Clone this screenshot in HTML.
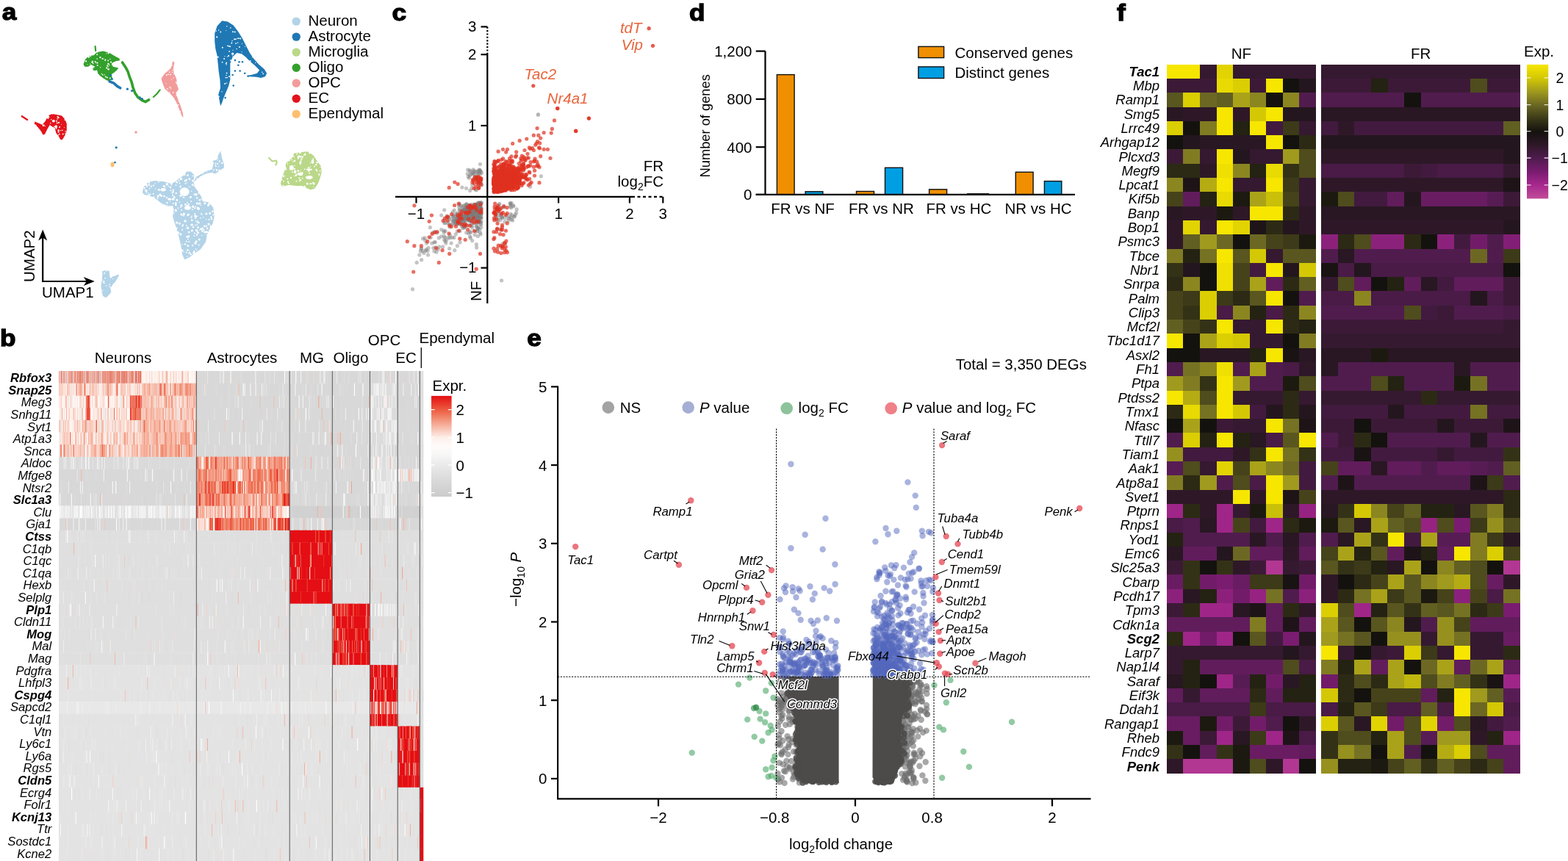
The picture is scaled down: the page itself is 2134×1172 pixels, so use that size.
<!DOCTYPE html>
<html><head><meta charset="utf-8"><title>Figure</title>
<style>html,body{margin:0;padding:0;background:#fff;overflow:hidden;}svg{display:block;font-family:"Liberation Sans",Arial,Helvetica,sans-serif;}</style>
</head><body>
<svg width="2134" height="1172" viewBox="0 0 2134 1172">
<rect width="2134" height="1172" fill="#fff"/>
<g id="pa">
<text transform="translate(2.8,26.8) scale(1.1,1)" font-size="32" font-weight="bold" stroke="#000" stroke-width="1.3">a</text>
<polygon points="193.8,261.8 196,253.8 201.8,248 210.5,245.9 223.5,247.3 233.7,250.2 239.5,246.6 243.8,243 251.1,237.9 254,233.5 259.8,233.5 264.1,237.9 263.4,248 265.6,255.3 269.9,261.1 274.3,268.3 275.7,274.1 284.5,275.6 290.3,282.8 291.7,294.5 289.5,304.6 284.5,313.3 281.6,320.6 280.1,329.3 272.8,339.4 264.1,345.2 256.9,351 251.1,353.2 248.2,346.7 246.7,336.5 243.8,323.5 240.9,313.3 238,304.6 235.1,294.5 236.6,285.7 235.1,279.9 227.9,280.7 222.1,278.5 216.3,274.1 209,268.3 201.8,266.2 196,264.7" fill="#b3d3e8"/>
<polygon points="263.4,248 267,240.8 274.3,236.4 281.6,232.8 288.8,230.6 290.3,223.4 289.5,219 294.6,217.6 297.5,210.3 300.4,205.2 301.9,214.7 304.8,223.4 304.8,228.4 299,232.1 293.2,236.4 287.4,235 280.1,236.4 272.8,240.1 267,245.1" fill="#b3d3e8"/>
<g fill="#fff"><circle cx="254.8" cy="322.3" r="1.5"/><circle cx="257.3" cy="341.3" r="0.8"/><circle cx="239.7" cy="263" r="1.2"/><circle cx="215" cy="267" r="1.6"/><circle cx="254.2" cy="248.7" r="0.7"/><circle cx="287.9" cy="298.1" r="1.4"/><circle cx="229.2" cy="253.4" r="0.8"/><circle cx="260.2" cy="274" r="1"/><circle cx="273.9" cy="291.1" r="1"/><circle cx="270.9" cy="277.3" r="1.3"/><circle cx="227.5" cy="276" r="1.2"/><circle cx="267.1" cy="328.9" r="1.6"/><circle cx="253.6" cy="343.4" r="1"/><circle cx="284.3" cy="298.8" r="1"/><circle cx="224.8" cy="254.8" r="0.8"/><circle cx="246" cy="282.1" r="0.9"/><circle cx="251.9" cy="332.4" r="1.2"/><circle cx="286.8" cy="309" r="1.5"/><circle cx="289.4" cy="287.8" r="1.2"/><circle cx="265.2" cy="290.9" r="1"/><circle cx="233.3" cy="251.1" r="1.1"/><circle cx="255.2" cy="293.3" r="1"/><circle cx="202.5" cy="266.1" r="1.5"/><circle cx="278.7" cy="276.8" r="1.5"/><circle cx="269.7" cy="316.7" r="1.4"/><circle cx="268.2" cy="277" r="1.4"/><circle cx="269.2" cy="316.2" r="1"/><circle cx="247.3" cy="263.5" r="1.4"/><circle cx="257.2" cy="329" r="1"/><circle cx="256.9" cy="321.8" r="1.5"/><circle cx="279" cy="315.9" r="1.7"/><circle cx="287.4" cy="295.5" r="1.2"/><circle cx="285.6" cy="290.6" r="1.4"/><circle cx="264.3" cy="320.9" r="0.9"/><circle cx="270.2" cy="303" r="1.4"/><circle cx="269.6" cy="309.7" r="1.4"/><circle cx="255.6" cy="238.5" r="1.2"/><circle cx="211.6" cy="256.7" r="0.7"/><circle cx="239.3" cy="279" r="1.3"/><circle cx="251.6" cy="262" r="1.6"/><circle cx="253.9" cy="244.9" r="1.2"/><circle cx="256.7" cy="277.7" r="0.8"/><circle cx="252.1" cy="301" r="1.7"/><circle cx="249.2" cy="307.1" r="0.8"/><circle cx="255.4" cy="340.2" r="1.1"/><circle cx="236.1" cy="260.6" r="1"/><circle cx="252.1" cy="264.6" r="1.7"/><circle cx="242.4" cy="283.3" r="1"/><circle cx="290.2" cy="292.4" r="1"/><circle cx="240.5" cy="248.1" r="1.3"/><circle cx="237.2" cy="268.6" r="1.5"/><circle cx="245.9" cy="266.3" r="1.6"/><circle cx="270.4" cy="262.9" r="1"/><circle cx="240.3" cy="310.7" r="1.3"/><circle cx="268.2" cy="269.5" r="1.2"/><circle cx="226.7" cy="269" r="1.2"/><circle cx="239.3" cy="276.7" r="1.4"/><circle cx="251.6" cy="237.9" r="1"/><circle cx="280.7" cy="298.8" r="0.7"/><circle cx="270" cy="284.7" r="1.3"/><circle cx="263.1" cy="309.2" r="1.2"/><circle cx="283.1" cy="279.7" r="1.1"/><circle cx="261.8" cy="285.3" r="1"/><circle cx="247.6" cy="293.1" r="1"/><circle cx="271.3" cy="312.9" r="0.7"/><circle cx="253.6" cy="283.1" r="0.9"/><circle cx="254.7" cy="238.7" r="0.8"/><circle cx="266.5" cy="338.7" r="0.8"/><circle cx="236.1" cy="271.2" r="1.3"/><circle cx="262.1" cy="251.6" r="1.3"/><circle cx="248.1" cy="307.8" r="1"/><circle cx="247.8" cy="263.9" r="1.5"/><circle cx="244.4" cy="249.5" r="0.9"/><circle cx="257.9" cy="243.7" r="1.4"/><circle cx="202.7" cy="248.5" r="1.3"/><circle cx="240.8" cy="272.2" r="1.5"/><circle cx="199" cy="251.6" r="1.7"/><circle cx="260.5" cy="260.2" r="0.8"/><circle cx="255" cy="275.9" r="0.9"/><circle cx="227.9" cy="279.7" r="0.8"/><circle cx="275.2" cy="311.1" r="1.5"/><circle cx="244.5" cy="304.5" r="1.3"/><circle cx="266.3" cy="280.9" r="0.8"/><circle cx="197" cy="257.7" r="0.7"/><circle cx="280.9" cy="291.1" r="1.5"/><circle cx="280.9" cy="307.7" r="1.1"/><circle cx="208.9" cy="252.6" r="1.1"/><circle cx="208.7" cy="263.9" r="1"/><circle cx="209.6" cy="267.9" r="0.9"/><circle cx="284.3" cy="277.7" r="1.6"/><circle cx="261.1" cy="314.2" r="1.2"/><circle cx="259.3" cy="268.4" r="1.4"/><circle cx="229.5" cy="270.8" r="1.2"/><circle cx="264.1" cy="253.1" r="0.9"/><circle cx="259.6" cy="346.1" r="1.3"/><circle cx="270.1" cy="282.6" r="0.7"/><circle cx="244.6" cy="275.4" r="0.8"/><circle cx="199" cy="262.7" r="0.8"/><circle cx="284" cy="305.1" r="1.6"/><circle cx="246.6" cy="291.8" r="1.3"/><circle cx="264.8" cy="342.8" r="1"/><circle cx="215.7" cy="247.4" r="1"/><circle cx="274" cy="271" r="0.8"/><circle cx="201.8" cy="262.8" r="0.8"/><circle cx="262.4" cy="239.3" r="0.9"/><circle cx="221.8" cy="278.3" r="0.8"/><circle cx="235" cy="271.1" r="1.5"/><circle cx="248.2" cy="340.8" r="1.4"/><circle cx="268.2" cy="302.3" r="1.1"/><circle cx="273.8" cy="312" r="1.7"/><circle cx="265.1" cy="317.4" r="1"/><circle cx="273.3" cy="279.3" r="0.8"/><circle cx="200.2" cy="253.8" r="1"/><circle cx="260" cy="267.7" r="0.8"/><circle cx="268.6" cy="300.2" r="0.7"/><circle cx="286.7" cy="306.8" r="0.9"/><circle cx="235.8" cy="276.9" r="1"/><circle cx="274.8" cy="320.5" r="0.8"/><circle cx="245.7" cy="254" r="1.4"/><circle cx="238.9" cy="285.5" r="1.1"/><circle cx="252.1" cy="245.9" r="1.5"/><circle cx="250.3" cy="291.2" r="1.6"/><circle cx="232.2" cy="259.3" r="1"/><circle cx="254.3" cy="281.5" r="0.8"/><circle cx="275.2" cy="292.2" r="0.7"/><circle cx="264.1" cy="341.3" r="0.9"/><circle cx="271.8" cy="272.3" r="1.4"/><circle cx="278.3" cy="308.1" r="1.5"/><circle cx="243.9" cy="303.7" r="0.9"/><circle cx="231.9" cy="271.5" r="0.7"/><circle cx="224.3" cy="279.3" r="1.2"/><circle cx="262.7" cy="281.3" r="1.7"/><circle cx="261.6" cy="313.7" r="1.2"/><circle cx="272" cy="276.9" r="1.3"/><circle cx="260.3" cy="296" r="1"/><circle cx="268.2" cy="319" r="1"/><circle cx="267.6" cy="313.7" r="1.7"/><circle cx="281.6" cy="315.8" r="1.5"/><circle cx="266.1" cy="306.6" r="0.9"/><circle cx="247" cy="280.6" r="0.7"/><circle cx="232" cy="254.8" r="1.4"/><circle cx="253.9" cy="279.8" r="0.8"/><circle cx="261.2" cy="299.8" r="1.4"/><circle cx="214.6" cy="270.1" r="1"/><circle cx="254.7" cy="340.9" r="0.9"/><circle cx="255.8" cy="325.3" r="0.9"/><circle cx="265.1" cy="283.4" r="1.1"/><circle cx="223.4" cy="267.1" r="1.3"/><circle cx="248.9" cy="305.7" r="0.9"/><circle cx="257.1" cy="316.1" r="1.4"/><circle cx="257" cy="344.4" r="0.9"/><circle cx="262" cy="334.1" r="1.2"/><circle cx="203.7" cy="256.7" r="0.9"/><circle cx="202.9" cy="251.7" r="1.3"/><circle cx="265.9" cy="331.2" r="1.5"/><circle cx="263.6" cy="344.1" r="1.7"/><circle cx="255" cy="349" r="0.8"/><circle cx="252.3" cy="278.3" r="1.4"/><circle cx="268.2" cy="319.8" r="1"/><circle cx="283.7" cy="279.3" r="1"/><circle cx="242.6" cy="316.9" r="1.5"/><circle cx="250.2" cy="268.9" r="1"/><circle cx="276.8" cy="295.7" r="0.8"/><circle cx="235" cy="262" r="1.4"/><circle cx="201" cy="266" r="0.8"/><circle cx="246.8" cy="279.8" r="1.6"/><circle cx="268.8" cy="276.7" r="0.7"/><circle cx="199" cy="259.7" r="1.7"/><circle cx="237.1" cy="290" r="0.8"/><circle cx="261.1" cy="294.3" r="0.8"/><circle cx="282.1" cy="310.7" r="1.3"/><circle cx="269.1" cy="283" r="1.6"/><circle cx="267.8" cy="340.3" r="0.8"/><circle cx="270.3" cy="284" r="1.7"/><circle cx="235" cy="265.9" r="1.2"/><circle cx="205.9" cy="253.8" r="1.2"/><circle cx="252.4" cy="249.8" r="0.9"/><circle cx="196.8" cy="255.6" r="1.1"/><circle cx="256.8" cy="278.4" r="1.1"/><circle cx="240.6" cy="303.1" r="1.7"/><circle cx="253.6" cy="328.4" r="0.8"/><circle cx="231.5" cy="274.9" r="0.7"/><circle cx="257.9" cy="344.2" r="1.1"/><circle cx="245.7" cy="318.9" r="1.6"/><circle cx="223.3" cy="253.5" r="1.6"/><circle cx="265.9" cy="296.8" r="1.1"/><circle cx="247.8" cy="332.8" r="0.8"/><circle cx="249.2" cy="258.3" r="1.2"/><circle cx="227.3" cy="250.7" r="1.7"/><circle cx="219.6" cy="266.5" r="1.5"/><circle cx="266.4" cy="264.9" r="1.5"/><circle cx="255.1" cy="280" r="1.3"/><circle cx="217.8" cy="265" r="1.6"/><circle cx="211.1" cy="250" r="0.8"/><circle cx="266.2" cy="300.7" r="0.7"/><circle cx="253.6" cy="306.8" r="0.9"/><circle cx="281.1" cy="319.8" r="0.8"/><circle cx="256.8" cy="334.5" r="0.8"/><circle cx="267.7" cy="264.5" r="1"/><circle cx="239.4" cy="252.1" r="0.9"/><circle cx="257.5" cy="254.4" r="0.8"/><circle cx="241.9" cy="315.8" r="1.1"/><circle cx="249.9" cy="342.7" r="0.8"/><circle cx="248.2" cy="312.8" r="1.1"/><circle cx="270.6" cy="333.6" r="1"/><circle cx="204.3" cy="264.5" r="1.1"/><circle cx="255.4" cy="310.2" r="1.7"/><circle cx="255.7" cy="334.6" r="1.3"/><circle cx="264.7" cy="264.7" r="1.1"/><circle cx="243.4" cy="246" r="1.1"/><circle cx="249.1" cy="268.2" r="0.8"/><circle cx="286.4" cy="289.3" r="0.8"/><circle cx="246.4" cy="243.5" r="1.7"/><circle cx="246.9" cy="285.9" r="1"/><circle cx="235.7" cy="258.6" r="1.2"/><circle cx="283.7" cy="279.2" r="1.3"/><circle cx="273.2" cy="296.8" r="0.8"/><circle cx="239.4" cy="286.6" r="1.6"/><circle cx="250" cy="293.4" r="1"/><circle cx="266.7" cy="264.2" r="1.2"/><circle cx="268.1" cy="305.9" r="0.8"/><circle cx="262.2" cy="246.1" r="1.3"/><circle cx="256.4" cy="292" r="1.6"/><circle cx="267.9" cy="320.7" r="0.7"/><circle cx="277.3" cy="312.7" r="1.1"/><circle cx="275.8" cy="314.4" r="1"/><circle cx="265.4" cy="294" r="1.4"/><circle cx="253.9" cy="328.8" r="0.9"/><circle cx="271.2" cy="325.9" r="1.5"/><circle cx="240.6" cy="247.8" r="0.9"/></g>
<g fill="#fff"><circle cx="290.3" cy="221.7" r="1"/><circle cx="276.1" cy="236.7" r="0.8"/><circle cx="281.8" cy="234.6" r="0.6"/><circle cx="295.1" cy="231.9" r="1.1"/><circle cx="298.6" cy="231.7" r="0.6"/><circle cx="293.6" cy="221.9" r="0.7"/><circle cx="296.2" cy="223" r="1"/><circle cx="292.9" cy="224.2" r="0.7"/><circle cx="298.2" cy="220.9" r="0.7"/><circle cx="290.9" cy="230.7" r="0.7"/><circle cx="293.6" cy="222.7" r="0.8"/><circle cx="299.1" cy="219.3" r="1"/><circle cx="297.4" cy="226.7" r="0.8"/><circle cx="290.6" cy="231.6" r="0.8"/><circle cx="300.8" cy="208.1" r="0.6"/><circle cx="298.2" cy="231.7" r="1.1"/><circle cx="268" cy="243.1" r="0.8"/><circle cx="302.3" cy="221.9" r="1.1"/><circle cx="301.9" cy="222.4" r="0.8"/><circle cx="296" cy="214.7" r="0.9"/><circle cx="295.8" cy="216.1" r="0.7"/><circle cx="294.2" cy="230.6" r="0.8"/><circle cx="296.1" cy="217.9" r="0.7"/><circle cx="293.7" cy="226.1" r="1.1"/><circle cx="289.4" cy="234.8" r="0.6"/></g>
<ellipse cx="251.1" cy="261.1" rx="6.5" ry="5.8" fill="#fff"/>
<ellipse cx="222.1" cy="258.2" rx="3.6" ry="2.2" fill="#fff"/>
<ellipse cx="255.4" cy="282.8" rx="4.4" ry="2.9" fill="#fff"/>
<ellipse cx="261.2" cy="306.1" rx="2.2" ry="1.5" fill="#fff"/>
<ellipse cx="230.8" cy="271.2" rx="2.2" ry="1.7" fill="#fff"/>
<ellipse cx="216.3" cy="258.2" rx="1.5" ry="1.5" fill="#fff"/>
<ellipse cx="267" cy="294.5" rx="1.7" ry="1.5" fill="#fff"/>
<ellipse cx="275.7" cy="314.8" rx="1.5" ry="1.2" fill="#fff"/>
<polygon points="138.9,369.3 143,368.3 148.7,368.8 149.2,375.5 150.7,379.1 153.3,376.5 156.9,375.5 161,373.4 162,375 159.9,378.6 156.9,383.7 153.8,386.7 151.7,390.3 149.7,390.8 150.7,393.9 151.2,398 148.7,401.1 145.6,404.2 143.6,404.9 140,403.1 138.9,398.5 137.9,391.9 137.4,389.8 138.4,383.7 138.9,377.5 139.5,372.9" fill="#b3d3e8"/>
<g fill="#fff"><circle cx="142" cy="385.4" r="0.8"/><circle cx="139.7" cy="395.5" r="0.7"/><circle cx="149.1" cy="387.4" r="0.9"/><circle cx="144.8" cy="388.8" r="0.8"/><circle cx="153.5" cy="379.7" r="0.6"/><circle cx="149" cy="390.3" r="0.8"/><circle cx="140.7" cy="384.6" r="0.8"/><circle cx="142.2" cy="372.1" r="1"/><circle cx="144.7" cy="369.5" r="0.6"/><circle cx="141.4" cy="383" r="1"/><circle cx="139.4" cy="381.2" r="0.8"/><circle cx="143" cy="378.6" r="0.9"/></g>
<polygon points="302.2,28.3 309.9,29.4 317.7,34.4 324.3,43.3 329.9,52.2 335.4,63.2 339.9,72.1 345.4,79.9 352.1,87.6 359.8,94.3 363.1,99.8 360.9,104.3 355.4,105.9 348.7,104.8 339.9,104.3 335.4,103.1 342.1,102 349.8,99.8 353.2,95.4 346.5,88.7 339.9,83.2 334.3,77.6 328.8,73.2 322.1,72.1 316.6,77.6 313.3,86.5 313.3,97.6 313.3,108.7 311,117.6 307.7,125.3 304.4,133.1 302.2,139.7 300,144.2 298.8,137.5 297.2,128.6 300,119.8 299.4,108.7 297.7,97.6 296.6,86.5 295.5,75.4 293.3,66.6 292.2,56.6 292.2,45.5 295.5,35.5" fill="#1f78b4"/>
<g fill="#fff"><circle cx="323.6" cy="58.2" r="0.8"/><circle cx="308.6" cy="99.5" r="0.9"/><circle cx="308.3" cy="85.3" r="0.8"/><circle cx="302.6" cy="84.7" r="0.9"/><circle cx="296.8" cy="77.7" r="1"/><circle cx="295.2" cy="50.4" r="1.1"/><circle cx="311.9" cy="62.9" r="1"/><circle cx="309.3" cy="105.6" r="0.8"/><circle cx="315.5" cy="58.3" r="0.7"/><circle cx="302.8" cy="64.8" r="1"/><circle cx="309.9" cy="62.3" r="0.9"/><circle cx="329.4" cy="59.5" r="0.6"/><circle cx="314" cy="82.3" r="1"/><circle cx="313.8" cy="37.9" r="0.8"/><circle cx="325.9" cy="64" r="1"/><circle cx="309.5" cy="77.3" r="0.6"/><circle cx="329.2" cy="70.8" r="0.6"/><circle cx="294.3" cy="42.3" r="0.7"/><circle cx="316.1" cy="55.4" r="0.7"/><circle cx="327.2" cy="52.6" r="1"/><circle cx="298.2" cy="131.5" r="0.8"/><circle cx="295.8" cy="77.6" r="1"/><circle cx="308.8" cy="35.7" r="0.8"/><circle cx="305.1" cy="79.9" r="1"/><circle cx="312" cy="104.3" r="1"/><circle cx="316.9" cy="68.3" r="0.6"/><circle cx="308.2" cy="88.1" r="0.7"/><circle cx="311.1" cy="76.1" r="1.1"/><circle cx="306.1" cy="114" r="1"/><circle cx="343.4" cy="77.9" r="0.6"/><circle cx="307.8" cy="41.4" r="0.5"/><circle cx="316.9" cy="76.1" r="0.7"/><circle cx="347.6" cy="85.4" r="0.6"/><circle cx="307.9" cy="102.4" r="0.7"/><circle cx="313.3" cy="63.3" r="0.9"/><circle cx="340.5" cy="83.1" r="1.1"/><circle cx="358.2" cy="100.3" r="0.9"/><circle cx="305.9" cy="76.6" r="0.6"/><circle cx="315.5" cy="57.8" r="0.5"/><circle cx="302" cy="124.7" r="0.7"/><circle cx="315.1" cy="59" r="0.7"/><circle cx="297.6" cy="41" r="0.8"/><circle cx="300.3" cy="43.5" r="0.9"/><circle cx="317" cy="43.2" r="1"/><circle cx="319.7" cy="43.6" r="1"/><circle cx="307.5" cy="105.7" r="0.9"/><circle cx="308.4" cy="113" r="0.8"/><circle cx="333.4" cy="63.3" r="0.6"/><circle cx="356.7" cy="98.3" r="0.8"/><circle cx="321.1" cy="59.2" r="0.9"/></g>
<ellipse cx="319.9" cy="53.3" rx="2.2" ry="0.9" fill="#fff"/>
<ellipse cx="324.3" cy="52.2" rx="2" ry="0.7" fill="#fff"/>
<ellipse cx="316.6" cy="73.2" rx="1.6" ry="1.6" fill="#fff"/>
<ellipse cx="312.2" cy="69.9" rx="0.9" ry="0.9" fill="#fff"/>
<ellipse cx="307.7" cy="86.5" rx="0.9" ry="0.9" fill="#fff"/>
<ellipse cx="322.1" cy="66.6" rx="0.9" ry="0.7" fill="#fff"/>
<circle cx="319.9" cy="82.1" r="1.3" fill="#1f78b4"/>
<circle cx="324.3" cy="88.7" r="1.3" fill="#1f78b4"/>
<circle cx="326.6" cy="96.5" r="1.3" fill="#1f78b4"/>
<circle cx="319.9" cy="96.5" r="1.3" fill="#1f78b4"/>
<circle cx="316.6" cy="102" r="1.3" fill="#1f78b4"/>
<circle cx="333.2" cy="99.8" r="1.3" fill="#1f78b4"/>
<circle cx="337.6" cy="103.7" r="1.3" fill="#1f78b4"/>
<circle cx="325.5" cy="84.3" r="1.3" fill="#1f78b4"/>
<circle cx="329.9" cy="84.3" r="1.3" fill="#1f78b4"/>
<circle cx="317.7" cy="116.5" r="1.3" fill="#1f78b4"/>
<circle cx="306.6" cy="133.1" r="1.3" fill="#1f78b4"/>
<polygon points="113.5,87.4 116.3,80.4 121,76.1 127.5,75.2 132.2,71 140.7,69.6 149.1,71.9 156.6,76.6 162.3,79.4 163.2,82.2 157.6,83.2 151.9,86 153.8,90.7 161.3,92.6 157.6,97.3 151.9,101 152.9,107.6 149.1,110.4 145.4,109.5 140.7,106.6 136,102.9 133.2,100.1 132.2,95.4 127.5,96.3 125.7,93.5 129.4,90.7 123.8,87.9 120,90.7 115.3,90.7" fill="#33a02c"/>
<g fill="#fff"><circle cx="132.7" cy="71.1" r="0.6"/><circle cx="146.1" cy="89.6" r="1.1"/><circle cx="129.7" cy="83.9" r="1"/><circle cx="147.3" cy="86.9" r="1.1"/><circle cx="130.3" cy="85.5" r="0.6"/><circle cx="147.5" cy="72.4" r="1.1"/><circle cx="120.7" cy="77.3" r="1.2"/><circle cx="138.3" cy="100.4" r="0.7"/><circle cx="125.5" cy="84.6" r="1.2"/><circle cx="157.4" cy="97.4" r="0.7"/><circle cx="149.8" cy="106.5" r="0.9"/><circle cx="120.9" cy="77.8" r="0.9"/><circle cx="132.1" cy="80.1" r="0.8"/><circle cx="147.1" cy="82.5" r="0.9"/><circle cx="139.7" cy="101.8" r="0.9"/><circle cx="145.2" cy="92.6" r="1.1"/><circle cx="143.8" cy="104.5" r="1"/><circle cx="132.2" cy="74.2" r="1"/><circle cx="148.8" cy="88.8" r="0.7"/><circle cx="136.5" cy="78.1" r="1.2"/><circle cx="132.7" cy="88.9" r="1"/><circle cx="127" cy="93.8" r="0.6"/><circle cx="126.5" cy="83.6" r="0.6"/><circle cx="122.6" cy="87.2" r="0.6"/><circle cx="125.9" cy="83.2" r="0.6"/><circle cx="147.3" cy="90.9" r="0.7"/><circle cx="119.1" cy="87.5" r="0.6"/><circle cx="139.5" cy="80" r="1"/><circle cx="136.5" cy="91.7" r="0.7"/><circle cx="151.1" cy="84.6" r="1.1"/><circle cx="148.7" cy="87.1" r="0.5"/><circle cx="126.8" cy="86.6" r="0.8"/><circle cx="147.6" cy="94.2" r="1.2"/><circle cx="152.8" cy="88.4" r="0.8"/><circle cx="143.2" cy="82.1" r="1"/><circle cx="117.1" cy="83.4" r="1.1"/><circle cx="141.2" cy="80" r="0.6"/><circle cx="123.1" cy="76.4" r="0.9"/><circle cx="145.8" cy="105.4" r="1"/><circle cx="149.8" cy="80.5" r="0.8"/><circle cx="132.4" cy="85.6" r="1.1"/><circle cx="144.8" cy="72.9" r="0.6"/><circle cx="142.2" cy="101.8" r="0.7"/><circle cx="125.9" cy="85" r="0.8"/><circle cx="143.7" cy="80.9" r="0.7"/></g>
<path d="M129.6,63 L130.2,69.1" fill="none" stroke="#33a02c" stroke-width="2.2" stroke-linecap="round" stroke-linejoin="round"/>
<path d="M166.5,85 L170.7,91.2 L174,97.3 L176.4,104.8 L179,111.3 L180.9,118.8 L183.7,126.4 L187.6,132.2 L193.3,136.5 L198,138.6 L202.7,135.8" fill="none" stroke="#33a02c" stroke-width="3.6" stroke-linecap="round" stroke-linejoin="round"/>
<path d="M208.8,132 L213,128.2 L217.7,122.4" fill="none" stroke="#33a02c" stroke-width="2.2" stroke-linecap="round" stroke-linejoin="round"/>
<path d="M149.1,110.9 L154.8,113.2 L159.5,117.4 L163.7,119.8" fill="none" stroke="#1f78b4" stroke-width="3.6" stroke-linecap="round" stroke-linejoin="round"/>
<circle cx="173.4" cy="121.2" r="1.6" fill="#1f78b4"/>
<circle cx="179.6" cy="123.5" r="1.6" fill="#1f78b4"/>
<circle cx="190.4" cy="132.9" r="1.6" fill="#1f78b4"/>
<circle cx="193.3" cy="134.6" r="1.6" fill="#1f78b4"/>
<circle cx="150.1" cy="102.4" r="1.6" fill="#1f78b4"/>
<circle cx="152.4" cy="107.6" r="1.6" fill="#1f78b4"/>
<polygon points="235,83.2 237.4,85 236,92.6 236.5,99.1 240.2,107.6 241.2,116 243,121.7 239.3,126.4 242.1,134.8 245.8,144.2 248.7,153.6 249.6,159.7 247.7,158.3 244,148.9 240.2,139.5 236.5,132.9 230.8,126.4 224.2,120.7 222.4,116 220,109.5 219.6,106.6 224.2,100.1 228.9,96.3 232.7,92.6 234.1,87.9" fill="#f29b9b"/>
<g fill="#fff"><circle cx="234.8" cy="95.5" r="0.7"/><circle cx="245.6" cy="151.9" r="0.8"/><circle cx="231.1" cy="126" r="0.8"/><circle cx="234.5" cy="98.3" r="0.7"/><circle cx="229.4" cy="101.4" r="0.8"/><circle cx="236.2" cy="106" r="0.7"/><circle cx="235.7" cy="126.2" r="0.8"/><circle cx="226.9" cy="102.1" r="1"/><circle cx="227.4" cy="120.8" r="0.7"/><circle cx="230.7" cy="98.1" r="0.9"/><circle cx="240.8" cy="113.5" r="1"/><circle cx="243.1" cy="137.9" r="0.7"/><circle cx="234.6" cy="88.9" r="0.6"/><circle cx="232.4" cy="118.6" r="0.6"/><circle cx="242.5" cy="143" r="0.9"/><circle cx="232.5" cy="120.7" r="0.7"/><circle cx="233.5" cy="108.1" r="0.7"/><circle cx="231" cy="118.9" r="0.8"/><circle cx="236.9" cy="100.4" r="0.9"/><circle cx="235.9" cy="125" r="0.6"/><circle cx="240.1" cy="130.3" r="0.7"/><circle cx="239.7" cy="111.9" r="0.9"/><circle cx="232.1" cy="101.5" r="0.9"/><circle cx="228.7" cy="121.2" r="0.6"/><circle cx="225.9" cy="113.6" r="0.6"/></g>
<polygon points="66.1,157.1 71.2,154.9 78,156.2 84,157.5 88.3,162.2 90.8,168.2 90.8,177.5 88.3,184.4 84.8,190.3 82.3,189.9 79.7,185.2 76.3,181 74.6,174.1 71.2,172.4 67.8,169.9 64.4,175.8 61,182.7 58.4,183.5 55.8,178.4 51.6,173.3 45.6,167.3 47.3,165.6 54.1,168.2 57.5,169.9 61.8,164.7 63.5,161.3 67.8,159.6" fill="#e3141c"/>
<g fill="#fff"><circle cx="89.1" cy="178.7" r="0.7"/><circle cx="80" cy="166.9" r="1.1"/><circle cx="79.6" cy="179.8" r="1"/><circle cx="59.6" cy="170.5" r="1.1"/><circle cx="46.4" cy="167" r="1"/><circle cx="68.8" cy="167.7" r="0.8"/><circle cx="78.7" cy="158.4" r="0.6"/><circle cx="81" cy="172.9" r="1"/><circle cx="79.6" cy="160.1" r="1.1"/><circle cx="79.4" cy="183.8" r="0.7"/><circle cx="58.9" cy="170.7" r="1.2"/><circle cx="65.4" cy="161" r="1.1"/><circle cx="69.7" cy="162.7" r="0.7"/><circle cx="87.4" cy="173.6" r="0.5"/><circle cx="73.9" cy="172.4" r="0.8"/><circle cx="85.7" cy="182.6" r="1"/><circle cx="78.1" cy="161.9" r="0.8"/><circle cx="88.6" cy="163.1" r="1.1"/><circle cx="83.3" cy="169.3" r="0.5"/><circle cx="77.7" cy="167.5" r="0.9"/><circle cx="80.9" cy="182.6" r="0.9"/><circle cx="71.5" cy="155" r="0.7"/><circle cx="76.5" cy="174.8" r="1"/><circle cx="84.9" cy="177.4" r="0.8"/><circle cx="82.6" cy="177.7" r="0.7"/><circle cx="77" cy="164.7" r="1"/><circle cx="88.8" cy="181.9" r="0.7"/><circle cx="78.3" cy="159.1" r="0.9"/><circle cx="61.2" cy="171.6" r="0.7"/><circle cx="48.8" cy="170.3" r="0.7"/></g>
<ellipse cx="72.9" cy="164.7" rx="2.1" ry="1.7" fill="#fff"/>
<ellipse cx="76.3" cy="172.4" rx="1.7" ry="2.1" fill="#fff"/>
<ellipse cx="70.3" cy="177.5" rx="1.7" ry="2.1" fill="#fff"/>
<ellipse cx="79.7" cy="177.5" rx="1.3" ry="1.3" fill="#fff"/>
<path d="M29.8,158.3 L37.1,162.9" fill="none" stroke="#e3141c" stroke-width="2.4" stroke-linecap="round" stroke-linejoin="round"/>
<circle cx="158.2" cy="200.8" r="1.6" fill="#1f78b4"/>
<ellipse cx="153.1" cy="224" rx="2.6" ry="3.6" fill="#fdbf6f"/>
<circle cx="156.5" cy="221.1" r="1.4" fill="#1f78b4"/>
<circle cx="185" cy="180" r="1.8" fill="#f29b9b"/>
<polygon points="399.8,208.7 407.6,207.5 414.7,206.4 419.5,206.4 426.7,211.7 431.5,218.9 436.8,226.1 437.7,233.8 435.6,242.8 432.7,250 427.9,257.1 422.5,258.3 417.1,255.9 411.2,252.9 402.8,252.9 393.2,251.8 383.7,254.1 381.9,250 383.7,242.8 386.1,235.6 388.5,229.6 389.1,221.9 395.6,216.5 399.2,212.9" fill="#bad889"/>
<g fill="#fff"><circle cx="391.7" cy="223.6" r="0.7"/><circle cx="385" cy="252.8" r="1"/><circle cx="388.6" cy="228.6" r="1.1"/><circle cx="421.6" cy="250.2" r="0.8"/><circle cx="399.5" cy="212.5" r="0.8"/><circle cx="430.2" cy="224.3" r="1.2"/><circle cx="434.3" cy="238.7" r="0.8"/><circle cx="408.7" cy="223.3" r="1"/><circle cx="420.3" cy="232.8" r="1.3"/><circle cx="410.2" cy="216.4" r="1.2"/><circle cx="397" cy="217.4" r="0.9"/><circle cx="409" cy="208" r="0.9"/><circle cx="435.6" cy="232.8" r="0.9"/><circle cx="407.4" cy="242.6" r="1.1"/><circle cx="404.5" cy="236.5" r="0.8"/><circle cx="420" cy="228.4" r="1.2"/><circle cx="401.3" cy="239.5" r="0.8"/><circle cx="409" cy="231.9" r="0.6"/><circle cx="388.9" cy="230.3" r="1.3"/><circle cx="427.2" cy="250.2" r="1.3"/><circle cx="426.2" cy="216.2" r="0.9"/><circle cx="393.6" cy="218.6" r="1.1"/><circle cx="421.2" cy="208.3" r="1.1"/><circle cx="411.5" cy="235.2" r="1.1"/><circle cx="426.4" cy="249.1" r="1.4"/><circle cx="408.2" cy="207.7" r="1.2"/><circle cx="408.7" cy="245.2" r="1.3"/><circle cx="422.8" cy="242.4" r="0.9"/><circle cx="422.4" cy="239.6" r="0.8"/><circle cx="430.4" cy="230.9" r="1.1"/><circle cx="392.9" cy="249.5" r="1"/><circle cx="423.3" cy="250.1" r="1.1"/><circle cx="414.6" cy="230.4" r="0.8"/><circle cx="426.5" cy="254.2" r="0.6"/><circle cx="401" cy="218.9" r="1.3"/><circle cx="414.4" cy="254.3" r="0.8"/><circle cx="403.1" cy="238.4" r="1.3"/><circle cx="405.8" cy="216" r="0.9"/><circle cx="418.2" cy="250.2" r="1.4"/><circle cx="405.8" cy="232.6" r="1.4"/><circle cx="422.3" cy="227.1" r="0.8"/><circle cx="422.7" cy="221.5" r="0.8"/><circle cx="395.9" cy="242" r="1.2"/><circle cx="434.2" cy="237" r="1"/><circle cx="400.5" cy="214.3" r="0.7"/><circle cx="383.4" cy="244.4" r="1"/><circle cx="427.7" cy="249.8" r="0.6"/><circle cx="399" cy="220.1" r="0.8"/><circle cx="400.9" cy="229.9" r="1.1"/><circle cx="398" cy="234.3" r="0.9"/><circle cx="413.7" cy="211.2" r="0.9"/><circle cx="421.2" cy="235.8" r="0.9"/><circle cx="404.1" cy="209.6" r="1"/><circle cx="427.9" cy="226.5" r="1"/><circle cx="391.3" cy="243.4" r="1"/><circle cx="403.4" cy="246.5" r="0.9"/><circle cx="386.2" cy="239.7" r="1.3"/><circle cx="431.4" cy="232.8" r="1"/><circle cx="414.7" cy="253.9" r="1.2"/><circle cx="436" cy="227.5" r="0.7"/><circle cx="400.9" cy="225.4" r="0.7"/><circle cx="391.2" cy="222" r="0.8"/><circle cx="407.7" cy="246.7" r="0.7"/><circle cx="409.3" cy="213.2" r="1.3"/><circle cx="411.7" cy="213.7" r="1.2"/><circle cx="385.8" cy="246.6" r="0.9"/><circle cx="431.7" cy="221.2" r="1.3"/><circle cx="409.5" cy="218.8" r="1"/><circle cx="405.9" cy="214.4" r="1.1"/><circle cx="411.6" cy="242.7" r="0.9"/></g>
<ellipse cx="396.8" cy="228.5" rx="3" ry="3.6" fill="#fff"/>
<ellipse cx="407" cy="212.9" rx="2.4" ry="1.5" fill="#fff"/>
<ellipse cx="408.8" cy="221.3" rx="1.5" ry="1.8" fill="#fff"/>
<ellipse cx="425.5" cy="220.1" rx="1.8" ry="3" fill="#fff"/>
<ellipse cx="420.7" cy="230.8" rx="4.2" ry="1.2" fill="#fff"/>
<ellipse cx="408.8" cy="236.8" rx="3.6" ry="2.4" fill="#fff"/>
<ellipse cx="420.7" cy="241.6" rx="4.8" ry="2.4" fill="#fff"/>
<ellipse cx="392" cy="247.6" rx="1.2" ry="1.2" fill="#fff"/>
<ellipse cx="415.3" cy="209.9" rx="1.2" ry="1.5" fill="#fff"/>
<ellipse cx="401.6" cy="233.8" rx="1.8" ry="2.4" fill="#fff"/>
<path d="M366.1,215 L370.5,219.5 L375.9,218.6 L376.8,221.6 L375.3,224.6" fill="none" stroke="#bad889" stroke-width="2.2" stroke-linecap="round" stroke-linejoin="round"/>
<circle cx="403.2" cy="29.1" r="5.7" fill="#b3d3e8"/>
<text x="419.5" y="35.2" font-size="20.5">Neuron</text>
<circle cx="403.2" cy="50.1" r="5.7" fill="#1f78b4"/>
<text x="419.5" y="56.2" font-size="20.5">Astrocyte</text>
<circle cx="403.2" cy="71.1" r="5.7" fill="#bad889"/>
<text x="419.5" y="77.2" font-size="20.5">Microglia</text>
<circle cx="403.2" cy="92.2" r="5.7" fill="#33a02c"/>
<text x="419.5" y="98.3" font-size="20.5">Oligo</text>
<circle cx="403.2" cy="113.2" r="5.7" fill="#f29b9b"/>
<text x="419.5" y="119.3" font-size="20.5">OPC</text>
<circle cx="403.2" cy="134.2" r="5.7" fill="#e3141c"/>
<text x="419.5" y="140.3" font-size="20.5">EC</text>
<circle cx="403.2" cy="155.2" r="5.7" fill="#fdbf6f"/>
<text x="419.5" y="161.3" font-size="20.5">Ependymal</text>
<path d="M58.2,384 V322 M57.1,383 H120" stroke="#000" stroke-width="2.2" fill="none"/>
<path d="M58.2,312.5 L52.2,327.5 L58.2,323.5 L64.2,327.5 Z" fill="#000"/>
<path d="M128.8,383 L113.8,377 L117.8,383 L113.8,389 Z" fill="#000"/>
<text x="57" y="405" font-size="20.5">UMAP1</text>
<text x="0" y="0" font-size="20.5" transform="translate(47,384) rotate(-90)">UMAP2</text>
</g>
<g id="pb">
<text transform="translate(0,470.5) scale(1.1,1)" font-size="32" font-weight="bold" stroke="#000" stroke-width="1.3">b</text>
<text x="167.5" y="494" font-size="20.5" text-anchor="middle">Neurons</text>
<text x="329.5" y="494" font-size="20.5" text-anchor="middle">Astrocytes</text>
<text x="424.5" y="494" font-size="20.5" text-anchor="middle">MG</text>
<text x="477.5" y="494" font-size="20.5" text-anchor="middle">Oligo</text>
<text x="523" y="469.5" font-size="20.5" text-anchor="middle">OPC</text>
<text x="552.5" y="494" font-size="20.5" text-anchor="middle">EC</text>
<text x="570.5" y="467" font-size="20.5">Ependymal</text>
<line x1="573.3" y1="473" x2="573.3" y2="501" stroke="#000" stroke-width="1.3"/>
<rect x="80" y="505" width="112.3" height="17.1" fill="#f39a83"/>
<rect x="192.3" y="505" width="75" height="17.1" fill="#fdf0eb"/>
<rect x="267.3" y="505" width="126.9" height="17.1" fill="#d8d8d8"/>
<rect x="394.2" y="505" width="58.1" height="17.1" fill="#d8d8d8"/>
<rect x="452.3" y="505" width="51.1" height="17.1" fill="#d8d8d8"/>
<rect x="503.4" y="505" width="37.8" height="17.1" fill="#d8d8d8"/>
<rect x="541.2" y="505" width="30.1" height="17.1" fill="#d8d8d8"/>
<rect x="571.3" y="505" width="5" height="17.1" fill="#dfdfdf"/>
<rect x="80" y="521.7" width="112.3" height="17.1" fill="#fad4c8"/>
<rect x="192.3" y="521.7" width="75" height="17.1" fill="#f6b19d"/>
<rect x="267.3" y="521.7" width="126.9" height="17.1" fill="#d8d8d8"/>
<rect x="394.2" y="521.7" width="58.1" height="17.1" fill="#d8d8d8"/>
<rect x="452.3" y="521.7" width="51.1" height="17.1" fill="#d8d8d8"/>
<rect x="503.4" y="521.7" width="37.8" height="17.1" fill="#dcdcdc"/>
<rect x="541.2" y="521.7" width="30.1" height="17.1" fill="#d8d8d8"/>
<rect x="571.3" y="521.7" width="5" height="17.1" fill="#dfdfdf"/>
<rect x="80" y="538.3" width="112.3" height="17.1" fill="#fdf0eb"/>
<rect x="192.3" y="538.3" width="75" height="17.1" fill="#f9cdc0"/>
<rect x="267.3" y="538.3" width="126.9" height="17.1" fill="#d8d8d8"/>
<rect x="394.2" y="538.3" width="58.1" height="17.1" fill="#d8d8d8"/>
<rect x="452.3" y="538.3" width="51.1" height="17.1" fill="#d8d8d8"/>
<rect x="503.4" y="538.3" width="37.8" height="17.1" fill="#dcdcdc"/>
<rect x="541.2" y="538.3" width="30.1" height="17.1" fill="#d8d8d8"/>
<rect x="571.3" y="538.3" width="5" height="17.1" fill="#dfdfdf"/>
<rect x="80" y="555" width="112.3" height="17.1" fill="#fce9e2"/>
<rect x="192.3" y="555" width="75" height="17.1" fill="#f8c6b7"/>
<rect x="267.3" y="555" width="126.9" height="17.1" fill="#d8d8d8"/>
<rect x="394.2" y="555" width="58.1" height="17.1" fill="#d8d8d8"/>
<rect x="452.3" y="555" width="51.1" height="17.1" fill="#d8d8d8"/>
<rect x="503.4" y="555" width="37.8" height="17.1" fill="#dcdcdc"/>
<rect x="541.2" y="555" width="30.1" height="17.1" fill="#d8d8d8"/>
<rect x="571.3" y="555" width="5" height="17.1" fill="#dfdfdf"/>
<rect x="80" y="571.7" width="112.3" height="17.1" fill="#fad4c8"/>
<rect x="192.3" y="571.7" width="75" height="17.1" fill="#f7b8a5"/>
<rect x="267.3" y="571.7" width="126.9" height="17.1" fill="#d8d8d8"/>
<rect x="394.2" y="571.7" width="58.1" height="17.1" fill="#d8d8d8"/>
<rect x="452.3" y="571.7" width="51.1" height="17.1" fill="#d8d8d8"/>
<rect x="503.4" y="571.7" width="37.8" height="17.1" fill="#dcdcdc"/>
<rect x="541.2" y="571.7" width="30.1" height="17.1" fill="#d8d8d8"/>
<rect x="571.3" y="571.7" width="5" height="17.1" fill="#dfdfdf"/>
<rect x="80" y="588.4" width="112.3" height="17.1" fill="#fbdbd1"/>
<rect x="192.3" y="588.4" width="75" height="17.1" fill="#f7b8a5"/>
<rect x="267.3" y="588.4" width="126.9" height="17.1" fill="#d8d8d8"/>
<rect x="394.2" y="588.4" width="58.1" height="17.1" fill="#d8d8d8"/>
<rect x="452.3" y="588.4" width="51.1" height="17.1" fill="#d8d8d8"/>
<rect x="503.4" y="588.4" width="37.8" height="17.1" fill="#dcdcdc"/>
<rect x="541.2" y="588.4" width="30.1" height="17.1" fill="#d8d8d8"/>
<rect x="571.3" y="588.4" width="5" height="17.1" fill="#dfdfdf"/>
<rect x="80" y="605" width="112.3" height="17.1" fill="#f8c6b7"/>
<rect x="192.3" y="605" width="75" height="17.1" fill="#f5aa94"/>
<rect x="267.3" y="605" width="126.9" height="17.1" fill="#d8d8d8"/>
<rect x="394.2" y="605" width="58.1" height="17.1" fill="#d8d8d8"/>
<rect x="452.3" y="605" width="51.1" height="17.1" fill="#d8d8d8"/>
<rect x="503.4" y="605" width="37.8" height="17.1" fill="#d8d8d8"/>
<rect x="541.2" y="605" width="30.1" height="17.1" fill="#d8d8d8"/>
<rect x="571.3" y="605" width="5" height="17.1" fill="#dfdfdf"/>
<rect x="80" y="621.7" width="187.3" height="17.1" fill="#dadada"/>
<rect x="267.3" y="621.7" width="126.9" height="17.1" fill="#f4a28b"/>
<rect x="394.2" y="621.7" width="58.1" height="17.1" fill="#d8d8d8"/>
<rect x="452.3" y="621.7" width="51.1" height="17.1" fill="#d8d8d8"/>
<rect x="503.4" y="621.7" width="37.8" height="17.1" fill="#dddddd"/>
<rect x="541.2" y="621.7" width="30.1" height="17.1" fill="#d8d8d8"/>
<rect x="571.3" y="621.7" width="5" height="17.1" fill="#dfdfdf"/>
<rect x="80" y="638.4" width="187.3" height="17.1" fill="#d8d8d8"/>
<rect x="267.3" y="638.4" width="126.9" height="17.1" fill="#f18b72"/>
<rect x="394.2" y="638.4" width="58.1" height="17.1" fill="#d8d8d8"/>
<rect x="452.3" y="638.4" width="51.1" height="17.1" fill="#d8d8d8"/>
<rect x="503.4" y="638.4" width="37.8" height="17.1" fill="#dddddd"/>
<rect x="541.2" y="638.4" width="30.1" height="17.1" fill="#e0e0e0"/>
<rect x="571.3" y="638.4" width="5" height="17.1" fill="#dfdfdf"/>
<rect x="80" y="655" width="187.3" height="17.1" fill="#d8d8d8"/>
<rect x="267.3" y="655" width="126.9" height="17.1" fill="#f18b72"/>
<rect x="394.2" y="655" width="58.1" height="17.1" fill="#d8d8d8"/>
<rect x="452.3" y="655" width="51.1" height="17.1" fill="#d8d8d8"/>
<rect x="503.4" y="655" width="37.8" height="17.1" fill="#dddddd"/>
<rect x="541.2" y="655" width="30.1" height="17.1" fill="#d8d8d8"/>
<rect x="571.3" y="655" width="5" height="17.1" fill="#dfdfdf"/>
<rect x="80" y="671.7" width="187.3" height="17.1" fill="#d8d8d8"/>
<rect x="267.3" y="671.7" width="126.9" height="17.1" fill="#f39a83"/>
<rect x="394.2" y="671.7" width="58.1" height="17.1" fill="#d8d8d8"/>
<rect x="452.3" y="671.7" width="51.1" height="17.1" fill="#d8d8d8"/>
<rect x="503.4" y="671.7" width="37.8" height="17.1" fill="#dddddd"/>
<rect x="541.2" y="671.7" width="30.1" height="17.1" fill="#d8d8d8"/>
<rect x="571.3" y="671.7" width="5" height="17.1" fill="#dfdfdf"/>
<rect x="80" y="688.4" width="187.3" height="17.1" fill="#e0e0e0"/>
<rect x="267.3" y="688.4" width="126.9" height="17.1" fill="#f7bfae"/>
<rect x="394.2" y="688.4" width="58.1" height="17.1" fill="#d1d1d1"/>
<rect x="452.3" y="688.4" width="51.1" height="17.1" fill="#d1d1d1"/>
<rect x="503.4" y="688.4" width="37.8" height="17.1" fill="#dddddd"/>
<rect x="541.2" y="688.4" width="30.1" height="17.1" fill="#d1d1d1"/>
<rect x="571.3" y="688.4" width="5" height="17.1" fill="#dfdfdf"/>
<rect x="80" y="705" width="187.3" height="17.1" fill="#d8d8d8"/>
<rect x="267.3" y="705" width="126.9" height="17.1" fill="#f08369"/>
<rect x="394.2" y="705" width="58.1" height="17.1" fill="#d8d8d8"/>
<rect x="452.3" y="705" width="51.1" height="17.1" fill="#d8d8d8"/>
<rect x="503.4" y="705" width="37.8" height="17.1" fill="#d8d8d8"/>
<rect x="541.2" y="705" width="30.1" height="17.1" fill="#d8d8d8"/>
<rect x="571.3" y="705" width="5" height="17.1" fill="#dfdfdf"/>
<rect x="80" y="721.7" width="187.3" height="17.1" fill="#dfdfdf"/>
<rect x="267.3" y="721.7" width="126.9" height="17.1" fill="#dfdfdf"/>
<rect x="394.2" y="721.7" width="58.1" height="17.1" fill="#e40e14"/>
<rect x="452.3" y="721.7" width="51.1" height="17.1" fill="#dfdfdf"/>
<rect x="503.4" y="721.7" width="37.8" height="17.1" fill="#dfdfdf"/>
<rect x="541.2" y="721.7" width="30.1" height="17.1" fill="#dfdfdf"/>
<rect x="571.3" y="721.7" width="5" height="17.1" fill="#dfdfdf"/>
<rect x="80" y="738.4" width="187.3" height="17.1" fill="#dfdfdf"/>
<rect x="267.3" y="738.4" width="126.9" height="17.1" fill="#dfdfdf"/>
<rect x="394.2" y="738.4" width="58.1" height="17.1" fill="#e40e14"/>
<rect x="452.3" y="738.4" width="51.1" height="17.1" fill="#dfdfdf"/>
<rect x="503.4" y="738.4" width="37.8" height="17.1" fill="#dfdfdf"/>
<rect x="541.2" y="738.4" width="30.1" height="17.1" fill="#dfdfdf"/>
<rect x="571.3" y="738.4" width="5" height="17.1" fill="#dfdfdf"/>
<rect x="80" y="755" width="187.3" height="17.1" fill="#dfdfdf"/>
<rect x="267.3" y="755" width="126.9" height="17.1" fill="#dfdfdf"/>
<rect x="394.2" y="755" width="58.1" height="17.1" fill="#e40e14"/>
<rect x="452.3" y="755" width="51.1" height="17.1" fill="#dfdfdf"/>
<rect x="503.4" y="755" width="37.8" height="17.1" fill="#dfdfdf"/>
<rect x="541.2" y="755" width="30.1" height="17.1" fill="#dfdfdf"/>
<rect x="571.3" y="755" width="5" height="17.1" fill="#dfdfdf"/>
<rect x="80" y="771.7" width="187.3" height="17.1" fill="#dfdfdf"/>
<rect x="267.3" y="771.7" width="126.9" height="17.1" fill="#dfdfdf"/>
<rect x="394.2" y="771.7" width="58.1" height="17.1" fill="#e40e14"/>
<rect x="452.3" y="771.7" width="51.1" height="17.1" fill="#dfdfdf"/>
<rect x="503.4" y="771.7" width="37.8" height="17.1" fill="#dfdfdf"/>
<rect x="541.2" y="771.7" width="30.1" height="17.1" fill="#dfdfdf"/>
<rect x="571.3" y="771.7" width="5" height="17.1" fill="#dfdfdf"/>
<rect x="80" y="788.4" width="187.3" height="17.1" fill="#dfdfdf"/>
<rect x="267.3" y="788.4" width="126.9" height="17.1" fill="#dfdfdf"/>
<rect x="394.2" y="788.4" width="58.1" height="17.1" fill="#e40e14"/>
<rect x="452.3" y="788.4" width="51.1" height="17.1" fill="#dfdfdf"/>
<rect x="503.4" y="788.4" width="37.8" height="17.1" fill="#dfdfdf"/>
<rect x="541.2" y="788.4" width="30.1" height="17.1" fill="#dfdfdf"/>
<rect x="571.3" y="788.4" width="5" height="17.1" fill="#dfdfdf"/>
<rect x="80" y="805.1" width="187.3" height="17.1" fill="#dfdfdf"/>
<rect x="267.3" y="805.1" width="126.9" height="17.1" fill="#dfdfdf"/>
<rect x="394.2" y="805.1" width="58.1" height="17.1" fill="#e40e14"/>
<rect x="452.3" y="805.1" width="51.1" height="17.1" fill="#dfdfdf"/>
<rect x="503.4" y="805.1" width="37.8" height="17.1" fill="#dfdfdf"/>
<rect x="541.2" y="805.1" width="30.1" height="17.1" fill="#dfdfdf"/>
<rect x="571.3" y="805.1" width="5" height="17.1" fill="#dfdfdf"/>
<rect x="80" y="821.7" width="187.3" height="17.1" fill="#dfdfdf"/>
<rect x="267.3" y="821.7" width="126.9" height="17.1" fill="#dfdfdf"/>
<rect x="394.2" y="821.7" width="58.1" height="17.1" fill="#dfdfdf"/>
<rect x="452.3" y="821.7" width="51.1" height="17.1" fill="#e40e14"/>
<rect x="503.4" y="821.7" width="37.8" height="17.1" fill="#dddddd"/>
<rect x="541.2" y="821.7" width="30.1" height="17.1" fill="#dfdfdf"/>
<rect x="571.3" y="821.7" width="5" height="17.1" fill="#dfdfdf"/>
<rect x="80" y="838.4" width="187.3" height="17.1" fill="#dfdfdf"/>
<rect x="267.3" y="838.4" width="126.9" height="17.1" fill="#dfdfdf"/>
<rect x="394.2" y="838.4" width="58.1" height="17.1" fill="#dfdfdf"/>
<rect x="452.3" y="838.4" width="51.1" height="17.1" fill="#e40e14"/>
<rect x="503.4" y="838.4" width="37.8" height="17.1" fill="#dfdfdf"/>
<rect x="541.2" y="838.4" width="30.1" height="17.1" fill="#dfdfdf"/>
<rect x="571.3" y="838.4" width="5" height="17.1" fill="#dfdfdf"/>
<rect x="80" y="855.1" width="187.3" height="17.1" fill="#dfdfdf"/>
<rect x="267.3" y="855.1" width="126.9" height="17.1" fill="#dfdfdf"/>
<rect x="394.2" y="855.1" width="58.1" height="17.1" fill="#dfdfdf"/>
<rect x="452.3" y="855.1" width="51.1" height="17.1" fill="#e40e14"/>
<rect x="503.4" y="855.1" width="37.8" height="17.1" fill="#dfdfdf"/>
<rect x="541.2" y="855.1" width="30.1" height="17.1" fill="#dfdfdf"/>
<rect x="571.3" y="855.1" width="5" height="17.1" fill="#dfdfdf"/>
<rect x="80" y="871.7" width="187.3" height="17.1" fill="#dfdfdf"/>
<rect x="267.3" y="871.7" width="126.9" height="17.1" fill="#dfdfdf"/>
<rect x="394.2" y="871.7" width="58.1" height="17.1" fill="#dfdfdf"/>
<rect x="452.3" y="871.7" width="51.1" height="17.1" fill="#e40e14"/>
<rect x="503.4" y="871.7" width="37.8" height="17.1" fill="#dfdfdf"/>
<rect x="541.2" y="871.7" width="30.1" height="17.1" fill="#dfdfdf"/>
<rect x="571.3" y="871.7" width="5" height="17.1" fill="#dfdfdf"/>
<rect x="80" y="888.4" width="187.3" height="17.1" fill="#dfdfdf"/>
<rect x="267.3" y="888.4" width="126.9" height="17.1" fill="#dfdfdf"/>
<rect x="394.2" y="888.4" width="58.1" height="17.1" fill="#dfdfdf"/>
<rect x="452.3" y="888.4" width="51.1" height="17.1" fill="#e40e14"/>
<rect x="503.4" y="888.4" width="37.8" height="17.1" fill="#dfdfdf"/>
<rect x="541.2" y="888.4" width="30.1" height="17.1" fill="#dfdfdf"/>
<rect x="571.3" y="888.4" width="5" height="17.1" fill="#dfdfdf"/>
<rect x="80" y="905.1" width="187.3" height="17.1" fill="#e3e3e3"/>
<rect x="267.3" y="905.1" width="126.9" height="17.1" fill="#e3e3e3"/>
<rect x="394.2" y="905.1" width="58.1" height="17.1" fill="#e3e3e3"/>
<rect x="452.3" y="905.1" width="51.1" height="17.1" fill="#e3e3e3"/>
<rect x="503.4" y="905.1" width="37.8" height="17.1" fill="#e40e14"/>
<rect x="541.2" y="905.1" width="30.1" height="17.1" fill="#e3e3e3"/>
<rect x="571.3" y="905.1" width="5" height="17.1" fill="#dfdfdf"/>
<rect x="80" y="921.8" width="187.3" height="17.1" fill="#e3e3e3"/>
<rect x="267.3" y="921.8" width="126.9" height="17.1" fill="#e3e3e3"/>
<rect x="394.2" y="921.8" width="58.1" height="17.1" fill="#e3e3e3"/>
<rect x="452.3" y="921.8" width="51.1" height="17.1" fill="#e3e3e3"/>
<rect x="503.4" y="921.8" width="37.8" height="17.1" fill="#e40e14"/>
<rect x="541.2" y="921.8" width="30.1" height="17.1" fill="#e3e3e3"/>
<rect x="571.3" y="921.8" width="5" height="17.1" fill="#dfdfdf"/>
<rect x="80" y="938.4" width="187.3" height="17.1" fill="#e3e3e3"/>
<rect x="267.3" y="938.4" width="126.9" height="17.1" fill="#e3e3e3"/>
<rect x="394.2" y="938.4" width="58.1" height="17.1" fill="#e3e3e3"/>
<rect x="452.3" y="938.4" width="51.1" height="17.1" fill="#e3e3e3"/>
<rect x="503.4" y="938.4" width="37.8" height="17.1" fill="#e40e14"/>
<rect x="541.2" y="938.4" width="30.1" height="17.1" fill="#e3e3e3"/>
<rect x="571.3" y="938.4" width="5" height="17.1" fill="#dfdfdf"/>
<rect x="80" y="955.1" width="187.3" height="17.1" fill="#e8e8e8"/>
<rect x="267.3" y="955.1" width="126.9" height="17.1" fill="#e8e8e8"/>
<rect x="394.2" y="955.1" width="58.1" height="17.1" fill="#e8e8e8"/>
<rect x="452.3" y="955.1" width="51.1" height="17.1" fill="#e8e8e8"/>
<rect x="503.4" y="955.1" width="37.8" height="17.1" fill="#e40e14"/>
<rect x="541.2" y="955.1" width="30.1" height="17.1" fill="#e8e8e8"/>
<rect x="571.3" y="955.1" width="5" height="17.1" fill="#dfdfdf"/>
<rect x="80" y="971.8" width="187.3" height="17.1" fill="#e3e3e3"/>
<rect x="267.3" y="971.8" width="126.9" height="17.1" fill="#e3e3e3"/>
<rect x="394.2" y="971.8" width="58.1" height="17.1" fill="#e3e3e3"/>
<rect x="452.3" y="971.8" width="51.1" height="17.1" fill="#e3e3e3"/>
<rect x="503.4" y="971.8" width="37.8" height="17.1" fill="#e40e14"/>
<rect x="541.2" y="971.8" width="30.1" height="17.1" fill="#e3e3e3"/>
<rect x="571.3" y="971.8" width="5" height="17.1" fill="#dfdfdf"/>
<rect x="80" y="988.4" width="187.3" height="17.1" fill="#e3e3e3"/>
<rect x="267.3" y="988.4" width="126.9" height="17.1" fill="#e3e3e3"/>
<rect x="394.2" y="988.4" width="58.1" height="17.1" fill="#e3e3e3"/>
<rect x="452.3" y="988.4" width="51.1" height="17.1" fill="#e3e3e3"/>
<rect x="503.4" y="988.4" width="37.8" height="17.1" fill="#e3e3e3"/>
<rect x="541.2" y="988.4" width="30.1" height="17.1" fill="#e40e14"/>
<rect x="571.3" y="988.4" width="5" height="17.1" fill="#dfdfdf"/>
<rect x="80" y="1005.1" width="187.3" height="17.1" fill="#e3e3e3"/>
<rect x="267.3" y="1005.1" width="126.9" height="17.1" fill="#e3e3e3"/>
<rect x="394.2" y="1005.1" width="58.1" height="17.1" fill="#e3e3e3"/>
<rect x="452.3" y="1005.1" width="51.1" height="17.1" fill="#e3e3e3"/>
<rect x="503.4" y="1005.1" width="37.8" height="17.1" fill="#e3e3e3"/>
<rect x="541.2" y="1005.1" width="30.1" height="17.1" fill="#e40e14"/>
<rect x="571.3" y="1005.1" width="5" height="17.1" fill="#dfdfdf"/>
<rect x="80" y="1021.8" width="187.3" height="17.1" fill="#e3e3e3"/>
<rect x="267.3" y="1021.8" width="126.9" height="17.1" fill="#e3e3e3"/>
<rect x="394.2" y="1021.8" width="58.1" height="17.1" fill="#e3e3e3"/>
<rect x="452.3" y="1021.8" width="51.1" height="17.1" fill="#e3e3e3"/>
<rect x="503.4" y="1021.8" width="37.8" height="17.1" fill="#e3e3e3"/>
<rect x="541.2" y="1021.8" width="30.1" height="17.1" fill="#e40e14"/>
<rect x="571.3" y="1021.8" width="5" height="17.1" fill="#dfdfdf"/>
<rect x="80" y="1038.4" width="187.3" height="17.1" fill="#e3e3e3"/>
<rect x="267.3" y="1038.4" width="126.9" height="17.1" fill="#e3e3e3"/>
<rect x="394.2" y="1038.4" width="58.1" height="17.1" fill="#e3e3e3"/>
<rect x="452.3" y="1038.4" width="51.1" height="17.1" fill="#e3e3e3"/>
<rect x="503.4" y="1038.4" width="37.8" height="17.1" fill="#e3e3e3"/>
<rect x="541.2" y="1038.4" width="30.1" height="17.1" fill="#e40e14"/>
<rect x="571.3" y="1038.4" width="5" height="17.1" fill="#dfdfdf"/>
<rect x="80" y="1055.1" width="187.3" height="17.1" fill="#e3e3e3"/>
<rect x="267.3" y="1055.1" width="126.9" height="17.1" fill="#e3e3e3"/>
<rect x="394.2" y="1055.1" width="58.1" height="17.1" fill="#e3e3e3"/>
<rect x="452.3" y="1055.1" width="51.1" height="17.1" fill="#e3e3e3"/>
<rect x="503.4" y="1055.1" width="37.8" height="17.1" fill="#e3e3e3"/>
<rect x="541.2" y="1055.1" width="30.1" height="17.1" fill="#e40e14"/>
<rect x="571.3" y="1055.1" width="5" height="17.1" fill="#dfdfdf"/>
<rect x="80" y="1071.8" width="187.3" height="17.1" fill="#e3e3e3"/>
<rect x="267.3" y="1071.8" width="126.9" height="17.1" fill="#e3e3e3"/>
<rect x="394.2" y="1071.8" width="58.1" height="17.1" fill="#e3e3e3"/>
<rect x="452.3" y="1071.8" width="51.1" height="17.1" fill="#e3e3e3"/>
<rect x="503.4" y="1071.8" width="37.8" height="17.1" fill="#e3e3e3"/>
<rect x="541.2" y="1071.8" width="30.1" height="17.1" fill="#e3e3e3"/>
<rect x="571.3" y="1071.8" width="5" height="17.1" fill="#e40e14"/>
<rect x="80" y="1088.5" width="187.3" height="17.1" fill="#e3e3e3"/>
<rect x="267.3" y="1088.5" width="126.9" height="17.1" fill="#e3e3e3"/>
<rect x="394.2" y="1088.5" width="58.1" height="17.1" fill="#e3e3e3"/>
<rect x="452.3" y="1088.5" width="51.1" height="17.1" fill="#e3e3e3"/>
<rect x="503.4" y="1088.5" width="37.8" height="17.1" fill="#e3e3e3"/>
<rect x="541.2" y="1088.5" width="30.1" height="17.1" fill="#e3e3e3"/>
<rect x="571.3" y="1088.5" width="5" height="17.1" fill="#e40e14"/>
<rect x="80" y="1105.1" width="187.3" height="17.1" fill="#e3e3e3"/>
<rect x="267.3" y="1105.1" width="126.9" height="17.1" fill="#e3e3e3"/>
<rect x="394.2" y="1105.1" width="58.1" height="17.1" fill="#e3e3e3"/>
<rect x="452.3" y="1105.1" width="51.1" height="17.1" fill="#e3e3e3"/>
<rect x="503.4" y="1105.1" width="37.8" height="17.1" fill="#e3e3e3"/>
<rect x="541.2" y="1105.1" width="30.1" height="17.1" fill="#e3e3e3"/>
<rect x="571.3" y="1105.1" width="5" height="17.1" fill="#e40e14"/>
<rect x="80" y="1121.8" width="187.3" height="17.1" fill="#e3e3e3"/>
<rect x="267.3" y="1121.8" width="126.9" height="17.1" fill="#e3e3e3"/>
<rect x="394.2" y="1121.8" width="58.1" height="17.1" fill="#e3e3e3"/>
<rect x="452.3" y="1121.8" width="51.1" height="17.1" fill="#e3e3e3"/>
<rect x="503.4" y="1121.8" width="37.8" height="17.1" fill="#e3e3e3"/>
<rect x="541.2" y="1121.8" width="30.1" height="17.1" fill="#e3e3e3"/>
<rect x="571.3" y="1121.8" width="5" height="17.1" fill="#e40e14"/>
<rect x="80" y="1138.5" width="187.3" height="17.1" fill="#e3e3e3"/>
<rect x="267.3" y="1138.5" width="126.9" height="17.1" fill="#e3e3e3"/>
<rect x="394.2" y="1138.5" width="58.1" height="17.1" fill="#e3e3e3"/>
<rect x="452.3" y="1138.5" width="51.1" height="17.1" fill="#e3e3e3"/>
<rect x="503.4" y="1138.5" width="37.8" height="17.1" fill="#e3e3e3"/>
<rect x="541.2" y="1138.5" width="30.1" height="17.1" fill="#e3e3e3"/>
<rect x="571.3" y="1138.5" width="5" height="17.1" fill="#e40e14"/>
<rect x="80" y="1155.1" width="187.3" height="17.1" fill="#e3e3e3"/>
<rect x="267.3" y="1155.1" width="126.9" height="17.1" fill="#e3e3e3"/>
<rect x="394.2" y="1155.1" width="58.1" height="17.1" fill="#e3e3e3"/>
<rect x="452.3" y="1155.1" width="51.1" height="17.1" fill="#e3e3e3"/>
<rect x="503.4" y="1155.1" width="37.8" height="17.1" fill="#e3e3e3"/>
<rect x="541.2" y="1155.1" width="30.1" height="17.1" fill="#e3e3e3"/>
<rect x="571.3" y="1155.1" width="5" height="17.1" fill="#e40e14"/>
<path stroke="#ea9b8b" stroke-width="1" d="M80.5 505v17M133.5 505v17"/>
<path stroke="#ea9b8b" stroke-width="0.7" d="M94.7 505v17M128 505v17M132.6 505v17M160.2 505v17"/>
<path stroke="#ea9b8b" stroke-width="1.3" d="M103.2 505v17M139.2 505v17M141.5 505v17M155.9 505v17"/>
<path stroke="#ea9b8b" stroke-width="1.6" d="M144.6 505v17M154.5 505v17"/>
<path stroke="#ebddde" stroke-width="1.6" d="M81.8 505v17"/>
<path stroke="#ebddde" stroke-width="1.3" d="M85.5 505v17"/>
<path stroke="#ebddde" stroke-width="1" d="M92.9 505v17M171 505v17M186.7 505v17"/>
<path stroke="#e89180" stroke-width="1.6" d="M83.4 505v17M97.2 505v17M143 505v17M148.9 505v17"/>
<path stroke="#e89180" stroke-width="0.7" d="M84.5 505v17M166.5 505v17M190.5 505v17"/>
<path stroke="#e89180" stroke-width="1" d="M86.7 505v17M98.5 505v17M113.1 505v17M131.8 505v17M136.8 505v17M140.4 505v17M167.4 505v17"/>
<path stroke="#e89180" stroke-width="1.3" d="M101.9 505v17M115.2 505v17M151.3 505v17"/>
<path stroke="#ebaea0" stroke-width="1.6" d="M88 505v17"/>
<path stroke="#ebaea0" stroke-width="1.3" d="M95.7 505v17M111.2 505v17M158.2 505v17"/>
<path stroke="#ebaea0" stroke-width="1" d="M107.1 505v17M123.2 505v17"/>
<path stroke="#ebaea0" stroke-width="0.7" d="M145.7 505v17"/>
<path stroke="#f1e4e5" stroke-width="1" d="M89.3 505v17"/>
<path stroke="#f1e4e5" stroke-width="1.3" d="M137.9 505v17"/>
<path stroke="#eba595" stroke-width="1" d="M90.3 505v17M93.9 505v17M147.6 505v17M173.4 505v17"/>
<path stroke="#eba595" stroke-width="0.7" d="M107.9 505v17M124 505v17M153.3 505v17M178.1 505v17M187.5 505v17"/>
<path stroke="#eba595" stroke-width="1.3" d="M121 505v17M177.1 505v17M183.9 505v17"/>
<path stroke="#eba595" stroke-width="1.6" d="M125.9 505v17M129.2 505v17M175.7 505v17"/>
<path stroke="#e3d5d7" stroke-width="1.6" d="M91.6 505v17"/>
<path stroke="#e3d5d7" stroke-width="1" d="M99.5 505v17"/>
<path stroke="#edb6ab" stroke-width="1.3" d="M100.6 505v17"/>
<path stroke="#edb6ab" stroke-width="1" d="M127.2 505v17"/>
<path stroke="#e8dbdc" stroke-width="1" d="M104.4 505v17"/>
<path stroke="#e8dbdc" stroke-width="0.7" d="M124.7 505v17"/>
<path stroke="#e8dbdc" stroke-width="1.6" d="M182.5 505v17"/>
<path stroke="#e67e6b" stroke-width="0.7" d="M105.2 505v17M112.2 505v17M172.5 505v17"/>
<path stroke="#e67e6b" stroke-width="1" d="M152.5 505v17M159.4 505v17M161.1 505v17"/>
<path stroke="#e67e6b" stroke-width="1.3" d="M168.5 505v17"/>
<path stroke="#e67e6b" stroke-width="1.6" d="M180.9 505v17M188.7 505v17"/>
<path stroke="#e78775" stroke-width="1" d="M106.1 505v17M110.1 505v17M134.5 505v17M146.6 505v17M163.4 505v17"/>
<path stroke="#e78775" stroke-width="1.6" d="M118 505v17M119.6 505v17M179.3 505v17"/>
<path stroke="#e78775" stroke-width="1.3" d="M162.2 505v17"/>
<path stroke="#e78775" stroke-width="0.7" d="M189.8 505v17"/>
<path stroke="#e5745f" stroke-width="1.3" d="M108.9 505v17M165.5 505v17M169.8 505v17"/>
<path stroke="#e1d3d4" stroke-width="1" d="M114.1 505v17M122.2 505v17M174.4 505v17"/>
<path stroke="#e1d3d4" stroke-width="1.3" d="M135.6 505v17"/>
<path stroke="#e5d8d9" stroke-width="1.3" d="M116.5 505v17"/>
<path stroke="#ded0d1" stroke-width="1.3" d="M130.6 505v17"/>
<path stroke="#e46a55" stroke-width="1" d="M150.2 505v17"/>
<path stroke="#e46a55" stroke-width="1.6" d="M191.7 505v17"/>
<path stroke="#dfd2d3" stroke-width="1" d="M157.1 505v17"/>
<path stroke="#f2e2e3" stroke-width="1" d="M164.4 505v17"/>
<path stroke="#e2574a" stroke-width="0.7" d="M171.8 505v17"/>
<path stroke="#e2574a" stroke-width="1.6" d="M185.4 505v17"/>
<path stroke="#fce4dc" stroke-width="0.7" d="M192.8 505v17M215.9 505v17M253.7 505v17M88.5 521.7v17M181.3 521.7v17M229.3 521.7v17M340.3 521.7v17M82.3 538.3v17M170.1 538.3v17M112.9 555v17M123.1 555v17M147.9 555v17M238.5 555v17M258.5 555v17M362.7 555v17M88.9 571.7v17M124.9 571.7v17M165.7 571.7v17M180.1 571.7v17M222.9 571.7v17M110.1 588.4v17M149.5 588.4v17M170.8 588.4v17M187.6 588.4v17M110.8 605v17M121.5 605v17M133.6 605v17M168.9 605v17M419.1 621.7v17M546.8 688.4v17M94.1 821.7v17M395.2 855.1v17M403 988.4v17M531.7 1055.1v17M570.2 1138.5v17"/>
<path stroke="#fce4dc" stroke-width="1" d="M199.5 505v17M210.1 505v17M215.1 505v17M83.1 521.7v17M89.4 521.7v17M99.3 521.7v17M100.3 521.7v17M102.3 521.7v17M103.3 521.7v17M118.1 521.7v17M156.9 521.7v17M160.5 521.7v17M165.8 521.7v17M174.8 521.7v17M179.4 521.7v17M185.7 521.7v17M80.5 538.3v17M105.5 538.3v17M139 538.3v17M142.3 538.3v17M217.1 538.3v17M243.5 538.3v17M259.4 538.3v17M81.5 555v17M130 555v17M131.7 555v17M132.7 555v17M150.4 555v17M167.5 555v17M207.9 555v17M232 555v17M237.7 555v17M243.4 555v17M252.4 555v17M120.2 571.7v17M147.7 571.7v17M150.7 571.7v17M183.8 571.7v17M186.1 571.7v17M230 571.7v17M234.2 571.7v17M258.5 571.7v17M81.8 588.4v17M82.8 588.4v17M98.9 588.4v17M117.9 588.4v17M129.1 588.4v17M223.4 588.4v17M261.1 588.4v17M145.7 605v17M164.2 605v17M242.1 605v17M384.9 621.7v17M300 688.4v17M331.7 688.4v17M269.8 705v17M502.4 855.1v17M539.9 955.1v17"/>
<path stroke="#fce4dc" stroke-width="0.5" d="M418.3 505v17M566.7 671.7v17M224.1 738.4v17M316.4 771.7v17M570.1 771.7v17M182 788.4v17M349.9 855.1v17M514.5 855.1v17M562.3 905.1v17M100.8 955.1v17M521.7 1038.4v17M286.9 1088.5v17M353.3 1088.5v17M521.1 1088.5v17"/>
<path stroke="#fce4dc" stroke-width="1.6" d="M86.1 521.7v17M119.4 521.7v17M157.9 538.3v17M221.3 538.3v17M135 555v17M94.2 571.7v17M100.8 571.7v17M166.8 571.7v17M169.7 571.7v17M141.8 588.4v17M241.1 588.4v17M176.7 605v17"/>
<path stroke="#fce4dc" stroke-width="1.3" d="M87.5 521.7v17M138.4 521.7v17M153.4 521.7v17M161.7 521.7v17M183.3 521.7v17M222.7 538.3v17M127.4 555v17M141 555v17M129 571.7v17M96.7 588.4v17M122.3 588.4v17M157.7 588.4v17M188.6 588.4v17"/>
<path stroke="#fce4dc" stroke-width="0.9" d="M278.8 521.7v17M105.2 638.4v17M570.6 671.7v17M422.2 821.7v17M217.2 871.7v17M332.6 871.7v17M233.6 921.8v17M430.3 1005.1v17M192.5 1055.1v17M464.3 1088.5v17M278.9 1105.1v17"/>
<path stroke="#fce4dc" stroke-width="2" d="M363 621.7v17M342.6 638.4v17M291.1 688.4v17M318.9 688.4v17"/>
<path stroke="#fce4dc" stroke-width="1.5" d="M342.1 671.7v17M288.1 688.4v17"/>
<path stroke="#fce4dc" stroke-width="1.2" d="M282.2 688.4v17M271.9 705v17"/>
<path stroke="#fce4dc" stroke-width="0.8" d="M466.3 855.1v17M461.3 888.4v17M510 955.1v17M513.2 955.1v17M543.6 1038.4v17M551.8 1038.4v17"/>
<path stroke="#fce4dc" stroke-width="0.6" d="M481 888.4v17M523.9 955.1v17M536.5 955.1v17M536.1 971.8v17"/>
<path stroke="#fdf3ef" stroke-width="1.6" d="M194 505v17M230.7 505v17M90.7 521.7v17M137 521.7v17M152.4 538.3v17M91.7 555v17M139.6 555v17M149.1 555v17M159.3 571.7v17M259.8 588.4v17M147.7 605v17"/>
<path stroke="#fdf3ef" stroke-width="1" d="M195.3 505v17M204.5 505v17M246.9 505v17M257.2 505v17M182.1 521.7v17M191.4 521.7v17M85.8 538.3v17M86.8 538.3v17M100.9 538.3v17M103.5 538.3v17M151.1 538.3v17M173.7 538.3v17M95.3 555v17M103.3 555v17M124 555v17M154.5 555v17M164.5 555v17M174.5 555v17M241.1 555v17M90.5 571.7v17M89.4 588.4v17M105.4 588.4v17M113.3 588.4v17M305.9 638.4v17M385.6 688.4v17M386.6 688.4v17M387.6 688.4v17M270.8 705v17M459.4 855.1v17M563.1 1038.4v17"/>
<path stroke="#fdf3ef" stroke-width="1.3" d="M200.6 505v17M207.9 505v17M259.6 505v17M116.9 521.7v17M120.8 521.7v17M155.8 521.7v17M84.7 538.3v17M126.1 555v17M176.3 555v17M223.5 555v17M98.7 571.7v17M94.4 588.4v17"/>
<path stroke="#fdf3ef" stroke-width="0.7" d="M201.6 505v17M249.3 505v17M313.5 505v17M563.2 505v17M162.7 521.7v17M130 538.3v17M136.4 538.3v17M106.5 571.7v17M279.3 605v17M569.4 821.7v17M439 838.4v17M548.6 838.4v17M555.3 871.7v17M517.2 888.4v17M416.7 1038.4v17M410.8 1071.8v17M322.5 1105.1v17M491.5 1121.8v17"/>
<path stroke="#fdf3ef" stroke-width="0.9" d="M458.5 505v17M367.8 771.7v17M281.4 821.7v17M124 855.1v17M567.9 871.7v17M534.4 888.4v17M561.5 938.4v17M443.5 955.1v17"/>
<path stroke="#fdf3ef" stroke-width="0.5" d="M383.9 538.3v17M331.5 821.7v17M410.4 821.7v17M338.7 871.7v17M125.4 1005.1v17M421.4 1071.8v17M179.1 1088.5v17M479.1 1155.1v17"/>
<path stroke="#fdf3ef" stroke-width="1.5" d="M346.4 621.7v17M359.2 655v17M351.2 671.7v17"/>
<path stroke="#fdf3ef" stroke-width="1.2" d="M389.5 621.7v17M381.9 655v17M328.2 688.4v17M393.4 688.4v17M548 1021.8v17"/>
<path stroke="#fdf3ef" stroke-width="0.8" d="M326.8 671.7v17M329.2 688.4v17M369 688.4v17M510.6 971.8v17"/>
<path stroke="#fdf3ef" stroke-width="2" d="M364.4 671.7v17M276.6 705v17M368.2 705v17M376.7 705v17"/>
<path stroke="#fdf3ef" stroke-width="0.6" d="M438.1 738.4v17M499 838.4v17M564.1 1055.1v17"/>
<path stroke="#fef6f3" stroke-width="1.6" d="M196.6 505v17M237.9 505v17M155.3 538.3v17M176 538.3v17M145.5 555v17M171.3 571.7v17"/>
<path stroke="#fef6f3" stroke-width="1" d="M205.5 505v17M229.4 505v17M101.3 521.7v17M180.4 521.7v17M192.4 521.7v17M104.5 538.3v17M127.8 538.3v17M143.3 538.3v17M148.8 538.3v17M80.5 555v17M110.5 555v17M114.5 555v17M370.5 705v17M386.4 705v17M523.1 955.1v17"/>
<path stroke="#fef6f3" stroke-width="0.7" d="M213.5 505v17M220.2 505v17M250.7 505v17M93.8 521.7v17M128.6 538.3v17M134 538.3v17M169.4 538.3v17M97.8 555v17M142.7 555v17M226.8 555v17M236.8 555v17M141.6 571.7v17"/>
<path stroke="#fef6f3" stroke-width="1.3" d="M98.8 555v17M112.1 588.4v17M116 588.4v17"/>
<path stroke="#fef6f3" stroke-width="0.8" d="M327.4 638.4v17M358.8 638.4v17M275.2 705v17M512 921.8v17"/>
<path stroke="#fef6f3" stroke-width="2" d="M322.1 655v17"/>
<path stroke="#fef6f3" stroke-width="1.5" d="M379.4 655v17"/>
<path stroke="#fef6f3" stroke-width="1.2" d="M457.9 888.4v17M508.6 938.4v17M518.8 955.1v17M527.8 955.1v17M563.8 1005.1v17"/>
<path stroke="#fef6f3" stroke-width="0.6" d="M513.9 955.1v17"/>
<path stroke="#fdf0eb" stroke-width="1.6" d="M198.2 505v17M212.4 505v17M234 505v17M251.9 505v17M261.8 505v17M264.4 505v17M266 505v17M96 521.7v17M230.5 521.7v17M91.7 538.3v17M102.2 538.3v17M146.2 538.3v17M162.1 538.3v17M107.9 555v17M132.4 588.4v17M136.3 588.4v17M160.9 588.4v17M122.7 605v17M188.8 605v17M217.4 605v17"/>
<path stroke="#fdf0eb" stroke-width="1" d="M211.1 505v17M235.3 505v17M242.2 505v17M243.2 505v17M254.6 505v17M105.3 521.7v17M124.3 521.7v17M154.6 521.7v17M171.5 521.7v17M178.4 521.7v17M81.5 538.3v17M95.3 538.3v17M97.3 538.3v17M116.4 538.3v17M133.2 538.3v17M135.6 538.3v17M166 538.3v17M171.7 538.3v17M231.9 538.3v17M88.4 555v17M96.3 555v17M106.6 555v17M160.4 555v17M163.5 555v17M170.8 555v17M192.8 555v17M97.5 571.7v17M103.1 571.7v17M149.7 571.7v17M203.4 571.7v17M97.9 588.4v17M119.9 588.4v17M184.2 588.4v17M216.8 588.4v17M220.8 588.4v17M118 605v17M151 605v17M201.7 605v17M316.6 621.7v17M278.9 688.4v17M527.1 971.8v17M564.7 988.4v17"/>
<path stroke="#fdf0eb" stroke-width="0.7" d="M214.2 505v17M222.6 505v17M232.8 505v17M314.6 505v17M139.4 521.7v17M204.4 538.3v17M97.1 555v17M130.8 555v17M156.3 555v17M232.8 555v17M402.7 555v17M91.3 571.7v17M127.3 571.7v17M237.1 571.7v17M129.9 588.4v17M181.4 605v17M404.6 605v17M439.6 705v17M518.9 821.7v17M273.9 871.7v17M436.9 905.1v17M124.1 921.8v17M423.2 938.4v17M226.1 1005.1v17M509 1005.1v17M434.2 1021.8v17M304.2 1155.1v17"/>
<path stroke="#fdf0eb" stroke-width="1.3" d="M135.5 521.7v17M94.1 538.3v17M111.5 538.3v17M126.6 538.3v17M149.9 538.3v17M153.8 538.3v17M160.6 538.3v17M251.8 538.3v17M104.4 555v17M175.8 571.7v17M225.9 571.7v17M84.7 588.4v17M100 588.4v17M164.6 588.4v17M218.9 588.4v17M98.5 605v17"/>
<path stroke="#fdf0eb" stroke-width="0.5" d="M542 605v17M444.6 655v17M416.5 671.7v17M528.9 721.7v17M203.4 905.1v17M154.8 1088.5v17M116.8 1138.5v17"/>
<path stroke="#fdf0eb" stroke-width="2" d="M276.2 621.7v17M305 688.4v17"/>
<path stroke="#fdf0eb" stroke-width="1.5" d="M357 621.7v17M342.1 688.4v17M388.8 688.4v17M273.2 705v17"/>
<path stroke="#fdf0eb" stroke-width="0.8" d="M378.8 638.4v17M350.1 671.7v17M274.4 705v17M279.8 705v17M280.6 705v17M283.9 705v17M284.7 705v17M565.8 1038.4v17"/>
<path stroke="#fdf0eb" stroke-width="0.9" d="M564.7 738.4v17M227.3 771.7v17M294.2 821.7v17M289.5 838.4v17M150.2 871.7v17M550.7 871.7v17M86.7 1005.1v17M423.5 1005.1v17M281.4 1021.8v17M486.1 1088.5v17M346 1121.8v17"/>
<path stroke="#fdf0eb" stroke-width="0.6" d="M427.1 805.1v17M513.1 938.4v17"/>
<path stroke="#fdf0eb" stroke-width="1.2" d="M534.4 955.1v17"/>
<path stroke="#f8f8f8" stroke-width="1.3" d="M202.6 505v17M144.9 571.7v17"/>
<path stroke="#f8f8f8" stroke-width="1.2" d="M522.4 505v17M537.4 571.7v17M568.8 588.4v17M511.8 605v17M532.4 605v17M323.9 638.4v17M507.6 638.4v17M473.1 655v17M530.6 655v17M81.8 671.7v17M97.4 671.7v17M90.2 688.4v17M93.8 688.4v17M114.4 688.4v17M124.4 688.4v17M154.8 688.4v17M228.6 688.4v17M244.4 688.4v17M350.7 788.4v17M542.4 838.4v17M450.8 905.1v17M420.4 988.4v17M384.9 1005.1v17M103.2 1105.1v17M430.4 1138.5v17"/>
<path stroke="#f8f8f8" stroke-width="0.6" d="M530.7 505v17M385.2 521.7v17M524.3 521.7v17M444.3 538.3v17M507.3 555v17M503.7 571.7v17M500.6 605v17M514.3 605v17M446.1 621.7v17M529.1 621.7v17M557.9 638.4v17M567.7 638.4v17M81.3 688.4v17M102.7 688.4v17M136.1 688.4v17M194.5 688.4v17M239.1 688.4v17M254.7 688.4v17M255.3 688.4v17M263.5 688.4v17M528.1 688.4v17M530.7 688.4v17M244.5 705v17M86.1 805.1v17M121.9 821.7v17M526.5 821.7v17M530.5 821.7v17M86.5 871.7v17M168.9 888.4v17M262.9 888.4v17M332.8 955.1v17M349.6 971.8v17M512.1 988.4v17M198.3 1005.1v17M233.3 1005.1v17M277.4 1088.5v17"/>
<path stroke="#f8f8f8" stroke-width="1" d="M188.4 521.7v17M241.5 538.3v17M412.3 538.3v17M507.9 538.3v17M532.3 555v17M151.7 571.7v17M537.1 588.4v17M159.6 605v17M326.5 638.4v17M517.3 638.4v17M560.9 638.4v17M148.3 688.4v17M262.7 688.4v17M384.8 771.7v17M516.3 821.7v17M531.3 821.7v17M140.3 838.4v17M138.3 871.7v17M252.1 971.8v17M223.9 1055.1v17M337 1055.1v17M412.5 1055.1v17M185.5 1105.1v17M82.5 1121.8v17M216.5 1155.1v17"/>
<path stroke="#f8f8f8" stroke-width="0.7" d="M236.7 538.3v17M212 555v17M100.2 621.7v17"/>
<path stroke="#f8f8f8" stroke-width="0.8" d="M511.2 538.3v17M564.6 538.3v17M493.1 571.7v17M512.4 588.4v17M367.7 605v17M330.2 638.4v17M549.4 638.4v17M557.2 638.4v17M112.4 655v17M521.2 655v17M138.4 671.7v17M511.4 671.7v17M106.4 688.4v17M112.4 688.4v17M196.4 688.4v17M210 688.4v17M216.8 688.4v17M264.2 688.4v17M100 705v17M116.4 705v17M133 705v17M423.4 705v17M333.1 771.7v17M108 821.7v17M533.8 821.7v17M153.6 838.4v17M282.7 871.7v17M234.8 971.8v17M568.4 971.8v17"/>
<path stroke="#f8f8f8" stroke-width="1.6" d="M266.3 605v17"/>
<path stroke="#f8f8f8" stroke-width="1.5" d="M133 621.7v17M116.7 621.7v17"/>
<path stroke="#f9cdc0" stroke-width="0.7" d="M203.6 505v17M244 505v17M106.1 521.7v17M226.6 521.7v17M122.7 538.3v17M129.3 538.3v17M151.2 555v17M165.3 555v17M168.3 555v17M125.6 571.7v17M146.9 571.7v17M193.6 571.7v17M214.7 571.7v17M238.8 571.7v17M261.1 571.7v17M117 588.4v17M230 588.4v17M82 605v17M89.3 605v17M115.5 605v17M131.6 605v17M135.9 605v17M189.9 605v17M198.8 605v17M259.2 605v17M265.1 605v17M410 838.4v17M205.2 871.7v17M323.5 988.4v17M180.1 1105.1v17M553.8 1105.1v17"/>
<path stroke="#f9cdc0" stroke-width="1.6" d="M225.5 505v17M255.9 505v17M81.8 521.7v17M152 521.7v17M173.5 521.7v17M205.3 521.7v17M206.9 521.7v17M110.1 538.3v17M213.5 538.3v17M94 555v17M121.5 571.7v17M207.9 571.7v17M219.7 571.7v17M246.2 571.7v17M257.2 571.7v17M262.2 571.7v17M93 588.4v17M106.7 588.4v17M190.1 588.4v17M106.5 605v17M108.1 605v17M134.8 605v17M184.2 605v17M211.5 605v17"/>
<path stroke="#f9cdc0" stroke-width="1" d="M232 505v17M240.2 505v17M80.5 521.7v17M84.1 521.7v17M93 521.7v17M114.5 521.7v17M190.4 521.7v17M198.3 521.7v17M199.3 521.7v17M208.9 521.7v17M240.3 521.7v17M242.6 521.7v17M113.7 538.3v17M167 538.3v17M210.2 538.3v17M232.9 538.3v17M248.4 538.3v17M256 538.3v17M172.5 555v17M195.8 555v17M196.8 555v17M229.7 555v17M254.7 555v17M257.7 555v17M261 555v17M80.5 571.7v17M92.2 571.7v17M126.5 571.7v17M146 571.7v17M152.7 571.7v17M172.6 571.7v17M176.9 571.7v17M212.8 571.7v17M235.2 571.7v17M254.3 571.7v17M259.5 571.7v17M91.7 588.4v17M109.3 588.4v17M150.4 588.4v17M151.4 588.4v17M168.4 588.4v17M174.7 588.4v17M152 605v17M155.9 605v17M360.5 655v17M285.7 688.4v17M359.5 688.4v17M407.3 771.7v17"/>
<path stroke="#f9cdc0" stroke-width="1.3" d="M236.4 505v17M111.7 521.7v17M129.6 521.7v17M143.3 521.7v17M176 521.7v17M177.3 521.7v17M194.6 521.7v17M220.3 521.7v17M236.8 521.7v17M83.4 538.3v17M209 538.3v17M219.8 538.3v17M219.6 555v17M109.1 571.7v17M114.7 571.7v17M189.6 571.7v17M221.2 571.7v17M206 588.4v17M244.8 588.4v17M103.4 605v17"/>
<path stroke="#f9cdc0" stroke-width="0.5" d="M267 505v17M497 538.3v17M565.3 738.4v17M167.4 788.4v17M362.8 871.7v17M381.6 905.1v17M556.8 938.4v17M551.2 938.4v17M241.3 955.1v17M520.4 1021.8v17M289.7 1055.1v17M311.2 1071.8v17M525.3 1121.8v17"/>
<path stroke="#f9cdc0" stroke-width="0.9" d="M278.8 505v17M266.8 538.3v17M84.9 688.4v17M388.5 821.7v17M536.2 838.4v17M389 855.1v17M377.3 955.1v17M268.4 1021.8v17M516.4 1071.8v17M293.5 1105.1v17"/>
<path stroke="#f9cdc0" stroke-width="1.5" d="M311.5 621.7v17M302.6 638.4v17M295.6 655v17M329.9 671.7v17M295.1 688.4v17M366 688.4v17M381.3 688.4v17"/>
<path stroke="#f9cdc0" stroke-width="2" d="M344.6 621.7v17M282.9 638.4v17M361 688.4v17"/>
<path stroke="#f9cdc0" stroke-width="1.2" d="M283.4 688.4v17M309.4 688.4v17M358.4 688.4v17M402.4 755v17M509.6 921.8v17M545.2 1005.1v17"/>
<path stroke="#f9cdc0" stroke-width="0.8" d="M423.4 755v17M557 1005.1v17M571.7 1088.5v17"/>
<path stroke="#fad9ce" stroke-width="1.3" d="M206.6 505v17M148.5 521.7v17M184.6 521.7v17M108.6 538.3v17M125.3 538.3v17M237.7 538.3v17M240.3 538.3v17M101.1 555v17M166.3 555v17M211 555v17M249.8 555v17M168.2 571.7v17M239.8 571.7v17M244.8 571.7v17M87 588.4v17M104.2 588.4v17M172.5 588.4v17M179.4 588.4v17M180.7 588.4v17M243.5 588.4v17M85.7 605v17M102.1 605v17M132.6 605v17M154.7 605v17M165.3 605v17M166.6 605v17M190.9 605v17"/>
<path stroke="#fad9ce" stroke-width="1" d="M216.8 505v17M217.8 505v17M239.2 505v17M97.3 521.7v17M128.5 521.7v17M130.8 521.7v17M169.2 521.7v17M250.4 521.7v17M137.3 538.3v17M156.6 538.3v17M174.7 538.3v17M203.6 538.3v17M235.2 538.3v17M242.5 538.3v17M250.7 538.3v17M85.7 555v17M102.3 555v17M105.6 555v17M153.5 555v17M203.9 555v17M240.1 555v17M87.4 571.7v17M130.2 571.7v17M135.4 571.7v17M148.7 571.7v17M153.7 571.7v17M158 571.7v17M164.8 571.7v17M173.6 571.7v17M179.2 571.7v17M241.9 571.7v17M247.5 571.7v17M140.5 588.4v17M144.7 588.4v17M145.7 588.4v17M165.8 588.4v17M191.4 588.4v17M192.4 588.4v17M215.8 588.4v17M113.7 605v17M120 605v17M143.7 605v17M174.7 605v17M193.1 605v17M307.5 688.4v17M346.7 688.4v17M380.1 688.4v17M278.1 705v17M467.8 871.7v17M471.4 871.7v17M522.3 921.8v17M504.9 955.1v17M526.7 955.1v17"/>
<path stroke="#fad9ce" stroke-width="0.7" d="M221.9 505v17M223.3 505v17M250 505v17M253 505v17M426.9 505v17M167.4 521.7v17M200.2 521.7v17M213.4 521.7v17M114.5 538.3v17M141.4 538.3v17M193.9 538.3v17M214.6 538.3v17M257.5 538.3v17M266 538.3v17M87.5 555v17M128.4 555v17M193.6 555v17M197.6 555v17M251.5 555v17M501.7 555v17M85.5 571.7v17M88.2 571.7v17M111.4 571.7v17M128 571.7v17M195.3 571.7v17M124.9 588.4v17M205 588.4v17M262.6 588.4v17M397.8 605v17M502.2 638.4v17M471.8 688.4v17M400.1 821.7v17M304.7 838.4v17M237.8 855.1v17M431.7 871.7v17M416.3 888.4v17M242.2 905.1v17M87.1 921.8v17M429.9 938.4v17M550 938.4v17M526 1005.1v17M441.7 1105.1v17M538.1 1121.8v17M552.4 1121.8v17M296.3 1155.1v17"/>
<path stroke="#fad9ce" stroke-width="0.5" d="M556.5 505v17M423.3 521.7v17M470.5 555v17M474.5 621.7v17M168.2 671.7v17M511.9 688.4v17M320.9 771.7v17M509.1 771.7v17M516.8 788.4v17M517.1 838.4v17M547.4 871.7v17M354.6 905.1v17M549.3 955.1v17M174.5 1021.8v17M122.5 1155.1v17"/>
<path stroke="#fad9ce" stroke-width="1.6" d="M113.2 521.7v17M134.1 521.7v17M140.3 538.3v17M218.4 538.3v17M227.9 538.3v17M169.5 555v17M107.7 571.7v17M134.1 571.7v17M160.9 571.7v17M255.6 571.7v17M134 588.4v17M167.1 588.4v17M178 588.4v17M185.5 588.4v17M203.9 588.4v17M104.9 605v17M160.9 605v17M171.8 605v17M173.4 605v17M245.7 605v17"/>
<path stroke="#fad9ce" stroke-width="0.9" d="M407 555v17M548.2 638.4v17M535.9 671.7v17M375.9 871.7v17M532.4 888.4v17M324.5 921.8v17"/>
<path stroke="#fad9ce" stroke-width="0.8" d="M318.7 621.7v17M299.1 688.4v17M279 705v17M502.9 838.4v17"/>
<path stroke="#fad9ce" stroke-width="0.3" d="M394.1 621.7v17"/>
<path stroke="#fad9ce" stroke-width="1.2" d="M271.6 688.4v17"/>
<path stroke="#fad9ce" stroke-width="1.5" d="M303.2 688.4v17M311.9 688.4v17M362.7 688.4v17"/>
<path stroke="#fad9ce" stroke-width="2" d="M351 688.4v17M384.1 688.4v17"/>
<path stroke="#fad9ce" stroke-width="0.6" d="M548.3 988.4v17"/>
<path stroke="#fef9f8" stroke-width="1" d="M209.1 505v17M241.2 505v17M106.5 538.3v17M107.5 538.3v17M115.4 538.3v17M125 555v17M345.7 688.4v17M503.9 955.1v17"/>
<path stroke="#fef9f8" stroke-width="1.6" d="M219.1 505v17M246.1 538.3v17M115.8 555v17M143.4 588.4v17"/>
<path stroke="#fef9f8" stroke-width="0.7" d="M260.6 505v17M134.7 538.3v17M170.8 538.3v17M92.8 555v17M99.6 571.7v17M148.8 588.4v17"/>
<path stroke="#fef9f8" stroke-width="1.3" d="M99.7 538.3v17M108.1 588.4v17M152.5 588.4v17"/>
<path stroke="#fef9f8" stroke-width="0.8" d="M325.5 621.7v17M539 955.1v17"/>
<path stroke="#fef9f8" stroke-width="2" d="M328.8 638.4v17"/>
<path stroke="#fef9f8" stroke-width="0.6" d="M533.5 955.1v17"/>
<path stroke="#f6b6a2" stroke-width="1" d="M221.1 505v17M187.4 521.7v17M202.6 521.7v17M212.6 521.7v17M251.4 521.7v17M90.4 538.3v17M205.3 538.3v17M212.2 538.3v17M223.9 538.3v17M100 555v17M205.9 555v17M209.9 555v17M217.5 555v17M226 555v17M228.7 555v17M112.3 571.7v17M139.4 571.7v17M174.6 571.7v17M194.4 571.7v17M199.1 571.7v17M211.8 571.7v17M229 571.7v17M240.9 571.7v17M111 588.4v17M163.5 588.4v17M176.7 588.4v17M202.6 588.4v17M230.9 588.4v17M86.8 605v17M90.9 605v17M96.4 605v17M114.7 605v17M119 605v17M128.2 605v17M162.2 605v17M206.9 605v17M223.6 605v17M229.9 605v17M375.1 638.4v17M294.3 655v17M277.1 671.7v17M372.9 671.7v17M313.2 688.4v17M459.6 821.7v17M535.7 905.1v17"/>
<path stroke="#f6b6a2" stroke-width="0.9" d="M528.8 505v17M459.9 588.4v17M462.8 621.7v17M557.3 638.4v17M90.1 705v17M388.5 788.4v17M549.4 821.7v17M387.4 971.8v17M320.4 1088.5v17M330.9 1088.5v17"/>
<path stroke="#f6b6a2" stroke-width="0.7" d="M166.7 521.7v17M264.6 538.3v17M372.9 538.3v17M138.4 555v17M162.6 555v17M239.2 555v17M89.6 571.7v17M197.3 571.7v17M200 571.7v17M222.2 571.7v17M135.1 588.4v17M159.7 588.4v17M183.3 588.4v17M237.3 588.4v17M258.6 588.4v17M263.3 588.4v17M88.6 605v17M101.1 605v17M175.5 605v17M195.5 605v17M236.3 605v17M253.3 605v17M542.9 638.4v17M524.1 755v17M473.4 771.7v17M506.2 788.4v17M553.5 788.4v17M352 871.7v17M545.5 871.7v17M568.1 938.4v17M483.9 955.1v17"/>
<path stroke="#f6b6a2" stroke-width="1.6" d="M196 521.7v17M201.3 521.7v17M235.4 521.7v17M243.9 521.7v17M265 521.7v17M215.8 538.3v17M111.8 555v17M159.1 555v17M214.9 555v17M105.4 571.7v17M201.1 571.7v17M232.9 571.7v17M102.8 588.4v17M156.3 588.4v17M199.6 588.4v17M227.6 588.4v17M109.7 605v17M153.3 605v17M182.6 605v17M194.4 605v17M203 605v17M255.8 605v17"/>
<path stroke="#f6b6a2" stroke-width="1.3" d="M207.7 538.3v17M249.5 538.3v17M146.9 555v17M230.8 555v17M245.5 555v17M209.3 571.7v17M218.3 571.7v17M88.2 588.4v17M137.7 588.4v17M146.8 588.4v17M154.8 588.4v17M194.5 588.4v17M229 588.4v17M93.7 605v17M186.3 605v17M208 605v17M227.4 605v17"/>
<path stroke="#f6b6a2" stroke-width="0.5" d="M440.6 571.7v17M539.8 671.7v17M512.3 705v17M517.4 721.7v17M122.7 888.4v17M376.5 905.1v17M258.3 1021.8v17M272 1021.8v17"/>
<path stroke="#f6b6a2" stroke-width="0" d="M267.3 588.4v17"/>
<path stroke="#f6b6a2" stroke-width="0.8" d="M278.8 621.7v17M292.5 621.7v17M300.2 621.7v17M313.4 621.7v17M347.5 621.7v17M379 621.7v17M390.5 621.7v17M375 671.7v17M380.9 671.7v17M355.4 688.4v17M405.8 771.7v17M508.4 905.1v17M547 1005.1v17"/>
<path stroke="#f6b6a2" stroke-width="1.5" d="M303.7 621.7v17M393.2 621.7v17M275.2 638.4v17M291.6 638.4v17M334.4 671.7v17M383.2 671.7v17M364.5 705v17"/>
<path stroke="#f6b6a2" stroke-width="1.2" d="M355.6 621.7v17M288 638.4v17M272.4 655v17M321.4 671.7v17M323.8 671.7v17M325 671.7v17M340.8 671.7v17M355.1 671.7v17M381.9 671.7v17M289.5 688.4v17M379 688.4v17M371.6 705v17M498.9 821.7v17"/>
<path stroke="#f6b6a2" stroke-width="2" d="M348.7 655v17M365.3 655v17M389 655v17M309.8 671.7v17"/>
<path stroke="#f6b6a2" stroke-width="0.6" d="M464.2 838.4v17M485.6 871.7v17M506.9 971.8v17"/>
<path stroke="#fefefe" stroke-width="1" d="M224.2 505v17M407.1 538.3v17M515.1 538.3v17M86.7 555v17M173.5 555v17M308.6 555v17M488.2 555v17M521.9 555v17M481.2 571.7v17M127.1 588.4v17M326.2 588.4v17M464.8 621.7v17M526.1 621.7v17M532.3 638.4v17M504.9 671.7v17M131.7 688.4v17M143.9 688.4v17M171.9 688.4v17M197.9 688.4v17M364.8 688.4v17M367.3 688.4v17M505.1 688.4v17M525.3 688.4v17M536.7 688.4v17M116.3 805.1v17M354.2 871.7v17M492 871.7v17M517.9 905.1v17M317.4 938.4v17M528.9 955.1v17M311.4 1021.8v17M206.3 1105.1v17"/>
<path stroke="#fefefe" stroke-width="1.3" d="M258.3 505v17M163.7 521.7v17M88 538.3v17M101.3 588.4v17"/>
<path stroke="#fefefe" stroke-width="1.2" d="M331.1 521.7v17M482.5 521.7v17M521 521.7v17M316.1 588.4v17M484.5 605v17M509 621.7v17M331.4 655v17M509.6 655v17M468.9 671.7v17M539.8 671.7v17M135.2 688.4v17M151.8 688.4v17M163.2 688.4v17M176.8 688.4v17M206.8 688.4v17M209 688.4v17M260.8 688.4v17M347 705v17M455.9 738.4v17M295.1 788.4v17M519 821.7v17M284.5 955.1v17M508 955.1v17M511 955.1v17M273.9 1005.1v17M486.7 1005.1v17M213 1021.8v17M329.5 1038.4v17M97.6 1071.8v17M349.3 1088.5v17"/>
<path stroke="#fefefe" stroke-width="1.6" d="M123.9 538.3v17M157.5 555v17M116.7 605v17"/>
<path stroke="#fefefe" stroke-width="0.7" d="M138.1 538.3v17M175.3 555v17M95.3 571.7v17M146.5 605v17"/>
<path stroke="#fefefe" stroke-width="0.6" d="M386.6 538.3v17M566.7 538.3v17M470.4 555v17M527.7 555v17M528.3 555v17M507.9 605v17M525.5 605v17M528.5 605v17M93.3 655v17M530.7 671.7v17M575 671.7v17M104.9 688.4v17M120.7 688.4v17M121.3 688.4v17M125.3 688.4v17M508.1 688.4v17M522.3 688.4v17M274.4 771.7v17M535.1 821.7v17M200.1 905.1v17M101.1 1055.1v17M192.3 1088.5v17M492.6 1138.5v17"/>
<path stroke="#fefefe" stroke-width="0.8" d="M522.8 538.3v17M505.6 555v17M518.8 571.7v17M485.7 588.4v17M459.3 605v17M566.6 621.7v17M176.6 655v17M328.9 655v17M500.5 655v17M507.6 671.7v17M100.8 688.4v17M110.4 688.4v17M147.4 688.4v17M238.4 688.4v17M294 688.4v17M220 705v17M437.8 705v17M95.8 821.7v17M443.6 821.7v17M514.8 821.7v17M527.8 821.7v17M95.2 1055.1v17M519.8 1071.8v17M118.8 1121.8v17M317.7 1155.1v17"/>
<path stroke="#fefefe" stroke-width="0.2" d="M267.2 605v17"/>
<path stroke="#fefefe" stroke-width="1.5" d="M282.8 705v17"/>
<path stroke="#f5aa94" stroke-width="1.6" d="M227.1 505v17M248.2 505v17M234.7 555v17M204.7 571.7v17M123.8 588.4v17M139.2 588.4v17M232.2 588.4v17M254.6 588.4v17M197.7 605v17"/>
<path stroke="#f5aa94" stroke-width="1" d="M92 521.7v17M109.3 521.7v17M149.7 521.7v17M197.3 521.7v17M239.3 521.7v17M248.4 521.7v17M261 521.7v17M262.7 521.7v17M193.1 538.3v17M225.6 538.3v17M258.4 538.3v17M263.1 538.3v17M90.4 555v17M204.9 555v17M208.9 555v17M212.9 555v17M236 555v17M255.7 555v17M213.8 571.7v17M227 571.7v17M200.9 588.4v17M209.2 588.4v17M210.2 588.4v17M214.8 588.4v17M242.4 588.4v17M150 605v17M196.4 605v17M199.7 605v17M212.8 605v17M260.1 605v17M284.3 621.7v17M269.8 655v17M360.1 671.7v17M269.3 688.4v17M321.4 688.4v17M325.9 688.4v17M340.1 705v17"/>
<path stroke="#f5aa94" stroke-width="1.3" d="M108.1 521.7v17M241.4 521.7v17M131 538.3v17M206.4 538.3v17M137.4 555v17M121 588.4v17M125.9 588.4v17M212 588.4v17M248.1 588.4v17M257.6 588.4v17M180.4 605v17"/>
<path stroke="#f5aa94" stroke-width="0.7" d="M210.7 521.7v17M225.2 521.7v17M232.6 521.7v17M265.3 538.3v17M198.3 555v17M516.7 555v17M115.7 571.7v17M138.6 571.7v17M267 571.7v17M201.7 588.4v17M219.9 588.4v17M136.6 605v17M170.6 605v17M185.3 605v17M110.8 638.4v17M570.6 638.4v17M100.7 738.4v17M507.1 855.1v17M156.4 888.4v17M457.2 938.4v17M376.7 1088.5v17M288.4 1121.8v17M499.4 1138.5v17"/>
<path stroke="#f5aa94" stroke-width="1.5" d="M266.5 521.7v17M319.9 621.7v17M350.7 621.7v17M315.9 638.4v17M317.4 638.4v17M334.1 638.4v17M338 638.4v17M337.5 655v17M345 655v17M371.9 655v17M299.7 671.7v17"/>
<path stroke="#f5aa94" stroke-width="0.5" d="M353.9 538.3v17M501.5 538.3v17M331.7 571.7v17M496.3 638.4v17M250.8 671.7v17M483.9 721.7v17M265 805.1v17M184.9 838.4v17M279.6 921.8v17M558.1 938.4v17M532.7 1021.8v17M358 1055.1v17M417 1055.1v17M546.5 1105.1v17M201.9 1138.5v17M421.3 1138.5v17M517.1 1138.5v17M568.4 1138.5v17"/>
<path stroke="#f5aa94" stroke-width="0.9" d="M423.4 621.7v17M556.6 638.4v17M559.7 638.4v17M432.3 688.4v17M413.8 705v17M549.2 705v17M495.3 805.1v17M352.8 871.7v17M92.6 921.8v17M542.9 971.8v17M326.4 1021.8v17M414.5 1038.4v17"/>
<path stroke="#f5aa94" stroke-width="1.2" d="M285.3 638.4v17M320 638.4v17M321.2 638.4v17M336.7 638.4v17M353.7 655v17M328.6 671.7v17M357.5 671.7v17M277.8 688.4v17M286.8 688.4v17M317.3 688.4v17M304.5 705v17M398 788.4v17M438.8 788.4v17M533.6 905.1v17"/>
<path stroke="#f5aa94" stroke-width="2" d="M307.4 638.4v17M332.4 638.4v17M292.3 671.7v17M337.4 671.7v17M343.9 671.7v17M297.7 688.4v17M301.5 688.4v17M348.2 688.4v17M375.4 688.4v17M357.4 705v17"/>
<path stroke="#f5aa94" stroke-width="0.8" d="M365.4 638.4v17M391.4 655v17M276.2 671.7v17M279.2 671.7v17M308.4 671.7v17M320.4 671.7v17M361 671.7v17M339.2 705v17M343 705v17M478.7 838.4v17M526.6 905.1v17"/>
<path stroke="#f5aa94" stroke-width="0.6" d="M475 871.7v17M544.1 988.4v17"/>
<path stroke="#e8e8e8" stroke-width="1" d="M228.4 505v17M245.9 505v17M112.7 538.3v17M248.7 555v17M501.4 555v17M510.5 571.7v17M375.4 588.4v17M110.2 621.7v17M172 621.7v17M167.7 621.7v17M172.6 621.7v17M535.3 638.4v17M83.3 688.4v17M96.3 688.4v17M129.5 688.4v17M236.9 688.4v17M245.5 688.4v17M291.8 738.4v17M575.4 838.4v17M110.5 905.1v17M390.4 905.1v17M192.9 921.8v17M193.9 921.8v17M324.2 938.4v17M360 938.4v17M479.6 938.4v17M494.8 938.4v17M560.1 938.4v17M259.7 971.8v17M447.9 971.8v17M114.3 988.4v17M357.8 988.4v17M189.3 1005.1v17M269.4 1005.1v17M275.8 1005.1v17M276.8 1005.1v17M433.3 1005.1v17M435.9 1005.1v17M209.9 1021.8v17M429.9 1021.8v17M472.4 1021.8v17M92.9 1038.4v17M299.6 1038.4v17M503.9 1055.1v17M504.9 1055.1v17M195.7 1071.8v17M217.9 1071.8v17M249.5 1071.8v17M325.8 1071.8v17M446.7 1071.8v17M559.7 1071.8v17M160.3 1088.5v17M217.3 1088.5v17M312.4 1088.5v17M81.3 1105.1v17M204.1 1105.1v17M214.3 1105.1v17M251.5 1105.1v17M354.4 1105.1v17M409.1 1105.1v17M431.1 1105.1v17M489.2 1105.1v17M409.7 1121.8v17M415.1 1121.8v17M80.5 1138.5v17M112.3 1155.1v17M347.2 1155.1v17M429.5 1155.1v17M441.3 1155.1v17M472.2 1155.1v17M569.9 1155.1v17"/>
<path stroke="#e8e8e8" stroke-width="1.2" d="M396 505v17M421.2 538.3v17M534.4 621.7v17M513.6 655v17M107 755v17M315.3 788.4v17M373.7 905.1v17M479.5 905.1v17M498.1 905.1v17M141.4 921.8v17M155.4 921.8v17M210.6 921.8v17M251.4 921.8v17M93.2 938.4v17M235.6 938.4v17M337.9 938.4v17M357.7 938.4v17M186.4 971.8v17M359.3 971.8v17M383.9 971.8v17M411.4 971.8v17M88.2 988.4v17M163.8 988.4v17M227.4 988.4v17M264.2 988.4v17M205.2 1005.1v17M246.4 1005.1v17M334.1 1005.1v17M368.3 1005.1v17M208.8 1021.8v17M405.2 1021.8v17M158 1038.4v17M284.5 1038.4v17M336.7 1038.4v17M343.5 1038.4v17M424.4 1038.4v17M490.1 1038.4v17M93.2 1055.1v17M320.7 1055.1v17M533.4 1055.1v17M220.6 1071.8v17M247.2 1071.8v17M420.8 1071.8v17M491.3 1071.8v17M388.1 1088.5v17M457.7 1088.5v17M153.8 1105.1v17M234.6 1105.1v17M240.6 1105.1v17M243.4 1105.1v17M198.6 1121.8v17M297.5 1121.8v17M324.1 1121.8v17M361.1 1121.8v17M92.8 1138.5v17M123.6 1138.5v17M155.6 1138.5v17M187.4 1138.5v17M252.6 1138.5v17M284.7 1138.5v17M298.9 1138.5v17M429.2 1138.5v17M443 1138.5v17M442.4 1155.1v17M455.9 1155.1v17M552.2 1155.1v17"/>
<path stroke="#e8e8e8" stroke-width="0.6" d="M515.9 505v17M529.3 505v17M503.7 621.7v17M494.2 638.4v17M563.9 638.4v17M531.9 671.7v17M182.9 855.1v17M380.6 871.7v17M423.3 888.4v17M156.5 905.1v17M316 905.1v17M471.8 905.1v17M218.5 921.8v17M125.1 938.4v17M200.3 938.4v17M225.5 938.4v17M279.4 938.4v17M313.6 938.4v17M494 938.4v17M496.4 938.4v17M561.9 938.4v17M173.7 971.8v17M399.7 971.8v17M448.7 971.8v17M171.1 988.4v17M381.6 988.4v17M470.6 988.4v17M493.6 988.4v17M507.3 988.4v17M461.6 1005.1v17M114.7 1038.4v17M139.3 1038.4v17M223.7 1038.4v17M226.1 1038.4v17M356 1055.1v17M356.6 1055.1v17M409.1 1055.1v17M373.4 1071.8v17M370.4 1088.5v17M169.1 1105.1v17M187.5 1105.1v17M480.8 1105.1v17M558.7 1105.1v17M115.7 1121.8v17M154.1 1138.5v17M217.3 1138.5v17M331 1138.5v17M500.4 1138.5v17M89.1 1155.1v17M110.5 1155.1v17M139.9 1155.1v17M211.7 1155.1v17M388.2 1155.1v17M542.1 1155.1v17"/>
<path stroke="#e8e8e8" stroke-width="0.7" d="M151.9 555v17M242.8 571.7v17M108.8 621.7v17M102.5 621.7v17"/>
<path stroke="#e8e8e8" stroke-width="1.3" d="M154.9 571.7v17"/>
<path stroke="#e8e8e8" stroke-width="0.8" d="M535.4 588.4v17M292.3 605v17M530.2 605v17M438.4 621.7v17M222.6 655v17M217 671.7v17M238.6 671.7v17M411 705v17M525.8 821.7v17M109.8 888.4v17M115.6 905.1v17M162.6 905.1v17M192.4 905.1v17M305.7 905.1v17M112.8 921.8v17M158 921.8v17M458.9 921.8v17M542.6 921.8v17M274.5 938.4v17M187.4 971.8v17M101.6 988.4v17M508 988.4v17M128.6 1005.1v17M316.5 1005.1v17M335.1 1005.1v17M346.5 1005.1v17M500.7 1005.1v17M532.6 1005.1v17M242.2 1021.8v17M513 1021.8v17M245.2 1038.4v17M282.3 1038.4v17M295.9 1038.4v17M211 1055.1v17M485.3 1055.1v17M495.5 1055.1v17M236.6 1071.8v17M266.4 1071.8v17M312.1 1071.8v17M383.7 1071.8v17M464.9 1071.8v17M494.3 1071.8v17M489.3 1088.5v17M130 1105.1v17M213.4 1105.1v17M402.8 1105.1v17M518.2 1105.1v17M278.5 1121.8v17M353.3 1121.8v17M440 1121.8v17M470.9 1121.8v17M488.9 1138.5v17M190.4 1155.1v17M198.2 1155.1v17M244 1155.1v17M373.7 1155.1v17M478.3 1155.1v17M513.4 1155.1v17"/>
<path stroke="#e8e8e8" stroke-width="1.5" d="M187 621.7v17M89.6 621.7v17M97.7 621.7v17"/>
<path stroke="#e8e8e8" stroke-width="0.2" d="M541.1 655v17M541.1 671.7v17"/>
<path stroke="#e8e8e8" stroke-width="0.9" d="M503 1021.8v17"/>
<path stroke="#fffcfc" stroke-width="1" d="M244.9 505v17M263.1 505v17M569.5 521.7v17M89.4 555v17M128.1 588.4v17M175.7 588.4v17M267.8 605v17M513.1 621.7v17M207.5 638.4v17M247.1 638.4v17M517.1 655v17M523.3 655v17M155.9 688.4v17M177.9 688.4v17M202.3 688.4v17M219.1 688.4v17M259.1 688.4v17M80.5 705v17M281.5 705v17M329.1 705v17M129.7 755v17M421.7 771.7v17M453.6 838.4v17M474.4 888.4v17M122.7 1021.8v17"/>
<path stroke="#fffcfc" stroke-width="0.8" d="M409.6 505v17M520.6 505v17M356.5 521.7v17M559.8 521.7v17M446.8 538.3v17M507 538.3v17M329.7 555v17M525.8 571.7v17M539 588.4v17M465.9 605v17M514.8 621.7v17M539.2 638.4v17M544.4 638.4v17M566.2 638.4v17M108.4 688.4v17M239.8 688.4v17M506.8 688.4v17M439.8 705v17M237.4 721.7v17M433.2 738.4v17M159 821.7v17M275.7 821.7v17M505.4 821.7v17M537.6 821.7v17M373.9 855.1v17M369.5 938.4v17M105.2 955.1v17M537.2 955.1v17M118 1021.8v17M153.4 1071.8v17M210 1105.1v17M498.7 1138.5v17M186.6 1155.1v17"/>
<path stroke="#fffcfc" stroke-width="0.7" d="M172.4 521.7v17M113.6 555v17M129.1 555v17M161.2 555v17"/>
<path stroke="#fffcfc" stroke-width="0.6" d="M358.8 521.7v17M512.9 521.7v17M363.6 555v17M540.9 555v17M509.7 571.7v17M434.3 588.4v17M531.1 588.4v17M508.1 621.7v17M409.9 638.4v17M538.5 638.4v17M400.7 655v17M526.9 655v17M528.5 671.7v17M89.3 688.4v17M170.5 688.4v17M171.1 688.4v17M223.3 688.4v17M508.7 688.4v17M570.5 738.4v17M404.5 771.7v17M515.5 821.7v17M129.9 855.1v17M460.2 855.1v17M546.1 855.1v17M90.7 905.1v17M158.9 1088.5v17"/>
<path stroke="#fffcfc" stroke-width="1.6" d="M144.6 538.3v17"/>
<path stroke="#fffcfc" stroke-width="1.2" d="M416.4 555v17M274.6 621.7v17M515.8 621.7v17M397.8 638.4v17M495.1 638.4v17M537.6 638.4v17M542.6 638.4v17M334.6 655v17M508.4 655v17M540.4 655v17M82.2 688.4v17M109.4 688.4v17M111.4 688.4v17M190.2 688.4v17M229.8 688.4v17M280 688.4v17M390.2 688.4v17M527.2 688.4v17M529.8 688.4v17M533.6 688.4v17M92 721.7v17M510.6 821.7v17M416.8 855.1v17M282.7 888.4v17M512.2 955.1v17M348.5 988.4v17M252.6 1105.1v17M223.8 1138.5v17M301.9 1138.5v17"/>
<path stroke="#fffcfc" stroke-width="1.3" d="M110.4 571.7v17M181.1 571.7v17M167.9 605v17"/>
<path stroke="#fffcfc" stroke-width="1.5" d="M285.6 621.7v17M347.1 671.7v17M369.1 671.7v17"/>
<path stroke="#fffcfc" stroke-width="1.1" d="M570.7 638.4v17"/>
<path stroke="#fffcfc" stroke-width="2" d="M377.4 688.4v17M391.8 688.4v17M268.3 705v17"/>
<path stroke="#d6d6d6" stroke-width="1.2" d="M278.1 505v17M462.7 505v17M346.1 521.7v17M546 521.7v17M566.2 521.7v17M404 538.3v17M456.9 538.3v17M460.1 538.3v17M496.5 538.3v17M497.7 538.3v17M376.9 555v17M439 555v17M485.9 555v17M331.7 588.4v17M377.1 588.4v17M473.9 588.4v17M437.8 605v17M419.4 621.7v17M479.7 621.7v17M261.4 638.4v17M447.2 655v17M197 671.7v17M559.2 671.7v17M563.8 671.7v17M484.7 688.4v17M396.4 705v17M453.7 705v17M494.7 705v17M502.5 705v17M552.2 705v17"/>
<path stroke="#d6d6d6" stroke-width="0.6" d="M358.6 505v17M439.7 505v17M509.7 505v17M512.3 505v17M558.9 505v17M282.6 521.7v17M463.4 538.3v17M563.9 538.3v17M270.6 571.7v17M343.6 571.7v17M371.4 588.4v17M352.8 605v17M367 605v17M378.2 605v17M386.2 605v17M405.9 605v17M515.5 605v17M567.1 605v17M142.7 638.4v17M143.9 638.4v17M238.1 638.4v17M145.9 655v17M492.4 671.7v17M495.6 671.7v17M501.2 671.7v17M567.9 671.7v17M546.9 688.4v17M570.7 688.4v17M198.5 705v17"/>
<path stroke="#d6d6d6" stroke-width="0.8" d="M463.7 505v17M494.3 505v17M305.7 521.7v17M325.1 521.7v17M358.1 521.7v17M392.3 521.7v17M429.4 521.7v17M449 521.7v17M305.5 538.3v17M374.3 538.3v17M495.1 555v17M282.5 571.7v17M284.9 588.4v17M502.9 588.4v17M467.9 605v17M533.4 605v17M570.2 605v17M405.4 621.7v17M433.6 621.7v17M200 638.4v17M245 638.4v17M264.2 638.4v17M438.6 638.4v17M408.6 655v17M450 671.7v17M556.2 671.7v17M397.8 688.4v17M481.7 688.4v17M554 688.4v17M560.6 688.4v17M160.8 705v17M508.2 705v17M523.6 705v17M537.6 705v17"/>
<path stroke="#d6d6d6" stroke-width="1" d="M506.7 505v17M548.7 538.3v17M319.4 555v17M343.4 555v17M395.7 555v17M458 555v17M395.9 571.7v17M422.5 588.4v17M483.8 588.4v17M347 605v17M348 605v17M352 605v17M553.1 605v17M223.5 638.4v17M241.1 638.4v17M252.5 638.4v17M466 638.4v17M97.3 655v17M220.1 655v17M235.9 655v17M92.3 671.7v17M408.9 671.7v17M474 671.7v17M446.3 705v17M477.8 705v17M499 705v17M505.3 705v17"/>
<path stroke="#d6d6d6" stroke-width="0.3" d="M571.1 688.4v17"/>
<path stroke="#dddddd" stroke-width="0.8" d="M279.7 505v17M519.8 505v17M564.6 505v17M380.7 521.7v17M547 521.7v17M574.7 521.7v17M385.9 538.3v17M390.9 538.3v17M439 538.3v17M309.5 555v17M330.5 555v17M464.7 555v17M494.3 555v17M502.9 555v17M310.5 571.7v17M350.1 571.7v17M402 571.7v17M391.9 588.4v17M398.4 588.4v17M477.9 588.4v17M487.7 588.4v17M294.3 605v17M328.7 605v17M429.4 605v17M487.5 605v17M503.8 605v17M523.4 605v17M257 621.7v17M409.4 621.7v17M551.6 621.7v17M553.4 621.7v17M569.6 621.7v17M235.6 638.4v17M466.9 638.4v17M473.7 638.4v17M121 655v17M163 655v17M264.4 655v17M412 655v17M427 655v17M544.8 655v17M555.4 655v17M90 671.7v17M183.4 671.7v17M485.7 671.7v17M566.4 671.7v17M572.5 671.7v17M236 688.4v17M173 705v17M201 705v17M207.8 705v17M479.5 705v17M257.2 721.7v17M323.9 721.7v17M119.6 738.4v17M358.1 738.4v17M174.8 755v17M277.5 755v17M575.9 755v17M307.1 771.7v17M117.6 788.4v17M373.5 805.1v17M486.1 805.1v17M524.8 805.1v17M333.3 821.7v17M366.7 821.7v17M112 838.4v17M261.6 838.4v17M533.2 838.4v17M110.6 855.1v17M121.2 855.1v17M325.3 855.1v17M335.1 855.1v17M533.6 855.1v17M151.6 871.7v17M194.4 871.7v17M223 871.7v17M389.9 871.7v17M443.8 871.7v17M84 888.4v17"/>
<path stroke="#dddddd" stroke-width="1.2" d="M305.1 505v17M327.9 505v17M368.3 505v17M468.7 505v17M497.3 505v17M561.2 505v17M294.3 521.7v17M344.9 521.7v17M311.9 538.3v17M329.1 538.3v17M456.9 555v17M327.5 571.7v17M335.3 571.7v17M377.3 571.7v17M280.3 588.4v17M337.9 588.4v17M407 588.4v17M448.6 588.4v17M501.9 588.4v17M560.8 588.4v17M305.1 605v17M341.3 605v17M364.7 605v17M387.1 605v17M453.7 605v17M517.4 605v17M157.2 621.7v17M432.6 621.7v17M477.5 621.7v17M491.3 621.7v17M556.4 621.7v17M561.2 621.7v17M118.4 638.4v17M121.8 638.4v17M131 638.4v17M191.2 638.4v17M209.2 638.4v17M448.6 638.4v17M462.3 638.4v17M469.9 638.4v17M502.7 638.4v17M420.6 655v17M171.8 671.7v17M194 671.7v17M412 671.7v17M435.8 671.7v17M552.8 671.7v17M107.4 688.4v17M132.8 688.4v17M157 688.4v17M176.2 705v17M192.6 705v17M214.2 705v17M442.2 705v17M149.4 721.7v17M323.9 738.4v17M390.3 738.4v17M467.1 755v17M478.1 755v17M530.4 755v17M100 771.7v17M264.6 771.7v17M284.9 771.7v17M346.9 771.7v17M456.9 771.7v17M92.8 788.4v17M199 788.4v17M546.4 788.4v17M176 805.1v17M193 805.1v17M203 805.1v17M316.3 805.1v17M381.1 805.1v17M505.2 805.1v17M99 821.7v17M338.9 821.7v17M186.4 838.4v17M190.6 838.4v17M383.7 838.4v17M507.4 838.4v17M142.4 855.1v17M179.6 855.1v17M447 855.1v17M449.8 855.1v17M558.8 855.1v17M560.4 871.7v17M203.6 888.4v17M421.4 888.4v17M532.6 888.4v17M560.2 888.4v17M575.7 938.4v17"/>
<path stroke="#dddddd" stroke-width="1" d="M341.4 505v17M366 505v17M377.2 505v17M475.4 505v17M487.8 505v17M311.6 521.7v17M322.2 521.7v17M411.9 521.7v17M466.8 521.7v17M486.8 521.7v17M567.3 521.7v17M300.2 538.3v17M325 538.3v17M341.8 538.3v17M423.7 538.3v17M427.5 538.3v17M445.9 538.3v17M359.4 555v17M369 555v17M390.8 555v17M383 571.7v17M372.2 588.4v17M332 605v17M345 605v17M422.5 605v17M199.1 638.4v17M205.5 638.4v17M240.1 638.4v17M428.7 638.4v17M497 638.4v17M551.5 638.4v17M83.9 655v17M172.5 655v17M213.1 655v17M251.3 655v17M397.7 655v17M431.3 655v17M442.9 655v17M475.8 655v17M543.9 655v17M550.5 655v17M571.8 655v17M102.1 671.7v17M421.1 671.7v17M113.3 688.4v17M256.1 688.4v17M106.5 705v17M109.9 705v17M230.7 705v17M539.7 705v17M545.5 705v17M108.5 721.7v17M261.5 721.7v17M375.6 721.7v17M559.7 721.7v17M523.3 738.4v17M453.8 755v17M471.4 755v17M208.7 788.4v17M284.4 788.4v17M245.5 805.1v17M453.4 805.1v17M463.4 805.1v17M538.5 805.1v17M175.1 821.7v17M316.6 821.7v17M337.8 821.7v17M104.3 838.4v17M242.9 838.4v17M292 838.4v17M307.2 838.4v17M364.4 838.4v17M425.1 838.4v17M122.1 855.1v17M252.5 855.1v17M278.6 855.1v17M305.6 855.1v17M373 855.1v17M420.9 855.1v17M573.6 855.1v17M97.5 871.7v17M336.6 871.7v17M432.3 871.7v17M325 888.4v17M574.4 988.4v17M571.8 1055.1v17"/>
<path stroke="#dddddd" stroke-width="0.6" d="M345.8 505v17M434.3 505v17M436.7 505v17M465.2 505v17M473.4 505v17M487 505v17M490.2 505v17M505.9 505v17M556.1 505v17M275.6 521.7v17M350.6 521.7v17M471.6 521.7v17M346.6 538.3v17M441.7 538.3v17M448.7 538.3v17M325 555v17M371 555v17M385.8 571.7v17M402.7 571.7v17M480.4 571.7v17M556.7 571.7v17M273.2 588.4v17M318.8 588.4v17M387.4 588.4v17M452.6 588.4v17M563.7 588.4v17M295 605v17M394.5 605v17M460.6 605v17M470.8 605v17M551.5 605v17M471.8 621.7v17M234.9 638.4v17M244.3 638.4v17M477.2 638.4v17M496.4 655v17M556.7 655v17M131.3 671.7v17M188.3 671.7v17M402.3 671.7v17M405.1 671.7v17M421.9 671.7v17M496.2 671.7v17M257.3 705v17M460 721.7v17M99.3 738.4v17M113.7 738.4v17M120.3 738.4v17M216.1 738.4v17M381.8 738.4v17M528.5 738.4v17M118.5 755v17M146.9 755v17M544.7 755v17M243.1 771.7v17M219.9 788.4v17M320.8 788.4v17M389.6 788.4v17M135.9 805.1v17M247.3 805.1v17M349.2 805.1v17M484 805.1v17M557.9 805.1v17M571.6 805.1v17M89.3 821.7v17M90.7 821.7v17M129.9 821.7v17M206.1 821.7v17M275 821.7v17M292 821.7v17M162.7 838.4v17M237.9 838.4v17M281.8 838.4v17M320.6 838.4v17M403.5 855.1v17M426.9 855.1v17M215.3 871.7v17M227.7 871.7v17M450.1 871.7v17M348.8 888.4v17M573.4 905.1v17"/>
<path stroke="#dddddd" stroke-width="0.3" d="M571.2 838.4v17"/>
<path stroke="#ebebeb" stroke-width="0.8" d="M282.5 505v17M490.9 505v17M362.7 521.7v17M536.4 521.7v17M320.1 538.3v17M311.7 555v17M524.6 555v17M353.9 571.7v17M434.4 571.7v17M523.8 571.7v17M284.1 588.4v17M503.8 588.4v17M548 588.4v17M507.4 621.7v17M254.4 638.4v17M541.6 638.4v17M520.4 655v17M506.8 671.7v17M523.8 671.7v17M88.6 688.4v17M143 688.4v17M185.8 688.4v17M528.8 688.4v17M90 721.7v17M92.8 771.7v17M568.4 855.1v17M104.4 905.1v17M310.1 955.1v17M362.7 971.8v17M512.4 1005.1v17M220.8 1038.4v17"/>
<path stroke="#ebebeb" stroke-width="0.6" d="M488.6 505v17M557.7 505v17M463 521.7v17M514.5 521.7v17M522.9 521.7v17M493.2 538.3v17M292 555v17M383.8 571.7v17M504.3 571.7v17M520.9 571.7v17M506.3 588.4v17M507.3 605v17M526.1 638.4v17M554.9 638.4v17M110.7 671.7v17M128.1 671.7v17M415.3 671.7v17M488.2 671.7v17M225.9 688.4v17M249.5 688.4v17M253.1 688.4v17M540.3 688.4v17M129.5 705v17M132.3 705v17M271.4 755v17M220.5 788.4v17M102.9 838.4v17M124.1 838.4v17M440.3 838.4v17M342.2 855.1v17M333.4 955.1v17M353.4 955.1v17M377.6 955.1v17M401.9 955.1v17M408.3 955.1v17M432.1 988.4v17M205.7 1021.8v17M338 1088.5v17"/>
<path stroke="#ebebeb" stroke-width="1.6" d="M233.8 521.7v17"/>
<path stroke="#ebebeb" stroke-width="1.3" d="M98.4 538.3v17M157 605v17M178.1 605v17"/>
<path stroke="#ebebeb" stroke-width="0.7" d="M152.6 555v17M83.6 588.4v17M90 605v17M159.9 621.7v17M96.1 621.7v17M182.7 621.7v17M188.1 621.7v17"/>
<path stroke="#ebebeb" stroke-width="1.2" d="M420.6 555v17M283.5 571.7v17M415.8 571.7v17M298.5 588.4v17M425.4 588.4v17M520.8 605v17M569.6 638.4v17M522.2 655v17M254 671.7v17M91.4 688.4v17M92.6 688.4v17M98 688.4v17M126.2 688.4v17M145 688.4v17M394.8 688.4v17M513.2 688.4v17M398.6 705v17M368.7 721.7v17M80.6 805.1v17M394.8 838.4v17M547.8 855.1v17M546 905.1v17M80.6 955.1v17M239.2 955.1v17M328.1 955.1v17M397 955.1v17M424.6 955.1v17M488.3 955.1v17M465.5 988.4v17M410 1021.8v17M127.4 1038.4v17M112 1121.8v17M234.8 1138.5v17M318.7 1155.1v17"/>
<path stroke="#ebebeb" stroke-width="1" d="M156 571.7v17M162.2 571.7v17M148 588.4v17M80.5 605v17M339.2 605v17M147.2 621.7v17M429.7 638.4v17M417.7 655v17M519.3 671.7v17M529.3 671.7v17M127.3 688.4v17M162.1 688.4v17M182.1 688.4v17M213.9 755v17M540.1 821.7v17M188.7 838.4v17M234.7 871.7v17M489.4 938.4v17M389.4 955.1v17M407.7 971.8v17M528.9 1005.1v17M96.9 1038.4v17M380 1038.4v17M493.4 1055.1v17M210.7 1088.5v17"/>
<path stroke="#dadada" stroke-width="0.8" d="M293.3 505v17M460.9 505v17M530 505v17M539.6 505v17M542.6 505v17M555.4 505v17M562.2 505v17M483.7 538.3v17M356.3 571.7v17M376.3 571.7v17M561.8 571.7v17M386.7 588.4v17M419.8 605v17M424.6 605v17M464.3 605v17M395.6 621.7v17M458.1 621.7v17M411.2 655v17M505.6 655v17M428.6 671.7v17M506 688.4v17M86 705v17M168.6 705v17M205.8 705v17M546.4 705v17"/>
<path stroke="#dadada" stroke-width="1.2" d="M352.5 505v17M457.7 505v17M528.4 505v17M320.3 521.7v17M361.7 521.7v17M351.7 538.3v17M419.2 538.3v17M381.7 555v17M442 555v17M477.1 571.7v17M438 588.4v17M464.7 588.4v17M557.2 588.4v17M278.7 605v17M396.6 621.7v17M486.3 621.7v17M500.7 621.7v17M538.2 621.7v17M148.2 638.4v17M394.8 638.4v17M501.5 638.4v17M438.2 671.7v17M520.4 671.7v17M547.2 671.7v17M175 705v17"/>
<path stroke="#dadada" stroke-width="1" d="M445.7 505v17M540.5 505v17M327.8 521.7v17M364.8 521.7v17M388.6 521.7v17M316.8 555v17M339.6 555v17M423.3 555v17M433.5 555v17M480 555v17M319.6 571.7v17M496 588.4v17M440.5 621.7v17M480.4 638.4v17M413.9 655v17M507.3 655v17M145.3 671.7v17M464.6 671.7v17M163.7 705v17M188.9 705v17M503.9 821.7v17M529.7 821.7v17"/>
<path stroke="#dadada" stroke-width="0.6" d="M356.8 538.3v17M357.4 538.3v17M436.3 538.3v17M318.6 555v17M350.4 555v17M363 555v17M403.5 555v17M543.1 555v17M322 571.7v17M328.4 571.7v17M380.4 571.7v17M459.4 571.7v17M469.4 571.7v17M492.4 571.7v17M569.7 588.4v17M324 605v17M193.1 638.4v17M416.9 638.4v17M440.3 638.4v17M108.9 655v17M140.7 655v17M240.9 655v17M395.5 655v17M487 655v17M85.7 671.7v17M119.1 671.7v17M126.3 671.7v17M126.9 671.7v17M143.5 671.7v17M166.7 705v17M570.9 705v17"/>
<path stroke="#dadada" stroke-width="0.9" d="M503 571.7v17"/>
<path stroke="#dadada" stroke-width="0.3" d="M503.3 621.7v17"/>
<path stroke="#f5f5f5" stroke-width="0.8" d="M299.9 505v17M519 538.3v17M377.9 555v17M498.5 555v17M535.6 571.7v17M334.5 588.4v17M427 588.4v17M514 621.7v17M528.4 655v17M546.8 655v17M500.5 671.7v17M104.2 688.4v17M105.6 688.4v17M138.8 688.4v17M217.6 688.4v17M222.6 688.4v17M537.6 688.4v17M440.6 705v17M575.1 755v17M117.8 771.7v17M453.9 788.4v17M307.7 805.1v17M354.5 838.4v17M419.4 855.1v17M535.2 871.7v17M569.2 888.4v17M109 921.8v17M254.2 921.8v17M553.2 938.4v17M205.6 988.4v17M207.8 1005.1v17M413.6 1005.1v17M273.3 1038.4v17M171.4 1088.5v17M301.1 1121.8v17M139 1138.5v17"/>
<path stroke="#f5f5f5" stroke-width="0.4" d="M576.1 505v17"/>
<path stroke="#f5f5f5" stroke-width="1" d="M132.8 521.7v17M211.2 538.3v17M530.3 555v17M531.3 555v17M142.4 571.7v17M447.7 571.7v17M524.7 588.4v17M538.1 588.4v17M100 621.7v17M141.3 638.4v17M518.3 638.4v17M568.5 638.4v17M109.7 655v17M457.4 655v17M524.3 655v17M572.8 655v17M86.9 688.4v17M117.7 688.4v17M161.1 688.4v17M204.1 688.4v17M515.3 688.4v17M135.9 705v17M175.3 721.7v17M299.8 788.4v17M96.7 821.7v17M368 838.4v17M448.1 1155.1v17"/>
<path stroke="#f5f5f5" stroke-width="0.6" d="M565.3 521.7v17M527.1 571.7v17M350.6 588.4v17M437.7 621.7v17M550.1 638.4v17M150.9 688.4v17M181.3 688.4v17M182.9 688.4v17M213.5 688.4v17M231.9 688.4v17M424.1 705v17M432.1 705v17M161.9 755v17M162.9 771.7v17M471.6 788.4v17M540.9 821.7v17M451.9 888.4v17M86.9 1055.1v17M503 1071.8v17M156.5 1138.5v17"/>
<path stroke="#f5f5f5" stroke-width="1.2" d="M453.5 538.3v17M504 538.3v17M515.6 555v17M533.6 571.7v17M539.2 571.7v17M355.7 588.4v17M173.4 638.4v17M198 638.4v17M236.6 638.4v17M153.4 655v17M536.8 655v17M526.8 671.7v17M101.8 688.4v17M137 688.4v17M211 688.4v17M172 705v17M251 705v17M128.2 788.4v17M385.7 905.1v17M300.9 955.1v17M383.1 955.1v17M507 1071.8v17"/>
<path stroke="#f5f5f5" stroke-width="1.6" d="M264.8 571.7v17"/>
<path stroke="#f5f5f5" stroke-width="1.5" d="M120.8 621.7v17M174.9 621.7v17M127.3 621.7v17"/>
<path stroke="#f5f5f5" stroke-width="0.7" d="M117.3 621.7v17"/>
<path stroke="#fbfbfb" stroke-width="1" d="M304 505v17M402.5 505v17M441.9 505v17M568.7 505v17M348 521.7v17M438.1 521.7v17M513.7 521.7v17M253.7 538.3v17M533.7 538.3v17M264.6 555v17M513.3 555v17M519.9 555v17M357.2 571.7v17M511.5 571.7v17M118.9 588.4v17M443.3 588.4v17M84.5 605v17M232.5 655v17M519.5 655v17M123.3 671.7v17M467.8 671.7v17M80.5 688.4v17M84.3 688.4v17M205.7 688.4v17M243.3 688.4v17M265.1 688.4v17M467.2 688.4v17M524.3 688.4v17M259.3 705v17M302.6 788.4v17M331.2 838.4v17M306.2 871.7v17M209.9 888.4v17M311.2 905.1v17M324.8 905.1v17M215.9 1038.4v17M134.3 1055.1v17M435.1 1055.1v17M203.7 1071.8v17"/>
<path stroke="#fbfbfb" stroke-width="1.2" d="M387.5 505v17M538.6 505v17M493.9 521.7v17M509.8 521.7v17M525 538.3v17M529.2 555v17M506.4 638.4v17M157.8 655v17M403 655v17M514.8 655v17M538 655v17M175.6 688.4v17M186.8 688.4v17M490.5 688.4v17M158.6 705v17M401.6 888.4v17M517.6 955.1v17M551.2 1121.8v17"/>
<path stroke="#fbfbfb" stroke-width="0.8" d="M341.1 521.7v17M508.2 521.7v17M512.2 521.7v17M518.4 521.7v17M549 521.7v17M519.6 571.7v17M334.7 605v17M518.8 621.7v17M509.4 638.4v17M546.2 638.4v17M533.8 655v17M535.2 655v17M514 671.7v17M525.8 671.7v17M569.6 671.7v17M103.4 688.4v17M172.8 688.4v17M203.2 688.4v17M224 688.4v17M544.6 705v17M383.9 755v17M390.3 805.1v17M523.2 821.7v17M525 821.7v17M265 855.1v17M537.6 871.7v17M553.6 888.4v17M540.8 955.1v17M230.8 1088.5v17M165.6 1121.8v17M404 1121.8v17"/>
<path stroke="#fbfbfb" stroke-width="0.6" d="M416.3 521.7v17M535.7 521.7v17M535.7 538.3v17M526.5 571.7v17M553.1 638.4v17M430.9 671.7v17M537.7 671.7v17M174.7 688.4v17M184.3 688.4v17M218.3 688.4v17M252.5 688.4v17M340.4 788.4v17M266.3 905.1v17M451.3 971.8v17M253.7 988.4v17M539.9 1005.1v17M86.1 1021.8v17M113.7 1121.8v17"/>
<path stroke="#fbfbfb" stroke-width="0.7" d="M198.8 538.3v17M138.9 621.7v17"/>
<path stroke="#fbfbfb" stroke-width="1.3" d="M96.4 571.7v17M185 571.7v17"/>
<path stroke="#fbfbfb" stroke-width="0.2" d="M541.1 571.7v17"/>
<path stroke="#fbfbfb" stroke-width="1.5" d="M325.2 638.4v17M389 638.4v17M349.9 705v17"/>
<path stroke="#fbfbfb" stroke-width="2" d="M290.9 705v17"/>
<path stroke="#f2f2f2" stroke-width="1.2" d="M347.9 505v17M333.3 521.7v17M401.8 521.7v17M515.4 521.7v17M525.2 521.7v17M537.4 521.7v17M506 538.3v17M523.8 538.3v17M505.2 571.7v17M442.2 588.4v17M526.4 588.4v17M519.6 605v17M533.2 621.7v17M532.8 671.7v17M534 671.7v17M119.8 688.4v17M167.2 688.4v17M192.4 688.4v17M193.6 688.4v17M195.4 688.4v17M220.8 688.4v17M107.6 705v17M177 721.7v17M564.2 738.4v17M256 755v17M540.2 788.4v17M285.3 838.4v17M298.7 921.8v17M355.1 938.4v17M406 1071.8v17M147.6 1088.5v17M196.2 1121.8v17M516 1121.8v17"/>
<path stroke="#f2f2f2" stroke-width="0.6" d="M360.8 505v17M534.1 521.7v17M502.2 555v17M520.3 571.7v17M529.5 571.7v17M433.7 588.4v17M506.9 588.4v17M522.5 588.4v17M526.1 605v17M490.4 621.7v17M200.7 638.4v17M563.3 638.4v17M414.7 655v17M535.9 655v17M130.7 671.7v17M212.9 671.7v17M97.1 688.4v17M139.5 688.4v17M174.1 688.4v17M247.3 688.4v17M408.7 705v17M482 705v17M504.7 821.7v17M430.3 855.1v17M264.1 871.7v17M367.6 888.4v17M238.3 905.1v17M380.4 938.4v17M395.7 988.4v17M199.7 1021.8v17M248.7 1071.8v17M507.1 1088.5v17"/>
<path stroke="#f2f2f2" stroke-width="0.8" d="M440.4 505v17M510.8 521.7v17M516.6 555v17M430 621.7v17M467.9 621.7v17M512.2 621.7v17M539.2 621.7v17M508.6 638.4v17M515.4 638.4v17M543.6 638.4v17M552.4 638.4v17M564.6 638.4v17M565.4 638.4v17M259.4 655v17M512.2 671.7v17M517.6 671.7v17M221.8 688.4v17M232.6 688.4v17M510.6 688.4v17M511.4 688.4v17M162.2 705v17M419.2 705v17M343.3 738.4v17M140.2 755v17M549.8 755v17M362.9 888.4v17M462.5 921.8v17M327.1 955.1v17M356.9 988.4v17M546.8 1105.1v17M201.6 1138.5v17"/>
<path stroke="#f2f2f2" stroke-width="1" d="M98.3 521.7v17M163.4 538.3v17M526.1 538.3v17M136.3 555v17M153.7 588.4v17M529.3 588.4v17M530.3 588.4v17M531.9 588.4v17M111.2 621.7v17M529.9 621.7v17M513.7 638.4v17M503.9 655v17M510.7 655v17M443.7 671.7v17M246.5 688.4v17M224.9 705v17M573.8 705v17M250.7 721.7v17M520.1 821.7v17M184.1 971.8v17M468.4 1021.8v17M333 1055.1v17M546.9 1088.5v17"/>
<path stroke="#f2f2f2" stroke-width="0.7" d="M262.2 538.3v17M120.8 605v17M134.8 621.7v17M183.8 621.7v17"/>
<path stroke="#f2f2f2" stroke-width="1.6" d="M82.8 555v17M84.4 571.7v17"/>
<path stroke="#f2f2f2" stroke-width="1.3" d="M80.7 588.4v17M162.3 588.4v17"/>
<path stroke="#f2f2f2" stroke-width="0.3" d="M267.1 855.1v17"/>
<path stroke="#eeeeee" stroke-width="0.8" d="M373.3 505v17M531.4 505v17M536.6 605v17M455.7 638.4v17M533.2 638.4v17M561.8 638.4v17M219.2 671.7v17M501.9 671.7v17M94.8 688.4v17M122 688.4v17M214.2 688.4v17M261.8 688.4v17M532.6 688.4v17M534.6 688.4v17M557.2 705v17M202.2 721.7v17M484.5 738.4v17M263 755v17M503.8 755v17M536.8 821.7v17M353.5 921.8v17M122 955.1v17M217.4 955.1v17M244.4 955.1v17M339.3 955.1v17M372.3 955.1v17M208.2 988.4v17M444.4 1021.8v17M303.1 1055.1v17M510.2 1121.8v17M290.7 1155.1v17"/>
<path stroke="#eeeeee" stroke-width="0.6" d="M390.6 505v17M403.3 505v17M432.7 521.7v17M448.5 571.7v17M368.6 588.4v17M492.6 588.4v17M504.3 621.7v17M544.7 621.7v17M533.9 638.4v17M539.9 638.4v17M508.3 671.7v17M85.1 688.4v17M517.9 688.4v17M432.7 705v17M122.9 905.1v17M191.5 955.1v17M364.8 955.1v17M426.3 955.1v17M546.3 955.1v17M470.4 971.8v17M487.2 971.8v17M316.2 1038.4v17M369.2 1055.1v17M470.2 1105.1v17M471.8 1105.1v17"/>
<path stroke="#eeeeee" stroke-width="1" d="M435.9 505v17M324 538.3v17M380.6 538.3v17M530.3 538.3v17M538.1 538.3v17M227.7 555v17M244.4 555v17M136.4 571.7v17M349.8 588.4v17M142.5 621.7v17M529.5 638.4v17M540.7 638.4v17M85.9 688.4v17M118.7 688.4v17M150.1 688.4v17M178.9 688.4v17M191.3 688.4v17M241.3 688.4v17M91.1 705v17M327.4 771.7v17M236.3 805.1v17M528.7 821.7v17M405.9 921.8v17M475.8 921.8v17M111.9 955.1v17M144.3 955.1v17M157.9 955.1v17M364 955.1v17M384.2 955.1v17M415.7 955.1v17M122.1 1071.8v17M186.1 1071.8v17M259.3 1071.8v17M364.6 1088.5v17"/>
<path stroke="#eeeeee" stroke-width="1.2" d="M527.2 538.3v17M266.7 555v17M492.7 555v17M504 555v17M407.4 571.7v17M517.8 571.7v17M540.4 571.7v17M540.2 621.7v17M527 638.4v17M524.8 671.7v17M116.6 688.4v17M164.4 688.4v17M225 688.4v17M167.6 705v17M565.4 738.4v17M106.2 771.7v17M476.9 788.4v17M389.9 821.7v17M91.4 955.1v17M107 955.1v17M147.2 955.1v17M203.6 955.1v17M277.7 955.1v17M341.3 955.1v17M388.3 955.1v17M444.6 955.1v17M480.1 955.1v17M122 1121.8v17"/>
<path stroke="#eeeeee" stroke-width="1.3" d="M132.7 571.7v17"/>
<path stroke="#eeeeee" stroke-width="0.7" d="M155.3 621.7v17M132.9 621.7v17M186.1 621.7v17"/>
<path stroke="#eeeeee" stroke-width="1.5" d="M87.5 621.7v17"/>
<path stroke="#f8c1b1" stroke-width="0.7" d="M529.9 505v17M84.9 521.7v17M204.2 521.7v17M208 521.7v17M217.7 521.7v17M225.9 521.7v17M257.1 521.7v17M260.1 521.7v17M261.8 521.7v17M202.7 538.3v17M229 538.3v17M236 538.3v17M252.8 538.3v17M256.8 538.3v17M261.5 538.3v17M161.9 555v17M171.6 555v17M201.6 555v17M202.3 555v17M203 555v17M213.7 555v17M233.5 555v17M250.8 555v17M93 571.7v17M260.4 571.7v17M270.3 571.7v17M305.3 571.7v17M211 588.4v17M234.3 588.4v17M158 605v17M209 605v17M215.2 605v17M230.7 605v17M142.9 705v17M552.2 705v17M169.5 755v17M504.3 771.7v17M145.8 788.4v17M281.4 821.7v17M551.6 871.7v17M286.5 888.4v17M411.7 888.4v17M342.5 1005.1v17M304.3 1071.8v17M524.6 1071.8v17M324 1088.5v17M301.6 1088.5v17M165.3 1105.1v17"/>
<path stroke="#f8c1b1" stroke-width="1" d="M94.7 521.7v17M107 521.7v17M122 521.7v17M131.8 521.7v17M144.5 521.7v17M150.7 521.7v17M168.2 521.7v17M189.4 521.7v17M193.4 521.7v17M209.9 521.7v17M211.6 521.7v17M223.1 521.7v17M227.5 521.7v17M228.5 521.7v17M249.4 521.7v17M263.7 521.7v17M96.3 538.3v17M132.2 538.3v17M172.7 538.3v17M247.4 538.3v17M133.7 555v17M200.8 555v17M218.5 555v17M247.7 555v17M256.7 555v17M265.6 555v17M81.5 571.7v17M86.4 571.7v17M102.1 571.7v17M119.2 571.7v17M124.1 571.7v17M157 571.7v17M188.4 571.7v17M190.7 571.7v17M202.4 571.7v17M228 571.7v17M236.2 571.7v17M243.6 571.7v17M85.8 588.4v17M186.8 588.4v17M193.4 588.4v17M195.7 588.4v17M207.2 588.4v17M208.2 588.4v17M236.5 588.4v17M238.2 588.4v17M251 588.4v17M266.8 588.4v17M97.4 605v17M112.7 605v17M130.8 605v17M169.8 605v17M179.3 605v17M216.1 605v17M249.6 605v17M326.4 621.7v17M331.4 621.7v17M371.3 621.7v17M299 638.4v17M297.6 655v17M338.9 671.7v17M469 821.7v17M535.5 921.8v17M525.3 938.4v17"/>
<path stroke="#f8c1b1" stroke-width="1.3" d="M123.1 521.7v17M145.6 521.7v17M158.1 521.7v17M170.4 521.7v17M89.2 538.3v17M159.3 538.3v17M239 538.3v17M244.6 538.3v17M260.5 538.3v17M194.6 555v17M216.3 555v17M224.8 555v17M253.5 555v17M263.4 555v17M113.4 571.7v17M122.9 571.7v17M140.6 571.7v17M178.1 571.7v17M215.7 571.7v17M90.5 588.4v17M130.9 588.4v17M235.3 588.4v17M124.1 605v17M127 605v17M210 605v17M228.7 605v17M250.7 605v17"/>
<path stroke="#f8c1b1" stroke-width="1.6" d="M125.6 521.7v17M127.2 521.7v17M140.6 521.7v17M221.8 521.7v17M195.1 538.3v17M196.7 538.3v17M200 538.3v17M201.6 538.3v17M84.4 555v17M221.1 555v17M259.7 555v17M163.5 571.7v17M182.5 571.7v17M206.3 571.7v17M248.8 571.7v17M250.4 571.7v17M198 588.4v17M222.1 588.4v17M92.2 605v17M125.6 605v17M235.2 605v17M237.5 605v17M252.2 605v17M264 605v17"/>
<path stroke="#f8c1b1" stroke-width="0.9" d="M324.9 521.7v17M527.6 538.3v17M447.2 571.7v17M415.6 621.7v17M436.6 688.4v17M443 705v17M531.2 705v17M559.3 855.1v17M361.6 921.8v17M170.5 938.4v17M562.6 938.4v17M419.7 971.8v17M400.5 988.4v17M498.2 1038.4v17M153.9 1055.1v17M381.4 1155.1v17M533.8 1155.1v17"/>
<path stroke="#f8c1b1" stroke-width="1.2" d="M272.4 621.7v17M336.8 621.7v17M343 621.7v17M348.5 621.7v17M295.9 638.4v17M301 671.7v17M303.4 671.7v17M311.4 671.7v17M316.6 671.7v17M452.9 855.1v17M557.4 1038.4v17"/>
<path stroke="#f8c1b1" stroke-width="0.8" d="M307.5 621.7v17M335.8 621.7v17M358.1 621.7v17M339.8 671.7v17M465.1 821.7v17"/>
<path stroke="#f8c1b1" stroke-width="1.5" d="M315.4 621.7v17M353.8 671.7v17"/>
<path stroke="#f8c1b1" stroke-width="2" d="M327.9 621.7v17M364 638.4v17"/>
<path stroke="#f8c1b1" stroke-width="0.6" d="M395.3 771.7v17M515.9 921.8v17"/>
<path stroke="#f8c1b1" stroke-width="0.5" d="M348.3 788.4v17M521.1 838.4v17M496.4 905.1v17M319.6 921.8v17M475.2 921.8v17M246.1 971.8v17M442.1 971.8v17M422.8 988.4v17M506 1005.1v17M175.7 1138.5v17M514.1 1138.5v17"/>
<path stroke="#ef765b" stroke-width="1" d="M104.3 521.7v17M118.1 555v17M183.5 555v17M223.7 571.7v17M263.5 571.7v17M294.8 638.4v17M346.2 655v17M352.6 655v17M375.4 655v17M319.5 671.7v17M360.7 705v17M402.9 788.4v17M456.6 838.4v17M461.6 871.7v17M539.9 938.4v17M562.7 988.4v17M564.1 1038.4v17"/>
<path stroke="#ef765b" stroke-width="1.6" d="M117.7 538.3v17M185.8 555v17M83.2 605v17"/>
<path stroke="#ef765b" stroke-width="1.3" d="M234 538.3v17M191.6 555v17M247.1 605v17"/>
<path stroke="#ef765b" stroke-width="1.5" d="M269.1 621.7v17M383.7 621.7v17M279.2 638.4v17M311.9 638.4v17M345.8 638.4v17M373.1 638.4v17M271.1 655v17M287.8 655v17M293.1 655v17M330.1 655v17M341.5 655v17M373.4 655v17M392.6 655v17M281.6 671.7v17M345.6 671.7v17M376.9 671.7v17M351.4 705v17"/>
<path stroke="#ef765b" stroke-width="0.8" d="M312.6 621.7v17M310.8 638.4v17M331 638.4v17M352 638.4v17M267.7 655v17M328.1 655v17M382.9 655v17M375.8 671.7v17M442.2 788.4v17M457.5 821.7v17M514.6 905.1v17M511.2 921.8v17M557.6 1021.8v17"/>
<path stroke="#ef765b" stroke-width="2" d="M323.1 621.7v17M340.6 638.4v17M382.5 638.4v17M312.4 655v17M357.5 655v17M283.3 671.7v17M305 671.7v17M322.4 705v17"/>
<path stroke="#ef765b" stroke-width="1.2" d="M354.4 621.7v17M366.6 621.7v17M280.5 638.4v17M357 638.4v17M367.4 638.4v17M384.1 638.4v17M391.3 638.4v17M268.7 655v17M465.7 871.7v17"/>
<path stroke="#ef765b" stroke-width="0.6" d="M480.8 838.4v17M498.6 871.7v17M467.6 888.4v17M532.9 955.1v17"/>
<path stroke="#ef765b" stroke-width="0.5" d="M503.2 855.1v17"/>
<path stroke="#ef765b" stroke-width="0.2" d="M541.1 938.4v17"/>
<path stroke="#f49d86" stroke-width="1.3" d="M110.4 521.7v17M258.1 521.7v17M210.7 571.7v17M138.3 605v17M231.7 605v17M254.3 605v17"/>
<path stroke="#f49d86" stroke-width="1" d="M164.8 521.7v17M231.8 521.7v17M252.4 521.7v17M198 538.3v17M229.9 538.3v17M230.9 538.3v17M206.9 555v17M191.7 571.7v17M198.1 571.7v17M224.7 571.7v17M251.7 571.7v17M266.1 571.7v17M158.9 588.4v17M173.7 588.4v17M217.8 588.4v17M246 588.4v17M250 588.4v17M144.7 605v17M163.2 605v17M187.5 605v17M192.1 605v17M200.7 605v17M222.6 605v17M225.6 605v17M232.9 605v17M233.9 605v17M240.4 605v17M289.1 638.4v17M298.6 655v17M363.8 655v17M382.6 688.4v17M302.4 705v17M318.9 705v17M359.7 705v17M449.5 771.7v17M558.5 988.4v17"/>
<path stroke="#f49d86" stroke-width="0.7" d="M214.1 521.7v17M224.7 538.3v17M171.5 588.4v17M249.1 588.4v17M261.9 588.4v17M137.3 605v17M241.2 605v17M244.5 605v17M256.9 605v17M531.1 621.7v17M512.3 621.7v17M250.8 705v17M518.6 805.1v17M269.2 821.7v17M507.8 855.1v17M323.3 905.1v17M558.6 1121.8v17M199.9 1138.5v17"/>
<path stroke="#f49d86" stroke-width="1.6" d="M247.1 521.7v17M256 521.7v17M168.3 538.3v17M199.5 555v17M253 571.7v17M182.2 588.4v17M226 588.4v17M256.2 588.4v17M129.5 605v17M140.8 605v17M142.4 605v17M214.1 605v17M261.4 605v17"/>
<path stroke="#f49d86" stroke-width="0.9" d="M433.8 538.3v17M451 588.4v17M463.3 588.4v17M562.5 638.4v17M478.5 655v17M475.2 688.4v17M491.7 738.4v17M547.6 771.7v17M99.1 905.1v17M567.4 955.1v17M479.1 988.4v17M282.3 1005.1v17M435.2 1021.8v17M198.4 1138.5v17"/>
<path stroke="#f49d86" stroke-width="0.5" d="M438.2 555v17M522.5 571.7v17M545.3 638.4v17M136.9 671.7v17M228.2 688.4v17M324.3 805.1v17M379.2 838.4v17M542.6 905.1v17M200.8 921.8v17M431.3 921.8v17M279.7 955.1v17M330.5 988.4v17M533 1021.8v17M484.3 1055.1v17M302.3 1105.1v17M415 1105.1v17M496.1 1155.1v17"/>
<path stroke="#f49d86" stroke-width="1.5" d="M268.9 638.4v17M322.5 638.4v17M281.8 655v17M336 655v17M292.8 688.4v17M324.6 688.4v17"/>
<path stroke="#f49d86" stroke-width="0.8" d="M303.8 638.4v17M358 638.4v17M274.6 655v17M366.7 655v17M344.8 688.4v17M363.9 688.4v17"/>
<path stroke="#f49d86" stroke-width="1.2" d="M304.8 638.4v17M318.8 638.4v17M335.5 638.4v17M270.4 688.4v17M272.8 688.4v17M314.3 688.4v17M337.6 688.4v17M324 705v17M524.2 938.4v17M513.4 971.8v17"/>
<path stroke="#f49d86" stroke-width="2" d="M349.6 638.4v17M371.3 638.4v17M277 655v17M300.9 655v17M368.1 655v17M320.4 705v17M325.6 705v17M366.2 705v17"/>
<path stroke="#f49d86" stroke-width="0.6" d="M519.5 971.8v17"/>
<path stroke="#ec5c3e" stroke-width="1.3" d="M115.6 521.7v17M147.6 538.3v17M182 538.3v17M131.3 571.7v17M196.3 571.7v17"/>
<path stroke="#ec5c3e" stroke-width="1.6" d="M218.9 521.7v17"/>
<path stroke="#ec5c3e" stroke-width="1" d="M184.2 538.3v17M188.5 538.3v17M95.6 588.4v17M310.9 655v17M325.2 655v17M338.7 655v17M347.2 655v17M356 655v17M455.6 838.4v17M468.4 855.1v17M482.8 871.7v17M552.5 988.4v17M563.9 1021.8v17"/>
<path stroke="#ec5c3e" stroke-width="0.7" d="M187.6 538.3v17M179.6 555v17M186.9 555v17M452 771.7v17"/>
<path stroke="#ec5c3e" stroke-width="2" d="M282 621.7v17M314.4 655v17M326.7 655v17M286.1 705v17M344.4 705v17M382.7 705v17"/>
<path stroke="#ec5c3e" stroke-width="1.5" d="M338.2 621.7v17M318.9 655v17M320.4 655v17M377.9 655v17M313.8 671.7v17M348.4 705v17M362 705v17"/>
<path stroke="#ec5c3e" stroke-width="0.8" d="M349.5 621.7v17M284.3 638.4v17M299.5 655v17M309 655v17M374.5 655v17M289.5 705v17M294.3 705v17M342.2 705v17M391.5 705v17M418.2 788.4v17M526.2 971.8v17M555.4 1005.1v17"/>
<path stroke="#ec5c3e" stroke-width="1.2" d="M356.3 671.7v17M387.5 705v17M434 721.7v17M443 721.7v17M456.5 821.7v17M457.1 855.1v17M491.3 888.4v17M514.8 955.1v17M555 1021.8v17M556.2 1038.4v17"/>
<path stroke="#ec5c3e" stroke-width="0.6" d="M405.3 755v17M474.4 821.7v17M488 871.7v17M570.7 988.4v17"/>
<path stroke="#e4e4e4" stroke-width="1.3" d="M142 521.7v17M109.3 555v17M143.6 571.7v17"/>
<path stroke="#e4e4e4" stroke-width="0.7" d="M186.6 521.7v17M142 555v17M155.2 621.7v17"/>
<path stroke="#e4e4e4" stroke-width="1" d="M93 538.3v17M118.2 571.7v17M111.7 605v17M262.7 605v17M571.8 605v17M161.4 621.7v17M111.2 621.7v17M133.6 621.7v17M201.3 688.4v17M207.9 688.4v17M105.5 721.7v17M109.5 721.7v17M112.1 721.7v17M212.1 721.7v17M349.2 721.7v17M385.2 721.7v17M106.9 738.4v17M254.5 738.4v17M258.3 738.4v17M297.8 738.4v17M310.6 738.4v17M319.6 738.4v17M372 738.4v17M520.3 738.4v17M555.5 738.4v17M126.5 755v17M162.7 755v17M203.9 755v17M548.9 755v17M122.5 771.7v17M160.9 771.7v17M225.7 771.7v17M313.8 771.7v17M364.4 771.7v17M499.2 771.7v17M114.5 788.4v17M149.5 788.4v17M166.7 788.4v17M96.5 805.1v17M99.9 805.1v17M122.9 805.1v17M131.9 805.1v17M495.6 805.1v17M506.9 805.1v17M88.5 821.7v17M212.3 821.7v17M285.4 821.7v17M353.8 821.7v17M177.3 838.4v17M267.8 838.4v17M404.5 838.4v17M552.9 838.4v17M83.5 855.1v17M124.9 855.1v17M344 855.1v17M367.4 855.1v17M503.9 855.1v17M574.6 855.1v17M207.3 871.7v17M294.8 871.7v17M317 871.7v17M439.5 871.7v17M506.1 871.7v17M570.7 871.7v17M232.7 888.4v17M402.7 888.4v17M555.5 888.4v17M557.9 888.4v17M561.9 888.4v17"/>
<path stroke="#e4e4e4" stroke-width="1.6" d="M143.9 555v17M82.8 571.7v17M205.6 605v17"/>
<path stroke="#e4e4e4" stroke-width="0.4" d="M576.1 605v17"/>
<path stroke="#e4e4e4" stroke-width="1.2" d="M511.2 621.7v17M535.6 621.7v17M526 655v17M95.8 721.7v17M114 721.7v17M240.6 721.7v17M253 721.7v17M534 721.7v17M159.4 738.4v17M230.8 738.4v17M489.5 738.4v17M148.4 755v17M182 755v17M250 755v17M391.9 755v17M488.3 755v17M561 755v17M563.2 755v17M162 771.7v17M176.2 771.7v17M193.6 771.7v17M208 771.7v17M224.6 771.7v17M226.8 771.7v17M270.7 771.7v17M473.9 771.7v17M518 771.7v17M567 771.7v17M80.6 788.4v17M311.5 788.4v17M323.9 788.4v17M351.9 788.4v17M461.1 788.4v17M189.6 805.1v17M265.4 805.1v17M341.7 805.1v17M364.9 805.1v17M369.1 805.1v17M564.6 805.1v17M566.4 805.1v17M104.8 821.7v17M231.6 821.7v17M552 821.7v17M565.8 821.7v17M86 838.4v17M108.6 838.4v17M113 838.4v17M125 838.4v17M219.8 838.4v17M252.2 838.4v17M275.1 838.4v17M324.5 838.4v17M428 838.4v17M171.2 855.1v17M296.7 855.1v17M329.9 855.1v17M437.8 855.1v17M515.6 855.1v17M570.6 855.1v17M140 871.7v17M210.8 871.7v17M552.4 871.7v17M197.8 888.4v17M279.7 888.4v17M298.7 888.4v17M351.7 888.4v17M429.6 888.4v17M571.9 888.4v17M575.7 1021.8v17"/>
<path stroke="#e4e4e4" stroke-width="0.6" d="M523.7 638.4v17M555.5 638.4v17M160.3 688.4v17M518.5 688.4v17M111.3 721.7v17M190.3 721.7v17M199.5 721.7v17M270.8 721.7v17M486.4 721.7v17M102.9 738.4v17M240.7 738.4v17M304.2 738.4v17M356.6 738.4v17M107.9 755v17M144.1 755v17M159.3 755v17M188.5 755v17M194.7 755v17M293.6 755v17M303.4 755v17M306.6 755v17M490.2 755v17M534.1 755v17M177.1 771.7v17M214.1 771.7v17M237.1 771.7v17M240.1 771.7v17M484.2 771.7v17M123.1 788.4v17M390.2 788.4v17M455.2 788.4v17M497.4 788.4v17M503.7 788.4v17M97.3 805.1v17M293.4 805.1v17M379.6 805.1v17M334 821.7v17M378.6 821.7v17M533.1 821.7v17M557.9 821.7v17M94.9 838.4v17M248.1 838.4v17M272.6 838.4v17M287.4 838.4v17M125.7 855.1v17M130.5 855.1v17M201.5 855.1v17M219.7 855.1v17M237.7 855.1v17M309.8 855.1v17M402.1 855.1v17M538.9 855.1v17M565.3 855.1v17M278.6 871.7v17M388.6 871.7v17M264.1 888.4v17M295.4 888.4v17M319.4 888.4v17"/>
<path stroke="#e4e4e4" stroke-width="0.8" d="M515.4 671.7v17M183.6 688.4v17M198.8 688.4v17M216 688.4v17M226.6 688.4v17M234.4 688.4v17M235.2 688.4v17M106.4 721.7v17M308.7 721.7v17M312.1 721.7v17M491.3 721.7v17M530 721.7v17M115.4 738.4v17M121.6 738.4v17M124.6 738.4v17M325.7 738.4v17M348.1 738.4v17M454.9 738.4v17M516.8 738.4v17M554.6 738.4v17M574.3 738.4v17M83.2 755v17M125 755v17M157.2 755v17M181 755v17M211.4 755v17M298.3 755v17M323.1 755v17M358.9 755v17M491.5 755v17M499.7 755v17M510.6 755v17M516.4 755v17M95.4 771.7v17M141 771.7v17M154.6 771.7v17M159 771.7v17M233.4 771.7v17M237.8 771.7v17M299.3 771.7v17M463.9 771.7v17M184.4 788.4v17M225.8 788.4v17M381.9 788.4v17M384.5 788.4v17M457.1 788.4v17M477.9 788.4v17M92.2 805.1v17M142.6 805.1v17M230.6 805.1v17M326.1 805.1v17M331.3 805.1v17M388.3 805.1v17M483.3 805.1v17M485.3 805.1v17M112.4 821.7v17M234.4 821.7v17M236.4 821.7v17M308.5 821.7v17M360.1 821.7v17M447.2 821.7v17M118.8 838.4v17M156.2 838.4v17M268.7 838.4v17M293.5 838.4v17M368.9 838.4v17M87.4 855.1v17M94.4 855.1v17M137.8 855.1v17M221.2 855.1v17M338.7 855.1v17M400.6 855.1v17M404.8 855.1v17M538.2 855.1v17M540.6 855.1v17M131 871.7v17M220.2 871.7v17M222.2 871.7v17M266.6 871.7v17M307.9 871.7v17M314.5 871.7v17M394.6 871.7v17M411 871.7v17M549.8 871.7v17M308.7 888.4v17M314.3 888.4v17M417.8 888.4v17M525.2 888.4v17M538.4 888.4v17M575.7 971.8v17"/>
<path stroke="#e4e4e4" stroke-width="0.1" d="M503.4 738.4v17"/>
<path stroke="#e4e4e4" stroke-width="0.3" d="M267.1 821.7v17"/>
<path stroke="#e4e4e4" stroke-width="0.5" d="M394 871.7v17"/>
<path stroke="#f08369" stroke-width="1.6" d="M147.1 521.7v17M245.5 521.7v17M254.4 521.7v17M221.3 605v17M258.1 605v17"/>
<path stroke="#f08369" stroke-width="0.7" d="M253.2 521.7v17M226.4 605v17"/>
<path stroke="#f08369" stroke-width="1" d="M259.3 521.7v17M226.6 538.3v17M246.7 555v17M247 588.4v17M265.8 588.4v17M149 605v17M324.6 621.7v17M268.8 671.7v17M333.2 671.7v17M348.4 671.7v17M370.4 671.7v17M408.1 738.4v17M456 855.1v17M453.4 871.7v17M518.3 921.8v17"/>
<path stroke="#f08369" stroke-width="1.3" d="M262.1 555v17M224.5 588.4v17M253.1 588.4v17"/>
<path stroke="#f08369" stroke-width="1.5" d="M288.2 621.7v17M332.7 621.7v17M382.2 621.7v17M278.8 655v17M315.2 671.7v17"/>
<path stroke="#f08369" stroke-width="0.8" d="M308.3 621.7v17M310.3 621.7v17M340.8 621.7v17M326 671.7v17M349.6 688.4v17M409.2 755v17M562.8 1005.1v17"/>
<path stroke="#f08369" stroke-width="1.2" d="M309.3 621.7v17M317.7 621.7v17M353.2 621.7v17M423 738.4v17M422.4 755v17M472.3 821.7v17M498.1 838.4v17M484.1 855.1v17M471.5 888.4v17M530.6 955.1v17M566.2 1005.1v17"/>
<path stroke="#f08369" stroke-width="2" d="M380.4 621.7v17M387.9 621.7v17M295.9 671.7v17"/>
<path stroke="#f08369" stroke-width="0.6" d="M400.9 755v17M451.5 755v17M469.2 855.1v17M495.4 855.1v17M463.8 871.7v17M561.9 988.4v17"/>
<path stroke="#eb4f37" stroke-width="1.3" d="M159.4 521.7v17M224.2 521.7v17M120.8 555v17M122.1 555v17"/>
<path stroke="#eb4f37" stroke-width="1.6" d="M119.3 538.3v17"/>
<path stroke="#eb4f37" stroke-width="1" d="M121.9 538.3v17M183.2 538.3v17M267.8 621.7v17M351.1 638.4v17M354.5 688.4v17M485.2 855.1v17M466.8 888.4v17M469.6 888.4v17M509.1 955.1v17M519.9 955.1v17M549.1 1005.1v17"/>
<path stroke="#eb4f37" stroke-width="0.7" d="M187.6 555v17"/>
<path stroke="#eb4f37" stroke-width="1.5" d="M313.4 638.4v17M368.8 638.4v17M389.9 671.7v17"/>
<path stroke="#eb4f37" stroke-width="0.8" d="M288.9 655v17M288.9 671.7v17M294.5 671.7v17M299.5 705v17M397.6 738.4v17M496.9 871.7v17"/>
<path stroke="#eb4f37" stroke-width="1.2" d="M280.2 671.7v17M391.3 671.7v17M384.3 705v17M429.6 721.7v17M430 805.1v17M467.9 821.7v17M517.6 938.4v17M535.6 955.1v17"/>
<path stroke="#eb4f37" stroke-width="2" d="M314.3 705v17M327.6 705v17"/>
<path stroke="#eb4f37" stroke-width="0.6" d="M410.3 771.7v17M458.6 855.1v17M473.6 855.1v17M491.4 855.1v17"/>
<path stroke="#eb4f37" stroke-width="0.5" d="M571.1 1055.1v17"/>
<path stroke="#f29077" stroke-width="0.7" d="M203.5 521.7v17M263.9 538.3v17"/>
<path stroke="#f29077" stroke-width="1.3" d="M216.7 521.7v17M254.8 538.3v17M217 571.7v17M219.8 605v17"/>
<path stroke="#f29077" stroke-width="1" d="M222.4 555v17M237.9 571.7v17M196.7 588.4v17M233.5 588.4v17M252 588.4v17M204.3 605v17M218.7 605v17M224.6 605v17M273.5 621.7v17M365.9 671.7v17M275.9 688.4v17M281.1 688.4v17M520.9 955.1v17"/>
<path stroke="#f29077" stroke-width="1.6" d="M116.9 571.7v17M231.3 571.7v17M114.6 588.4v17M169.7 588.4v17M213.5 588.4v17M239.5 588.4v17M264.5 588.4v17M100 605v17M239.1 605v17"/>
<path stroke="#f29077" stroke-width="0.8" d="M283.4 621.7v17M289.4 621.7v17M291.7 621.7v17M301 621.7v17M293.7 671.7v17M317.6 671.7v17M356 705v17"/>
<path stroke="#f29077" stroke-width="2" d="M295.4 621.7v17M329.9 621.7v17M359.5 621.7v17M372.8 621.7v17M377.6 621.7v17M362.4 671.7v17"/>
<path stroke="#f29077" stroke-width="1.5" d="M321.4 621.7v17M391.7 621.7v17M373.6 688.4v17"/>
<path stroke="#f29077" stroke-width="1.2" d="M352 621.7v17M302.2 671.7v17"/>
<path stroke="#f29077" stroke-width="0.6" d="M525.9 955.1v17"/>
<path stroke="#e6e6e6" stroke-width="1.6" d="M215.3 521.7v17M164.7 538.3v17M95.1 605v17"/>
<path stroke="#e6e6e6" stroke-width="1.3" d="M242.2 555v17M137.6 571.7v17M187.3 571.7v17M248.4 605v17"/>
<path stroke="#e6e6e6" stroke-width="1" d="M104.1 571.7v17M192.7 571.7v17M97.5 621.7v17M87.3 621.7v17M96.6 621.7v17M153.7 688.4v17M212.7 688.4v17M253.9 688.4v17M130.9 905.1v17M189.5 905.1v17M195.1 905.1v17M237.5 905.1v17M314.6 905.1v17M351.6 905.1v17M148.1 921.8v17M232.1 921.8v17M287 921.8v17M407.7 921.8v17M431.9 921.8v17M448.9 921.8v17M541.7 921.8v17M87.1 938.4v17M164.1 938.4v17M182.9 938.4v17M208.1 938.4v17M241.1 938.4v17M253.7 938.4v17M320.4 938.4v17M392.8 938.4v17M450.1 938.4v17M498 938.4v17M567.1 938.4v17M165.5 955.1v17M199.9 955.1v17M251.1 955.1v17M305 955.1v17M332 955.1v17M466.8 955.1v17M293.2 971.8v17M346.2 971.8v17M348.8 971.8v17M379 971.8v17M484.8 971.8v17M97.3 988.4v17M99.3 988.4v17M106.1 988.4v17M123.3 988.4v17M142.7 988.4v17M156.7 988.4v17M245.9 988.4v17M297.4 988.4v17M300 988.4v17M364 988.4v17M115.5 1005.1v17M240.1 1005.1v17M356.8 1005.1v17M414.5 1005.1v17M434.9 1005.1v17M445.5 1005.1v17M530.9 1005.1v17M115.5 1021.8v17M192.3 1021.8v17M207.7 1021.8v17M294.2 1021.8v17M306.6 1021.8v17M323 1021.8v17M397.1 1021.8v17M411.1 1021.8v17M477.4 1021.8v17M496.6 1021.8v17M234.7 1038.4v17M320.4 1038.4v17M499 1038.4v17M517.1 1038.4v17M127.1 1055.1v17M144.1 1055.1v17M150.3 1055.1v17M250.1 1055.1v17M352.2 1055.1v17M505.9 1055.1v17M516.3 1055.1v17M131.9 1071.8v17M185.1 1071.8v17M252.5 1071.8v17M321.6 1071.8v17M330 1071.8v17M349 1071.8v17M371.4 1071.8v17M433.9 1071.8v17M436.1 1071.8v17M86.3 1088.5v17M92.9 1088.5v17M212.7 1088.5v17M269.6 1088.5v17M279.4 1088.5v17M295.8 1088.5v17M337.2 1088.5v17M359.4 1088.5v17M419.1 1088.5v17M471.6 1088.5v17M123.5 1105.1v17M146.5 1105.1v17M183.9 1105.1v17M189.9 1105.1v17M337.8 1105.1v17M153.1 1121.8v17M204.5 1121.8v17M224.9 1121.8v17M233.9 1121.8v17M270.8 1121.8v17M346.8 1121.8v17M371 1121.8v17M373.8 1121.8v17M381.2 1121.8v17M535.3 1121.8v17M547.1 1121.8v17M560.7 1121.8v17M221.7 1138.5v17M264.7 1138.5v17M273.4 1138.5v17M91.9 1155.1v17M155.9 1155.1v17M228.7 1155.1v17M235.1 1155.1v17M264.5 1155.1v17M357 1155.1v17M406.5 1155.1v17M463.4 1155.1v17"/>
<path stroke="#e6e6e6" stroke-width="0.7" d="M81.3 605v17M158.7 605v17M160 621.7v17M176.4 621.7v17M393.9 1121.8v17M503.1 1155.1v17"/>
<path stroke="#e6e6e6" stroke-width="0.8" d="M562.6 638.4v17M123.4 688.4v17M149.2 688.4v17M98.4 905.1v17M188.6 905.1v17M252 905.1v17M257.2 905.1v17M264.8 905.1v17M287.3 905.1v17M332.7 905.1v17M398.8 905.1v17M464.5 905.1v17M477.9 905.1v17M484.7 905.1v17M491.5 905.1v17M542.6 905.1v17M196.8 921.8v17M268.5 921.8v17M459.7 921.8v17M560.6 921.8v17M176.6 938.4v17M190.4 938.4v17M216.6 938.4v17M222.8 938.4v17M226.2 938.4v17M285.7 938.4v17M301.9 938.4v17M344.1 938.4v17M410.6 938.4v17M484.9 938.4v17M497.1 938.4v17M548 938.4v17M209.4 955.1v17M221.8 955.1v17M105.8 971.8v17M199.6 971.8v17M325.7 971.8v17M412.4 971.8v17M416 971.8v17M90.2 988.4v17M232.4 988.4v17M257.2 988.4v17M269.9 988.4v17M317.5 988.4v17M91.8 1005.1v17M152 1005.1v17M154 1005.1v17M173 1005.1v17M264.4 1005.1v17M333.1 1005.1v17M453.9 1005.1v17M495.3 1005.1v17M120 1021.8v17M144.4 1021.8v17M189.6 1021.8v17M247 1021.8v17M336.3 1021.8v17M349.9 1021.8v17M364.7 1021.8v17M80.4 1038.4v17M209.6 1038.4v17M294.3 1038.4v17M354.7 1038.4v17M508.6 1038.4v17M102.6 1055.1v17M211.8 1055.1v17M360.9 1055.1v17M209 1071.8v17M209.8 1071.8v17M225.6 1071.8v17M309.9 1071.8v17M336.7 1071.8v17M351.3 1071.8v17M362.9 1071.8v17M380.5 1071.8v17M385.3 1071.8v17M508 1071.8v17M157 1088.5v17M163 1088.5v17M233.6 1088.5v17M358.5 1088.5v17M385.1 1088.5v17M406.8 1088.5v17M476.7 1088.5v17M531.2 1088.5v17M549 1088.5v17M560.6 1088.5v17M290.9 1105.1v17M338.7 1105.1v17M424.4 1105.1v17M445.2 1105.1v17M492.7 1105.1v17M506.2 1105.1v17M113 1121.8v17M180 1121.8v17M209.8 1121.8v17M337.3 1121.8v17M532.2 1121.8v17M106.6 1138.5v17M112.6 1138.5v17M202.4 1138.5v17M253.6 1138.5v17M300.9 1138.5v17M319.1 1138.5v17M324.7 1138.5v17M325.5 1138.5v17M395.8 1138.5v17M450.4 1138.5v17M456.3 1138.5v17M158 1155.1v17M165 1155.1v17M256.2 1155.1v17M301.3 1155.1v17M464.3 1155.1v17M540.8 1155.1v17M544.8 1155.1v17M551.2 1155.1v17"/>
<path stroke="#e6e6e6" stroke-width="0.6" d="M122.7 688.4v17M173.5 688.4v17M117.5 905.1v17M204.5 905.1v17M286.6 905.1v17M299.6 905.1v17M427.1 905.1v17M455.4 905.1v17M90.9 921.8v17M116.7 921.8v17M138.5 921.8v17M158.7 921.8v17M351.6 921.8v17M92.3 938.4v17M164.9 938.4v17M182.1 938.4v17M204.7 938.4v17M207.3 938.4v17M352.2 938.4v17M359.2 938.4v17M407.5 938.4v17M101.9 955.1v17M157.1 955.1v17M254.1 955.1v17M401.3 955.1v17M456 955.1v17M502.8 955.1v17M563.5 955.1v17M119.5 971.8v17M427.7 971.8v17M566.3 971.8v17M95.1 988.4v17M148.7 988.4v17M164.7 988.4v17M194.7 988.4v17M251.9 988.4v17M278.8 988.4v17M353.8 988.4v17M86.5 1005.1v17M87.1 1005.1v17M193.7 1005.1v17M295 1005.1v17M339.2 1005.1v17M363.2 1005.1v17M116.3 1021.8v17M155.7 1021.8v17M332.8 1021.8v17M344.4 1021.8v17M359.2 1021.8v17M389.4 1021.8v17M409.1 1021.8v17M443.7 1021.8v17M120.9 1038.4v17M183.7 1038.4v17M203.7 1038.4v17M245.9 1038.4v17M281.6 1038.4v17M292 1038.4v17M391.4 1038.4v17M441.7 1038.4v17M153.9 1055.1v17M194.5 1055.1v17M272 1055.1v17M348.2 1055.1v17M348.8 1055.1v17M477.4 1055.1v17M519.1 1055.1v17M525.3 1055.1v17M82.1 1071.8v17M140.5 1071.8v17M157.5 1071.8v17M234.5 1071.8v17M264.5 1071.8v17M342.8 1071.8v17M429.3 1071.8v17M549.9 1071.8v17M142.1 1088.5v17M153.1 1088.5v17M209.9 1088.5v17M295 1088.5v17M351.6 1088.5v17M411.1 1088.5v17M429.3 1088.5v17M157.9 1105.1v17M341.2 1105.1v17M399.5 1105.1v17M418.9 1105.1v17M521.9 1105.1v17M141.7 1121.8v17M187.7 1121.8v17M341 1121.8v17M455.4 1121.8v17M469.6 1121.8v17M497 1121.8v17M518.5 1121.8v17M176.1 1138.5v17M350.6 1138.5v17M352.8 1138.5v17M380.6 1138.5v17M412.9 1138.5v17M452.6 1138.5v17M462.8 1138.5v17M488.2 1138.5v17M153.7 1155.1v17M227.9 1155.1v17M275.4 1155.1v17M365.2 1155.1v17M389.4 1155.1v17M410.3 1155.1v17M504.7 1155.1v17M555.1 1155.1v17M570.7 1155.1v17"/>
<path stroke="#e6e6e6" stroke-width="1.2" d="M231 688.4v17M96.8 905.1v17M262.6 905.1v17M284.7 905.1v17M288.9 905.1v17M321.5 905.1v17M379.3 905.1v17M429 905.1v17M486.5 905.1v17M110 921.8v17M245 921.8v17M256.6 921.8v17M259 921.8v17M303.5 921.8v17M314.9 921.8v17M470.5 921.8v17M494.3 921.8v17M553 921.8v17M555.2 921.8v17M373.9 938.4v17M388.3 938.4v17M459.5 938.4v17M133 955.1v17M152 955.1v17M360.7 955.1v17M86.2 971.8v17M190.6 971.8v17M245.4 971.8v17M261.6 971.8v17M267.9 971.8v17M419 971.8v17M468.1 971.8v17M551.4 971.8v17M562.4 971.8v17M103.4 988.4v17M220.4 988.4v17M290.3 988.4v17M513 988.4v17M520.4 988.4v17M524.2 988.4v17M110.8 1005.1v17M129.6 1005.1v17M146 1005.1v17M213.8 1005.1v17M258.8 1005.1v17M312.1 1005.1v17M454.9 1005.1v17M498.5 1005.1v17M97.8 1021.8v17M100.6 1021.8v17M216.4 1021.8v17M296.9 1021.8v17M358.3 1021.8v17M437.6 1021.8v17M522.6 1021.8v17M300.7 1038.4v17M449.4 1038.4v17M471.9 1038.4v17M512.8 1038.4v17M191.4 1055.1v17M254.8 1055.1v17M331.9 1055.1v17M376.3 1055.1v17M406.6 1055.1v17M112 1071.8v17M181 1071.8v17M391.9 1071.8v17M414.8 1071.8v17M538.8 1071.8v17M151.4 1088.5v17M185.8 1088.5v17M220 1088.5v17M226.2 1088.5v17M258.2 1088.5v17M280.5 1088.5v17M285.5 1088.5v17M311.3 1088.5v17M418 1088.5v17M505.2 1088.5v17M548 1088.5v17M553 1088.5v17M279.7 1105.1v17M334.9 1105.1v17M345.9 1105.1v17M426.4 1105.1v17M464.3 1105.1v17M92.8 1121.8v17M126.8 1121.8v17M202.4 1121.8v17M280.7 1121.8v17M520.6 1121.8v17M543.6 1121.8v17M125.4 1138.5v17M196.2 1138.5v17M136.8 1155.1v17M178.8 1155.1v17M480.1 1155.1v17M492.5 1155.1v17M560 1155.1v17"/>
<path stroke="#e6e6e6" stroke-width="0.5" d="M503.2 905.1v17"/>
<path stroke="#e6e6e6" stroke-width="1.1" d="M266.7 1088.5v17"/>
<path stroke="#ee694c" stroke-width="1.3" d="M238.1 521.7v17M190.9 538.3v17M181.3 555v17"/>
<path stroke="#ee694c" stroke-width="1.6" d="M178.6 538.3v17M190.2 555v17M243.4 605v17"/>
<path stroke="#ee694c" stroke-width="1" d="M179.9 538.3v17M186.8 538.3v17M117.1 555v17M155.5 555v17M182.5 555v17M87.8 605v17M139.5 605v17M280.5 621.7v17M314.7 638.4v17M308.6 705v17M338.3 705v17M473 838.4v17M479.6 871.7v17M498.8 888.4v17M523.1 938.4v17M557.5 988.4v17"/>
<path stroke="#ee694c" stroke-width="0.7" d="M178.9 555v17M180.3 555v17M188.3 555v17"/>
<path stroke="#ee694c" stroke-width="1.2" d="M286.9 621.7v17M273.6 655v17M304.5 655v17M350.3 655v17M351.5 655v17M330.2 705v17M331.4 705v17M435.8 738.4v17M463.3 821.7v17M460.3 888.4v17M522 955.1v17"/>
<path stroke="#ee694c" stroke-width="1.5" d="M305.2 621.7v17M307.9 655v17M316.2 655v17"/>
<path stroke="#ee694c" stroke-width="2" d="M271.4 638.4v17M353.4 638.4v17M343.2 655v17M370.1 655v17M297.9 671.7v17M385 671.7v17M288.1 705v17M336 705v17M353.1 705v17"/>
<path stroke="#ee694c" stroke-width="0.8" d="M281.5 638.4v17M360.6 638.4v17M376 638.4v17M316.5 705v17M369.6 705v17M480.5 821.7v17M539 921.8v17"/>
<path stroke="#ee694c" stroke-width="1.1" d="M393.6 638.4v17"/>
<path stroke="#ee694c" stroke-width="0.6" d="M527.1 921.8v17M516.7 955.1v17M532.3 955.1v17"/>
<path stroke="#e1e1e1" stroke-width="1" d="M507.3 521.7v17M527.5 588.4v17M572.6 588.4v17M574.8 588.4v17M520.5 621.7v17M521.5 688.4v17M115.7 721.7v17M153.1 721.7v17M286.6 721.7v17M329.2 721.7v17M366.6 721.7v17M80.5 738.4v17M235.1 738.4v17M316 738.4v17M320.6 738.4v17M328.4 738.4v17M349.6 738.4v17M381 738.4v17M519.3 738.4v17M116.7 755v17M354.4 755v17M468.8 755v17M518.1 755v17M541.7 755v17M126.1 771.7v17M211.5 771.7v17M362.2 771.7v17M487.2 771.7v17M111.9 788.4v17M122.3 788.4v17M385.4 788.4v17M468.4 788.4v17M98.9 805.1v17M182.5 805.1v17M254.7 805.1v17M288.8 805.1v17M533.7 805.1v17M205.3 821.7v17M315.8 838.4v17M406.1 838.4v17M92.7 855.1v17M309 855.1v17M315 855.1v17M87.9 871.7v17M118.5 871.7v17M133.5 871.7v17M235.7 871.7v17M311.4 871.7v17M93.3 888.4v17M159.9 888.4v17M193.1 888.4v17M247.3 888.4v17M382.8 888.4v17M418.7 888.4v17M530.3 888.4v17M565.3 888.4v17"/>
<path stroke="#e1e1e1" stroke-width="1.2" d="M512.2 538.3v17M528.4 538.3v17M527.2 621.7v17M575.5 638.4v17M531.6 688.4v17M122.6 721.7v17M160.6 721.7v17M184.4 721.7v17M375.5 738.4v17M541.8 738.4v17M94.4 755v17M215.6 755v17M380.5 755v17M474.3 755v17M152.4 771.7v17M187.6 771.7v17M248.6 771.7v17M555.8 771.7v17M293.9 788.4v17M259.6 805.1v17M262 805.1v17M300.9 805.1v17M356.3 805.1v17M548 805.1v17M160 821.7v17M235.4 821.7v17M406 821.7v17M121 838.4v17M316.9 838.4v17M566.2 855.1v17M230.4 871.7v17M359.7 871.7v17M425 871.7v17M451.6 871.7v17M567 871.7v17M86 888.4v17M178.6 888.4v17M513.6 888.4v17"/>
<path stroke="#e1e1e1" stroke-width="0.8" d="M511 555v17M197.4 738.4v17M316.9 738.4v17M502.3 738.4v17M518.4 738.4v17M143.4 755v17M533.4 755v17M89 771.7v17M110.6 771.7v17M251.8 771.7v17M263.6 771.7v17M318.5 771.7v17M355.3 771.7v17M513.2 771.7v17M205.8 788.4v17M349.1 788.4v17M496.7 788.4v17M120.8 805.1v17M140 805.1v17M164.4 805.1v17M222.8 805.1v17M85.6 821.7v17M411.6 821.7v17M511.6 821.7v17M266 838.4v17M362.9 838.4v17M137 855.1v17M264.2 855.1v17M106.2 871.7v17M147.2 871.7v17M360.7 871.7v17M448.2 888.4v17M566.2 888.4v17"/>
<path stroke="#e1e1e1" stroke-width="0.6" d="M516.3 588.4v17M128.7 721.7v17M467.2 721.7v17M108.3 738.4v17M300 738.4v17M321.4 755v17M331.8 755v17M357 755v17M554.7 755v17M215.7 771.7v17M371.4 771.7v17M456.4 788.4v17M487.4 788.4v17M548.1 788.4v17M162.1 805.1v17M173.1 805.1v17M492.6 805.1v17M100.7 821.7v17M299.6 821.7v17M368.4 821.7v17M386.4 821.7v17M539.3 821.7v17M574.8 821.7v17M172.1 838.4v17M395.7 838.4v17M402.1 838.4v17M435.7 855.1v17M508.1 855.1v17M147.9 871.7v17M186.9 871.7v17M225.3 888.4v17M267.6 888.4v17M294.8 888.4v17M435.7 888.4v17"/>
<path stroke="#e1e1e1" stroke-width="0.9" d="M570.9 721.7v17"/>
<path stroke="#e1e1e1" stroke-width="0.4" d="M541 788.4v17"/>
<path stroke="#e1e1e1" stroke-width="0.2" d="M541.1 855.1v17"/>
<path stroke="#d8d8d8" stroke-width="0.6" d="M508.9 521.7v17M536.3 538.3v17M504.5 588.4v17"/>
<path stroke="#d8d8d8" stroke-width="1.2" d="M514 538.3v17M534.8 538.3v17M507.8 588.4v17"/>
<path stroke="#d8d8d8" stroke-width="1" d="M536.3 555v17M109.5 621.7v17M127.5 621.7v17M147.5 621.7v17"/>
<path stroke="#d8d8d8" stroke-width="0.8" d="M523.8 588.4v17"/>
<path stroke="#dfdfdf" stroke-width="1.2" d="M538.6 521.7v17M507.6 571.7v17M532.4 571.7v17M80.6 621.7v17M202.2 621.7v17M237.4 621.7v17M512.6 821.7v17M142.6 921.8v17M296.3 921.8v17M566.4 921.8v17M201.8 938.4v17M247 938.4v17M563.6 938.4v17M569.4 938.4v17M337.1 971.8v17M446.8 971.8v17M213.6 988.4v17M328.7 988.4v17M93.6 1005.1v17M230.6 1005.1v17M270.5 1005.1v17M397.4 1005.1v17M82.4 1021.8v17M140.6 1021.8v17M149 1021.8v17M362.5 1021.8v17M538.2 1021.8v17M384.5 1038.4v17M434 1038.4v17M187 1055.1v17M238.6 1055.1v17M278.3 1055.1v17M285.3 1055.1v17M354.3 1055.1v17M465.9 1055.1v17M139.6 1071.8v17M228.8 1071.8v17M233.6 1071.8v17M177.8 1105.1v17M444.2 1105.1v17M457.7 1105.1v17M491.7 1105.1v17M137.6 1121.8v17M349.1 1121.8v17M265.8 1138.5v17M525.6 1138.5v17M533 1138.5v17M551 1138.5v17M556.8 1138.5v17M176.4 1155.1v17M249.6 1155.1v17M419 1155.1v17"/>
<path stroke="#dfdfdf" stroke-width="0.8" d="M540.8 521.7v17M518.2 538.3v17M528.4 588.4v17M536.2 588.4v17M539.8 588.4v17M205.2 621.7v17M226.6 621.7v17M503.8 638.4v17M193.2 905.1v17M198 905.1v17M223 905.1v17M252.8 905.1v17M293.7 905.1v17M347.3 905.1v17M235.2 921.8v17M372.3 921.8v17M395.2 921.8v17M188.4 938.4v17M250.8 938.4v17M340.9 938.4v17M550.6 938.4v17M544 971.8v17M107.8 988.4v17M528 988.4v17M196 1005.1v17M175.2 1021.8v17M271.1 1021.8v17M279.3 1021.8v17M208.8 1038.4v17M304.5 1038.4v17M333.9 1055.1v17M343.1 1055.1v17M160.2 1071.8v17M200.8 1071.8v17M381.3 1071.8v17M508.8 1071.8v17M510.4 1071.8v17M547.2 1071.8v17M179 1088.5v17M434.2 1088.5v17M473.1 1088.5v17M98.6 1105.1v17M281.3 1105.1v17M490.7 1105.1v17M564.2 1105.1v17M138.6 1121.8v17M311.1 1121.8v17M357.1 1121.8v17M383.1 1121.8v17M401.4 1121.8v17M292.9 1138.5v17M345.7 1138.5v17M383.5 1138.5v17M447.4 1138.5v17M476.1 1138.5v17M482.9 1138.5v17M147.2 1155.1v17M266.2 1155.1v17M333.7 1155.1v17M411 1155.1v17M422.6 1155.1v17M462.5 1155.1v17M486.3 1155.1v17"/>
<path stroke="#dfdfdf" stroke-width="0.6" d="M508.5 555v17M512.5 555v17M523.9 555v17M258.3 621.7v17M264.7 621.7v17M537.3 621.7v17M531.3 671.7v17M523.5 688.4v17M259.9 905.1v17M436.5 905.1v17M252.3 921.8v17M311.4 921.8v17M178.5 938.4v17M84.3 971.8v17M198.9 971.8v17M341.6 971.8v17M381.8 971.8v17M85.5 988.4v17M322 988.4v17M340.6 988.4v17M362.4 988.4v17M504.5 988.4v17M252.3 1005.1v17M417.3 1005.1v17M473.2 1005.1v17M504.5 1005.1v17M190.3 1021.8v17M236.1 1021.8v17M299.2 1021.8v17M167.3 1038.4v17M250.7 1038.4v17M274 1038.4v17M289.8 1055.1v17M360.2 1055.1v17M380.8 1055.1v17M509.1 1055.1v17M80.3 1071.8v17M245.5 1071.8v17M527.3 1071.8v17M190.3 1088.5v17M201.3 1088.5v17M401.3 1088.5v17M108.1 1105.1v17M162.1 1105.1v17M326.2 1105.1v17M545.1 1105.1v17M95.9 1121.8v17M407.1 1121.8v17M304.4 1138.5v17M357.4 1138.5v17M511.7 1138.5v17M536.9 1138.5v17M542.3 1138.5v17M533.7 1155.1v17"/>
<path stroke="#dfdfdf" stroke-width="1" d="M217.1 621.7v17M521.1 638.4v17M430.9 921.8v17M564.3 921.8v17M231.5 938.4v17M326.8 938.4v17M384.8 938.4v17M455.2 938.4v17M467.8 938.4v17M120.3 971.8v17M319.6 971.8v17M459.8 971.8v17M466 971.8v17M481.8 971.8v17M116.3 988.4v17M118.3 988.4v17M187.7 988.4v17M206.5 988.4v17M113.7 1005.1v17M217.7 1005.1v17M281.4 1005.1v17M342 1005.1v17M408.1 1005.1v17M137.3 1021.8v17M232.5 1021.8v17M103.1 1038.4v17M118.7 1038.4v17M149.5 1038.4v17M162.1 1038.4v17M263.1 1038.4v17M301.8 1038.4v17M500 1038.4v17M231.5 1055.1v17M400.3 1055.1v17M436.7 1055.1v17M101.7 1071.8v17M108.1 1071.8v17M163.7 1071.8v17M262.7 1071.8v17M570.7 1071.8v17M188.3 1088.5v17M272.2 1088.5v17M281.6 1088.5v17M273.6 1105.1v17M366.8 1105.1v17M371.2 1105.1v17M532.5 1105.1v17M539.5 1105.1v17M144.5 1121.8v17M299.2 1121.8v17M310.2 1121.8v17M325.2 1121.8v17M468.8 1121.8v17M563.3 1121.8v17M246.1 1138.5v17M171.9 1155.1v17M197.3 1155.1v17M283.6 1155.1v17M361.6 1155.1v17M363.2 1155.1v17M400.1 1155.1v17"/>
<path stroke="#dfdfdf" stroke-width="0.9" d="M266.8 1038.4v17"/>
<path stroke="#dfdfdf" stroke-width="1.1" d="M502.9 1088.5v17"/>
<path stroke="#e83529" stroke-width="1.3" d="M120.7 538.3v17"/>
<path stroke="#e83529" stroke-width="1" d="M177.3 538.3v17M180.9 538.3v17M192.1 538.3v17M306.5 688.4v17M315.4 688.4v17M303.4 705v17M373.7 705v17M385.4 705v17M440.7 755v17M409.5 805.1v17M485.4 821.7v17M533.3 938.4v17M560.1 1005.1v17"/>
<path stroke="#e83529" stroke-width="0.8" d="M374.2 638.4v17M502.7 821.7v17M522.4 905.1v17M532.6 905.1v17M536.8 971.8v17"/>
<path stroke="#e83529" stroke-width="1.5" d="M280.2 655v17M268.1 688.4v17"/>
<path stroke="#e83529" stroke-width="2" d="M271.8 671.7v17M339.2 688.4v17"/>
<path stroke="#e83529" stroke-width="1.1" d="M393.6 671.7v17"/>
<path stroke="#e83529" stroke-width="1.2" d="M449.6 721.7v17M428.4 771.7v17M539.8 971.8v17M554 1038.4v17M570.2 1038.4v17"/>
<path stroke="#e83529" stroke-width="0.6" d="M417.1 771.7v17M530.1 921.8v17M528.7 971.8v17M556.1 988.4v17M544.3 1005.1v17M566.7 1055.1v17"/>
<path stroke="#e72822" stroke-width="1.6" d="M185.5 538.3v17M119.4 555v17M177.8 555v17"/>
<path stroke="#e72822" stroke-width="1.3" d="M189.6 538.3v17"/>
<path stroke="#e72822" stroke-width="1.5" d="M293.7 621.7v17M371.1 688.4v17"/>
<path stroke="#e72822" stroke-width="2" d="M377.4 638.4v17"/>
<path stroke="#e72822" stroke-width="1" d="M386.5 671.7v17M333.5 688.4v17M380.4 705v17"/>
<path stroke="#e72822" stroke-width="1.2" d="M392.5 671.7v17"/>
<path stroke="#e72822" stroke-width="0.8" d="M368.2 688.4v17M358.8 705v17M381.3 705v17M506 905.1v17M568.4 1038.4v17"/>
<path stroke="#e94230" stroke-width="1" d="M184.5 555v17M267.8 671.7v17M388.7 671.7v17M379.4 705v17M390.6 705v17M462 855.1v17M468.8 871.7v17M456.8 888.4v17M567.9 988.4v17M561.3 1055.1v17"/>
<path stroke="#e94230" stroke-width="0.7" d="M189 555v17"/>
<path stroke="#e94230" stroke-width="0.8" d="M374.2 621.7v17M339.2 638.4v17M291.9 655v17M398.4 738.4v17M488.1 821.7v17M475.3 888.4v17M523.2 921.8v17M506.2 971.8v17M531 971.8v17M547.6 1055.1v17M555.4 1055.1v17"/>
<path stroke="#e94230" stroke-width="2" d="M284.5 655v17M302.9 655v17M306.1 655v17M290.3 671.7v17M298.1 705v17"/>
<path stroke="#e94230" stroke-width="0.2" d="M394.1 688.4v17"/>
<path stroke="#e94230" stroke-width="1.2" d="M296.5 705v17M300.5 705v17M341.2 705v17M378.3 705v17M447.4 738.4v17M447.2 788.4v17M481.5 821.7v17M454.9 855.1v17M486.3 855.1v17M459.5 871.7v17M506.8 955.1v17M508.8 971.8v17M559 1005.1v17"/>
<path stroke="#e94230" stroke-width="1.5" d="M375 705v17"/>
<path stroke="#e94230" stroke-width="0.6" d="M544.5 1021.8v17"/>
<path stroke="#e40e14" stroke-width="1" d="M309.9 655v17M392.4 705v17"/>
<path stroke="#e40e14" stroke-width="1.2" d="M317.5 655v17M295.3 705v17M388.7 705v17"/>
<path stroke="#e40e14" stroke-width="0.8" d="M293.5 705v17"/>
<path stroke="#e40e14" stroke-width="1.3" d="M393.6 705v17"/>
<path stroke="#e51b1b" stroke-width="1.2" d="M285.9 671.7v17M387.6 671.7v17"/>
<path stroke="#cfcfcf" stroke-width="0.6" d="M404.5 688.4v17M461.6 688.4v17"/>
<path stroke="#cfcfcf" stroke-width="0.8" d="M558.8 688.4v17"/>
<path stroke="#d4d4d4" stroke-width="1" d="M460.8 688.4v17M543.5 688.4v17"/>
<path stroke="#d4d4d4" stroke-width="0.8" d="M498.9 688.4v17"/>
<path stroke="#d4d4d4" stroke-width="0.5" d="M503.2 688.4v17"/>
<path stroke="#d4d4d4" stroke-width="1.2" d="M557.8 688.4v17"/>
<line x1="267.3" y1="505" x2="267.3" y2="1172" stroke="#555" stroke-width="1"/>
<line x1="394.2" y1="505" x2="394.2" y2="1172" stroke="#555" stroke-width="1"/>
<line x1="452.3" y1="505" x2="452.3" y2="1172" stroke="#555" stroke-width="1"/>
<line x1="503.4" y1="505" x2="503.4" y2="1172" stroke="#555" stroke-width="1"/>
<line x1="541.2" y1="505" x2="541.2" y2="1172" stroke="#555" stroke-width="1"/>
<line x1="571.3" y1="505" x2="571.3" y2="1172" stroke="#555" stroke-width="1"/>
<text x="70.3" y="520.2" font-size="16.6" text-anchor="end" font-style="italic" font-weight="bold">Rbfox3</text>
<text x="70.3" y="536.8" font-size="16.6" text-anchor="end" font-style="italic" font-weight="bold">Snap25</text>
<text x="70.3" y="553.4" font-size="16.6" text-anchor="end" font-style="italic">Meg3</text>
<text x="70.3" y="570" font-size="16.6" text-anchor="end" font-style="italic">Snhg11</text>
<text x="70.3" y="586.6" font-size="16.6" text-anchor="end" font-style="italic">Syt1</text>
<text x="70.3" y="603.2" font-size="16.6" text-anchor="end" font-style="italic">Atp1a3</text>
<text x="70.3" y="619.8" font-size="16.6" text-anchor="end" font-style="italic">Snca</text>
<text x="70.3" y="636.4" font-size="16.6" text-anchor="end" font-style="italic">Aldoc</text>
<text x="70.3" y="653" font-size="16.6" text-anchor="end" font-style="italic">Mfge8</text>
<text x="70.3" y="669.6" font-size="16.6" text-anchor="end" font-style="italic">Ntsr2</text>
<text x="70.3" y="686.2" font-size="16.6" text-anchor="end" font-style="italic" font-weight="bold">Slc1a3</text>
<text x="70.3" y="702.8" font-size="16.6" text-anchor="end" font-style="italic">Clu</text>
<text x="70.3" y="719.4" font-size="16.6" text-anchor="end" font-style="italic">Gja1</text>
<text x="70.3" y="736" font-size="16.6" text-anchor="end" font-style="italic" font-weight="bold">Ctss</text>
<text x="70.3" y="752.6" font-size="16.6" text-anchor="end" font-style="italic">C1qb</text>
<text x="70.3" y="769.2" font-size="16.6" text-anchor="end" font-style="italic">C1qc</text>
<text x="70.3" y="785.8" font-size="16.6" text-anchor="end" font-style="italic">C1qa</text>
<text x="70.3" y="802.4" font-size="16.6" text-anchor="end" font-style="italic">Hexb</text>
<text x="70.3" y="819" font-size="16.6" text-anchor="end" font-style="italic">Selplg</text>
<text x="70.3" y="835.6" font-size="16.6" text-anchor="end" font-style="italic" font-weight="bold">Plp1</text>
<text x="70.3" y="852.2" font-size="16.6" text-anchor="end" font-style="italic">Cldn11</text>
<text x="70.3" y="868.8" font-size="16.6" text-anchor="end" font-style="italic" font-weight="bold">Mog</text>
<text x="70.3" y="885.4" font-size="16.6" text-anchor="end" font-style="italic">Mal</text>
<text x="70.3" y="902" font-size="16.6" text-anchor="end" font-style="italic">Mag</text>
<text x="70.3" y="918.6" font-size="16.6" text-anchor="end" font-style="italic">Pdgfra</text>
<text x="70.3" y="935.2" font-size="16.6" text-anchor="end" font-style="italic">Lhfpl3</text>
<text x="70.3" y="951.8" font-size="16.6" text-anchor="end" font-style="italic" font-weight="bold">Cspg4</text>
<text x="70.3" y="968.4" font-size="16.6" text-anchor="end" font-style="italic">Sapcd2</text>
<text x="70.3" y="985" font-size="16.6" text-anchor="end" font-style="italic">C1ql1</text>
<text x="70.3" y="1001.6" font-size="16.6" text-anchor="end" font-style="italic">Vtn</text>
<text x="70.3" y="1018.2" font-size="16.6" text-anchor="end" font-style="italic">Ly6c1</text>
<text x="70.3" y="1034.8" font-size="16.6" text-anchor="end" font-style="italic">Ly6a</text>
<text x="70.3" y="1051.4" font-size="16.6" text-anchor="end" font-style="italic">Rgs5</text>
<text x="70.3" y="1068" font-size="16.6" text-anchor="end" font-style="italic" font-weight="bold">Cldn5</text>
<text x="70.3" y="1084.6" font-size="16.6" text-anchor="end" font-style="italic">Ecrg4</text>
<text x="70.3" y="1101.2" font-size="16.6" text-anchor="end" font-style="italic">Folr1</text>
<text x="70.3" y="1117.8" font-size="16.6" text-anchor="end" font-style="italic" font-weight="bold">Kcnj13</text>
<text x="70.3" y="1134.4" font-size="16.6" text-anchor="end" font-style="italic">Ttr</text>
<text x="70.3" y="1151" font-size="16.6" text-anchor="end" font-style="italic">Sostdc1</text>
<text x="70.3" y="1167.6" font-size="16.6" text-anchor="end" font-style="italic">Kcne2</text>
<defs><linearGradient id="gb" x1="0" y1="0" x2="0" y2="1">
<stop offset="0%" stop-color="#e40e14"/>
<stop offset="8.3%" stop-color="#e93d2d"/>
<stop offset="16.7%" stop-color="#ee6c4f"/>
<stop offset="25%" stop-color="#f39a83"/>
<stop offset="33.3%" stop-color="#f8c6b7"/>
<stop offset="41.7%" stop-color="#fdf0eb"/>
<stop offset="50%" stop-color="#fefbfa"/>
<stop offset="58.3%" stop-color="#f7f7f7"/>
<stop offset="66.7%" stop-color="#ececec"/>
<stop offset="75%" stop-color="#e3e3e3"/>
<stop offset="83.3%" stop-color="#dadada"/>
<stop offset="91.7%" stop-color="#d2d2d2"/>
<stop offset="100%" stop-color="#cbcbcb"/>
</linearGradient></defs>
<rect x="587" y="538.9" width="27.6" height="137.1" fill="url(#gb)"/>
<path d="M587,557.6 h4.5 M610.1,557.6 h4.5" stroke="#fff" stroke-width="1.3"/>
<path d="M587,595.4 h4.5 M610.1,595.4 h4.5" stroke="#fff" stroke-width="1.3"/>
<path d="M587,633 h4.5 M610.1,633 h4.5" stroke="#fff" stroke-width="1.3"/>
<path d="M587,670.7 h4.5 M610.1,670.7 h4.5" stroke="#fff" stroke-width="1.3"/>
<text x="588.5" y="531.6" font-size="20.5">Expr.</text>
<text x="620.5" y="565.1" font-size="20.5">2</text>
<text x="620.5" y="602.9" font-size="20.5">1</text>
<text x="620.5" y="640.5" font-size="20.5">0</text>
<text x="620.5" y="678.2" font-size="20.5">−1</text>
</g>
<g id="pc">
<text transform="translate(533.5,28) scale(1.1,1)" font-size="32" font-weight="bold" stroke="#000" stroke-width="1.3">c</text>
<g fill="#7d7d7d" fill-opacity="0.45"><circle cx="732.3" cy="156.2" r="2.6"/><circle cx="736.4" cy="239.9" r="2.6"/><circle cx="721.6" cy="254.2" r="2.6"/><circle cx="652.4" cy="248.4" r="2.6"/><circle cx="653.6" cy="232.1" r="2.6"/><circle cx="647.3" cy="258" r="2.6"/><circle cx="636.3" cy="236.5" r="2.6"/><circle cx="653.6" cy="237.3" r="2.6"/><circle cx="646.8" cy="241.9" r="2.6"/><circle cx="637.3" cy="240.4" r="2.6"/><circle cx="655.9" cy="251.4" r="2.6"/><circle cx="648.9" cy="234.3" r="2.6"/><circle cx="649.6" cy="247.1" r="2.6"/><circle cx="640.7" cy="237.1" r="2.6"/><circle cx="654.6" cy="233.6" r="2.6"/><circle cx="644.6" cy="236.8" r="2.6"/><circle cx="652.6" cy="246.4" r="2.6"/><circle cx="651.6" cy="246.1" r="2.6"/><circle cx="639.7" cy="259.4" r="2.6"/><circle cx="651" cy="236.6" r="2.6"/><circle cx="634.6" cy="256.3" r="2.6"/><circle cx="642.7" cy="251.3" r="2.6"/><circle cx="651.2" cy="251.9" r="2.6"/><circle cx="648.4" cy="241.7" r="2.6"/><circle cx="643.4" cy="234.2" r="2.6"/><circle cx="645.4" cy="242.7" r="2.6"/><circle cx="649.9" cy="245.6" r="2.6"/><circle cx="639.3" cy="231.9" r="2.6"/><circle cx="651.5" cy="241.8" r="2.6"/><circle cx="646.6" cy="240" r="2.6"/><circle cx="642.1" cy="255.9" r="2.6"/><circle cx="647.6" cy="233.1" r="2.6"/><circle cx="636.7" cy="231.2" r="2.6"/><circle cx="644" cy="230.8" r="2.6"/><circle cx="651.9" cy="249.3" r="2.6"/><circle cx="640.1" cy="233.4" r="2.6"/><circle cx="655.5" cy="235.3" r="2.6"/><circle cx="648.4" cy="241.8" r="2.6"/><circle cx="652.1" cy="234.9" r="2.6"/><circle cx="653" cy="248.8" r="2.6"/><circle cx="652.9" cy="231.8" r="2.6"/><circle cx="648.2" cy="258.8" r="2.6"/><circle cx="639.4" cy="239.1" r="2.6"/><circle cx="645.1" cy="232.7" r="2.6"/><circle cx="649.5" cy="237.9" r="2.6"/><circle cx="638.3" cy="242.3" r="2.6"/><circle cx="650.8" cy="232.7" r="2.6"/><circle cx="654.2" cy="249.6" r="2.6"/><circle cx="628.9" cy="255.1" r="2.6"/><circle cx="653.5" cy="223.6" r="2.6"/><circle cx="652.3" cy="230.8" r="2.6"/><circle cx="645.1" cy="235.6" r="2.6"/><circle cx="642.7" cy="236.8" r="2.6"/><circle cx="625.4" cy="277.7" r="2.6"/><circle cx="609.6" cy="304.2" r="2.6"/><circle cx="648.7" cy="282.6" r="2.6"/><circle cx="655" cy="285.5" r="2.6"/><circle cx="652.7" cy="300.1" r="2.6"/><circle cx="654.4" cy="294.6" r="2.6"/><circle cx="652.7" cy="295.4" r="2.6"/><circle cx="640.3" cy="280.6" r="2.6"/><circle cx="629.5" cy="283.1" r="2.6"/><circle cx="644.5" cy="283.9" r="2.6"/><circle cx="642.9" cy="280.4" r="2.6"/><circle cx="637.6" cy="286.5" r="2.6"/><circle cx="604.7" cy="285.8" r="2.6"/><circle cx="622.8" cy="304.8" r="2.6"/><circle cx="649.6" cy="281.2" r="2.6"/><circle cx="634.9" cy="277.6" r="2.6"/><circle cx="610.1" cy="323.2" r="2.6"/><circle cx="634.2" cy="289.8" r="2.6"/><circle cx="648.5" cy="288.1" r="2.6"/><circle cx="651.5" cy="279.2" r="2.6"/><circle cx="625.5" cy="305.1" r="2.6"/><circle cx="642.9" cy="292.6" r="2.6"/><circle cx="651.7" cy="289.4" r="2.6"/><circle cx="620.2" cy="291.4" r="2.6"/><circle cx="635.9" cy="283.9" r="2.6"/><circle cx="643.2" cy="296" r="2.6"/><circle cx="652" cy="297.3" r="2.6"/><circle cx="630.9" cy="286.6" r="2.6"/><circle cx="654.1" cy="305.7" r="2.6"/><circle cx="653.4" cy="302.1" r="2.6"/><circle cx="634.5" cy="293.9" r="2.6"/><circle cx="650" cy="288.8" r="2.6"/><circle cx="650.3" cy="294.4" r="2.6"/><circle cx="645.9" cy="296.3" r="2.6"/><circle cx="645.7" cy="284.7" r="2.6"/><circle cx="637.7" cy="292.5" r="2.6"/><circle cx="642.7" cy="310.1" r="2.6"/><circle cx="650.1" cy="310.6" r="2.6"/><circle cx="650" cy="277.9" r="2.6"/><circle cx="653.5" cy="288.3" r="2.6"/><circle cx="654" cy="288.5" r="2.6"/><circle cx="637.7" cy="285" r="2.6"/><circle cx="614.6" cy="298.7" r="2.6"/><circle cx="642.7" cy="303" r="2.6"/><circle cx="645.4" cy="285.2" r="2.6"/><circle cx="645.5" cy="290.8" r="2.6"/><circle cx="624.7" cy="299.4" r="2.6"/><circle cx="646.2" cy="280.1" r="2.6"/><circle cx="653.4" cy="284.6" r="2.6"/><circle cx="650.5" cy="285.8" r="2.6"/><circle cx="648.2" cy="307.3" r="2.6"/><circle cx="640.6" cy="316.4" r="2.6"/><circle cx="631.9" cy="310.1" r="2.6"/><circle cx="649.5" cy="285.3" r="2.6"/><circle cx="645.1" cy="287.6" r="2.6"/><circle cx="645.7" cy="285.6" r="2.6"/><circle cx="625.1" cy="285.6" r="2.6"/><circle cx="629.4" cy="310.5" r="2.6"/><circle cx="625.6" cy="294.4" r="2.6"/><circle cx="649.2" cy="284.7" r="2.6"/><circle cx="649.1" cy="302" r="2.6"/><circle cx="648.2" cy="279.3" r="2.6"/><circle cx="624.2" cy="296.4" r="2.6"/><circle cx="608.1" cy="293.8" r="2.6"/><circle cx="600.7" cy="293.1" r="2.6"/><circle cx="652.7" cy="285.1" r="2.6"/><circle cx="653.5" cy="316.6" r="2.6"/><circle cx="634.3" cy="300.3" r="2.6"/><circle cx="645.8" cy="293.2" r="2.6"/><circle cx="645.5" cy="296.6" r="2.6"/><circle cx="649.5" cy="293.7" r="2.6"/><circle cx="635.3" cy="288.5" r="2.6"/><circle cx="646.1" cy="281.9" r="2.6"/><circle cx="623.4" cy="300.8" r="2.6"/><circle cx="625.9" cy="314.4" r="2.6"/><circle cx="651.9" cy="287.1" r="2.6"/><circle cx="652.2" cy="296.4" r="2.6"/><circle cx="631.6" cy="294.9" r="2.6"/><circle cx="636.5" cy="298.6" r="2.6"/><circle cx="633.8" cy="296.8" r="2.6"/><circle cx="633.6" cy="282.5" r="2.6"/><circle cx="610.8" cy="295.2" r="2.6"/><circle cx="616.3" cy="303.8" r="2.6"/><circle cx="617.7" cy="305.8" r="2.6"/><circle cx="654.6" cy="288.5" r="2.6"/><circle cx="649.7" cy="286.4" r="2.6"/><circle cx="648.8" cy="278.4" r="2.6"/><circle cx="649.5" cy="284.7" r="2.6"/><circle cx="648.6" cy="280.8" r="2.6"/><circle cx="650" cy="294" r="2.6"/><circle cx="648.4" cy="332.7" r="2.6"/><circle cx="652.9" cy="276.9" r="2.6"/><circle cx="634.7" cy="278.1" r="2.6"/><circle cx="655" cy="288.8" r="2.6"/><circle cx="650.8" cy="293.9" r="2.6"/><circle cx="611.7" cy="304.8" r="2.6"/><circle cx="646.6" cy="280.5" r="2.6"/><circle cx="653" cy="312.3" r="2.6"/><circle cx="649.7" cy="302.5" r="2.6"/><circle cx="627" cy="303.2" r="2.6"/><circle cx="651.6" cy="277" r="2.6"/><circle cx="646.2" cy="300.1" r="2.6"/><circle cx="640.1" cy="301" r="2.6"/><circle cx="654.1" cy="318.9" r="2.6"/><circle cx="640" cy="291.3" r="2.6"/><circle cx="629.7" cy="301.9" r="2.6"/><circle cx="650.4" cy="278.9" r="2.6"/><circle cx="620" cy="304.5" r="2.6"/><circle cx="647.3" cy="284.2" r="2.6"/><circle cx="654.2" cy="288.8" r="2.6"/><circle cx="644" cy="289.4" r="2.6"/><circle cx="618" cy="298.7" r="2.6"/><circle cx="645.5" cy="291.9" r="2.6"/><circle cx="600.7" cy="312.7" r="2.6"/><circle cx="635" cy="284.1" r="2.6"/><circle cx="638.9" cy="295.8" r="2.6"/><circle cx="644.7" cy="294.4" r="2.6"/><circle cx="653.8" cy="288.1" r="2.6"/><circle cx="653.3" cy="275.7" r="2.6"/><circle cx="634.2" cy="297.3" r="2.6"/><circle cx="641.2" cy="278.4" r="2.6"/><circle cx="654.3" cy="287.2" r="2.6"/><circle cx="652.6" cy="285.1" r="2.6"/><circle cx="632.3" cy="285.1" r="2.6"/><circle cx="643.7" cy="293" r="2.6"/><circle cx="642.4" cy="282.6" r="2.6"/><circle cx="643.6" cy="297.7" r="2.6"/><circle cx="649.6" cy="286.5" r="2.6"/><circle cx="630.2" cy="291.2" r="2.6"/><circle cx="653.7" cy="302" r="2.6"/><circle cx="618" cy="323.4" r="2.6"/><circle cx="651.9" cy="290.5" r="2.6"/><circle cx="629.8" cy="294.8" r="2.6"/><circle cx="649.4" cy="284.4" r="2.6"/><circle cx="653.1" cy="284.1" r="2.6"/><circle cx="634.3" cy="284.5" r="2.6"/><circle cx="634.8" cy="283.1" r="2.6"/><circle cx="622" cy="304.5" r="2.6"/><circle cx="633.8" cy="296.9" r="2.6"/><circle cx="622.9" cy="296" r="2.6"/><circle cx="643.6" cy="284.9" r="2.6"/><circle cx="646.4" cy="291.8" r="2.6"/><circle cx="653.6" cy="276.9" r="2.6"/><circle cx="646.6" cy="280" r="2.6"/><circle cx="650.7" cy="309.5" r="2.6"/><circle cx="653.4" cy="281.8" r="2.6"/><circle cx="651.2" cy="278.3" r="2.6"/><circle cx="649.6" cy="304" r="2.6"/><circle cx="653.7" cy="290.1" r="2.6"/><circle cx="654.6" cy="278" r="2.6"/><circle cx="653.5" cy="288.1" r="2.6"/><circle cx="654.6" cy="291.5" r="2.6"/><circle cx="654.3" cy="287.7" r="2.6"/><circle cx="654.9" cy="309.3" r="2.6"/><circle cx="616.7" cy="294.9" r="2.6"/><circle cx="649" cy="283" r="2.6"/><circle cx="628" cy="296.5" r="2.6"/><circle cx="647.8" cy="286.3" r="2.6"/><circle cx="634.2" cy="298.1" r="2.6"/><circle cx="633.7" cy="292.5" r="2.6"/><circle cx="650.5" cy="277.6" r="2.6"/><circle cx="646.2" cy="319.6" r="2.6"/><circle cx="636.3" cy="297.5" r="2.6"/><circle cx="620.3" cy="294.4" r="2.6"/><circle cx="624.6" cy="279.5" r="2.6"/><circle cx="632.8" cy="286.7" r="2.6"/><circle cx="650.1" cy="288.4" r="2.6"/><circle cx="646.8" cy="280.6" r="2.6"/><circle cx="631.6" cy="285.9" r="2.6"/><circle cx="641.1" cy="290.9" r="2.6"/><circle cx="649.2" cy="314.2" r="2.6"/><circle cx="649" cy="297.7" r="2.6"/><circle cx="640.5" cy="297.1" r="2.6"/><circle cx="653.5" cy="281.2" r="2.6"/><circle cx="635.5" cy="282" r="2.6"/><circle cx="637.4" cy="279.3" r="2.6"/><circle cx="651.5" cy="290.6" r="2.6"/><circle cx="636.8" cy="293.1" r="2.6"/><circle cx="650.8" cy="300.2" r="2.6"/><circle cx="649.7" cy="314.9" r="2.6"/><circle cx="646.3" cy="314" r="2.6"/><circle cx="637.9" cy="286.1" r="2.6"/><circle cx="632.2" cy="286.2" r="2.6"/><circle cx="641.4" cy="293.7" r="2.6"/><circle cx="622.3" cy="291.7" r="2.6"/><circle cx="640.3" cy="285.7" r="2.6"/><circle cx="623.4" cy="302.3" r="2.6"/><circle cx="641.9" cy="283.7" r="2.6"/><circle cx="654.1" cy="290.2" r="2.6"/><circle cx="610.9" cy="296" r="2.6"/><circle cx="654.5" cy="297" r="2.6"/><circle cx="642.9" cy="298.7" r="2.6"/><circle cx="636.9" cy="289.8" r="2.6"/><circle cx="652.3" cy="281.5" r="2.6"/><circle cx="642" cy="282.4" r="2.6"/><circle cx="646.2" cy="280.9" r="2.6"/><circle cx="653.5" cy="287.2" r="2.6"/><circle cx="620" cy="302.8" r="2.6"/><circle cx="605" cy="299.4" r="2.6"/><circle cx="622.4" cy="314.9" r="2.6"/><circle cx="650.7" cy="276.2" r="2.6"/><circle cx="629.4" cy="286.8" r="2.6"/><circle cx="651.8" cy="283.6" r="2.6"/><circle cx="634.8" cy="316.7" r="2.6"/><circle cx="651.8" cy="284.8" r="2.6"/><circle cx="652.3" cy="286.5" r="2.6"/><circle cx="652.1" cy="289.8" r="2.6"/><circle cx="644" cy="283.6" r="2.6"/><circle cx="630.1" cy="297.5" r="2.6"/><circle cx="648.9" cy="300.2" r="2.6"/><circle cx="652" cy="285.1" r="2.6"/><circle cx="625.2" cy="282.6" r="2.6"/><circle cx="654.2" cy="296.3" r="2.6"/><circle cx="637.4" cy="297.2" r="2.6"/><circle cx="642.7" cy="289.2" r="2.6"/><circle cx="645.3" cy="286" r="2.6"/><circle cx="655.1" cy="301.6" r="2.6"/><circle cx="618.3" cy="286.1" r="2.6"/><circle cx="626.3" cy="293.8" r="2.6"/><circle cx="634.4" cy="307.7" r="2.6"/><circle cx="641.5" cy="291.2" r="2.6"/><circle cx="627.4" cy="280" r="2.6"/><circle cx="650.2" cy="282" r="2.6"/><circle cx="644.6" cy="297.9" r="2.6"/><circle cx="637.8" cy="306.5" r="2.6"/><circle cx="604.7" cy="303.6" r="2.6"/><circle cx="642.4" cy="290.6" r="2.6"/><circle cx="632.1" cy="289.3" r="2.6"/><circle cx="645.6" cy="283.2" r="2.6"/><circle cx="624.1" cy="296" r="2.6"/><circle cx="638.5" cy="294.4" r="2.6"/><circle cx="628.5" cy="297.5" r="2.6"/><circle cx="627" cy="294" r="2.6"/><circle cx="644.1" cy="289.4" r="2.6"/><circle cx="620.8" cy="300.5" r="2.6"/><circle cx="651.4" cy="286.5" r="2.6"/><circle cx="650.6" cy="311.3" r="2.6"/><circle cx="650.5" cy="294.2" r="2.6"/><circle cx="650.4" cy="283.3" r="2.6"/><circle cx="653.5" cy="284.2" r="2.6"/><circle cx="655.3" cy="275.9" r="2.6"/><circle cx="641.5" cy="305.4" r="2.6"/><circle cx="633.7" cy="292.8" r="2.6"/><circle cx="643.3" cy="280.8" r="2.6"/><circle cx="649.1" cy="283.5" r="2.6"/><circle cx="649.1" cy="279.1" r="2.6"/><circle cx="616.1" cy="288.7" r="2.6"/><circle cx="641.2" cy="295.5" r="2.6"/><circle cx="639.8" cy="289" r="2.6"/><circle cx="639.1" cy="283.4" r="2.6"/><circle cx="622.4" cy="290.1" r="2.6"/><circle cx="649.1" cy="296.2" r="2.6"/><circle cx="635.9" cy="295.6" r="2.6"/><circle cx="650.1" cy="294.6" r="2.6"/><circle cx="653.4" cy="288.8" r="2.6"/><circle cx="654.7" cy="290.7" r="2.6"/><circle cx="648.1" cy="278.1" r="2.6"/><circle cx="641" cy="282" r="2.6"/><circle cx="639" cy="280.4" r="2.6"/><circle cx="637.7" cy="317.6" r="2.6"/><circle cx="652.5" cy="284.9" r="2.6"/><circle cx="649.1" cy="293.8" r="2.6"/><circle cx="626" cy="286.8" r="2.6"/><circle cx="638.5" cy="281.2" r="2.6"/><circle cx="641.7" cy="291.4" r="2.6"/><circle cx="640.5" cy="284.8" r="2.6"/><circle cx="631.3" cy="309.2" r="2.6"/><circle cx="651.7" cy="298.2" r="2.6"/><circle cx="631.3" cy="300.1" r="2.6"/><circle cx="649.4" cy="282.5" r="2.6"/><circle cx="654.9" cy="276.2" r="2.6"/><circle cx="633.7" cy="279.8" r="2.6"/><circle cx="638.2" cy="297.8" r="2.6"/><circle cx="649.4" cy="286.5" r="2.6"/><circle cx="643.6" cy="287.3" r="2.6"/><circle cx="646.6" cy="288.6" r="2.6"/><circle cx="641" cy="289.3" r="2.6"/><circle cx="642.7" cy="285.1" r="2.6"/><circle cx="640.5" cy="300" r="2.6"/><circle cx="627.6" cy="292.4" r="2.6"/><circle cx="635" cy="293.6" r="2.6"/><circle cx="655.2" cy="296.3" r="2.6"/><circle cx="650.7" cy="289.3" r="2.6"/><circle cx="629.9" cy="285.4" r="2.6"/><circle cx="652.2" cy="280.8" r="2.6"/><circle cx="648.6" cy="308.6" r="2.6"/><circle cx="649.8" cy="288" r="2.6"/><circle cx="628.7" cy="307.7" r="2.6"/><circle cx="647.8" cy="292.4" r="2.6"/><circle cx="653.3" cy="282.5" r="2.6"/><circle cx="640" cy="286.8" r="2.6"/><circle cx="636.1" cy="283.2" r="2.6"/><circle cx="626.9" cy="303" r="2.6"/><circle cx="620.2" cy="318.8" r="2.6"/><circle cx="640" cy="289.2" r="2.6"/><circle cx="652.8" cy="287.9" r="2.6"/><circle cx="637.8" cy="282.5" r="2.6"/><circle cx="638.3" cy="281.5" r="2.6"/><circle cx="641.2" cy="296.9" r="2.6"/><circle cx="631.2" cy="293.9" r="2.6"/><circle cx="640.9" cy="291.3" r="2.6"/><circle cx="645.6" cy="278.6" r="2.6"/><circle cx="654" cy="287" r="2.6"/><circle cx="640.9" cy="291.8" r="2.6"/><circle cx="653.6" cy="290.1" r="2.6"/><circle cx="645.1" cy="293.4" r="2.6"/><circle cx="639.7" cy="315.3" r="2.6"/><circle cx="638.2" cy="289.8" r="2.6"/><circle cx="632.5" cy="287.7" r="2.6"/><circle cx="636.8" cy="290.6" r="2.6"/><circle cx="629.9" cy="280.9" r="2.6"/><circle cx="654.6" cy="304.7" r="2.6"/><circle cx="654" cy="282.6" r="2.6"/><circle cx="640.3" cy="282.2" r="2.6"/><circle cx="635.6" cy="282.7" r="2.6"/><circle cx="642.1" cy="284.1" r="2.6"/><circle cx="637.4" cy="298.5" r="2.6"/><circle cx="638.2" cy="288" r="2.6"/><circle cx="651.8" cy="291.7" r="2.6"/><circle cx="638.8" cy="300.3" r="2.6"/><circle cx="651.7" cy="284.3" r="2.6"/><circle cx="620.3" cy="299.9" r="2.6"/><circle cx="638.7" cy="281.4" r="2.6"/><circle cx="633.3" cy="304.8" r="2.6"/><circle cx="637.5" cy="279.6" r="2.6"/><circle cx="620.7" cy="302.3" r="2.6"/><circle cx="630.4" cy="305.7" r="2.6"/><circle cx="655.2" cy="291.6" r="2.6"/><circle cx="655.3" cy="283" r="2.6"/><circle cx="647" cy="288" r="2.6"/><circle cx="650.2" cy="297.9" r="2.6"/><circle cx="650.4" cy="279.2" r="2.6"/><circle cx="641.8" cy="281.5" r="2.6"/><circle cx="645.6" cy="296.3" r="2.6"/><circle cx="639.3" cy="284" r="2.6"/><circle cx="651.3" cy="286.5" r="2.6"/><circle cx="627.3" cy="292.4" r="2.6"/><circle cx="638.1" cy="300.6" r="2.6"/><circle cx="647.6" cy="281.2" r="2.6"/><circle cx="642.2" cy="307.2" r="2.6"/><circle cx="638.5" cy="285.2" r="2.6"/><circle cx="652.3" cy="278.2" r="2.6"/><circle cx="649" cy="280.6" r="2.6"/><circle cx="652.2" cy="285.5" r="2.6"/><circle cx="631.4" cy="279.6" r="2.6"/><circle cx="654.1" cy="278.1" r="2.6"/><circle cx="643.2" cy="280.8" r="2.6"/><circle cx="632.7" cy="308.9" r="2.6"/><circle cx="639.5" cy="287" r="2.6"/><circle cx="632.4" cy="300.4" r="2.6"/><circle cx="645.3" cy="292.6" r="2.6"/><circle cx="639.8" cy="287" r="2.6"/><circle cx="610.8" cy="299.4" r="2.6"/><circle cx="639" cy="299.4" r="2.6"/><circle cx="642.1" cy="284.1" r="2.6"/><circle cx="616.8" cy="293.3" r="2.6"/><circle cx="647" cy="288.4" r="2.6"/><circle cx="617.3" cy="300.4" r="2.6"/><circle cx="637.9" cy="285.8" r="2.6"/><circle cx="650.4" cy="321.5" r="2.6"/><circle cx="638.5" cy="297.1" r="2.6"/><circle cx="651.3" cy="276.1" r="2.6"/><circle cx="639.7" cy="321.9" r="2.6"/><circle cx="654" cy="282.2" r="2.6"/><circle cx="645.1" cy="278.2" r="2.6"/><circle cx="647.8" cy="287.2" r="2.6"/><circle cx="648.3" cy="284.2" r="2.6"/><circle cx="650.3" cy="297.8" r="2.6"/><circle cx="654.7" cy="277.8" r="2.6"/><circle cx="645" cy="288.6" r="2.6"/><circle cx="653.3" cy="283.2" r="2.6"/><circle cx="650.6" cy="278" r="2.6"/><circle cx="639.4" cy="288.2" r="2.6"/><circle cx="640.4" cy="288.4" r="2.6"/><circle cx="651.3" cy="302.5" r="2.6"/><circle cx="642.2" cy="289.5" r="2.6"/><circle cx="621.8" cy="295.8" r="2.6"/><circle cx="620.1" cy="298.6" r="2.6"/><circle cx="645.3" cy="303.6" r="2.6"/><circle cx="630.8" cy="306.9" r="2.6"/><circle cx="616.5" cy="301.5" r="2.6"/><circle cx="625.1" cy="299.2" r="2.6"/><circle cx="580" cy="339.5" r="2.6"/><circle cx="604.3" cy="314.1" r="2.6"/><circle cx="615.4" cy="323.2" r="2.6"/><circle cx="643.1" cy="290.8" r="2.6"/><circle cx="594" cy="343.2" r="2.6"/><circle cx="589.8" cy="337.6" r="2.6"/><circle cx="570.8" cy="347.1" r="2.6"/><circle cx="607.8" cy="326.8" r="2.6"/><circle cx="628.2" cy="300.6" r="2.6"/><circle cx="573.1" cy="338.7" r="2.6"/><circle cx="596.2" cy="339.4" r="2.6"/><circle cx="643.4" cy="288.8" r="2.6"/><circle cx="579.3" cy="341.1" r="2.6"/><circle cx="592.8" cy="336.6" r="2.6"/><circle cx="628.6" cy="299.2" r="2.6"/><circle cx="575.6" cy="324.8" r="2.6"/><circle cx="626.7" cy="303.6" r="2.6"/><circle cx="621.8" cy="297.6" r="2.6"/><circle cx="588.9" cy="316.7" r="2.6"/><circle cx="583" cy="337.4" r="2.6"/><circle cx="592.4" cy="329.5" r="2.6"/><circle cx="629.1" cy="294.3" r="2.6"/><circle cx="636.2" cy="296" r="2.6"/><circle cx="642.6" cy="281.5" r="2.6"/><circle cx="605.8" cy="323.3" r="2.6"/><circle cx="604.1" cy="316.4" r="2.6"/><circle cx="634.4" cy="290.9" r="2.6"/><circle cx="573.7" cy="353.7" r="2.6"/><circle cx="628.4" cy="298.2" r="2.6"/><circle cx="605.9" cy="328.6" r="2.6"/><circle cx="606.2" cy="314.6" r="2.6"/><circle cx="639.4" cy="286.1" r="2.6"/><circle cx="582.6" cy="347" r="2.6"/><circle cx="612.4" cy="319.9" r="2.6"/><circle cx="635.1" cy="295.1" r="2.6"/><circle cx="573.6" cy="338.2" r="2.6"/><circle cx="604.4" cy="321.5" r="2.6"/><circle cx="586.2" cy="323.3" r="2.6"/><circle cx="600.7" cy="321.8" r="2.6"/><circle cx="577.1" cy="344.4" r="2.6"/><circle cx="633" cy="295.1" r="2.6"/><circle cx="567.2" cy="357.4" r="2.6"/><circle cx="624.9" cy="304.8" r="2.6"/><circle cx="582.1" cy="341.7" r="2.6"/><circle cx="612.2" cy="323.9" r="2.6"/><circle cx="578.9" cy="327.4" r="2.6"/><circle cx="630.8" cy="301.2" r="2.6"/><circle cx="612" cy="309" r="2.6"/><circle cx="591" cy="341.9" r="2.6"/><circle cx="591" cy="329.9" r="2.6"/><circle cx="575.2" cy="341.9" r="2.6"/><circle cx="594.9" cy="316.9" r="2.6"/><circle cx="613.2" cy="306.6" r="2.6"/><circle cx="606.1" cy="303.4" r="2.6"/><circle cx="630.1" cy="296.5" r="2.6"/><circle cx="572.4" cy="341.9" r="2.6"/><circle cx="616.9" cy="294.6" r="2.6"/><circle cx="597.8" cy="335.8" r="2.6"/><circle cx="580.6" cy="331.1" r="2.6"/><circle cx="585.4" cy="309.6" r="2.6"/><circle cx="591.4" cy="315.6" r="2.6"/><circle cx="578.2" cy="323.9" r="2.6"/><circle cx="602.6" cy="335.9" r="2.6"/><circle cx="606.9" cy="331.1" r="2.6"/><circle cx="611.7" cy="338.3" r="2.6"/><circle cx="618.8" cy="340.7" r="2.6"/><circle cx="614.1" cy="331.1" r="2.6"/><circle cx="622.4" cy="334.7" r="2.6"/><circle cx="626" cy="329.9" r="2.6"/><circle cx="604.5" cy="326.3" r="2.6"/><circle cx="597.3" cy="323.9" r="2.6"/><circle cx="587.8" cy="331.1" r="2.6"/><circle cx="640.3" cy="323.9" r="2.6"/><circle cx="642.7" cy="327.5" r="2.6"/><circle cx="648.7" cy="337.1" r="2.6"/><circle cx="561.5" cy="393.7" r="2.6"/><circle cx="682.6" cy="381.8" r="2.6"/><circle cx="700.1" cy="294.7" r="2.6"/><circle cx="685.5" cy="281.3" r="2.6"/><circle cx="696.3" cy="276.7" r="2.6"/><circle cx="677.5" cy="300.2" r="2.6"/><circle cx="694.8" cy="291.3" r="2.6"/><circle cx="701.5" cy="292.2" r="2.6"/><circle cx="675.3" cy="291.9" r="2.6"/><circle cx="681.5" cy="282.7" r="2.6"/><circle cx="698.9" cy="280.8" r="2.6"/><circle cx="677.2" cy="289.5" r="2.6"/><circle cx="679.9" cy="277.3" r="2.6"/><circle cx="678.4" cy="287" r="2.6"/><circle cx="696.1" cy="298.7" r="2.6"/><circle cx="691.9" cy="300.4" r="2.6"/><circle cx="675.4" cy="296.8" r="2.6"/><circle cx="676.2" cy="292.8" r="2.6"/><circle cx="694.9" cy="279" r="2.6"/><circle cx="681.9" cy="291.9" r="2.6"/><circle cx="695.2" cy="296" r="2.6"/><circle cx="683.4" cy="294.6" r="2.6"/><circle cx="699.7" cy="294.8" r="2.6"/><circle cx="697.6" cy="299.9" r="2.6"/><circle cx="683.4" cy="296.6" r="2.6"/><circle cx="680.9" cy="299.6" r="2.6"/><circle cx="686.1" cy="282.3" r="2.6"/><circle cx="694.3" cy="276.9" r="2.6"/><circle cx="683.6" cy="296.3" r="2.6"/><circle cx="681.3" cy="291.4" r="2.6"/><circle cx="677.6" cy="282.6" r="2.6"/><circle cx="686.9" cy="301.9" r="2.6"/><circle cx="689.5" cy="293.1" r="2.6"/><circle cx="679.8" cy="296.3" r="2.6"/><circle cx="694.6" cy="276.7" r="2.6"/><circle cx="692.5" cy="297.4" r="2.6"/><circle cx="674.8" cy="295.8" r="2.6"/><circle cx="681.2" cy="293.3" r="2.6"/><circle cx="687.7" cy="296.8" r="2.6"/><circle cx="678.9" cy="278.8" r="2.6"/><circle cx="703.2" cy="284.9" r="2.6"/><circle cx="702.6" cy="289.4" r="2.6"/><circle cx="696.8" cy="292.8" r="2.6"/><circle cx="694.4" cy="281.3" r="2.6"/><circle cx="695.7" cy="282.8" r="2.6"/><circle cx="692.8" cy="295.3" r="2.6"/><circle cx="698.7" cy="279.8" r="2.6"/><circle cx="683.3" cy="332.3" r="2.6"/><circle cx="680.9" cy="312" r="2.6"/></g>
<g fill="#e0301f" fill-opacity="0.7"><circle cx="673.5" cy="241" r="2.6"/><circle cx="694.2" cy="246.5" r="2.6"/><circle cx="710.1" cy="252.6" r="2.6"/><circle cx="678.1" cy="206.2" r="2.6"/><circle cx="683.5" cy="242" r="2.6"/><circle cx="688.4" cy="236.2" r="2.6"/><circle cx="704.6" cy="246.8" r="2.6"/><circle cx="703" cy="241.3" r="2.6"/><circle cx="673.1" cy="257.4" r="2.6"/><circle cx="703.4" cy="244.4" r="2.6"/><circle cx="681.8" cy="223.4" r="2.6"/><circle cx="678.5" cy="242.1" r="2.6"/><circle cx="678.2" cy="256.1" r="2.6"/><circle cx="682.4" cy="217.5" r="2.6"/><circle cx="683.6" cy="248.7" r="2.6"/><circle cx="685.8" cy="247.5" r="2.6"/><circle cx="709.5" cy="230.9" r="2.6"/><circle cx="707.7" cy="231.8" r="2.6"/><circle cx="677.3" cy="251" r="2.6"/><circle cx="714.5" cy="241.1" r="2.6"/><circle cx="674.7" cy="249.7" r="2.6"/><circle cx="686.4" cy="255" r="2.6"/><circle cx="708.9" cy="219.3" r="2.6"/><circle cx="678.1" cy="245.1" r="2.6"/><circle cx="681" cy="231" r="2.6"/><circle cx="698.5" cy="254.4" r="2.6"/><circle cx="675.1" cy="246" r="2.6"/><circle cx="695.5" cy="248.9" r="2.6"/><circle cx="674.5" cy="254.9" r="2.6"/><circle cx="684.7" cy="256.7" r="2.6"/><circle cx="680.6" cy="255.4" r="2.6"/><circle cx="683.4" cy="246.2" r="2.6"/><circle cx="687.3" cy="248.2" r="2.6"/><circle cx="700.5" cy="249.9" r="2.6"/><circle cx="697.9" cy="242.3" r="2.6"/><circle cx="693.1" cy="253.5" r="2.6"/><circle cx="672.9" cy="247.5" r="2.6"/><circle cx="696.9" cy="258.7" r="2.6"/><circle cx="694.6" cy="250.3" r="2.6"/><circle cx="693" cy="245.2" r="2.6"/><circle cx="687.4" cy="243.3" r="2.6"/><circle cx="690.7" cy="234.4" r="2.6"/><circle cx="678.6" cy="258.7" r="2.6"/><circle cx="686.6" cy="255.2" r="2.6"/><circle cx="686.4" cy="250.7" r="2.6"/><circle cx="679" cy="245.1" r="2.6"/><circle cx="677.7" cy="244.5" r="2.6"/><circle cx="697.5" cy="249" r="2.6"/><circle cx="676.8" cy="249.1" r="2.6"/><circle cx="672.5" cy="251.2" r="2.6"/><circle cx="674.5" cy="254.2" r="2.6"/><circle cx="690.9" cy="230.2" r="2.6"/><circle cx="679.1" cy="252.5" r="2.6"/><circle cx="696.3" cy="227.9" r="2.6"/><circle cx="673.1" cy="253.3" r="2.6"/><circle cx="684.9" cy="228.9" r="2.6"/><circle cx="678.2" cy="247.3" r="2.6"/><circle cx="694.7" cy="233.8" r="2.6"/><circle cx="683.1" cy="247.6" r="2.6"/><circle cx="674" cy="246.3" r="2.6"/><circle cx="689.8" cy="246.1" r="2.6"/><circle cx="672.6" cy="260.2" r="2.6"/><circle cx="715.2" cy="217.9" r="2.6"/><circle cx="715.8" cy="243.4" r="2.6"/><circle cx="672.6" cy="230.3" r="2.6"/><circle cx="688.2" cy="256.8" r="2.6"/><circle cx="672.6" cy="255.5" r="2.6"/><circle cx="680.1" cy="232.4" r="2.6"/><circle cx="697.2" cy="236.6" r="2.6"/><circle cx="706.2" cy="230" r="2.6"/><circle cx="705" cy="255.4" r="2.6"/><circle cx="680.8" cy="236.3" r="2.6"/><circle cx="712.7" cy="228.8" r="2.6"/><circle cx="679.9" cy="248" r="2.6"/><circle cx="706.7" cy="250.3" r="2.6"/><circle cx="679.7" cy="239.6" r="2.6"/><circle cx="688.6" cy="229.1" r="2.6"/><circle cx="684.6" cy="233" r="2.6"/><circle cx="699.5" cy="236.7" r="2.6"/><circle cx="673.7" cy="248.5" r="2.6"/><circle cx="691.9" cy="245.7" r="2.6"/><circle cx="678.4" cy="261.2" r="2.6"/><circle cx="677" cy="255.2" r="2.6"/><circle cx="676.8" cy="255" r="2.6"/><circle cx="678.6" cy="247.4" r="2.6"/><circle cx="687.8" cy="241" r="2.6"/><circle cx="678.1" cy="247.6" r="2.6"/><circle cx="701.8" cy="246.1" r="2.6"/><circle cx="682.7" cy="254.5" r="2.6"/><circle cx="699.7" cy="238" r="2.6"/><circle cx="680.5" cy="237.9" r="2.6"/><circle cx="688.1" cy="242.3" r="2.6"/><circle cx="699" cy="242.7" r="2.6"/><circle cx="672.3" cy="241.3" r="2.6"/><circle cx="690.8" cy="249.7" r="2.6"/><circle cx="706.3" cy="227.6" r="2.6"/><circle cx="700.3" cy="239.5" r="2.6"/><circle cx="681.7" cy="256.2" r="2.6"/><circle cx="693.8" cy="224.2" r="2.6"/><circle cx="687.9" cy="233.8" r="2.6"/><circle cx="693.1" cy="248.5" r="2.6"/><circle cx="693.3" cy="238.6" r="2.6"/><circle cx="679.3" cy="254.7" r="2.6"/><circle cx="673.4" cy="258" r="2.6"/><circle cx="699.9" cy="230.4" r="2.6"/><circle cx="697.4" cy="219.3" r="2.6"/><circle cx="673.2" cy="257.1" r="2.6"/><circle cx="703.7" cy="257.1" r="2.6"/><circle cx="671.8" cy="223.5" r="2.6"/><circle cx="683.3" cy="238.4" r="2.6"/><circle cx="672.2" cy="251.5" r="2.6"/><circle cx="696.9" cy="237.7" r="2.6"/><circle cx="685.3" cy="246.8" r="2.6"/><circle cx="678.9" cy="256.6" r="2.6"/><circle cx="692.2" cy="251.5" r="2.6"/><circle cx="688.1" cy="234.5" r="2.6"/><circle cx="682.8" cy="241.3" r="2.6"/><circle cx="698.6" cy="231.3" r="2.6"/><circle cx="699.3" cy="234.7" r="2.6"/><circle cx="693.4" cy="252.3" r="2.6"/><circle cx="677.8" cy="249.1" r="2.6"/><circle cx="686.7" cy="252.2" r="2.6"/><circle cx="689.7" cy="220.5" r="2.6"/><circle cx="677.3" cy="243.3" r="2.6"/><circle cx="685.3" cy="253.3" r="2.6"/><circle cx="694.5" cy="254" r="2.6"/><circle cx="680.5" cy="246.4" r="2.6"/><circle cx="673.2" cy="252.2" r="2.6"/><circle cx="698.8" cy="251.9" r="2.6"/><circle cx="690.7" cy="229.9" r="2.6"/><circle cx="703.8" cy="245.9" r="2.6"/><circle cx="698.3" cy="234.6" r="2.6"/><circle cx="685.9" cy="257.2" r="2.6"/><circle cx="677.7" cy="235.1" r="2.6"/><circle cx="680.7" cy="251" r="2.6"/><circle cx="672.2" cy="251.2" r="2.6"/><circle cx="699" cy="229.8" r="2.6"/><circle cx="683.2" cy="248.4" r="2.6"/><circle cx="672.7" cy="255" r="2.6"/><circle cx="680" cy="248.3" r="2.6"/><circle cx="698.2" cy="249.7" r="2.6"/><circle cx="682.6" cy="243.8" r="2.6"/><circle cx="678.2" cy="237.9" r="2.6"/><circle cx="691.3" cy="246.9" r="2.6"/><circle cx="676.2" cy="237.5" r="2.6"/><circle cx="705.3" cy="235.6" r="2.6"/><circle cx="689.9" cy="249.4" r="2.6"/><circle cx="672.3" cy="248" r="2.6"/><circle cx="692.4" cy="233.7" r="2.6"/><circle cx="672.9" cy="219.6" r="2.6"/><circle cx="681.2" cy="257.5" r="2.6"/><circle cx="690.9" cy="234.4" r="2.6"/><circle cx="683.3" cy="253.9" r="2.6"/><circle cx="680.2" cy="250.8" r="2.6"/><circle cx="677.4" cy="252.5" r="2.6"/><circle cx="683" cy="246.4" r="2.6"/><circle cx="692.7" cy="242.9" r="2.6"/><circle cx="688.5" cy="256" r="2.6"/><circle cx="700.8" cy="240.3" r="2.6"/><circle cx="703.7" cy="247.7" r="2.6"/><circle cx="673.5" cy="245.1" r="2.6"/><circle cx="694.8" cy="253" r="2.6"/><circle cx="673.8" cy="246.2" r="2.6"/><circle cx="692.4" cy="242.4" r="2.6"/><circle cx="695.2" cy="234.2" r="2.6"/><circle cx="672.7" cy="254.4" r="2.6"/><circle cx="677.5" cy="235.1" r="2.6"/><circle cx="679.4" cy="243.3" r="2.6"/><circle cx="685.1" cy="232.7" r="2.6"/><circle cx="683.9" cy="247" r="2.6"/><circle cx="697.5" cy="254.5" r="2.6"/><circle cx="671.6" cy="233.3" r="2.6"/><circle cx="685.6" cy="223.2" r="2.6"/><circle cx="690.7" cy="242.1" r="2.6"/><circle cx="708.8" cy="215.5" r="2.6"/><circle cx="683.8" cy="227.6" r="2.6"/><circle cx="697.9" cy="246.1" r="2.6"/><circle cx="675.4" cy="236.9" r="2.6"/><circle cx="693.9" cy="256.1" r="2.6"/><circle cx="677" cy="259.6" r="2.6"/><circle cx="684.9" cy="243.8" r="2.6"/><circle cx="713" cy="248.5" r="2.6"/><circle cx="679" cy="239.4" r="2.6"/><circle cx="681" cy="252" r="2.6"/><circle cx="717" cy="243.5" r="2.6"/><circle cx="693" cy="241.2" r="2.6"/><circle cx="688.9" cy="237.3" r="2.6"/><circle cx="678.6" cy="234.1" r="2.6"/><circle cx="688" cy="219.6" r="2.6"/><circle cx="703.1" cy="242.8" r="2.6"/><circle cx="676.2" cy="258.6" r="2.6"/><circle cx="675.2" cy="251.7" r="2.6"/><circle cx="679.4" cy="240.6" r="2.6"/><circle cx="681.8" cy="248" r="2.6"/><circle cx="672.4" cy="245.2" r="2.6"/><circle cx="697.7" cy="240.7" r="2.6"/><circle cx="688.7" cy="242" r="2.6"/><circle cx="671.8" cy="260.8" r="2.6"/><circle cx="673.9" cy="252.4" r="2.6"/><circle cx="676.2" cy="250.8" r="2.6"/><circle cx="681.7" cy="255.9" r="2.6"/><circle cx="681" cy="253" r="2.6"/><circle cx="675.6" cy="259.7" r="2.6"/><circle cx="698" cy="246.4" r="2.6"/><circle cx="688.3" cy="252" r="2.6"/><circle cx="685.5" cy="258.3" r="2.6"/><circle cx="683.6" cy="256.5" r="2.6"/><circle cx="677.5" cy="254.7" r="2.6"/><circle cx="673.8" cy="248.1" r="2.6"/><circle cx="717.7" cy="244.8" r="2.6"/><circle cx="671.5" cy="249.1" r="2.6"/><circle cx="684.4" cy="249.9" r="2.6"/><circle cx="693.6" cy="215.5" r="2.6"/><circle cx="676.6" cy="261.5" r="2.6"/><circle cx="674.2" cy="257.9" r="2.6"/><circle cx="696.2" cy="229.2" r="2.6"/><circle cx="694.4" cy="250.1" r="2.6"/><circle cx="713.4" cy="240.8" r="2.6"/><circle cx="680.9" cy="236.8" r="2.6"/><circle cx="686" cy="249" r="2.6"/><circle cx="686.7" cy="248" r="2.6"/><circle cx="691.4" cy="225.1" r="2.6"/><circle cx="673.6" cy="234.4" r="2.6"/><circle cx="715.1" cy="240.1" r="2.6"/><circle cx="684.1" cy="251.2" r="2.6"/><circle cx="687.5" cy="258.3" r="2.6"/><circle cx="676.6" cy="238.1" r="2.6"/><circle cx="689.3" cy="247.4" r="2.6"/><circle cx="672.6" cy="258.3" r="2.6"/><circle cx="673.2" cy="237.1" r="2.6"/><circle cx="674.7" cy="229.4" r="2.6"/><circle cx="701.3" cy="231.2" r="2.6"/><circle cx="697.9" cy="240.4" r="2.6"/><circle cx="676.9" cy="256.1" r="2.6"/><circle cx="680.7" cy="257.1" r="2.6"/><circle cx="678" cy="255.5" r="2.6"/><circle cx="671.9" cy="256.7" r="2.6"/><circle cx="688.1" cy="244.4" r="2.6"/><circle cx="678.2" cy="218.3" r="2.6"/><circle cx="691.1" cy="248" r="2.6"/><circle cx="699.9" cy="236" r="2.6"/><circle cx="676.3" cy="252.1" r="2.6"/><circle cx="676.1" cy="254.7" r="2.6"/><circle cx="684.8" cy="254.2" r="2.6"/><circle cx="691" cy="249.5" r="2.6"/><circle cx="685" cy="237.6" r="2.6"/><circle cx="674.5" cy="228.1" r="2.6"/><circle cx="689.1" cy="249.5" r="2.6"/><circle cx="685.5" cy="237.5" r="2.6"/><circle cx="678.4" cy="240.5" r="2.6"/><circle cx="672.7" cy="255.2" r="2.6"/><circle cx="679.3" cy="259.1" r="2.6"/><circle cx="673.5" cy="244.2" r="2.6"/><circle cx="682.6" cy="252.5" r="2.6"/><circle cx="689.9" cy="257" r="2.6"/><circle cx="683.8" cy="254.6" r="2.6"/><circle cx="701.2" cy="238.7" r="2.6"/><circle cx="699.4" cy="248.1" r="2.6"/><circle cx="692.2" cy="249.2" r="2.6"/><circle cx="712.3" cy="227.9" r="2.6"/><circle cx="674.6" cy="244" r="2.6"/><circle cx="686.3" cy="249.1" r="2.6"/><circle cx="675.2" cy="253.9" r="2.6"/><circle cx="678.3" cy="240.6" r="2.6"/><circle cx="704.1" cy="249.2" r="2.6"/><circle cx="688.6" cy="249.5" r="2.6"/><circle cx="671.9" cy="248.4" r="2.6"/><circle cx="677.9" cy="245.4" r="2.6"/><circle cx="691.2" cy="232.2" r="2.6"/><circle cx="727.6" cy="232.2" r="2.6"/><circle cx="679.9" cy="253.3" r="2.6"/><circle cx="695.7" cy="250.3" r="2.6"/><circle cx="696.8" cy="232.4" r="2.6"/><circle cx="712.8" cy="238.1" r="2.6"/><circle cx="676" cy="248.5" r="2.6"/><circle cx="682.3" cy="258.3" r="2.6"/><circle cx="683.5" cy="259.1" r="2.6"/><circle cx="681.5" cy="232.3" r="2.6"/><circle cx="706.9" cy="242.6" r="2.6"/><circle cx="684.2" cy="259.4" r="2.6"/><circle cx="688.4" cy="254.9" r="2.6"/><circle cx="680.2" cy="258.2" r="2.6"/><circle cx="672.2" cy="232.2" r="2.6"/><circle cx="671.9" cy="257" r="2.6"/><circle cx="692.7" cy="235.3" r="2.6"/><circle cx="677" cy="249.8" r="2.6"/><circle cx="673.4" cy="232.5" r="2.6"/><circle cx="684.1" cy="241.5" r="2.6"/><circle cx="673.4" cy="258.7" r="2.6"/><circle cx="706.8" cy="231.1" r="2.6"/><circle cx="695.2" cy="220.2" r="2.6"/><circle cx="688.3" cy="247" r="2.6"/><circle cx="677.7" cy="250.7" r="2.6"/><circle cx="697.1" cy="254.8" r="2.6"/><circle cx="684.9" cy="242.3" r="2.6"/><circle cx="720.7" cy="243.7" r="2.6"/><circle cx="681.3" cy="241.3" r="2.6"/><circle cx="694.1" cy="227.5" r="2.6"/><circle cx="675.4" cy="258.2" r="2.6"/><circle cx="693.9" cy="252" r="2.6"/><circle cx="682.8" cy="225.9" r="2.6"/><circle cx="681.1" cy="245.5" r="2.6"/><circle cx="712.5" cy="223" r="2.6"/><circle cx="687" cy="225" r="2.6"/><circle cx="699.9" cy="235.6" r="2.6"/><circle cx="678" cy="219.3" r="2.6"/><circle cx="679.9" cy="245.5" r="2.6"/><circle cx="682" cy="248.2" r="2.6"/><circle cx="684.4" cy="254.4" r="2.6"/><circle cx="693.3" cy="244.4" r="2.6"/><circle cx="686.6" cy="236.3" r="2.6"/><circle cx="688.1" cy="254.3" r="2.6"/><circle cx="686.1" cy="252.6" r="2.6"/><circle cx="674.4" cy="241.3" r="2.6"/><circle cx="676" cy="220.3" r="2.6"/><circle cx="682.1" cy="251.5" r="2.6"/><circle cx="684.9" cy="239.3" r="2.6"/><circle cx="703.8" cy="248.3" r="2.6"/><circle cx="685.5" cy="227.8" r="2.6"/><circle cx="720.8" cy="235" r="2.6"/><circle cx="678.7" cy="255.1" r="2.6"/><circle cx="688" cy="259.2" r="2.6"/><circle cx="678" cy="253.8" r="2.6"/><circle cx="678.5" cy="257.6" r="2.6"/><circle cx="735.7" cy="212.7" r="2.6"/><circle cx="672" cy="246.4" r="2.6"/><circle cx="703.1" cy="253.3" r="2.6"/><circle cx="690.1" cy="253.2" r="2.6"/><circle cx="676.8" cy="239.7" r="2.6"/><circle cx="692.9" cy="251.6" r="2.6"/><circle cx="678.3" cy="250.3" r="2.6"/><circle cx="707.5" cy="244" r="2.6"/><circle cx="709.4" cy="249.9" r="2.6"/><circle cx="672.9" cy="250.9" r="2.6"/><circle cx="692.2" cy="251.3" r="2.6"/><circle cx="674.1" cy="259.1" r="2.6"/><circle cx="688.7" cy="207.1" r="2.6"/><circle cx="705.7" cy="254.7" r="2.6"/><circle cx="692.8" cy="255" r="2.6"/><circle cx="686" cy="249.4" r="2.6"/><circle cx="684" cy="249" r="2.6"/><circle cx="717.5" cy="214.9" r="2.6"/><circle cx="696.5" cy="233.5" r="2.6"/><circle cx="687.5" cy="258.4" r="2.6"/><circle cx="704.5" cy="254.9" r="2.6"/><circle cx="681.7" cy="246.9" r="2.6"/><circle cx="693.7" cy="250.1" r="2.6"/><circle cx="713.7" cy="215.7" r="2.6"/><circle cx="697.8" cy="252" r="2.6"/><circle cx="706.7" cy="234.3" r="2.6"/><circle cx="708.7" cy="241.7" r="2.6"/><circle cx="690.8" cy="257.2" r="2.6"/><circle cx="711.7" cy="241.7" r="2.6"/><circle cx="693.1" cy="238" r="2.6"/><circle cx="679.1" cy="241.7" r="2.6"/><circle cx="692.1" cy="236.4" r="2.6"/><circle cx="681.4" cy="255.8" r="2.6"/><circle cx="690.9" cy="243.3" r="2.6"/><circle cx="687.1" cy="252" r="2.6"/><circle cx="696.4" cy="247.7" r="2.6"/><circle cx="704" cy="243.4" r="2.6"/><circle cx="695.1" cy="225" r="2.6"/><circle cx="675.8" cy="252.6" r="2.6"/><circle cx="688.2" cy="242.1" r="2.6"/><circle cx="674.5" cy="250.4" r="2.6"/><circle cx="678.5" cy="257.7" r="2.6"/><circle cx="673" cy="259.8" r="2.6"/><circle cx="678.1" cy="248.4" r="2.6"/><circle cx="693.1" cy="253.7" r="2.6"/><circle cx="683.2" cy="246.1" r="2.6"/><circle cx="702.4" cy="256.2" r="2.6"/><circle cx="703.3" cy="237.9" r="2.6"/><circle cx="674.1" cy="260.4" r="2.6"/><circle cx="709.6" cy="230.6" r="2.6"/><circle cx="681.9" cy="243.8" r="2.6"/><circle cx="681.7" cy="252.3" r="2.6"/><circle cx="696.3" cy="248.7" r="2.6"/><circle cx="694.3" cy="247.1" r="2.6"/><circle cx="684.2" cy="252.5" r="2.6"/><circle cx="687.3" cy="243" r="2.6"/><circle cx="701.3" cy="250.7" r="2.6"/><circle cx="676.6" cy="246.6" r="2.6"/><circle cx="688.3" cy="241.6" r="2.6"/><circle cx="692.8" cy="230.8" r="2.6"/><circle cx="692.3" cy="237.9" r="2.6"/><circle cx="691.7" cy="251.5" r="2.6"/><circle cx="685.7" cy="228.5" r="2.6"/><circle cx="692.7" cy="225.1" r="2.6"/><circle cx="689" cy="250.8" r="2.6"/><circle cx="673.7" cy="257.2" r="2.6"/><circle cx="701.2" cy="228.9" r="2.6"/><circle cx="690.8" cy="251.7" r="2.6"/><circle cx="678.3" cy="249.6" r="2.6"/><circle cx="677.9" cy="247.3" r="2.6"/><circle cx="675.6" cy="243.3" r="2.6"/><circle cx="672.4" cy="236.3" r="2.6"/><circle cx="684.8" cy="240.4" r="2.6"/><circle cx="671.7" cy="245.5" r="2.6"/><circle cx="694.9" cy="242.7" r="2.6"/><circle cx="705.1" cy="238.4" r="2.6"/><circle cx="698.2" cy="255.9" r="2.6"/><circle cx="696.4" cy="243.2" r="2.6"/><circle cx="696" cy="212.9" r="2.6"/><circle cx="694.9" cy="258.3" r="2.6"/><circle cx="675.3" cy="246" r="2.6"/><circle cx="679.9" cy="255.6" r="2.6"/><circle cx="685.2" cy="242.9" r="2.6"/><circle cx="686" cy="244.5" r="2.6"/><circle cx="704.4" cy="241.9" r="2.6"/><circle cx="700.2" cy="238" r="2.6"/><circle cx="685.5" cy="223.4" r="2.6"/><circle cx="730.2" cy="226" r="2.6"/><circle cx="671.7" cy="248.3" r="2.6"/><circle cx="685.9" cy="234.7" r="2.6"/><circle cx="697.6" cy="254.7" r="2.6"/><circle cx="680" cy="240" r="2.6"/><circle cx="691.5" cy="244.7" r="2.6"/><circle cx="673.5" cy="251.5" r="2.6"/><circle cx="678.4" cy="244" r="2.6"/><circle cx="676.9" cy="257.1" r="2.6"/><circle cx="678.8" cy="242.4" r="2.6"/><circle cx="691.9" cy="241.2" r="2.6"/><circle cx="688.1" cy="243.5" r="2.6"/><circle cx="686.5" cy="253.7" r="2.6"/><circle cx="681" cy="254.9" r="2.6"/><circle cx="693" cy="255.7" r="2.6"/><circle cx="684.2" cy="255.7" r="2.6"/><circle cx="685.1" cy="259.1" r="2.6"/><circle cx="707.3" cy="246.4" r="2.6"/><circle cx="679.1" cy="255" r="2.6"/><circle cx="671.6" cy="250.2" r="2.6"/><circle cx="689.4" cy="253" r="2.6"/><circle cx="686.8" cy="238.2" r="2.6"/><circle cx="691.1" cy="253.1" r="2.6"/><circle cx="672.3" cy="242.2" r="2.6"/><circle cx="704.5" cy="243.2" r="2.6"/><circle cx="697.5" cy="250" r="2.6"/><circle cx="683.4" cy="255.2" r="2.6"/><circle cx="679.8" cy="232.8" r="2.6"/><circle cx="709.3" cy="239.1" r="2.6"/><circle cx="675.7" cy="257.2" r="2.6"/><circle cx="672.8" cy="224.7" r="2.6"/><circle cx="702.6" cy="211.9" r="2.6"/><circle cx="704.7" cy="255.4" r="2.6"/><circle cx="700.6" cy="246.1" r="2.6"/><circle cx="677.4" cy="252.5" r="2.6"/><circle cx="679.8" cy="255.9" r="2.6"/><circle cx="702.5" cy="240.4" r="2.6"/><circle cx="734.1" cy="227.6" r="2.6"/><circle cx="674.2" cy="236.5" r="2.6"/><circle cx="677.7" cy="236.2" r="2.6"/><circle cx="695.6" cy="253" r="2.6"/><circle cx="680.8" cy="257.1" r="2.6"/><circle cx="699.6" cy="235.6" r="2.6"/><circle cx="680.5" cy="247.9" r="2.6"/><circle cx="706.4" cy="245.8" r="2.6"/><circle cx="674.2" cy="244.8" r="2.6"/><circle cx="682.2" cy="239.2" r="2.6"/><circle cx="685.3" cy="253.7" r="2.6"/><circle cx="689.8" cy="256.9" r="2.6"/><circle cx="686" cy="251.2" r="2.6"/><circle cx="695.6" cy="238.8" r="2.6"/><circle cx="692.8" cy="255.4" r="2.6"/><circle cx="704.9" cy="241.5" r="2.6"/><circle cx="709.2" cy="228.3" r="2.6"/><circle cx="687.1" cy="248" r="2.6"/><circle cx="683.9" cy="259.2" r="2.6"/><circle cx="681.9" cy="259.1" r="2.6"/><circle cx="686.7" cy="253.9" r="2.6"/><circle cx="674.2" cy="260" r="2.6"/><circle cx="703.4" cy="248.2" r="2.6"/><circle cx="676.8" cy="257.3" r="2.6"/><circle cx="679.3" cy="243" r="2.6"/><circle cx="675.2" cy="252.5" r="2.6"/><circle cx="716.1" cy="237.3" r="2.6"/><circle cx="684.4" cy="258.6" r="2.6"/><circle cx="672.3" cy="241.5" r="2.6"/><circle cx="700.2" cy="258.5" r="2.6"/><circle cx="682.7" cy="239.6" r="2.6"/><circle cx="679.2" cy="259.1" r="2.6"/><circle cx="690.6" cy="247.5" r="2.6"/><circle cx="690.3" cy="251" r="2.6"/><circle cx="675.5" cy="258.8" r="2.6"/><circle cx="672.7" cy="249" r="2.6"/><circle cx="672.3" cy="246.3" r="2.6"/><circle cx="673.5" cy="220.2" r="2.6"/><circle cx="676.9" cy="247.4" r="2.6"/><circle cx="673.3" cy="239.7" r="2.6"/><circle cx="672.2" cy="251.5" r="2.6"/><circle cx="681.9" cy="242.7" r="2.6"/><circle cx="691.1" cy="243.7" r="2.6"/><circle cx="676.8" cy="258.1" r="2.6"/><circle cx="671.7" cy="246.3" r="2.6"/><circle cx="673.5" cy="250.2" r="2.6"/><circle cx="680.6" cy="237.8" r="2.6"/><circle cx="672.9" cy="253.9" r="2.6"/><circle cx="691.2" cy="254.3" r="2.6"/><circle cx="683.9" cy="254.6" r="2.6"/><circle cx="691.1" cy="233" r="2.6"/><circle cx="686.2" cy="223.8" r="2.6"/><circle cx="684.6" cy="215.9" r="2.6"/><circle cx="678.8" cy="226.5" r="2.6"/><circle cx="712.3" cy="231.9" r="2.6"/><circle cx="698.7" cy="226.9" r="2.6"/><circle cx="680.2" cy="249.5" r="2.6"/><circle cx="687.2" cy="251.3" r="2.6"/><circle cx="685.5" cy="256.1" r="2.6"/><circle cx="688.4" cy="253.6" r="2.6"/><circle cx="687.9" cy="258.7" r="2.6"/><circle cx="683.1" cy="252.2" r="2.6"/><circle cx="685.1" cy="251.8" r="2.6"/><circle cx="680.1" cy="248.5" r="2.6"/><circle cx="696.7" cy="250.5" r="2.6"/><circle cx="688.6" cy="254.6" r="2.6"/><circle cx="702.6" cy="238.7" r="2.6"/><circle cx="685.5" cy="254.6" r="2.6"/><circle cx="701.6" cy="213.6" r="2.6"/><circle cx="693.8" cy="249" r="2.6"/><circle cx="677.7" cy="256.9" r="2.6"/><circle cx="673.2" cy="247.8" r="2.6"/><circle cx="685.6" cy="223.8" r="2.6"/><circle cx="676.5" cy="253.2" r="2.6"/><circle cx="686.6" cy="248" r="2.6"/><circle cx="684.4" cy="253.7" r="2.6"/><circle cx="675.6" cy="258.7" r="2.6"/><circle cx="678.4" cy="252.2" r="2.6"/><circle cx="684.9" cy="248.6" r="2.6"/><circle cx="686.8" cy="250.9" r="2.6"/><circle cx="706.7" cy="250.7" r="2.6"/><circle cx="674.1" cy="243" r="2.6"/><circle cx="690.5" cy="228.9" r="2.6"/><circle cx="689.6" cy="241.4" r="2.6"/><circle cx="685.2" cy="248" r="2.6"/><circle cx="697" cy="253.7" r="2.6"/><circle cx="693.8" cy="255.6" r="2.6"/><circle cx="674.3" cy="250.4" r="2.6"/><circle cx="702.2" cy="236.1" r="2.6"/><circle cx="676" cy="249.4" r="2.6"/><circle cx="709.1" cy="239" r="2.6"/><circle cx="712.2" cy="227.6" r="2.6"/><circle cx="678.5" cy="254" r="2.6"/><circle cx="703.5" cy="241.6" r="2.6"/><circle cx="702.1" cy="249.3" r="2.6"/><circle cx="679.5" cy="256.7" r="2.6"/><circle cx="678.8" cy="255.4" r="2.6"/><circle cx="677.2" cy="238" r="2.6"/><circle cx="679.4" cy="236.3" r="2.6"/><circle cx="719.3" cy="252.1" r="2.6"/><circle cx="680.9" cy="232.9" r="2.6"/><circle cx="674.7" cy="236.6" r="2.6"/><circle cx="680.5" cy="239" r="2.6"/><circle cx="677.1" cy="240" r="2.6"/><circle cx="684.1" cy="243.7" r="2.6"/><circle cx="676.9" cy="252.3" r="2.6"/><circle cx="683.9" cy="228.7" r="2.6"/><circle cx="672.7" cy="251.7" r="2.6"/><circle cx="690.2" cy="250.5" r="2.6"/><circle cx="677.2" cy="247.2" r="2.6"/><circle cx="675.1" cy="233" r="2.6"/><circle cx="713.3" cy="230.1" r="2.6"/><circle cx="688.7" cy="245.1" r="2.6"/><circle cx="684.4" cy="256" r="2.6"/><circle cx="687.9" cy="240.4" r="2.6"/><circle cx="699.4" cy="247" r="2.6"/><circle cx="686.3" cy="238.4" r="2.6"/><circle cx="696.3" cy="254.6" r="2.6"/><circle cx="678" cy="250.2" r="2.6"/><circle cx="683.3" cy="230.6" r="2.6"/><circle cx="693.4" cy="252.6" r="2.6"/><circle cx="676.2" cy="249.2" r="2.6"/><circle cx="696.2" cy="253.8" r="2.6"/><circle cx="677.5" cy="249.5" r="2.6"/><circle cx="696.7" cy="251.3" r="2.6"/><circle cx="691.5" cy="229.8" r="2.6"/><circle cx="693.4" cy="255.9" r="2.6"/><circle cx="706" cy="247" r="2.6"/><circle cx="679.2" cy="237.4" r="2.6"/><circle cx="711.8" cy="249.8" r="2.6"/><circle cx="675.6" cy="255.8" r="2.6"/><circle cx="688" cy="243" r="2.6"/><circle cx="677.2" cy="261.1" r="2.6"/><circle cx="704.5" cy="234" r="2.6"/><circle cx="673.8" cy="235.4" r="2.6"/><circle cx="702.9" cy="246.5" r="2.6"/><circle cx="682.8" cy="259.7" r="2.6"/><circle cx="671.8" cy="229.1" r="2.6"/><circle cx="681.7" cy="255" r="2.6"/><circle cx="673.6" cy="255.7" r="2.6"/><circle cx="697.1" cy="221" r="2.6"/><circle cx="712.3" cy="224.6" r="2.6"/><circle cx="675.1" cy="253.6" r="2.6"/><circle cx="674.3" cy="254" r="2.6"/><circle cx="704.7" cy="229.2" r="2.6"/><circle cx="686.7" cy="231.9" r="2.6"/><circle cx="673.4" cy="245.8" r="2.6"/><circle cx="691.6" cy="225" r="2.6"/><circle cx="699.8" cy="244.8" r="2.6"/><circle cx="705.3" cy="247.5" r="2.6"/><circle cx="684.6" cy="246.6" r="2.6"/><circle cx="677.2" cy="228.2" r="2.6"/><circle cx="685.5" cy="244.7" r="2.6"/><circle cx="692.4" cy="244.9" r="2.6"/><circle cx="691.8" cy="239.2" r="2.6"/><circle cx="680.6" cy="251.8" r="2.6"/><circle cx="702.7" cy="206.8" r="2.6"/><circle cx="682.3" cy="251.4" r="2.6"/><circle cx="679.9" cy="232.6" r="2.6"/><circle cx="680.3" cy="246.6" r="2.6"/><circle cx="696.2" cy="242.7" r="2.6"/><circle cx="691.7" cy="248.8" r="2.6"/><circle cx="688.1" cy="253.2" r="2.6"/><circle cx="697.3" cy="238.9" r="2.6"/><circle cx="682.8" cy="232.5" r="2.6"/><circle cx="679.6" cy="249.8" r="2.6"/><circle cx="691" cy="253.6" r="2.6"/><circle cx="699.4" cy="244.2" r="2.6"/><circle cx="681.3" cy="258.1" r="2.6"/><circle cx="699.5" cy="245.3" r="2.6"/><circle cx="674.6" cy="257.5" r="2.6"/><circle cx="690.8" cy="242.9" r="2.6"/><circle cx="679.2" cy="254" r="2.6"/><circle cx="673.8" cy="223" r="2.6"/><circle cx="705.1" cy="249.6" r="2.6"/><circle cx="683.5" cy="255.7" r="2.6"/><circle cx="674.6" cy="234.1" r="2.6"/><circle cx="672.9" cy="259.3" r="2.6"/><circle cx="678.6" cy="259.8" r="2.6"/><circle cx="693.1" cy="242.7" r="2.6"/><circle cx="679" cy="244.7" r="2.6"/><circle cx="678.2" cy="255.2" r="2.6"/><circle cx="685.5" cy="251.3" r="2.6"/><circle cx="690.6" cy="240.6" r="2.6"/><circle cx="687.4" cy="248" r="2.6"/><circle cx="683.8" cy="238.8" r="2.6"/><circle cx="680.7" cy="242.8" r="2.6"/><circle cx="672.7" cy="261.7" r="2.6"/><circle cx="677.1" cy="232.3" r="2.6"/><circle cx="688.3" cy="235.3" r="2.6"/><circle cx="693.7" cy="250.2" r="2.6"/><circle cx="677.4" cy="249.6" r="2.6"/><circle cx="683.9" cy="255.4" r="2.6"/><circle cx="679.1" cy="240.3" r="2.6"/><circle cx="678.2" cy="250.8" r="2.6"/><circle cx="687.6" cy="247.4" r="2.6"/><circle cx="683.3" cy="260.1" r="2.6"/><circle cx="681.6" cy="247.4" r="2.6"/><circle cx="709.6" cy="237.4" r="2.6"/><circle cx="679.9" cy="247.6" r="2.6"/><circle cx="684.9" cy="241.1" r="2.6"/><circle cx="698.9" cy="232.4" r="2.6"/><circle cx="695.5" cy="230.2" r="2.6"/><circle cx="693.8" cy="237.4" r="2.6"/><circle cx="675.6" cy="260" r="2.6"/><circle cx="671.6" cy="243.7" r="2.6"/><circle cx="697.7" cy="248.5" r="2.6"/><circle cx="682.9" cy="249.9" r="2.6"/><circle cx="687" cy="257" r="2.6"/><circle cx="684.7" cy="224.1" r="2.6"/><circle cx="694.7" cy="247.5" r="2.6"/><circle cx="673.6" cy="244.2" r="2.6"/><circle cx="711.1" cy="240.5" r="2.6"/><circle cx="686.2" cy="254" r="2.6"/><circle cx="692.5" cy="219.2" r="2.6"/><circle cx="676.9" cy="246.9" r="2.6"/><circle cx="704.2" cy="230.2" r="2.6"/><circle cx="716.3" cy="238.1" r="2.6"/><circle cx="685.8" cy="256.2" r="2.6"/><circle cx="677.8" cy="233.8" r="2.6"/><circle cx="698.6" cy="227.7" r="2.6"/><circle cx="675.9" cy="245.4" r="2.6"/><circle cx="685.8" cy="242.7" r="2.6"/><circle cx="672.7" cy="247.2" r="2.6"/><circle cx="698.9" cy="252" r="2.6"/><circle cx="672.7" cy="236.7" r="2.6"/><circle cx="696.5" cy="218.7" r="2.6"/><circle cx="698.8" cy="244.8" r="2.6"/><circle cx="705.1" cy="245.9" r="2.6"/><circle cx="679.8" cy="240.7" r="2.6"/><circle cx="700.6" cy="244.3" r="2.6"/><circle cx="681.9" cy="231.9" r="2.6"/><circle cx="679.8" cy="236.3" r="2.6"/><circle cx="684" cy="256.3" r="2.6"/><circle cx="693.6" cy="236.6" r="2.6"/><circle cx="689" cy="246.2" r="2.6"/><circle cx="696.5" cy="250.6" r="2.6"/><circle cx="682.1" cy="234.1" r="2.6"/><circle cx="673.3" cy="228" r="2.6"/><circle cx="698.8" cy="252.6" r="2.6"/><circle cx="680.5" cy="258.9" r="2.6"/><circle cx="688.3" cy="233.1" r="2.6"/><circle cx="676.6" cy="254.1" r="2.6"/><circle cx="703.5" cy="255.1" r="2.6"/><circle cx="673.7" cy="239.9" r="2.6"/><circle cx="673.4" cy="255.2" r="2.6"/><circle cx="673.8" cy="256.9" r="2.6"/><circle cx="699.3" cy="252.9" r="2.6"/><circle cx="703.7" cy="245.7" r="2.6"/><circle cx="723.2" cy="248.3" r="2.6"/><circle cx="681.6" cy="252.2" r="2.6"/><circle cx="680.3" cy="244.8" r="2.6"/><circle cx="689.3" cy="235.1" r="2.6"/><circle cx="679.1" cy="237.2" r="2.6"/><circle cx="682.2" cy="236.6" r="2.6"/><circle cx="691.7" cy="244.6" r="2.6"/><circle cx="680.6" cy="233" r="2.6"/><circle cx="686.6" cy="252.5" r="2.6"/><circle cx="704.1" cy="236.9" r="2.6"/><circle cx="697.5" cy="251.8" r="2.6"/><circle cx="681.6" cy="246.4" r="2.6"/><circle cx="680.3" cy="254.5" r="2.6"/><circle cx="691.2" cy="237.6" r="2.6"/><circle cx="680.6" cy="254.7" r="2.6"/><circle cx="671.9" cy="247.4" r="2.6"/><circle cx="691.4" cy="247.9" r="2.6"/><circle cx="684" cy="241.2" r="2.6"/><circle cx="672" cy="251.6" r="2.6"/><circle cx="688.8" cy="223.4" r="2.6"/><circle cx="684.3" cy="250.2" r="2.6"/><circle cx="686.9" cy="246" r="2.6"/><circle cx="678" cy="248.8" r="2.6"/><circle cx="689.1" cy="241" r="2.6"/><circle cx="695.3" cy="253.9" r="2.6"/><circle cx="685.1" cy="227.9" r="2.6"/><circle cx="685.8" cy="251.1" r="2.6"/><circle cx="675.2" cy="251.2" r="2.6"/><circle cx="684.5" cy="242" r="2.6"/><circle cx="683.3" cy="258.2" r="2.6"/><circle cx="707.5" cy="246.6" r="2.6"/><circle cx="706.8" cy="238.9" r="2.6"/><circle cx="707.3" cy="244.7" r="2.6"/><circle cx="692.9" cy="247.7" r="2.6"/><circle cx="680.1" cy="246.6" r="2.6"/><circle cx="691.6" cy="239.1" r="2.6"/><circle cx="681.8" cy="239.2" r="2.6"/><circle cx="687.4" cy="254" r="2.6"/><circle cx="688.1" cy="252.2" r="2.6"/><circle cx="695.6" cy="250.9" r="2.6"/><circle cx="677.7" cy="252.8" r="2.6"/><circle cx="679.7" cy="247.2" r="2.6"/><circle cx="686.1" cy="227" r="2.6"/><circle cx="681.5" cy="257.8" r="2.6"/><circle cx="690.7" cy="254.2" r="2.6"/><circle cx="675.2" cy="247.4" r="2.6"/><circle cx="678.2" cy="256.3" r="2.6"/><circle cx="687.7" cy="242.2" r="2.6"/><circle cx="681.3" cy="260.8" r="2.6"/><circle cx="693.3" cy="251.3" r="2.6"/><circle cx="674.9" cy="247.5" r="2.6"/><circle cx="674.9" cy="259.4" r="2.6"/><circle cx="692.7" cy="248.9" r="2.6"/><circle cx="703.4" cy="234.6" r="2.6"/><circle cx="675.7" cy="237.8" r="2.6"/><circle cx="685.6" cy="254.5" r="2.6"/><circle cx="687.8" cy="256.1" r="2.6"/><circle cx="673" cy="226" r="2.6"/><circle cx="673" cy="255.3" r="2.6"/><circle cx="680.6" cy="226.5" r="2.6"/><circle cx="719.8" cy="226.2" r="2.6"/><circle cx="673" cy="249.5" r="2.6"/><circle cx="687.2" cy="258.2" r="2.6"/><circle cx="675" cy="248.8" r="2.6"/><circle cx="689.1" cy="246.5" r="2.6"/><circle cx="694.9" cy="244.9" r="2.6"/><circle cx="684.1" cy="244.1" r="2.6"/><circle cx="704.6" cy="247.7" r="2.6"/><circle cx="693.1" cy="253.8" r="2.6"/><circle cx="678" cy="254.7" r="2.6"/><circle cx="672.5" cy="233.8" r="2.6"/><circle cx="681.6" cy="229.7" r="2.6"/><circle cx="685.7" cy="254.4" r="2.6"/><circle cx="711.7" cy="229.3" r="2.6"/><circle cx="678.3" cy="253.1" r="2.6"/><circle cx="677.2" cy="244.9" r="2.6"/><circle cx="694.9" cy="253.6" r="2.6"/><circle cx="691.7" cy="231.1" r="2.6"/><circle cx="684.5" cy="250.8" r="2.6"/><circle cx="675.9" cy="256.7" r="2.6"/><circle cx="684.5" cy="259.6" r="2.6"/><circle cx="680" cy="247.2" r="2.6"/><circle cx="676.9" cy="241.2" r="2.6"/><circle cx="695.1" cy="244.8" r="2.6"/><circle cx="704.7" cy="232.5" r="2.6"/><circle cx="710.1" cy="224.8" r="2.6"/><circle cx="732" cy="223.9" r="2.6"/><circle cx="694.7" cy="240.1" r="2.6"/><circle cx="730.1" cy="195" r="2.6"/><circle cx="734.5" cy="201.8" r="2.6"/><circle cx="714" cy="204.5" r="2.6"/><circle cx="692.1" cy="244.2" r="2.6"/><circle cx="710.1" cy="225" r="2.6"/><circle cx="726.4" cy="204.5" r="2.6"/><circle cx="716.7" cy="227.4" r="2.6"/><circle cx="681" cy="240.5" r="2.6"/><circle cx="690.4" cy="244.6" r="2.6"/><circle cx="702.2" cy="231.9" r="2.6"/><circle cx="728.1" cy="216.1" r="2.6"/><circle cx="719.4" cy="215" r="2.6"/><circle cx="691.4" cy="246.9" r="2.6"/><circle cx="689.1" cy="240.8" r="2.6"/><circle cx="678.4" cy="247.4" r="2.6"/><circle cx="706.3" cy="222.5" r="2.6"/><circle cx="693" cy="239.9" r="2.6"/><circle cx="726.3" cy="219.9" r="2.6"/><circle cx="692.1" cy="235.7" r="2.6"/><circle cx="710.9" cy="226" r="2.6"/><circle cx="721.9" cy="225.1" r="2.6"/><circle cx="732.3" cy="226" r="2.6"/><circle cx="731.6" cy="192.6" r="2.6"/><circle cx="721.8" cy="202.5" r="2.6"/><circle cx="722.1" cy="220.6" r="2.6"/><circle cx="705" cy="235.5" r="2.6"/><circle cx="714" cy="218.4" r="2.6"/><circle cx="675.8" cy="258.2" r="2.6"/><circle cx="735.7" cy="188.1" r="2.6"/><circle cx="720.2" cy="234.1" r="2.6"/><circle cx="732.8" cy="184.2" r="2.6"/><circle cx="724.6" cy="201.7" r="2.6"/><circle cx="730.6" cy="220.2" r="2.6"/><circle cx="692.6" cy="251.8" r="2.6"/><circle cx="710.1" cy="236.5" r="2.6"/><circle cx="678.9" cy="250.1" r="2.6"/><circle cx="710.2" cy="217.1" r="2.6"/><circle cx="689" cy="242.6" r="2.6"/><circle cx="712.7" cy="213.5" r="2.6"/><circle cx="673.1" cy="252.8" r="2.6"/><circle cx="712.5" cy="223.4" r="2.6"/><circle cx="692" cy="247.1" r="2.6"/><circle cx="718.6" cy="225.8" r="2.6"/><circle cx="695.3" cy="236.8" r="2.6"/><circle cx="710.3" cy="212" r="2.6"/><circle cx="684.5" cy="203.3" r="2.6"/><circle cx="690.5" cy="203.3" r="2.6"/><circle cx="697.7" cy="195.4" r="2.6"/><circle cx="707.2" cy="191.4" r="2.6"/><circle cx="716.8" cy="189" r="2.6"/><circle cx="726.3" cy="184.2" r="2.6"/><circle cx="731.1" cy="174.6" r="2.6"/><circle cx="740.2" cy="180.6" r="2.6"/><circle cx="750.2" cy="181.1" r="2.6"/><circle cx="751.4" cy="175.4" r="2.6"/><circle cx="754.5" cy="163.9" r="2.6"/><circle cx="758.6" cy="147.6" r="2.6"/><circle cx="801.6" cy="161" r="2.6"/><circle cx="783.7" cy="178.2" r="2.6"/><circle cx="745.4" cy="203.3" r="2.6"/><circle cx="740.2" cy="203.3" r="2.6"/><circle cx="749" cy="215.3" r="2.6"/><circle cx="734" cy="248.7" r="2.6"/><circle cx="721.6" cy="249.9" r="2.6"/><circle cx="727.5" cy="239.1" r="2.6"/><circle cx="726.3" cy="227.2" r="2.6"/><circle cx="727.5" cy="218.8" r="2.6"/><circle cx="718" cy="209.3" r="2.6"/><circle cx="720.4" cy="200.9" r="2.6"/><circle cx="728.7" cy="197.3" r="2.6"/><circle cx="734.7" cy="194.9" r="2.6"/><circle cx="733.5" cy="200.9" r="2.6"/><circle cx="651.3" cy="240.6" r="2.6"/><circle cx="645" cy="256.5" r="2.6"/><circle cx="647" cy="244.1" r="2.6"/><circle cx="649.2" cy="244.4" r="2.6"/><circle cx="654.5" cy="243" r="2.6"/><circle cx="643.4" cy="244.7" r="2.6"/><circle cx="654.2" cy="244.5" r="2.6"/><circle cx="654.8" cy="242.8" r="2.6"/><circle cx="652.5" cy="242.2" r="2.6"/><circle cx="651.8" cy="255.4" r="2.6"/><circle cx="648.6" cy="241.2" r="2.6"/><circle cx="649.3" cy="248.2" r="2.6"/><circle cx="654.8" cy="244.8" r="2.6"/><circle cx="654.1" cy="248.2" r="2.6"/><circle cx="651.4" cy="256.3" r="2.6"/><circle cx="647.3" cy="254.2" r="2.6"/><circle cx="651.7" cy="247.3" r="2.6"/><circle cx="644.5" cy="245.5" r="2.6"/><circle cx="645.3" cy="249.6" r="2.6"/><circle cx="642.9" cy="248.1" r="2.6"/><circle cx="646.2" cy="241.1" r="2.6"/><circle cx="649.7" cy="242.7" r="2.6"/><circle cx="650.7" cy="250.7" r="2.6"/><circle cx="654.6" cy="251.7" r="2.6"/><circle cx="651.5" cy="245.5" r="2.6"/><circle cx="611.2" cy="255.4" r="2.6"/><circle cx="623.1" cy="250.4" r="2.6"/><circle cx="618.8" cy="248" r="2.6"/><circle cx="643.3" cy="281.5" r="2.6"/><circle cx="652.9" cy="288.9" r="2.6"/><circle cx="611" cy="317.8" r="2.6"/><circle cx="653.8" cy="278.2" r="2.6"/><circle cx="614.6" cy="291.5" r="2.6"/><circle cx="637.6" cy="298" r="2.6"/><circle cx="614.2" cy="308.6" r="2.6"/><circle cx="627.5" cy="291.4" r="2.6"/><circle cx="591.9" cy="316.3" r="2.6"/><circle cx="618.6" cy="279.5" r="2.6"/><circle cx="627.8" cy="287.8" r="2.6"/><circle cx="608.9" cy="300.3" r="2.6"/><circle cx="637.3" cy="289" r="2.6"/><circle cx="603.1" cy="300.6" r="2.6"/><circle cx="639.7" cy="279.6" r="2.6"/><circle cx="624.5" cy="314.1" r="2.6"/><circle cx="636.4" cy="282.1" r="2.6"/><circle cx="654.9" cy="289.1" r="2.6"/><circle cx="634.8" cy="306.4" r="2.6"/><circle cx="623.2" cy="301.2" r="2.6"/><circle cx="651.2" cy="301.7" r="2.6"/><circle cx="588.1" cy="318.4" r="2.6"/><circle cx="620.5" cy="308.2" r="2.6"/><circle cx="625.4" cy="298.1" r="2.6"/><circle cx="636.4" cy="290.6" r="2.6"/><circle cx="646.5" cy="278.6" r="2.6"/><circle cx="628.9" cy="305.6" r="2.6"/><circle cx="645.7" cy="302.9" r="2.6"/><circle cx="624.7" cy="303" r="2.6"/><circle cx="648.8" cy="286.1" r="2.6"/><circle cx="639.8" cy="280.2" r="2.6"/><circle cx="623" cy="293.4" r="2.6"/><circle cx="608.5" cy="295.3" r="2.6"/><circle cx="645.5" cy="314.6" r="2.6"/><circle cx="648.2" cy="301.2" r="2.6"/><circle cx="625.8" cy="324.9" r="2.6"/><circle cx="632.8" cy="305.1" r="2.6"/><circle cx="609.1" cy="295.2" r="2.6"/><circle cx="646.1" cy="282" r="2.6"/><circle cx="611.9" cy="307.2" r="2.6"/><circle cx="628.5" cy="297.6" r="2.6"/><circle cx="639.4" cy="283.3" r="2.6"/><circle cx="634.3" cy="289.2" r="2.6"/><circle cx="642.1" cy="283.2" r="2.6"/><circle cx="639.3" cy="288.4" r="2.6"/><circle cx="655" cy="285.3" r="2.6"/><circle cx="639.6" cy="307.3" r="2.6"/><circle cx="632.3" cy="307.2" r="2.6"/><circle cx="644.6" cy="296.9" r="2.6"/><circle cx="587.4" cy="293.1" r="2.6"/><circle cx="623.2" cy="303" r="2.6"/><circle cx="624.3" cy="277.2" r="2.6"/><circle cx="605.4" cy="297.2" r="2.6"/><circle cx="626.5" cy="295.8" r="2.6"/><circle cx="647.7" cy="282.6" r="2.6"/><circle cx="625.2" cy="291.5" r="2.6"/><circle cx="632.6" cy="289.6" r="2.6"/><circle cx="636.7" cy="312.6" r="2.6"/><circle cx="642.1" cy="300.9" r="2.6"/><circle cx="642.8" cy="283" r="2.6"/><circle cx="554.3" cy="328.7" r="2.6"/><circle cx="563.9" cy="334.7" r="2.6"/><circle cx="573.4" cy="334.7" r="2.6"/><circle cx="584.2" cy="322.8" r="2.6"/><circle cx="594.9" cy="315.6" r="2.6"/><circle cx="581.8" cy="328.7" r="2.6"/><circle cx="593.8" cy="337.8" r="2.6"/><circle cx="602.1" cy="340.7" r="2.6"/><circle cx="563.9" cy="279.8" r="2.6"/><circle cx="584.2" cy="301.3" r="2.6"/><circle cx="597.3" cy="357.4" r="2.6"/><circle cx="611.7" cy="345.4" r="2.6"/><circle cx="633.2" cy="326.3" r="2.6"/><circle cx="653.5" cy="345.4" r="2.6"/><circle cx="562.7" cy="370.1" r="2.6"/><circle cx="648.2" cy="366.2" r="2.6"/><circle cx="690.4" cy="343.6" r="2.6"/><circle cx="682.8" cy="290.9" r="2.6"/><circle cx="674.4" cy="292.7" r="2.6"/><circle cx="686.9" cy="339" r="2.6"/><circle cx="681.8" cy="312.9" r="2.6"/><circle cx="684.5" cy="335.2" r="2.6"/><circle cx="681.9" cy="344.6" r="2.6"/><circle cx="672" cy="315.7" r="2.6"/><circle cx="675.7" cy="315.7" r="2.6"/><circle cx="673.7" cy="277" r="2.6"/><circle cx="676.8" cy="311.2" r="2.6"/><circle cx="675.9" cy="284.8" r="2.6"/><circle cx="673.1" cy="281.4" r="2.6"/><circle cx="673.4" cy="285.2" r="2.6"/><circle cx="677.1" cy="304.2" r="2.6"/><circle cx="674" cy="289.2" r="2.6"/><circle cx="673.8" cy="291.4" r="2.6"/><circle cx="681.8" cy="283.6" r="2.6"/><circle cx="690.2" cy="290.3" r="2.6"/><circle cx="673.2" cy="289.3" r="2.6"/><circle cx="672.5" cy="289.7" r="2.6"/><circle cx="688.4" cy="336" r="2.6"/><circle cx="672" cy="289.7" r="2.6"/><circle cx="675.7" cy="298.7" r="2.6"/><circle cx="685.7" cy="280.7" r="2.6"/><circle cx="678.8" cy="287.5" r="2.6"/><circle cx="688.1" cy="292.4" r="2.6"/><circle cx="676.1" cy="282.4" r="2.6"/><circle cx="677" cy="283.4" r="2.6"/><circle cx="676.3" cy="312" r="2.6"/><circle cx="672" cy="338.2" r="2.6"/><circle cx="688.5" cy="314.1" r="2.6"/><circle cx="683.5" cy="312.8" r="2.6"/><circle cx="683.4" cy="309.4" r="2.6"/><circle cx="672.9" cy="323.7" r="2.6"/><circle cx="681.3" cy="334.7" r="2.6"/><circle cx="688.9" cy="341.3" r="2.6"/><circle cx="679.8" cy="285.5" r="2.6"/><circle cx="683.5" cy="335.4" r="2.6"/><circle cx="672.5" cy="296.8" r="2.6"/><circle cx="676.7" cy="338.7" r="2.6"/><circle cx="672.7" cy="299.7" r="2.6"/><circle cx="671.9" cy="325.6" r="2.6"/><circle cx="688.9" cy="328.1" r="2.6"/><circle cx="686.5" cy="343.7" r="2.6"/><circle cx="673.5" cy="342" r="2.6"/><circle cx="683.5" cy="306.4" r="2.6"/><circle cx="684.4" cy="289.4" r="2.6"/><circle cx="683.3" cy="338" r="2.6"/><circle cx="677.6" cy="343.2" r="2.6"/><circle cx="685.1" cy="319.6" r="2.6"/><circle cx="677.7" cy="284.1" r="2.6"/><circle cx="690.3" cy="303.9" r="2.6"/><circle cx="676.4" cy="285.4" r="2.6"/><circle cx="686.3" cy="330.7" r="2.6"/><circle cx="677.6" cy="280.2" r="2.6"/><circle cx="690.1" cy="282.6" r="2.6"/><circle cx="678.2" cy="334.2" r="2.6"/><circle cx="687.5" cy="331.3" r="2.6"/><circle cx="680.6" cy="318.7" r="2.6"/></g>
<circle cx="883.2" cy="38.7" r="2.6" fill="#e0301f" fill-opacity="0.8"/>
<circle cx="888.5" cy="62.3" r="2.6" fill="#e0301f" fill-opacity="0.8"/>
<circle cx="725.8" cy="116.8" r="2.6" fill="#e0301f" fill-opacity="0.8"/>
<circle cx="758.9" cy="147.6" r="2.6" fill="#e0301f" fill-opacity="0.8"/>
<circle cx="801.3" cy="161.1" r="2.6" fill="#e0301f" fill-opacity="0.8"/>
<circle cx="783.7" cy="178.4" r="2.6" fill="#e0301f" fill-opacity="0.8"/>
<circle cx="732.6" cy="155.9" r="2.6" fill="#aaa" fill-opacity="0.6"/>
<path d="M663.3,74 V413 M538,267.8 H860" stroke="#000" stroke-width="2.2" fill="none"/>
<path d="M663.3,74 V36.4" stroke="#000" stroke-width="2.2" stroke-dasharray="2.2,2.2" fill="none"/>
<path d="M860,267.8 H902.3" stroke="#000" stroke-width="2.2" stroke-dasharray="4,3.5" fill="none"/>
<path d="M654.5,36.4 H663.3" stroke="#000" stroke-width="2.2"/>
<text x="648.5" y="42.9" font-size="20.5" text-anchor="end">3</text>
<path d="M654.5,74.2 H663.3" stroke="#000" stroke-width="2.2"/>
<text x="648.5" y="80.7" font-size="20.5" text-anchor="end">2</text>
<path d="M654.5,171 H663.3" stroke="#000" stroke-width="2.2"/>
<text x="648.5" y="177.5" font-size="20.5" text-anchor="end">1</text>
<path d="M654.5,364.6 H663.3" stroke="#000" stroke-width="2.2"/>
<text x="648.5" y="371.1" font-size="20.5" text-anchor="end">−1</text>
<path d="M566.5,267.8 V276.5" stroke="#000" stroke-width="2.2"/>
<text x="566.5" y="298" font-size="20.5" text-anchor="middle">−1</text>
<path d="M760.1,267.8 V276.5" stroke="#000" stroke-width="2.2"/>
<text x="760.1" y="298" font-size="20.5" text-anchor="middle">1</text>
<path d="M856.9,267.8 V276.5" stroke="#000" stroke-width="2.2"/>
<text x="856.9" y="298" font-size="20.5" text-anchor="middle">2</text>
<path d="M902.3,267.8 V276.5" stroke="#000" stroke-width="2.2"/>
<text x="902.3" y="298" font-size="20.5" text-anchor="middle">3</text>
<text x="903" y="233" font-size="20.5" text-anchor="end">FR</text>
<text x="903" y="253.5" font-size="20.5" text-anchor="end">log<tspan font-size="14" dy="5">2</tspan><tspan dy="-5">FC</tspan></text>
<text x="0" y="0" font-size="20.5" transform="translate(655,410) rotate(-90)">NF</text>
<text x="873.5" y="45" font-size="20.5" text-anchor="end" font-style="italic" fill="#e8643c">tdT</text>
<text x="875" y="67.6" font-size="20.5" text-anchor="end" font-style="italic" fill="#e8643c">Vip</text>
<text x="713.4" y="108" font-size="20.5" font-style="italic" fill="#e8643c">Tac2</text>
<text x="744.6" y="140.8" font-size="20.5" font-style="italic" fill="#e8643c">Nr4a1</text>
</g>
<g id="pd">
<text transform="translate(938,28) scale(1.1,1)" font-size="32" font-weight="bold" stroke="#000" stroke-width="1.3">d</text>
<rect x="1057.4" y="101.6" width="23.7" height="163.3" fill="#f08f00" stroke="#111" stroke-width="1.4"/>
<rect x="1096.1" y="260.8" width="23.8" height="4.1" fill="#009fe3" stroke="#111" stroke-width="1.4"/>
<rect x="1165.5" y="260.5" width="24" height="4.4" fill="#f08f00" stroke="#111" stroke-width="1.4"/>
<rect x="1204.5" y="228.3" width="24.1" height="36.6" fill="#009fe3" stroke="#111" stroke-width="1.4"/>
<rect x="1264.6" y="257.8" width="24" height="7.1" fill="#f08f00" stroke="#111" stroke-width="1.4"/>
<path d="M1316,263.6 H1346" stroke="#222" stroke-width="1.2"/>
<rect x="1382.3" y="234.3" width="23.8" height="30.6" fill="#f08f00" stroke="#111" stroke-width="1.4"/>
<rect x="1421.4" y="246.6" width="23.4" height="18.3" fill="#009fe3" stroke="#111" stroke-width="1.4"/>
<path d="M1041.5,69.6 V264.9 M1028.7,264.9 H1462.9" stroke="#000" stroke-width="2.2" fill="none"/>
<path d="M1028.7,69.6 H1041.5" stroke="#000" stroke-width="2.2"/>
<text x="1023.5" y="77.1" font-size="20.5" text-anchor="end">1,200</text>
<path d="M1028.7,134.9 H1041.5" stroke="#000" stroke-width="2.2"/>
<text x="1023.5" y="142.4" font-size="20.5" text-anchor="end">800</text>
<path d="M1028.7,200.2 H1041.5" stroke="#000" stroke-width="2.2"/>
<text x="1023.5" y="207.7" font-size="20.5" text-anchor="end">400</text>
<path d="M1028.7,264.9 H1041.5" stroke="#000" stroke-width="2.2"/>
<text x="1023.5" y="272.4" font-size="20.5" text-anchor="end">0</text>
<text x="1092.6" y="291" font-size="20.5" text-anchor="middle">FR vs NF</text>
<text x="1199.5" y="291" font-size="20.5" text-anchor="middle">FR vs NR</text>
<text x="1305" y="291" font-size="20.5" text-anchor="middle">FR vs HC</text>
<text x="1413" y="291" font-size="20.5" text-anchor="middle">NR vs HC</text>
<text x="0" y="0" font-size="18.3" text-anchor="middle" transform="translate(965.8,171.3) rotate(-90)">Number of genes</text>
<rect x="1249.9" y="63.4" width="34.7" height="15.2" fill="#f08f00" stroke="#111" stroke-width="1.4"/>
<rect x="1249.9" y="90.9" width="34.7" height="15.6" fill="#009fe3" stroke="#111" stroke-width="1.4"/>
<text x="1299.5" y="78.5" font-size="20.5">Conserved genes</text>
<text x="1299.5" y="106.3" font-size="20.5">Distinct genes</text>
</g>
<g id="pe">
<text transform="translate(717.2,470.5) scale(1.1,1)" font-size="32" font-weight="bold" stroke="#000" stroke-width="1.3">e</text>
<text x="1479" y="502.6" font-size="20.5" text-anchor="end">Total = 3,350 DEGs</text>
<circle cx="827.8" cy="554.6" r="8.3" fill="#8c8c8c" fill-opacity="0.8"/>
<circle cx="936.7" cy="554.6" r="8.3" fill="#a5aed4" fill-opacity="1"/>
<circle cx="1070.7" cy="555.8" r="8.3" fill="#8cc39b" fill-opacity="1"/>
<circle cx="1212.7" cy="555.8" r="8.3" fill="#f08087" fill-opacity="1"/>
<text x="843.7" y="561.5" font-size="20.5">NS</text>
<text x="951.9" y="561.5" font-size="20.5"><tspan font-style="italic">P</tspan> value</text>
<text x="1086.6" y="561.5" font-size="20.5">log<tspan font-size="14" dy="5">2</tspan><tspan dy="-5"> FC</tspan></text>
<text x="1227.8" y="561.5" font-size="20.5"><tspan font-style="italic">P</tspan> value and log<tspan font-size="14" dy="5">2</tspan><tspan dy="-5"> FC</tspan></text>
<g fill="#6e6e6e" fill-opacity="0.6"><circle cx="1071.6" cy="1002.2" r="4.2"/><circle cx="1085.7" cy="988.5" r="4.2"/><circle cx="1073.2" cy="1006.2" r="4.2"/><circle cx="1063.5" cy="995.2" r="4.2"/><circle cx="1076.9" cy="1036" r="4.2"/><circle cx="1060.8" cy="965" r="4.2"/><circle cx="1060.7" cy="1038.4" r="4.2"/><circle cx="1078.8" cy="927.1" r="4.2"/><circle cx="1087.5" cy="1060.9" r="4.2"/><circle cx="1077.6" cy="1010.3" r="4.2"/><circle cx="1062.7" cy="923.2" r="4.2"/><circle cx="1073.9" cy="929.6" r="4.2"/><circle cx="1063.7" cy="956.1" r="4.2"/><circle cx="1058.9" cy="988.3" r="4.2"/><circle cx="1071.2" cy="1043.2" r="4.2"/><circle cx="1073.6" cy="1013.8" r="4.2"/><circle cx="1073" cy="1017.1" r="4.2"/><circle cx="1071.7" cy="961.3" r="4.2"/><circle cx="1087.9" cy="1065.4" r="4.2"/><circle cx="1083.2" cy="1023.6" r="4.2"/><circle cx="1067.5" cy="954.3" r="4.2"/><circle cx="1066.7" cy="931.2" r="4.2"/><circle cx="1081" cy="979.1" r="4.2"/><circle cx="1083.4" cy="977" r="4.2"/><circle cx="1086.7" cy="1043.9" r="4.2"/><circle cx="1058" cy="951.4" r="4.2"/><circle cx="1085.3" cy="989.1" r="4.2"/><circle cx="1087.4" cy="978.6" r="4.2"/><circle cx="1060.2" cy="1012.3" r="4.2"/><circle cx="1081.4" cy="960.1" r="4.2"/><circle cx="1060.6" cy="969.2" r="4.2"/><circle cx="1086.9" cy="1030.9" r="4.2"/><circle cx="1061.5" cy="956.7" r="4.2"/><circle cx="1061" cy="929.7" r="4.2"/><circle cx="1081.9" cy="946.8" r="4.2"/><circle cx="1074.8" cy="985.9" r="4.2"/><circle cx="1063.7" cy="1027.1" r="4.2"/><circle cx="1061.9" cy="1014.3" r="4.2"/><circle cx="1061.5" cy="982" r="4.2"/><circle cx="1064.4" cy="960.1" r="4.2"/><circle cx="1087.1" cy="1037.5" r="4.2"/><circle cx="1067.1" cy="1049.3" r="4.2"/><circle cx="1064.3" cy="978.2" r="4.2"/><circle cx="1083.6" cy="1014.1" r="4.2"/><circle cx="1061" cy="1064.4" r="4.2"/><circle cx="1064.4" cy="958.5" r="4.2"/><circle cx="1081.2" cy="968.7" r="4.2"/><circle cx="1066.9" cy="931.6" r="4.2"/><circle cx="1060.7" cy="1005.5" r="4.2"/><circle cx="1065.3" cy="1008.2" r="4.2"/><circle cx="1069.2" cy="986.7" r="4.2"/><circle cx="1086.8" cy="991.1" r="4.2"/><circle cx="1075.2" cy="1046.6" r="4.2"/><circle cx="1063.5" cy="943.3" r="4.2"/><circle cx="1085.3" cy="1039.6" r="4.2"/><circle cx="1065.5" cy="948.5" r="4.2"/><circle cx="1080.2" cy="1057.4" r="4.2"/><circle cx="1063.9" cy="1058.8" r="4.2"/><circle cx="1084.5" cy="1008.5" r="4.2"/><circle cx="1070.6" cy="936.1" r="4.2"/><circle cx="1059.2" cy="1060.6" r="4.2"/><circle cx="1065.2" cy="1023.2" r="4.2"/><circle cx="1065.7" cy="1040.4" r="4.2"/><circle cx="1075.9" cy="963.5" r="4.2"/><circle cx="1063.3" cy="1025.5" r="4.2"/><circle cx="1060.1" cy="954.1" r="4.2"/><circle cx="1074.8" cy="1044.6" r="4.2"/><circle cx="1076.4" cy="961.6" r="4.2"/><circle cx="1085.5" cy="950.6" r="4.2"/><circle cx="1058.5" cy="960" r="4.2"/><circle cx="1071.4" cy="929.8" r="4.2"/><circle cx="1063.3" cy="974.5" r="4.2"/><circle cx="1075.2" cy="940.1" r="4.2"/><circle cx="1068.9" cy="1050.2" r="4.2"/><circle cx="1087.4" cy="1016.3" r="4.2"/><circle cx="1078.7" cy="1005.7" r="4.2"/><circle cx="1062.2" cy="926.1" r="4.2"/><circle cx="1058.5" cy="1053" r="4.2"/><circle cx="1079" cy="1060.6" r="4.2"/><circle cx="1058.6" cy="1013.2" r="4.2"/><circle cx="1072.5" cy="1026.9" r="4.2"/><circle cx="1067.6" cy="1065.9" r="4.2"/><circle cx="1060.3" cy="1000.2" r="4.2"/><circle cx="1080.1" cy="1051.5" r="4.2"/><circle cx="1080.1" cy="1023" r="4.2"/><circle cx="1081.8" cy="1053.7" r="4.2"/><circle cx="1068.6" cy="1020.3" r="4.2"/><circle cx="1085" cy="1047.3" r="4.2"/><circle cx="1070.5" cy="1035.6" r="4.2"/><circle cx="1083.9" cy="1004.1" r="4.2"/><circle cx="1085.7" cy="948" r="4.2"/><circle cx="1084.1" cy="963.4" r="4.2"/><circle cx="1065" cy="965.5" r="4.2"/><circle cx="1099.7" cy="981.8" r="4.2"/><circle cx="1089.7" cy="948.4" r="4.2"/><circle cx="1089.9" cy="961.5" r="4.2"/><circle cx="1078.7" cy="979" r="4.2"/><circle cx="1065.2" cy="973" r="4.2"/><circle cx="1063.1" cy="962.9" r="4.2"/><circle cx="1080.3" cy="937.7" r="4.2"/><circle cx="1088.5" cy="955.8" r="4.2"/><circle cx="1085.4" cy="984.6" r="4.2"/><circle cx="1071.7" cy="922.8" r="4.2"/><circle cx="1073.4" cy="968.1" r="4.2"/><circle cx="1069.7" cy="933.5" r="4.2"/><circle cx="1096.4" cy="966.9" r="4.2"/><circle cx="1078.8" cy="982.6" r="4.2"/><circle cx="1074.4" cy="967.3" r="4.2"/><circle cx="1069.5" cy="951.3" r="4.2"/><circle cx="1092.6" cy="984.2" r="4.2"/><circle cx="1095.5" cy="948.1" r="4.2"/><circle cx="1084.2" cy="943.5" r="4.2"/><circle cx="1067.2" cy="955.8" r="4.2"/><circle cx="1093.8" cy="979.7" r="4.2"/><circle cx="1089" cy="986.6" r="4.2"/><circle cx="1072.5" cy="933.5" r="4.2"/><circle cx="1079.1" cy="940.7" r="4.2"/><circle cx="1070.1" cy="950.2" r="4.2"/><circle cx="1085.8" cy="955.6" r="4.2"/><circle cx="1074" cy="979.1" r="4.2"/><circle cx="1099.3" cy="952.8" r="4.2"/><circle cx="1064.8" cy="924.1" r="4.2"/><circle cx="1095.2" cy="924.8" r="4.2"/><circle cx="1088.9" cy="960.8" r="4.2"/><circle cx="1073.7" cy="975.8" r="4.2"/><circle cx="1062.7" cy="931.2" r="4.2"/><circle cx="1079.3" cy="923.7" r="4.2"/><circle cx="1093.5" cy="938.1" r="4.2"/><circle cx="1067.4" cy="925.2" r="4.2"/><circle cx="1085.9" cy="952.4" r="4.2"/><circle cx="1242" cy="1038.1" r="4.2"/><circle cx="1243" cy="1060" r="4.2"/><circle cx="1230.3" cy="989.9" r="4.2"/><circle cx="1235.8" cy="946.9" r="4.2"/><circle cx="1244" cy="1024.6" r="4.2"/><circle cx="1227.2" cy="947" r="4.2"/><circle cx="1228.1" cy="1022.1" r="4.2"/><circle cx="1240.6" cy="996.5" r="4.2"/><circle cx="1246.2" cy="978.1" r="4.2"/><circle cx="1243.7" cy="1035.8" r="4.2"/><circle cx="1231.7" cy="1056.2" r="4.2"/><circle cx="1229.8" cy="1025.7" r="4.2"/><circle cx="1238" cy="1011.7" r="4.2"/><circle cx="1238.8" cy="1052.9" r="4.2"/><circle cx="1240.8" cy="1048.5" r="4.2"/><circle cx="1240.5" cy="1036.5" r="4.2"/><circle cx="1242.8" cy="1015.4" r="4.2"/><circle cx="1232.1" cy="950.7" r="4.2"/><circle cx="1231.2" cy="1014" r="4.2"/><circle cx="1255.1" cy="1025.1" r="4.2"/><circle cx="1233.8" cy="1063.2" r="4.2"/><circle cx="1259.4" cy="1062.7" r="4.2"/><circle cx="1253.5" cy="967.5" r="4.2"/><circle cx="1232.5" cy="1052.9" r="4.2"/><circle cx="1235.1" cy="933" r="4.2"/><circle cx="1237.7" cy="984.9" r="4.2"/><circle cx="1252" cy="991.7" r="4.2"/><circle cx="1234.5" cy="925.1" r="4.2"/><circle cx="1228.1" cy="1037" r="4.2"/><circle cx="1231.4" cy="946.1" r="4.2"/><circle cx="1240.3" cy="941.4" r="4.2"/><circle cx="1250.3" cy="942.6" r="4.2"/><circle cx="1251.5" cy="1042.8" r="4.2"/><circle cx="1228.7" cy="1021" r="4.2"/><circle cx="1243.6" cy="1058.6" r="4.2"/><circle cx="1232.2" cy="933.5" r="4.2"/><circle cx="1229.5" cy="963.1" r="4.2"/><circle cx="1245.3" cy="1026.7" r="4.2"/><circle cx="1238.5" cy="1043.3" r="4.2"/><circle cx="1240.9" cy="1002.2" r="4.2"/><circle cx="1231.9" cy="1043.6" r="4.2"/><circle cx="1240.5" cy="1051.6" r="4.2"/><circle cx="1234.1" cy="1061.4" r="4.2"/><circle cx="1256.1" cy="997" r="4.2"/><circle cx="1235.6" cy="998.7" r="4.2"/><circle cx="1230.7" cy="994" r="4.2"/><circle cx="1229" cy="1061.6" r="4.2"/><circle cx="1228.3" cy="995.8" r="4.2"/><circle cx="1249.3" cy="1002.6" r="4.2"/><circle cx="1242.8" cy="992.2" r="4.2"/><circle cx="1228.1" cy="999.1" r="4.2"/><circle cx="1231.5" cy="981" r="4.2"/><circle cx="1260.9" cy="960" r="4.2"/><circle cx="1235.7" cy="989.6" r="4.2"/><circle cx="1237.9" cy="1039.3" r="4.2"/><circle cx="1238.2" cy="1051.6" r="4.2"/><circle cx="1239.8" cy="948.8" r="4.2"/><circle cx="1228.1" cy="1010.6" r="4.2"/><circle cx="1233.5" cy="1034" r="4.2"/><circle cx="1229.8" cy="924.3" r="4.2"/><circle cx="1230" cy="1020.6" r="4.2"/><circle cx="1236.8" cy="967.7" r="4.2"/><circle cx="1239.7" cy="936.2" r="4.2"/><circle cx="1243.6" cy="1027" r="4.2"/><circle cx="1239.7" cy="957.3" r="4.2"/><circle cx="1239.3" cy="949.7" r="4.2"/><circle cx="1242.8" cy="975.5" r="4.2"/><circle cx="1229.2" cy="980.9" r="4.2"/><circle cx="1235.3" cy="950.6" r="4.2"/><circle cx="1227.7" cy="1012.5" r="4.2"/><circle cx="1238.7" cy="1044.4" r="4.2"/><circle cx="1241" cy="1009.7" r="4.2"/><circle cx="1233.2" cy="1028.4" r="4.2"/><circle cx="1235.1" cy="1038.5" r="4.2"/><circle cx="1237.4" cy="966.7" r="4.2"/><circle cx="1234" cy="1054.8" r="4.2"/><circle cx="1237.4" cy="1049.7" r="4.2"/><circle cx="1238.1" cy="940.4" r="4.2"/><circle cx="1227.8" cy="935.1" r="4.2"/><circle cx="1238.3" cy="1041.7" r="4.2"/><circle cx="1250.9" cy="939.3" r="4.2"/><circle cx="1239.4" cy="979.4" r="4.2"/><circle cx="1227.2" cy="950.1" r="4.2"/><circle cx="1228.8" cy="1019.9" r="4.2"/><circle cx="1261.7" cy="937.7" r="4.2"/><circle cx="1248.2" cy="994.3" r="4.2"/><circle cx="1227" cy="1020.4" r="4.2"/><circle cx="1244.9" cy="948.4" r="4.2"/><circle cx="1232.8" cy="926.4" r="4.2"/><circle cx="1229.3" cy="1001" r="4.2"/><circle cx="1246.7" cy="942.3" r="4.2"/><circle cx="1227.9" cy="947.8" r="4.2"/><circle cx="1234.7" cy="1064.6" r="4.2"/><circle cx="1255.4" cy="1055.4" r="4.2"/><circle cx="1230.7" cy="1059" r="4.2"/><circle cx="1229.2" cy="988" r="4.2"/><circle cx="1227.3" cy="988.7" r="4.2"/><circle cx="1240.2" cy="995.7" r="4.2"/><circle cx="1245.6" cy="922.9" r="4.2"/><circle cx="1235.2" cy="1022.6" r="4.2"/><circle cx="1231.6" cy="986.8" r="4.2"/><circle cx="1234.4" cy="1028.2" r="4.2"/><circle cx="1234.7" cy="944.9" r="4.2"/><circle cx="1231.9" cy="995.3" r="4.2"/><circle cx="1259.7" cy="1037.2" r="4.2"/><circle cx="1229.3" cy="1023.2" r="4.2"/><circle cx="1240.4" cy="979.7" r="4.2"/><circle cx="1243.3" cy="1007.9" r="4.2"/><circle cx="1238.8" cy="1037.7" r="4.2"/><circle cx="1227.2" cy="1053.1" r="4.2"/><circle cx="1227" cy="1039.1" r="4.2"/><circle cx="1253.7" cy="979.8" r="4.2"/><circle cx="1252.2" cy="1021.7" r="4.2"/><circle cx="1245.9" cy="1032.3" r="4.2"/><circle cx="1227.6" cy="1025.8" r="4.2"/><circle cx="1242.2" cy="931.2" r="4.2"/><circle cx="1235.8" cy="922.5" r="4.2"/><circle cx="1241.1" cy="972.6" r="4.2"/><circle cx="1240.4" cy="954.7" r="4.2"/><circle cx="1243.1" cy="1058" r="4.2"/><circle cx="1233.3" cy="1016.7" r="4.2"/><circle cx="1238.6" cy="1003.6" r="4.2"/><circle cx="1241.6" cy="1066" r="4.2"/><circle cx="1229.3" cy="1014.1" r="4.2"/><circle cx="1234.2" cy="1063.1" r="4.2"/><circle cx="1251.8" cy="924.3" r="4.2"/><circle cx="1245.6" cy="958.2" r="4.2"/><circle cx="1243.4" cy="979.2" r="4.2"/><circle cx="1236" cy="975.5" r="4.2"/><circle cx="1229.3" cy="935.3" r="4.2"/><circle cx="1226.2" cy="1000.8" r="4.2"/><circle cx="1260.8" cy="994.6" r="4.2"/><circle cx="1246.3" cy="1065.3" r="4.2"/><circle cx="1230.3" cy="1013.5" r="4.2"/><circle cx="1228.3" cy="1007.6" r="4.2"/><circle cx="1231.9" cy="1031.1" r="4.2"/><circle cx="1261.4" cy="944.2" r="4.2"/><circle cx="1236.3" cy="989.4" r="4.2"/><circle cx="1235.1" cy="1009.6" r="4.2"/><circle cx="1242.4" cy="929.5" r="4.2"/><circle cx="1241.7" cy="997.4" r="4.2"/><circle cx="1231.6" cy="1007.7" r="4.2"/><circle cx="1234.7" cy="1016" r="4.2"/><circle cx="1235.8" cy="1002.3" r="4.2"/><circle cx="1231.3" cy="963.9" r="4.2"/><circle cx="1250.8" cy="923" r="4.2"/><circle cx="1226.1" cy="943.7" r="4.2"/><circle cx="1230.7" cy="1030.4" r="4.2"/><circle cx="1252.3" cy="1029.5" r="4.2"/><circle cx="1247.8" cy="928.3" r="4.2"/><circle cx="1261.6" cy="972" r="4.2"/><circle cx="1228.6" cy="969.9" r="4.2"/><circle cx="1241.5" cy="946.8" r="4.2"/><circle cx="1261" cy="934.2" r="4.2"/><circle cx="1244.8" cy="971.6" r="4.2"/><circle cx="1252" cy="946.3" r="4.2"/><circle cx="1261.2" cy="965.1" r="4.2"/><circle cx="1247.7" cy="927.2" r="4.2"/><circle cx="1248.5" cy="945.6" r="4.2"/><circle cx="1233.3" cy="923.8" r="4.2"/><circle cx="1245" cy="927.7" r="4.2"/><circle cx="1241.9" cy="957.1" r="4.2"/><circle cx="1242.4" cy="935.2" r="4.2"/><circle cx="1247" cy="943.7" r="4.2"/><circle cx="1254" cy="949.7" r="4.2"/><circle cx="1261.9" cy="972.4" r="4.2"/><circle cx="1252.4" cy="933.9" r="4.2"/><circle cx="1230.1" cy="969.2" r="4.2"/><circle cx="1254.2" cy="954.7" r="4.2"/><circle cx="1238.9" cy="935.7" r="4.2"/><circle cx="1250.7" cy="951.5" r="4.2"/><circle cx="1247.3" cy="955.2" r="4.2"/><circle cx="1253.1" cy="931.3" r="4.2"/><circle cx="1235" cy="973.9" r="4.2"/><circle cx="1259" cy="968.5" r="4.2"/><circle cx="1227.4" cy="924.3" r="4.2"/><circle cx="1235.8" cy="944" r="4.2"/><circle cx="1248.4" cy="926.5" r="4.2"/><circle cx="1245.5" cy="924.9" r="4.2"/><circle cx="1229.1" cy="957.5" r="4.2"/><circle cx="1245.8" cy="955.1" r="4.2"/><circle cx="1239.4" cy="946.8" r="4.2"/><circle cx="1233.6" cy="939.6" r="4.2"/><circle cx="1252.8" cy="966.3" r="4.2"/><circle cx="1228.7" cy="927.5" r="4.2"/><circle cx="1255.1" cy="954.7" r="4.2"/><circle cx="1253.7" cy="932.5" r="4.2"/><circle cx="1241.3" cy="934.9" r="4.2"/><circle cx="1255.2" cy="940.9" r="4.2"/><circle cx="1249.5" cy="974.4" r="4.2"/></g>
<path d="M1068,921 H1141.6 V1066 H1092 L1085,1058 L1084,1030 L1087,1000 L1082,975 L1083,955 L1074,945 L1066,932 Z" fill="#4d4a4a"/>
<path d="M1187.8,919 H1236 L1234,960 L1228,975 L1226,1000 L1227,1030 L1222,1050 L1216,1066 H1192 L1187.5,1058 Z" fill="#4d4a4a"/>
<g fill="#4d4a4a" fill-opacity="0.85"><circle cx="1085.8" cy="1003.3" r="4.2"/><circle cx="1088.4" cy="1039.9" r="4.2"/><circle cx="1084.6" cy="1012.2" r="4.2"/><circle cx="1088.1" cy="983.4" r="4.2"/><circle cx="1082.6" cy="981.8" r="4.2"/><circle cx="1085.4" cy="1024.1" r="4.2"/><circle cx="1084.1" cy="1034.6" r="4.2"/><circle cx="1082.5" cy="1042.5" r="4.2"/><circle cx="1086.6" cy="993.6" r="4.2"/><circle cx="1084.1" cy="982.1" r="4.2"/><circle cx="1086.9" cy="1038.1" r="4.2"/><circle cx="1083" cy="999.6" r="4.2"/><circle cx="1087.1" cy="1006.1" r="4.2"/><circle cx="1082.8" cy="1006.9" r="4.2"/><circle cx="1086" cy="1036.7" r="4.2"/><circle cx="1088.6" cy="1054.9" r="4.2"/><circle cx="1085.1" cy="1054.5" r="4.2"/><circle cx="1084.1" cy="1044.9" r="4.2"/><circle cx="1084.8" cy="1002.6" r="4.2"/><circle cx="1088.3" cy="1056.3" r="4.2"/><circle cx="1084.5" cy="996.6" r="4.2"/><circle cx="1084.5" cy="1006.8" r="4.2"/><circle cx="1084.7" cy="1009.4" r="4.2"/><circle cx="1085.9" cy="992" r="4.2"/><circle cx="1085.8" cy="1044.3" r="4.2"/><circle cx="1085.9" cy="1047.8" r="4.2"/><circle cx="1087.3" cy="990.4" r="4.2"/><circle cx="1084" cy="1051.6" r="4.2"/><circle cx="1085.6" cy="976.9" r="4.2"/><circle cx="1086" cy="1022.3" r="4.2"/><circle cx="1086.6" cy="1059.1" r="4.2"/><circle cx="1082.4" cy="1045" r="4.2"/><circle cx="1087.5" cy="1022.6" r="4.2"/><circle cx="1082.6" cy="982.3" r="4.2"/><circle cx="1088.3" cy="1039.1" r="4.2"/><circle cx="1086.4" cy="982.4" r="4.2"/><circle cx="1087.2" cy="987.5" r="4.2"/><circle cx="1083.7" cy="1031.5" r="4.2"/><circle cx="1087.4" cy="994.2" r="4.2"/><circle cx="1087.4" cy="1020.4" r="4.2"/><circle cx="1072.3" cy="942.9" r="4.2"/><circle cx="1084.1" cy="973.3" r="4.2"/><circle cx="1075.4" cy="948.2" r="4.2"/><circle cx="1080.4" cy="960.2" r="4.2"/><circle cx="1081.1" cy="970.5" r="4.2"/><circle cx="1081.8" cy="965.8" r="4.2"/><circle cx="1083.3" cy="967.2" r="4.2"/><circle cx="1083.7" cy="966.2" r="4.2"/><circle cx="1083.7" cy="972.8" r="4.2"/><circle cx="1077.3" cy="949.8" r="4.2"/><circle cx="1079.4" cy="964.5" r="4.2"/><circle cx="1071.2" cy="944.3" r="4.2"/><circle cx="1230.9" cy="1025.8" r="4.2"/><circle cx="1229.6" cy="974.6" r="4.2"/><circle cx="1233.3" cy="950.6" r="4.2"/><circle cx="1236.8" cy="962.9" r="4.2"/><circle cx="1233.8" cy="930.3" r="4.2"/><circle cx="1236" cy="938.1" r="4.2"/><circle cx="1224.4" cy="1030.6" r="4.2"/><circle cx="1235" cy="930.7" r="4.2"/><circle cx="1230.3" cy="1003.8" r="4.2"/><circle cx="1232.4" cy="927.1" r="4.2"/><circle cx="1231.9" cy="947.8" r="4.2"/><circle cx="1235.4" cy="955" r="4.2"/><circle cx="1224.8" cy="1005.3" r="4.2"/><circle cx="1232.4" cy="947.9" r="4.2"/><circle cx="1236.3" cy="946.2" r="4.2"/><circle cx="1233.3" cy="965.6" r="4.2"/><circle cx="1226.8" cy="1036.4" r="4.2"/><circle cx="1236.5" cy="958.5" r="4.2"/><circle cx="1217.7" cy="1050" r="4.2"/><circle cx="1230.7" cy="998.6" r="4.2"/><circle cx="1224.8" cy="989.6" r="4.2"/><circle cx="1239" cy="929" r="4.2"/><circle cx="1226.1" cy="1034.2" r="4.2"/><circle cx="1227.1" cy="995.9" r="4.2"/><circle cx="1237.2" cy="960.4" r="4.2"/><circle cx="1224.9" cy="1014.1" r="4.2"/><circle cx="1235.6" cy="923.5" r="4.2"/><circle cx="1234.7" cy="974" r="4.2"/><circle cx="1227.8" cy="1021.9" r="4.2"/><circle cx="1231.6" cy="944" r="4.2"/><circle cx="1230.9" cy="967.1" r="4.2"/><circle cx="1221" cy="1043.7" r="4.2"/><circle cx="1230.9" cy="1011.2" r="4.2"/><circle cx="1233.6" cy="959.3" r="4.2"/><circle cx="1236.6" cy="943.1" r="4.2"/><circle cx="1238.5" cy="922.2" r="4.2"/><circle cx="1224.4" cy="1040.5" r="4.2"/><circle cx="1233.3" cy="933.5" r="4.2"/><circle cx="1223.8" cy="1022.3" r="4.2"/><circle cx="1226.7" cy="989.2" r="4.2"/><circle cx="1218" cy="1055.8" r="4.2"/><circle cx="1219.8" cy="1042" r="4.2"/><circle cx="1226.3" cy="1032.5" r="4.2"/><circle cx="1215.6" cy="1050.3" r="4.2"/><circle cx="1224.7" cy="1037.7" r="4.2"/><circle cx="1118.1" cy="1064.3" r="4.2"/><circle cx="1195.3" cy="1065.1" r="4.2"/><circle cx="1106.9" cy="1063.8" r="4.2"/><circle cx="1193.1" cy="1063.8" r="4.2"/><circle cx="1114.4" cy="1064.8" r="4.2"/><circle cx="1200.7" cy="1064.7" r="4.2"/><circle cx="1097.1" cy="1064" r="4.2"/><circle cx="1203.5" cy="1065.4" r="4.2"/><circle cx="1131.8" cy="1064.6" r="4.2"/><circle cx="1191.3" cy="1063.9" r="4.2"/><circle cx="1126.1" cy="1063.6" r="4.2"/><circle cx="1206.2" cy="1064.1" r="4.2"/><circle cx="1092.5" cy="1065.5" r="4.2"/><circle cx="1212.6" cy="1063.5" r="4.2"/><circle cx="1121.6" cy="1063.7" r="4.2"/><circle cx="1201.2" cy="1064.3" r="4.2"/><circle cx="1106.3" cy="1063.8" r="4.2"/><circle cx="1201.6" cy="1064.7" r="4.2"/><circle cx="1104.3" cy="1063.5" r="4.2"/><circle cx="1210.7" cy="1063.8" r="4.2"/><circle cx="1137.4" cy="1064.4" r="4.2"/><circle cx="1210.5" cy="1063.8" r="4.2"/><circle cx="1131.7" cy="1063.2" r="4.2"/><circle cx="1194.8" cy="1063.2" r="4.2"/><circle cx="1124.5" cy="1064.8" r="4.2"/><circle cx="1195.9" cy="1064" r="4.2"/><circle cx="1132.2" cy="1064.5" r="4.2"/><circle cx="1193.4" cy="1063.6" r="4.2"/></g>
<g fill="#5468bd" fill-opacity="0.5"><circle cx="1195.7" cy="907.3" r="4.2"/><circle cx="1196.8" cy="913.7" r="4.2"/><circle cx="1213" cy="905" r="4.2"/><circle cx="1226.7" cy="917" r="4.2"/><circle cx="1193.4" cy="865" r="4.2"/><circle cx="1206.3" cy="902.5" r="4.2"/><circle cx="1192.1" cy="917.4" r="4.2"/><circle cx="1221.9" cy="893" r="4.2"/><circle cx="1235.1" cy="914.2" r="4.2"/><circle cx="1207.7" cy="885.5" r="4.2"/><circle cx="1212" cy="917" r="4.2"/><circle cx="1209.4" cy="883.9" r="4.2"/><circle cx="1208.6" cy="902.1" r="4.2"/><circle cx="1235.3" cy="917" r="4.2"/><circle cx="1204.9" cy="883.5" r="4.2"/><circle cx="1213" cy="877.4" r="4.2"/><circle cx="1215.8" cy="898.6" r="4.2"/><circle cx="1207.1" cy="892" r="4.2"/><circle cx="1214.8" cy="883.4" r="4.2"/><circle cx="1220.3" cy="917.1" r="4.2"/><circle cx="1199.1" cy="864.7" r="4.2"/><circle cx="1209.1" cy="852.1" r="4.2"/><circle cx="1200.5" cy="905.9" r="4.2"/><circle cx="1205.5" cy="908.9" r="4.2"/><circle cx="1224.8" cy="898.8" r="4.2"/><circle cx="1217.5" cy="859.7" r="4.2"/><circle cx="1207.3" cy="894.6" r="4.2"/><circle cx="1239.5" cy="863.5" r="4.2"/><circle cx="1226.3" cy="871.4" r="4.2"/><circle cx="1221.2" cy="909.8" r="4.2"/><circle cx="1207.6" cy="911.5" r="4.2"/><circle cx="1258.4" cy="870" r="4.2"/><circle cx="1203.1" cy="883.2" r="4.2"/><circle cx="1224" cy="881.3" r="4.2"/><circle cx="1201.8" cy="858.3" r="4.2"/><circle cx="1190.1" cy="881.2" r="4.2"/><circle cx="1196.5" cy="903.4" r="4.2"/><circle cx="1198.3" cy="916.6" r="4.2"/><circle cx="1204.7" cy="916.4" r="4.2"/><circle cx="1251.4" cy="914.4" r="4.2"/><circle cx="1200.6" cy="898.6" r="4.2"/><circle cx="1208.9" cy="877.1" r="4.2"/><circle cx="1214.5" cy="893" r="4.2"/><circle cx="1189.7" cy="915" r="4.2"/><circle cx="1197.5" cy="888.2" r="4.2"/><circle cx="1204.6" cy="897" r="4.2"/><circle cx="1203.1" cy="912.3" r="4.2"/><circle cx="1208.9" cy="917.2" r="4.2"/><circle cx="1210" cy="909" r="4.2"/><circle cx="1192.8" cy="913.7" r="4.2"/><circle cx="1195.3" cy="905.4" r="4.2"/><circle cx="1223.2" cy="909.9" r="4.2"/><circle cx="1215.2" cy="914.3" r="4.2"/><circle cx="1217.3" cy="888.1" r="4.2"/><circle cx="1190.4" cy="870.3" r="4.2"/><circle cx="1256.6" cy="911.5" r="4.2"/><circle cx="1205" cy="895.9" r="4.2"/><circle cx="1219.8" cy="904.6" r="4.2"/><circle cx="1215.2" cy="899.7" r="4.2"/><circle cx="1216.3" cy="915.2" r="4.2"/><circle cx="1207.6" cy="905.3" r="4.2"/><circle cx="1228.7" cy="903.9" r="4.2"/><circle cx="1223.3" cy="891.7" r="4.2"/><circle cx="1224.7" cy="891.4" r="4.2"/><circle cx="1200.2" cy="882.4" r="4.2"/><circle cx="1200.6" cy="913.6" r="4.2"/><circle cx="1218.1" cy="908.6" r="4.2"/><circle cx="1195.1" cy="914.2" r="4.2"/><circle cx="1199.2" cy="885.8" r="4.2"/><circle cx="1189.7" cy="894.6" r="4.2"/><circle cx="1203.7" cy="906.7" r="4.2"/><circle cx="1241.7" cy="892.7" r="4.2"/><circle cx="1226.9" cy="910.9" r="4.2"/><circle cx="1206.9" cy="896.9" r="4.2"/><circle cx="1194.6" cy="900.2" r="4.2"/><circle cx="1188.9" cy="881.5" r="4.2"/><circle cx="1198.1" cy="912.4" r="4.2"/><circle cx="1191.7" cy="905.3" r="4.2"/><circle cx="1252.1" cy="903" r="4.2"/><circle cx="1208.2" cy="920" r="4.2"/><circle cx="1195.4" cy="894.9" r="4.2"/><circle cx="1240.7" cy="895.8" r="4.2"/><circle cx="1198.9" cy="892.6" r="4.2"/><circle cx="1210.2" cy="889" r="4.2"/><circle cx="1194.6" cy="918" r="4.2"/><circle cx="1206.6" cy="904.9" r="4.2"/><circle cx="1250.6" cy="919.4" r="4.2"/><circle cx="1218.1" cy="915.3" r="4.2"/><circle cx="1194.2" cy="896.1" r="4.2"/><circle cx="1238.6" cy="890.4" r="4.2"/><circle cx="1205.3" cy="866.4" r="4.2"/><circle cx="1206.6" cy="893.3" r="4.2"/><circle cx="1214.1" cy="865.9" r="4.2"/><circle cx="1206.1" cy="919.5" r="4.2"/><circle cx="1199.9" cy="905.7" r="4.2"/><circle cx="1194.4" cy="913.6" r="4.2"/><circle cx="1222" cy="890.4" r="4.2"/><circle cx="1210.3" cy="860.9" r="4.2"/><circle cx="1217" cy="885.6" r="4.2"/><circle cx="1215.5" cy="885.6" r="4.2"/><circle cx="1215" cy="907.8" r="4.2"/><circle cx="1204.9" cy="910" r="4.2"/><circle cx="1203" cy="876.1" r="4.2"/><circle cx="1193.7" cy="902.3" r="4.2"/><circle cx="1191.7" cy="876.1" r="4.2"/><circle cx="1194.6" cy="892.2" r="4.2"/><circle cx="1217.4" cy="867.3" r="4.2"/><circle cx="1204.4" cy="908.6" r="4.2"/><circle cx="1207.4" cy="855.3" r="4.2"/><circle cx="1198.9" cy="899.3" r="4.2"/><circle cx="1195.5" cy="910.1" r="4.2"/><circle cx="1216.8" cy="916.7" r="4.2"/><circle cx="1220.6" cy="913.6" r="4.2"/><circle cx="1222.9" cy="908.8" r="4.2"/><circle cx="1192.5" cy="897.9" r="4.2"/><circle cx="1191.9" cy="908.1" r="4.2"/><circle cx="1198" cy="871.2" r="4.2"/><circle cx="1188.7" cy="896" r="4.2"/><circle cx="1204.6" cy="914.4" r="4.2"/><circle cx="1251.6" cy="866.7" r="4.2"/><circle cx="1217.3" cy="913.2" r="4.2"/><circle cx="1188.2" cy="890.7" r="4.2"/><circle cx="1216.6" cy="905" r="4.2"/><circle cx="1202.7" cy="885.7" r="4.2"/><circle cx="1203.6" cy="897.8" r="4.2"/><circle cx="1213.7" cy="876.3" r="4.2"/><circle cx="1219.8" cy="916.4" r="4.2"/><circle cx="1211.1" cy="882.7" r="4.2"/><circle cx="1253.5" cy="910.7" r="4.2"/><circle cx="1209.6" cy="874" r="4.2"/><circle cx="1206.8" cy="884.9" r="4.2"/><circle cx="1190.8" cy="888.1" r="4.2"/><circle cx="1194.9" cy="868.2" r="4.2"/><circle cx="1193.1" cy="898.9" r="4.2"/><circle cx="1207" cy="918.7" r="4.2"/><circle cx="1215.7" cy="903.2" r="4.2"/><circle cx="1223.4" cy="911.3" r="4.2"/><circle cx="1195.8" cy="882.1" r="4.2"/><circle cx="1199.9" cy="906.6" r="4.2"/><circle cx="1191.1" cy="915.5" r="4.2"/><circle cx="1216.7" cy="919.3" r="4.2"/><circle cx="1207.7" cy="911.8" r="4.2"/><circle cx="1191.2" cy="909.1" r="4.2"/><circle cx="1217.2" cy="898.8" r="4.2"/><circle cx="1233.8" cy="905.9" r="4.2"/><circle cx="1189.3" cy="903.4" r="4.2"/><circle cx="1191.1" cy="912" r="4.2"/><circle cx="1202.8" cy="881.9" r="4.2"/><circle cx="1208.9" cy="916.4" r="4.2"/><circle cx="1197.9" cy="913.3" r="4.2"/><circle cx="1195.2" cy="903.6" r="4.2"/><circle cx="1188.6" cy="902.5" r="4.2"/><circle cx="1206.5" cy="867.7" r="4.2"/><circle cx="1190.3" cy="909.8" r="4.2"/><circle cx="1209.7" cy="905" r="4.2"/><circle cx="1203.1" cy="842.6" r="4.2"/><circle cx="1218.1" cy="911.1" r="4.2"/><circle cx="1193.7" cy="832.9" r="4.2"/><circle cx="1206.3" cy="894.2" r="4.2"/><circle cx="1188.4" cy="911.7" r="4.2"/><circle cx="1191.4" cy="857.4" r="4.2"/><circle cx="1205" cy="896.9" r="4.2"/><circle cx="1196.5" cy="890.1" r="4.2"/><circle cx="1194.4" cy="916.5" r="4.2"/><circle cx="1233.6" cy="918.9" r="4.2"/><circle cx="1190.1" cy="898.6" r="4.2"/><circle cx="1188.8" cy="882.3" r="4.2"/><circle cx="1189.7" cy="886.9" r="4.2"/><circle cx="1211.4" cy="908.4" r="4.2"/><circle cx="1227.4" cy="848.2" r="4.2"/><circle cx="1194" cy="914.7" r="4.2"/><circle cx="1220" cy="895.4" r="4.2"/><circle cx="1211.1" cy="910.3" r="4.2"/><circle cx="1206.4" cy="864" r="4.2"/><circle cx="1235.2" cy="886.5" r="4.2"/><circle cx="1214.2" cy="913.2" r="4.2"/><circle cx="1202.6" cy="895.7" r="4.2"/><circle cx="1191.8" cy="899.7" r="4.2"/><circle cx="1197.9" cy="904.5" r="4.2"/><circle cx="1203.4" cy="914.6" r="4.2"/><circle cx="1193.5" cy="900.2" r="4.2"/><circle cx="1210.7" cy="915" r="4.2"/><circle cx="1268.3" cy="889.3" r="4.2"/><circle cx="1211.1" cy="866.4" r="4.2"/><circle cx="1195.5" cy="892" r="4.2"/><circle cx="1225" cy="899.9" r="4.2"/><circle cx="1202.1" cy="902" r="4.2"/><circle cx="1205" cy="917.9" r="4.2"/><circle cx="1190.2" cy="890.4" r="4.2"/><circle cx="1225.8" cy="898.2" r="4.2"/><circle cx="1191.1" cy="892" r="4.2"/><circle cx="1224" cy="862.5" r="4.2"/><circle cx="1217.2" cy="880.9" r="4.2"/><circle cx="1197.8" cy="855.9" r="4.2"/><circle cx="1211.6" cy="916.8" r="4.2"/><circle cx="1196.5" cy="911.9" r="4.2"/><circle cx="1205.7" cy="902.3" r="4.2"/><circle cx="1192.3" cy="884.3" r="4.2"/><circle cx="1213.4" cy="910" r="4.2"/><circle cx="1188.7" cy="911.5" r="4.2"/><circle cx="1209.2" cy="887.5" r="4.2"/><circle cx="1210.8" cy="915" r="4.2"/><circle cx="1218" cy="902.9" r="4.2"/><circle cx="1215.7" cy="884.8" r="4.2"/><circle cx="1190.9" cy="872.2" r="4.2"/><circle cx="1195.7" cy="905.5" r="4.2"/><circle cx="1194.2" cy="896.9" r="4.2"/><circle cx="1194.5" cy="890.5" r="4.2"/><circle cx="1228.8" cy="880.9" r="4.2"/><circle cx="1191.5" cy="895.6" r="4.2"/><circle cx="1198.6" cy="902.9" r="4.2"/><circle cx="1193.9" cy="918.4" r="4.2"/><circle cx="1211.8" cy="891.9" r="4.2"/><circle cx="1214.5" cy="844.2" r="4.2"/><circle cx="1200" cy="877.6" r="4.2"/><circle cx="1204.5" cy="910" r="4.2"/><circle cx="1202.9" cy="879" r="4.2"/><circle cx="1240" cy="903.4" r="4.2"/><circle cx="1191.8" cy="878" r="4.2"/><circle cx="1212" cy="903.2" r="4.2"/><circle cx="1195.5" cy="913.5" r="4.2"/><circle cx="1205.9" cy="902.3" r="4.2"/><circle cx="1209.8" cy="919.7" r="4.2"/><circle cx="1202.9" cy="894.7" r="4.2"/><circle cx="1204.1" cy="917.3" r="4.2"/><circle cx="1198.2" cy="901.1" r="4.2"/><circle cx="1208.6" cy="905" r="4.2"/><circle cx="1201.7" cy="912.1" r="4.2"/><circle cx="1224.3" cy="897.1" r="4.2"/><circle cx="1227.4" cy="904.9" r="4.2"/><circle cx="1214.5" cy="915.8" r="4.2"/><circle cx="1194.5" cy="912" r="4.2"/><circle cx="1195.5" cy="914.5" r="4.2"/><circle cx="1223.7" cy="919" r="4.2"/><circle cx="1211.5" cy="915" r="4.2"/><circle cx="1188.2" cy="913.6" r="4.2"/><circle cx="1220.5" cy="868.5" r="4.2"/><circle cx="1207.3" cy="910.8" r="4.2"/><circle cx="1196.6" cy="903.4" r="4.2"/><circle cx="1224.5" cy="912.2" r="4.2"/><circle cx="1212.5" cy="912.2" r="4.2"/><circle cx="1245" cy="887.3" r="4.2"/><circle cx="1193.2" cy="878.5" r="4.2"/><circle cx="1208.1" cy="899" r="4.2"/><circle cx="1206.7" cy="908" r="4.2"/><circle cx="1214.6" cy="866.2" r="4.2"/><circle cx="1231.4" cy="875.8" r="4.2"/><circle cx="1202.2" cy="916.3" r="4.2"/><circle cx="1211.1" cy="919" r="4.2"/><circle cx="1235.2" cy="857" r="4.2"/><circle cx="1198.4" cy="904.3" r="4.2"/><circle cx="1193.6" cy="875.4" r="4.2"/><circle cx="1188.2" cy="918.8" r="4.2"/><circle cx="1213.9" cy="912" r="4.2"/><circle cx="1190.2" cy="885.3" r="4.2"/><circle cx="1207.9" cy="889.6" r="4.2"/><circle cx="1212.5" cy="893.1" r="4.2"/><circle cx="1222.5" cy="851.4" r="4.2"/><circle cx="1200.5" cy="896.3" r="4.2"/><circle cx="1205.7" cy="903.2" r="4.2"/><circle cx="1196.9" cy="875.1" r="4.2"/><circle cx="1214.9" cy="849.2" r="4.2"/><circle cx="1195.2" cy="904.4" r="4.2"/><circle cx="1210.6" cy="896.1" r="4.2"/><circle cx="1211.8" cy="908.9" r="4.2"/><circle cx="1198" cy="871.7" r="4.2"/><circle cx="1207.4" cy="915.5" r="4.2"/><circle cx="1188.2" cy="893.6" r="4.2"/><circle cx="1202.2" cy="887.9" r="4.2"/><circle cx="1194.9" cy="912.4" r="4.2"/><circle cx="1199.4" cy="914.3" r="4.2"/><circle cx="1191.8" cy="906.1" r="4.2"/><circle cx="1232.1" cy="904.7" r="4.2"/><circle cx="1204" cy="918" r="4.2"/><circle cx="1224.2" cy="875.2" r="4.2"/><circle cx="1207.5" cy="912.6" r="4.2"/><circle cx="1235.9" cy="917.6" r="4.2"/><circle cx="1221.3" cy="890.4" r="4.2"/><circle cx="1188.6" cy="872.7" r="4.2"/><circle cx="1199.3" cy="896.3" r="4.2"/><circle cx="1191.1" cy="862.8" r="4.2"/><circle cx="1204.6" cy="886.1" r="4.2"/><circle cx="1225" cy="897.7" r="4.2"/><circle cx="1224.3" cy="880.8" r="4.2"/><circle cx="1192.5" cy="905.5" r="4.2"/><circle cx="1216.7" cy="889.1" r="4.2"/><circle cx="1190.2" cy="901.2" r="4.2"/><circle cx="1223.6" cy="916.7" r="4.2"/><circle cx="1254.4" cy="891.4" r="4.2"/><circle cx="1215.4" cy="886.2" r="4.2"/><circle cx="1221.2" cy="899.6" r="4.2"/><circle cx="1237.8" cy="878.1" r="4.2"/><circle cx="1196.6" cy="919.5" r="4.2"/><circle cx="1191.2" cy="905.5" r="4.2"/><circle cx="1209.3" cy="913.7" r="4.2"/><circle cx="1198.1" cy="825.8" r="4.2"/><circle cx="1205.6" cy="901.8" r="4.2"/><circle cx="1221.2" cy="913.9" r="4.2"/><circle cx="1213.9" cy="917.1" r="4.2"/><circle cx="1205.6" cy="870.2" r="4.2"/><circle cx="1256.7" cy="863.5" r="4.2"/><circle cx="1220.1" cy="820.8" r="4.2"/><circle cx="1250.7" cy="774.2" r="4.2"/><circle cx="1219.9" cy="811" r="4.2"/><circle cx="1232.7" cy="797.4" r="4.2"/><circle cx="1200.1" cy="877.4" r="4.2"/><circle cx="1196.9" cy="780.3" r="4.2"/><circle cx="1208.7" cy="837.3" r="4.2"/><circle cx="1198" cy="858.4" r="4.2"/><circle cx="1189.7" cy="827.4" r="4.2"/><circle cx="1199.9" cy="819.8" r="4.2"/><circle cx="1210.5" cy="870.7" r="4.2"/><circle cx="1227.5" cy="853" r="4.2"/><circle cx="1209.3" cy="893.3" r="4.2"/><circle cx="1193.4" cy="785.6" r="4.2"/><circle cx="1213.4" cy="889.8" r="4.2"/><circle cx="1203" cy="838" r="4.2"/><circle cx="1269.6" cy="874" r="4.2"/><circle cx="1259" cy="837.8" r="4.2"/><circle cx="1222" cy="796.5" r="4.2"/><circle cx="1220.5" cy="892.5" r="4.2"/><circle cx="1233.1" cy="815.7" r="4.2"/><circle cx="1239" cy="864.4" r="4.2"/><circle cx="1264.9" cy="789.1" r="4.2"/><circle cx="1269.4" cy="843.1" r="4.2"/><circle cx="1256.3" cy="807" r="4.2"/><circle cx="1202.5" cy="896.4" r="4.2"/><circle cx="1201.9" cy="884.6" r="4.2"/><circle cx="1194.2" cy="853.9" r="4.2"/><circle cx="1249.7" cy="860.2" r="4.2"/><circle cx="1230.2" cy="898.5" r="4.2"/><circle cx="1205.3" cy="777" r="4.2"/><circle cx="1189" cy="832.3" r="4.2"/><circle cx="1254.3" cy="798.4" r="4.2"/><circle cx="1248.2" cy="848.7" r="4.2"/><circle cx="1253.8" cy="793.9" r="4.2"/><circle cx="1250.9" cy="773.6" r="4.2"/><circle cx="1196.4" cy="778.2" r="4.2"/><circle cx="1221" cy="809.5" r="4.2"/><circle cx="1208.6" cy="783.4" r="4.2"/><circle cx="1190" cy="826" r="4.2"/><circle cx="1206.7" cy="850.1" r="4.2"/><circle cx="1218.3" cy="815.7" r="4.2"/><circle cx="1254.4" cy="853.2" r="4.2"/><circle cx="1240.3" cy="854.5" r="4.2"/><circle cx="1210.9" cy="784" r="4.2"/><circle cx="1214.4" cy="887.8" r="4.2"/><circle cx="1215.5" cy="804.9" r="4.2"/><circle cx="1205.4" cy="804.7" r="4.2"/><circle cx="1232.8" cy="812.8" r="4.2"/><circle cx="1202.6" cy="886.3" r="4.2"/><circle cx="1199.8" cy="855" r="4.2"/><circle cx="1223.3" cy="898.6" r="4.2"/><circle cx="1229.2" cy="848.2" r="4.2"/><circle cx="1214.4" cy="831.1" r="4.2"/><circle cx="1266" cy="873.6" r="4.2"/><circle cx="1260.1" cy="858.8" r="4.2"/><circle cx="1249.8" cy="886" r="4.2"/><circle cx="1268.8" cy="844.8" r="4.2"/><circle cx="1266.8" cy="871.7" r="4.2"/><circle cx="1221.5" cy="809.4" r="4.2"/><circle cx="1202.7" cy="864.8" r="4.2"/><circle cx="1243.5" cy="778.5" r="4.2"/><circle cx="1214.5" cy="876.4" r="4.2"/><circle cx="1217.3" cy="773.2" r="4.2"/><circle cx="1200.2" cy="818.6" r="4.2"/><circle cx="1219" cy="817.4" r="4.2"/><circle cx="1205.5" cy="820.9" r="4.2"/><circle cx="1260.7" cy="790.2" r="4.2"/><circle cx="1239.5" cy="835.2" r="4.2"/><circle cx="1234.5" cy="885.2" r="4.2"/><circle cx="1256.6" cy="811.5" r="4.2"/><circle cx="1225.2" cy="814.6" r="4.2"/><circle cx="1222.4" cy="850.6" r="4.2"/><circle cx="1206.9" cy="822.9" r="4.2"/><circle cx="1234.9" cy="833.9" r="4.2"/><circle cx="1190.8" cy="819.5" r="4.2"/><circle cx="1224.6" cy="823.9" r="4.2"/><circle cx="1236.7" cy="780.6" r="4.2"/><circle cx="1200.5" cy="839.8" r="4.2"/><circle cx="1269.3" cy="805.4" r="4.2"/><circle cx="1213.7" cy="805.5" r="4.2"/><circle cx="1269" cy="848.4" r="4.2"/><circle cx="1259" cy="883.6" r="4.2"/><circle cx="1269" cy="837" r="4.2"/><circle cx="1207.3" cy="792.3" r="4.2"/><circle cx="1241.2" cy="779.8" r="4.2"/><circle cx="1255.9" cy="797.7" r="4.2"/><circle cx="1229.9" cy="772.6" r="4.2"/><circle cx="1193.4" cy="788.4" r="4.2"/><circle cx="1246.3" cy="867.7" r="4.2"/><circle cx="1254.1" cy="841.7" r="4.2"/><circle cx="1232" cy="789" r="4.2"/><circle cx="1204.1" cy="864" r="4.2"/><circle cx="1240.7" cy="890.4" r="4.2"/><circle cx="1233.5" cy="799.1" r="4.2"/><circle cx="1228.2" cy="868.9" r="4.2"/><circle cx="1253.5" cy="790.4" r="4.2"/><circle cx="1251.1" cy="829.5" r="4.2"/><circle cx="1262.2" cy="797.8" r="4.2"/><circle cx="1200.5" cy="853" r="4.2"/><circle cx="1196.3" cy="895.1" r="4.2"/><circle cx="1216.4" cy="789.1" r="4.2"/><circle cx="1256.3" cy="884.8" r="4.2"/><circle cx="1203" cy="850.1" r="4.2"/><circle cx="1257.5" cy="820.8" r="4.2"/><circle cx="1261.8" cy="890.6" r="4.2"/><circle cx="1268.9" cy="873.4" r="4.2"/><circle cx="1239.6" cy="787.6" r="4.2"/><circle cx="1247.6" cy="874.6" r="4.2"/><circle cx="1242.8" cy="844.7" r="4.2"/><circle cx="1189.4" cy="856.4" r="4.2"/><circle cx="1213.9" cy="819.2" r="4.2"/><circle cx="1210.9" cy="822.6" r="4.2"/><circle cx="1244.9" cy="876.7" r="4.2"/><circle cx="1198.6" cy="811" r="4.2"/><circle cx="1226.2" cy="883.3" r="4.2"/><circle cx="1197.6" cy="779.4" r="4.2"/><circle cx="1238" cy="854.1" r="4.2"/><circle cx="1204.2" cy="772.5" r="4.2"/><circle cx="1244.7" cy="805.6" r="4.2"/><circle cx="1217.6" cy="860.1" r="4.2"/><circle cx="1221.5" cy="881.1" r="4.2"/><circle cx="1239.7" cy="845.5" r="4.2"/><circle cx="1255.2" cy="847.5" r="4.2"/><circle cx="1225.5" cy="835" r="4.2"/><circle cx="1265.1" cy="855.5" r="4.2"/><circle cx="1245.6" cy="869.8" r="4.2"/><circle cx="1235.5" cy="863.4" r="4.2"/><circle cx="1259.4" cy="863.2" r="4.2"/><circle cx="1236.2" cy="854.5" r="4.2"/><circle cx="1213.7" cy="831.2" r="4.2"/><circle cx="1209.9" cy="848.4" r="4.2"/><circle cx="1222" cy="875.2" r="4.2"/><circle cx="1191.7" cy="877.8" r="4.2"/><circle cx="1204" cy="875.9" r="4.2"/><circle cx="1241.8" cy="889.3" r="4.2"/><circle cx="1227.2" cy="854.9" r="4.2"/><circle cx="1201.9" cy="878.5" r="4.2"/><circle cx="1195.6" cy="834.6" r="4.2"/><circle cx="1202.3" cy="877.7" r="4.2"/><circle cx="1207.3" cy="841.4" r="4.2"/><circle cx="1236" cy="862.3" r="4.2"/><circle cx="1218.8" cy="906.8" r="4.2"/><circle cx="1238.6" cy="907.8" r="4.2"/><circle cx="1208.6" cy="881.9" r="4.2"/><circle cx="1228.8" cy="855.2" r="4.2"/><circle cx="1207.5" cy="834.4" r="4.2"/><circle cx="1241.6" cy="913.7" r="4.2"/><circle cx="1223.7" cy="873.3" r="4.2"/><circle cx="1208.5" cy="873.7" r="4.2"/><circle cx="1205.9" cy="855" r="4.2"/><circle cx="1222.2" cy="827.8" r="4.2"/><circle cx="1243.1" cy="825.8" r="4.2"/><circle cx="1210.4" cy="840.7" r="4.2"/><circle cx="1224.7" cy="852.3" r="4.2"/><circle cx="1244.3" cy="909.8" r="4.2"/><circle cx="1214.1" cy="879.5" r="4.2"/><circle cx="1225" cy="896.1" r="4.2"/><circle cx="1243.8" cy="896.9" r="4.2"/><circle cx="1208.9" cy="902.9" r="4.2"/><circle cx="1210.3" cy="848.6" r="4.2"/><circle cx="1192.8" cy="900.7" r="4.2"/><circle cx="1224.6" cy="859.4" r="4.2"/><circle cx="1229.9" cy="892.9" r="4.2"/><circle cx="1233.8" cy="849.6" r="4.2"/><circle cx="1231.8" cy="905" r="4.2"/><circle cx="1214.5" cy="914.4" r="4.2"/><circle cx="1236.5" cy="830.2" r="4.2"/><circle cx="1238.5" cy="913.7" r="4.2"/><circle cx="1207.9" cy="867.3" r="4.2"/><circle cx="1218.2" cy="905.8" r="4.2"/><circle cx="1232.5" cy="888.5" r="4.2"/><circle cx="1216.7" cy="904.6" r="4.2"/><circle cx="1220.1" cy="904.1" r="4.2"/><circle cx="1193.1" cy="869.4" r="4.2"/><circle cx="1204.7" cy="845.3" r="4.2"/><circle cx="1202" cy="878.3" r="4.2"/><circle cx="1191.2" cy="896.1" r="4.2"/><circle cx="1213.5" cy="865.2" r="4.2"/><circle cx="1214" cy="838.7" r="4.2"/><circle cx="1194" cy="838.8" r="4.2"/><circle cx="1196.8" cy="827.9" r="4.2"/><circle cx="1217.7" cy="879" r="4.2"/><circle cx="1222.6" cy="837.5" r="4.2"/><circle cx="1242.4" cy="878.4" r="4.2"/><circle cx="1188.7" cy="901.9" r="4.2"/><circle cx="1234.2" cy="849.2" r="4.2"/><circle cx="1228.2" cy="901.7" r="4.2"/><circle cx="1218" cy="913.3" r="4.2"/><circle cx="1194.3" cy="888.6" r="4.2"/><circle cx="1242.5" cy="857.5" r="4.2"/><circle cx="1235.8" cy="911.7" r="4.2"/><circle cx="1211.5" cy="908.7" r="4.2"/><circle cx="1202.8" cy="905.7" r="4.2"/><circle cx="1239.8" cy="886" r="4.2"/><circle cx="1215.6" cy="856.5" r="4.2"/><circle cx="1238" cy="830" r="4.2"/><circle cx="1220.1" cy="870.4" r="4.2"/><circle cx="1239" cy="880.1" r="4.2"/><circle cx="1205" cy="848.8" r="4.2"/><circle cx="1202.7" cy="882.5" r="4.2"/><circle cx="1212.3" cy="872.6" r="4.2"/><circle cx="1208.3" cy="876.8" r="4.2"/><circle cx="1213.5" cy="911.4" r="4.2"/><circle cx="1235.2" cy="910.3" r="4.2"/><circle cx="1217.8" cy="866.2" r="4.2"/><circle cx="1210.6" cy="895.7" r="4.2"/><circle cx="1193.7" cy="882.1" r="4.2"/><circle cx="1205.8" cy="872" r="4.2"/><circle cx="1201.1" cy="847.9" r="4.2"/><circle cx="1215.6" cy="915" r="4.2"/><circle cx="1211" cy="828.2" r="4.2"/><circle cx="1188.5" cy="862" r="4.2"/><circle cx="1242.2" cy="882.7" r="4.2"/><circle cx="1221.8" cy="882.4" r="4.2"/><circle cx="1205.1" cy="860.6" r="4.2"/><circle cx="1221.3" cy="887.3" r="4.2"/><circle cx="1216.1" cy="869" r="4.2"/><circle cx="1230.5" cy="911" r="4.2"/><circle cx="1067.1" cy="919.9" r="4.2"/><circle cx="1124.5" cy="903.2" r="4.2"/><circle cx="1094.3" cy="906.3" r="4.2"/><circle cx="1082.8" cy="903.4" r="4.2"/><circle cx="1115.1" cy="867.4" r="4.2"/><circle cx="1127.4" cy="888.7" r="4.2"/><circle cx="1086.3" cy="903.9" r="4.2"/><circle cx="1123.9" cy="884.1" r="4.2"/><circle cx="1112" cy="886.2" r="4.2"/><circle cx="1063.4" cy="907.5" r="4.2"/><circle cx="1110.5" cy="873.9" r="4.2"/><circle cx="1111.7" cy="904.4" r="4.2"/><circle cx="1061.3" cy="887.4" r="4.2"/><circle cx="1106.9" cy="905.8" r="4.2"/><circle cx="1059.9" cy="918.3" r="4.2"/><circle cx="1115" cy="898" r="4.2"/><circle cx="1139.9" cy="912.8" r="4.2"/><circle cx="1123.4" cy="915.9" r="4.2"/><circle cx="1095.5" cy="919.9" r="4.2"/><circle cx="1096.1" cy="899.3" r="4.2"/><circle cx="1095.2" cy="906.3" r="4.2"/><circle cx="1119.5" cy="907.5" r="4.2"/><circle cx="1065.3" cy="889.9" r="4.2"/><circle cx="1113.9" cy="893.2" r="4.2"/><circle cx="1104.3" cy="912" r="4.2"/><circle cx="1084.8" cy="913.1" r="4.2"/><circle cx="1137.4" cy="875.3" r="4.2"/><circle cx="1076.7" cy="902.3" r="4.2"/><circle cx="1093.4" cy="880.4" r="4.2"/><circle cx="1069.6" cy="910.9" r="4.2"/><circle cx="1130.9" cy="914.8" r="4.2"/><circle cx="1094.8" cy="919.2" r="4.2"/><circle cx="1090.3" cy="897.7" r="4.2"/><circle cx="1099.8" cy="876.6" r="4.2"/><circle cx="1115.8" cy="891.9" r="4.2"/><circle cx="1068.1" cy="896.1" r="4.2"/><circle cx="1120.2" cy="905.9" r="4.2"/><circle cx="1076" cy="895.6" r="4.2"/><circle cx="1087.8" cy="909.9" r="4.2"/><circle cx="1107.8" cy="903.2" r="4.2"/><circle cx="1102" cy="898.8" r="4.2"/><circle cx="1128.3" cy="902.2" r="4.2"/><circle cx="1088.8" cy="899" r="4.2"/><circle cx="1139.6" cy="907.8" r="4.2"/><circle cx="1086.3" cy="915.1" r="4.2"/><circle cx="1080.8" cy="905.4" r="4.2"/><circle cx="1119.2" cy="905.5" r="4.2"/><circle cx="1064.7" cy="912.7" r="4.2"/><circle cx="1126.9" cy="895.8" r="4.2"/><circle cx="1094.9" cy="896.6" r="4.2"/><circle cx="1110" cy="865.9" r="4.2"/><circle cx="1133.8" cy="898.9" r="4.2"/><circle cx="1096.7" cy="904.7" r="4.2"/><circle cx="1121" cy="918.8" r="4.2"/><circle cx="1067.8" cy="905.7" r="4.2"/><circle cx="1062.3" cy="881.3" r="4.2"/><circle cx="1116.6" cy="895.5" r="4.2"/><circle cx="1086.7" cy="908.9" r="4.2"/><circle cx="1071.9" cy="885.5" r="4.2"/><circle cx="1125.3" cy="909.1" r="4.2"/><circle cx="1067.5" cy="916.9" r="4.2"/><circle cx="1075.8" cy="905.5" r="4.2"/><circle cx="1103.2" cy="911.8" r="4.2"/><circle cx="1122" cy="913.2" r="4.2"/><circle cx="1107.1" cy="881" r="4.2"/><circle cx="1115.8" cy="891.5" r="4.2"/><circle cx="1089.2" cy="887.7" r="4.2"/><circle cx="1083.3" cy="909.8" r="4.2"/><circle cx="1129.6" cy="917.7" r="4.2"/><circle cx="1079.8" cy="903.6" r="4.2"/><circle cx="1061.1" cy="904.2" r="4.2"/><circle cx="1083.4" cy="916.3" r="4.2"/><circle cx="1080.1" cy="903.5" r="4.2"/><circle cx="1081.8" cy="902" r="4.2"/><circle cx="1082.8" cy="915.7" r="4.2"/><circle cx="1130.9" cy="895" r="4.2"/><circle cx="1072.6" cy="893.5" r="4.2"/><circle cx="1109.3" cy="887.8" r="4.2"/><circle cx="1103.9" cy="917.5" r="4.2"/><circle cx="1113.4" cy="893.9" r="4.2"/><circle cx="1134.6" cy="917.5" r="4.2"/><circle cx="1063.9" cy="903.8" r="4.2"/><circle cx="1136" cy="895.7" r="4.2"/><circle cx="1078.6" cy="891.6" r="4.2"/><circle cx="1096.5" cy="896.4" r="4.2"/><circle cx="1136.6" cy="895" r="4.2"/><circle cx="1100.8" cy="902" r="4.2"/><circle cx="1078.5" cy="912.2" r="4.2"/><circle cx="1137.1" cy="881.1" r="4.2"/><circle cx="1113.2" cy="887.7" r="4.2"/><circle cx="1065.3" cy="912.1" r="4.2"/><circle cx="1105.7" cy="914.4" r="4.2"/><circle cx="1069.3" cy="901.8" r="4.2"/><circle cx="1130.8" cy="918.8" r="4.2"/><circle cx="1064.5" cy="916.1" r="4.2"/><circle cx="1061.9" cy="913.2" r="4.2"/><circle cx="1106.1" cy="887.9" r="4.2"/><circle cx="1129.4" cy="916.6" r="4.2"/><circle cx="1123.6" cy="911.6" r="4.2"/><circle cx="1102.6" cy="919" r="4.2"/><circle cx="1074.6" cy="900.4" r="4.2"/><circle cx="1100.3" cy="916.8" r="4.2"/><circle cx="1075.6" cy="913.9" r="4.2"/><circle cx="1099.2" cy="898.8" r="4.2"/><circle cx="1065.9" cy="893" r="4.2"/><circle cx="1139" cy="917.9" r="4.2"/><circle cx="1105.4" cy="908.2" r="4.2"/><circle cx="1086.9" cy="906.6" r="4.2"/><circle cx="1116.9" cy="866.1" r="4.2"/><circle cx="1137.1" cy="898.3" r="4.2"/><circle cx="1135.1" cy="888.7" r="4.2"/><circle cx="1061.1" cy="881.4" r="4.2"/><circle cx="1099.5" cy="892.8" r="4.2"/><circle cx="1109.6" cy="902.6" r="4.2"/><circle cx="1109.6" cy="911.8" r="4.2"/><circle cx="1101.9" cy="916.4" r="4.2"/><circle cx="1137.9" cy="909.9" r="4.2"/><circle cx="1130.5" cy="918.1" r="4.2"/><circle cx="1137.7" cy="914.7" r="4.2"/><circle cx="1127.3" cy="919.3" r="4.2"/><circle cx="1115.8" cy="892.2" r="4.2"/><circle cx="1121.4" cy="916.6" r="4.2"/><circle cx="1125.5" cy="912.1" r="4.2"/><circle cx="1124.4" cy="920.1" r="4.2"/><circle cx="1139.2" cy="909.2" r="4.2"/><circle cx="1086.9" cy="901.2" r="4.2"/><circle cx="1087.8" cy="883.7" r="4.2"/><circle cx="1080.9" cy="916.7" r="4.2"/><circle cx="1107.3" cy="901.1" r="4.2"/><circle cx="1114.6" cy="917" r="4.2"/><circle cx="1096.7" cy="915.8" r="4.2"/><circle cx="1073.8" cy="876.2" r="4.2"/><circle cx="1071.7" cy="919.6" r="4.2"/><circle cx="1123.5" cy="895.8" r="4.2"/><circle cx="1086.7" cy="917.8" r="4.2"/><circle cx="1080.8" cy="889.1" r="4.2"/><circle cx="1102.2" cy="918.8" r="4.2"/><circle cx="1074.6" cy="876.5" r="4.2"/><circle cx="1078.5" cy="914.1" r="4.2"/><circle cx="1118.9" cy="902" r="4.2"/><circle cx="1114.6" cy="913.5" r="4.2"/><circle cx="1065.9" cy="894.4" r="4.2"/><circle cx="1121.9" cy="919.6" r="4.2"/><circle cx="1093.4" cy="905.2" r="4.2"/><circle cx="1140.4" cy="906.3" r="4.2"/><circle cx="1133.9" cy="905.6" r="4.2"/><circle cx="1140.4" cy="911.4" r="4.2"/><circle cx="1124" cy="912.6" r="4.2"/><circle cx="1123.4" cy="900.3" r="4.2"/><circle cx="1090.5" cy="888" r="4.2"/><circle cx="1082.9" cy="890.9" r="4.2"/><circle cx="1098.4" cy="900.7" r="4.2"/><circle cx="1126.4" cy="895.1" r="4.2"/><circle cx="1090.6" cy="917.9" r="4.2"/><circle cx="1064.8" cy="909.9" r="4.2"/><circle cx="1076.3" cy="914" r="4.2"/><circle cx="1131.3" cy="872.2" r="4.2"/><circle cx="1087.4" cy="908" r="4.2"/><circle cx="1135.6" cy="898.9" r="4.2"/><circle cx="1136.8" cy="893.9" r="4.2"/><circle cx="1075.2" cy="899" r="4.2"/><circle cx="1131.6" cy="895.9" r="4.2"/><circle cx="1118.9" cy="897.8" r="4.2"/><circle cx="1089.9" cy="912.8" r="4.2"/><circle cx="1069.3" cy="912.9" r="4.2"/><circle cx="1065.3" cy="870.2" r="4.2"/><circle cx="1074.6" cy="916.2" r="4.2"/><circle cx="1084.6" cy="914.6" r="4.2"/><circle cx="1074.4" cy="901.4" r="4.2"/><circle cx="1103.6" cy="901.9" r="4.2"/><circle cx="1105.9" cy="816" r="4.2"/><circle cx="1102.5" cy="798.2" r="4.2"/><circle cx="1066.1" cy="867.8" r="4.2"/><circle cx="1065.7" cy="859.5" r="4.2"/><circle cx="1121.7" cy="800.4" r="4.2"/><circle cx="1100.7" cy="873.8" r="4.2"/><circle cx="1086.5" cy="834.6" r="4.2"/><circle cx="1083.5" cy="813" r="4.2"/><circle cx="1139" cy="845" r="4.2"/><circle cx="1108.8" cy="807.9" r="4.2"/><circle cx="1097.5" cy="870.9" r="4.2"/><circle cx="1136.6" cy="795.3" r="4.2"/><circle cx="1061.5" cy="815.9" r="4.2"/><circle cx="1092.2" cy="884.2" r="4.2"/><circle cx="1072.8" cy="872.6" r="4.2"/><circle cx="1119.7" cy="868.9" r="4.2"/><circle cx="1061.1" cy="868.1" r="4.2"/><circle cx="1124.8" cy="841.2" r="4.2"/><circle cx="1112.8" cy="844.5" r="4.2"/><circle cx="1074.4" cy="887.7" r="4.2"/><circle cx="1084.4" cy="885.2" r="4.2"/><circle cx="1080.8" cy="829.8" r="4.2"/><circle cx="1089.7" cy="843.8" r="4.2"/><circle cx="1110.5" cy="858.7" r="4.2"/><circle cx="1088.6" cy="804.3" r="4.2"/><circle cx="1107" cy="849.1" r="4.2"/><circle cx="1103.6" cy="845" r="4.2"/><circle cx="1086.7" cy="801.4" r="4.2"/><circle cx="1078.6" cy="799.3" r="4.2"/><circle cx="1129.2" cy="804.5" r="4.2"/><circle cx="1076.4" cy="631.7" r="4.2"/><circle cx="1235.4" cy="656.4" r="4.2"/><circle cx="1245.7" cy="674.6" r="4.2"/><circle cx="1246.8" cy="690.9" r="4.2"/><circle cx="1123.5" cy="705.7" r="4.2"/><circle cx="1205.5" cy="719" r="4.2"/><circle cx="1208.5" cy="727.3" r="4.2"/><circle cx="1220.3" cy="722.8" r="4.2"/><circle cx="1254.8" cy="722.8" r="4.2"/><circle cx="1263.9" cy="723.9" r="4.2"/><circle cx="1267" cy="725.4" r="4.2"/><circle cx="1255.6" cy="729.2" r="4.2"/><circle cx="1095.7" cy="727.7" r="4.2"/><circle cx="1191.4" cy="737.2" r="4.2"/><circle cx="1076.4" cy="746.3" r="4.2"/><circle cx="1119.7" cy="747.8" r="4.2"/><circle cx="1136.4" cy="768.3" r="4.2"/><circle cx="1244.2" cy="752.4" r="4.2"/><circle cx="1241.1" cy="758.1" r="4.2"/><circle cx="1238.5" cy="765.3" r="4.2"/><circle cx="1213" cy="769.5" r="4.2"/><circle cx="1219.5" cy="769.1" r="4.2"/><circle cx="1196.7" cy="782.7" r="4.2"/><circle cx="1211.9" cy="781.6" r="4.2"/><circle cx="1225.9" cy="786.5" r="4.2"/><circle cx="1235.4" cy="788.4" r="4.2"/><circle cx="1069.6" cy="797.5" r="4.2"/><circle cx="1066.9" cy="800.6" r="4.2"/><circle cx="1267" cy="790" r="4.2"/><circle cx="1270" cy="800" r="4.2"/><circle cx="1069" cy="806" r="4.2"/><circle cx="1079" cy="805" r="4.2"/></g>
<g fill="#4aa765" fill-opacity="0.6"><circle cx="1020.2" cy="922.5" r="4.2"/><circle cx="1005" cy="931.6" r="4.2"/><circle cx="1049.8" cy="929.7" r="4.2"/><circle cx="1042.2" cy="940.3" r="4.2"/><circle cx="1052.5" cy="949.8" r="4.2"/><circle cx="1033.5" cy="968" r="4.2"/><circle cx="1042.2" cy="971.4" r="4.2"/><circle cx="1017.2" cy="979.4" r="4.2"/><circle cx="1034.6" cy="978.6" r="4.2"/><circle cx="1041.1" cy="983.2" r="4.2"/><circle cx="1048.7" cy="987.7" r="4.2"/><circle cx="1050.6" cy="993.4" r="4.2"/><circle cx="1045.6" cy="997.2" r="4.2"/><circle cx="1026.7" cy="1002.9" r="4.2"/><circle cx="1037.3" cy="1008.6" r="4.2"/><circle cx="941.7" cy="1024.6" r="4.2"/><circle cx="1054.4" cy="1029.5" r="4.2"/><circle cx="1052.5" cy="1035.2" r="4.2"/><circle cx="1050.6" cy="1044.7" r="4.2"/><circle cx="1042.2" cy="1047.3" r="4.2"/><circle cx="1049.8" cy="1056" r="4.2"/><circle cx="1045.6" cy="1057.2" r="4.2"/><circle cx="1056.3" cy="1058.7" r="4.2"/><circle cx="1293.5" cy="925.9" r="4.2"/><circle cx="1271.5" cy="932.7" r="4.2"/><circle cx="1287.8" cy="956.2" r="4.2"/><circle cx="1377" cy="982.8" r="4.2"/><circle cx="1278.3" cy="989.6" r="4.2"/><circle cx="1284" cy="993.4" r="4.2"/><circle cx="1311.3" cy="1023" r="4.2"/><circle cx="1318.9" cy="1043.9" r="4.2"/><circle cx="1282.1" cy="1058.7" r="4.2"/></g>
<circle cx="1029" cy="963" r="4.2" fill="#2a8a45" fill-opacity="0.8"/><circle cx="1026" cy="964" r="4.2" fill="#2a8a45" fill-opacity="0.6"/>
<path d="M759,921.3 H1484.4" stroke="#000" stroke-width="1.1" stroke-dasharray="2.2,1.6"/>
<path d="M1056.6,583.5 V1086 M1271,583.5 V1086" stroke="#000" stroke-width="1.1" stroke-dasharray="2.2,1.6"/>
<g fill="#e64552" fill-opacity="0.75"><circle cx="783.2" cy="744.1" r="4.2"/><circle cx="940.3" cy="681.3" r="4.2"/><circle cx="923.9" cy="768.7" r="4.2"/><circle cx="1050.1" cy="776.1" r="4.2"/><circle cx="1045.4" cy="809.7" r="4.2"/><circle cx="1016" cy="799.9" r="4.2"/><circle cx="1037.2" cy="819.8" r="4.2"/><circle cx="1024.4" cy="831.3" r="4.2"/><circle cx="1052.8" cy="864" r="4.2"/><circle cx="996.3" cy="879.3" r="4.2"/><circle cx="1040.2" cy="886.9" r="4.2"/><circle cx="1033.1" cy="902.3" r="4.2"/><circle cx="1040.8" cy="916" r="4.2"/><circle cx="1051.7" cy="918.1" r="4.2"/><circle cx="1282.1" cy="606.1" r="4.2"/><circle cx="1469.2" cy="692" r="4.2"/><circle cx="1287.7" cy="730" r="4.2"/><circle cx="1303.5" cy="740.4" r="4.2"/><circle cx="1281.8" cy="765" r="4.2"/><circle cx="1273.4" cy="785.5" r="4.2"/><circle cx="1277" cy="807.5" r="4.2"/><circle cx="1278.5" cy="817" r="4.2"/><circle cx="1273.7" cy="848.9" r="4.2"/><circle cx="1277.6" cy="860.1" r="4.2"/><circle cx="1279.9" cy="872" r="4.2"/><circle cx="1279.3" cy="889.7" r="4.2"/><circle cx="1327.4" cy="902.8" r="4.2"/><circle cx="1274.8" cy="902.2" r="4.2"/><circle cx="1277.9" cy="907.4" r="4.2"/><circle cx="1286" cy="916.6" r="4.2"/><circle cx="1290.1" cy="917.6" r="4.2"/></g>
<path d="M933.5,686L938,683.2M917,763.2L922.5,767M1042.7,769.3L1048.2,773.4M1035.3,791.1L1044,807.5M1009.1,794.4L1014,798M1027.7,817L1034.5,819M1016.8,836.2L1022.2,832.6M1045.4,860.8L1050.6,863.5M978.5,872.5L993.5,878.5M1042,885L1045.5,883M1029,899.8L1031.8,901.2M1026.3,913.5L1038.6,917.3M1042.3,917.6L1067.9,955.5M1053,919.8L1056.6,921.8M1283.5,603.5L1288.5,600.5M1462.5,696.7L1467,694M1282.7,716.5L1286,727.7M1303.5,737.6L1305.8,732.8M1284.5,763L1288.8,760.4M1274.2,782L1289.7,775.6M1277.5,805L1281.7,798M1281,817.5L1284,818.8M1272.8,847.5L1284,837.6M1279.3,858L1284,855M1281.5,872L1287,871.5M1281.7,888.5L1286.9,886.8M1331,900.8L1342.4,896.1M1220.5,893L1272.7,902.2M1285.6,919.6L1285.6,934M1291.5,918L1296,917.5M1272.7,911.5L1276,908.4" stroke="#000" stroke-width="1.1" fill="none"/>
<text x="772.3" y="768.4" font-size="16.8" font-style="italic">Tac1</text>
<text x="888.4" y="702.3" font-size="16.8" font-style="italic">Ramp1</text>
<text x="876.1" y="761" font-size="16.8" font-style="italic">Cartpt</text>
<text x="1005.8" y="768.7" font-size="16.8" font-style="italic">Mtf2</text>
<text x="999.8" y="787.6" font-size="16.8" font-style="italic">Gria2</text>
<text x="956.1" y="802" font-size="16.8" font-style="italic">Opcml</text>
<text x="977.2" y="821.7" font-size="16.8" font-style="italic">Plppr4</text>
<text x="949.8" y="845.7" font-size="16.8" font-style="italic">Hnrnph1</text>
<text x="1005.8" y="858" font-size="16.8" font-style="italic">Snw1</text>
<text x="938.9" y="876.3" font-size="16.8" font-style="italic">Tln2</text>
<text x="1048.4" y="885.2" font-size="16.8" font-style="italic">Hist3h2ba</text>
<text x="975.2" y="899" font-size="16.8" font-style="italic">Lamp5</text>
<text x="975.2" y="915.4" font-size="16.8" font-style="italic">Chrm1</text>
<text x="1279.9" y="599" font-size="16.8" font-style="italic">Saraf</text>
<text x="1421.5" y="701.8" font-size="16.8" font-style="italic">Penk</text>
<text x="1275.6" y="711.4" font-size="16.8" font-style="italic">Tuba4a</text>
<text x="1309.4" y="732.8" font-size="16.8" font-style="italic">Tubb4b</text>
<text x="1289.7" y="760.4" font-size="16.8" font-style="italic">Cend1</text>
<text x="1291.7" y="780.7" font-size="16.8" font-style="italic">Tmem59l</text>
<text x="1284.6" y="799.6" font-size="16.8" font-style="italic">Dnmt1</text>
<text x="1286.3" y="824" font-size="16.8" font-style="italic">Sult2b1</text>
<text x="1285.5" y="841.8" font-size="16.8" font-style="italic">Cndp2</text>
<text x="1286.9" y="861.5" font-size="16.8" font-style="italic">Pea15a</text>
<text x="1288.3" y="877" font-size="16.8" font-style="italic">Aptx</text>
<text x="1287.7" y="893.4" font-size="16.8" font-style="italic">Apoe</text>
<text x="1345.4" y="899.2" font-size="16.8" font-style="italic">Magoh</text>
<text x="1153.9" y="899.2" font-size="16.8" font-style="italic">Fbxo44</text>
<text x="1297.3" y="917.6" font-size="16.8" font-style="italic">Scn2b</text>
<text x="1279.9" y="948.7" font-size="16.8" font-style="italic">Gnl2</text>
<text x="1058.7" y="938.1" font-size="16.8" font-style="italic" stroke="#fff" stroke-width="3" stroke-linejoin="round" paint-order="stroke">Mcf2l</text>
<text x="1071" y="963.7" font-size="16.8" font-style="italic" stroke="#fff" stroke-width="3" stroke-linejoin="round" paint-order="stroke">Commd3</text>
<text x="1207.2" y="923.7" font-size="16.8" font-style="italic" stroke="#fff" stroke-width="3" stroke-linejoin="round" paint-order="stroke">Crabp1</text>
<path d="M759.1,525.4 V1087.3 H1484.6" stroke="#000" stroke-width="2.2" fill="none"/>
<path d="M750,1059.9 H759.1" stroke="#000" stroke-width="2.2"/>
<text x="744.5" y="1067.4" font-size="20.5" text-anchor="end">0</text>
<path d="M750,953.2 H759.1" stroke="#000" stroke-width="2.2"/>
<text x="744.5" y="960.7" font-size="20.5" text-anchor="end">1</text>
<path d="M750,846.5 H759.1" stroke="#000" stroke-width="2.2"/>
<text x="744.5" y="854" font-size="20.5" text-anchor="end">2</text>
<path d="M750,739.8 H759.1" stroke="#000" stroke-width="2.2"/>
<text x="744.5" y="747.3" font-size="20.5" text-anchor="end">3</text>
<path d="M750,633.1 H759.1" stroke="#000" stroke-width="2.2"/>
<text x="744.5" y="640.6" font-size="20.5" text-anchor="end">4</text>
<path d="M750,526.4 H759.1" stroke="#000" stroke-width="2.2"/>
<text x="744.5" y="533.9" font-size="20.5" text-anchor="end">5</text>
<path d="M896,1087.3 V1097.5" stroke="#000" stroke-width="2.2"/>
<text x="896" y="1120.2" font-size="20.5" text-anchor="middle">−2</text>
<text x="1054.2" y="1120.2" font-size="20.5" text-anchor="middle">−0.8</text>
<path d="M1164,1087.3 V1097.5" stroke="#000" stroke-width="2.2"/>
<text x="1164" y="1120.2" font-size="20.5" text-anchor="middle">0</text>
<text x="1268.6" y="1120.2" font-size="20.5" text-anchor="middle">0.8</text>
<path d="M1432,1087.3 V1097.5" stroke="#000" stroke-width="2.2"/>
<text x="1432" y="1120.2" font-size="20.5" text-anchor="middle">2</text>
<text x="1074" y="1155.6" font-size="20.5">log<tspan font-size="14" dy="5">2</tspan><tspan dy="-5">fold change</tspan></text>
<text transform="translate(709.2,826) rotate(-90)" font-size="20.5">−log<tspan font-size="14" dy="5">10</tspan><tspan dy="-5"> </tspan><tspan font-style="italic">P</tspan></text>
</g>
<g id="pf">
<text transform="translate(1520,27.6) scale(1.1,1)" font-size="32" font-weight="bold" stroke="#000" stroke-width="1.3">f</text>
<text x="1689.3" y="80" font-size="20.5" text-anchor="middle">NF</text>
<text x="1933.6" y="80" font-size="20.5" text-anchor="middle">FR</text>
<text x="1578" y="103.8" font-size="18.5" text-anchor="end" font-style="italic" font-weight="bold">Tac1</text>
<text x="1578" y="123" font-size="18.5" text-anchor="end" font-style="italic">Mbp</text>
<text x="1578" y="142.3" font-size="18.5" text-anchor="end" font-style="italic">Ramp1</text>
<text x="1578" y="161.7" font-size="18.5" text-anchor="end" font-style="italic">Smg5</text>
<text x="1578" y="181" font-size="18.5" text-anchor="end" font-style="italic">Lrrc49</text>
<text x="1578" y="200.2" font-size="18.5" text-anchor="end" font-style="italic">Arhgap12</text>
<text x="1578" y="219.6" font-size="18.5" text-anchor="end" font-style="italic">Plcxd3</text>
<text x="1578" y="238.8" font-size="18.5" text-anchor="end" font-style="italic">Megf9</text>
<text x="1578" y="258.1" font-size="18.5" text-anchor="end" font-style="italic">Lpcat1</text>
<text x="1578" y="277.4" font-size="18.5" text-anchor="end" font-style="italic">Kif5b</text>
<text x="1578" y="296.8" font-size="18.5" text-anchor="end" font-style="italic">Banp</text>
<text x="1578" y="316" font-size="18.5" text-anchor="end" font-style="italic">Bop1</text>
<text x="1578" y="335.4" font-size="18.5" text-anchor="end" font-style="italic">Psmc3</text>
<text x="1578" y="354.6" font-size="18.5" text-anchor="end" font-style="italic">Tbce</text>
<text x="1578" y="373.9" font-size="18.5" text-anchor="end" font-style="italic">Nbr1</text>
<text x="1578" y="393.2" font-size="18.5" text-anchor="end" font-style="italic">Snrpa</text>
<text x="1578" y="412.5" font-size="18.5" text-anchor="end" font-style="italic">Palm</text>
<text x="1578" y="431.9" font-size="18.5" text-anchor="end" font-style="italic">Clip3</text>
<text x="1578" y="451.1" font-size="18.5" text-anchor="end" font-style="italic">Mcf2l</text>
<text x="1578" y="470.4" font-size="18.5" text-anchor="end" font-style="italic">Tbc1d17</text>
<text x="1578" y="489.8" font-size="18.5" text-anchor="end" font-style="italic">Asxl2</text>
<text x="1578" y="509" font-size="18.5" text-anchor="end" font-style="italic">Fh1</text>
<text x="1578" y="528.4" font-size="18.5" text-anchor="end" font-style="italic">Ptpa</text>
<text x="1578" y="547.6" font-size="18.5" text-anchor="end" font-style="italic">Ptdss2</text>
<text x="1578" y="567" font-size="18.5" text-anchor="end" font-style="italic">Tmx1</text>
<text x="1578" y="586.2" font-size="18.5" text-anchor="end" font-style="italic">Nfasc</text>
<text x="1578" y="605.5" font-size="18.5" text-anchor="end" font-style="italic">Ttll7</text>
<text x="1578" y="624.9" font-size="18.5" text-anchor="end" font-style="italic">Tiam1</text>
<text x="1578" y="644.1" font-size="18.5" text-anchor="end" font-style="italic">Aak1</text>
<text x="1578" y="663.5" font-size="18.5" text-anchor="end" font-style="italic">Atp8a1</text>
<text x="1578" y="682.8" font-size="18.5" text-anchor="end" font-style="italic">Svet1</text>
<text x="1578" y="702.1" font-size="18.5" text-anchor="end" font-style="italic">Ptprn</text>
<text x="1578" y="721.4" font-size="18.5" text-anchor="end" font-style="italic">Rnps1</text>
<text x="1578" y="740.6" font-size="18.5" text-anchor="end" font-style="italic">Yod1</text>
<text x="1578" y="760" font-size="18.5" text-anchor="end" font-style="italic">Emc6</text>
<text x="1578" y="779.2" font-size="18.5" text-anchor="end" font-style="italic">Slc25a3</text>
<text x="1578" y="798.6" font-size="18.5" text-anchor="end" font-style="italic">Cbarp</text>
<text x="1578" y="817.9" font-size="18.5" text-anchor="end" font-style="italic">Pcdh17</text>
<text x="1578" y="837.1" font-size="18.5" text-anchor="end" font-style="italic">Tpm3</text>
<text x="1578" y="856.5" font-size="18.5" text-anchor="end" font-style="italic">Cdkn1a</text>
<text x="1578" y="875.8" font-size="18.5" text-anchor="end" font-style="italic" font-weight="bold">Scg2</text>
<text x="1578" y="895.1" font-size="18.5" text-anchor="end" font-style="italic">Larp7</text>
<text x="1578" y="914.4" font-size="18.5" text-anchor="end" font-style="italic">Nap1l4</text>
<text x="1578" y="933.6" font-size="18.5" text-anchor="end" font-style="italic">Saraf</text>
<text x="1578" y="953" font-size="18.5" text-anchor="end" font-style="italic">Eif3k</text>
<text x="1578" y="972.2" font-size="18.5" text-anchor="end" font-style="italic">Ddah1</text>
<text x="1578" y="991.6" font-size="18.5" text-anchor="end" font-style="italic">Rangap1</text>
<text x="1578" y="1010.9" font-size="18.5" text-anchor="end" font-style="italic">Rheb</text>
<text x="1578" y="1030.2" font-size="18.5" text-anchor="end" font-style="italic">Fndc9</text>
<text x="1578" y="1049.5" font-size="18.5" text-anchor="end" font-style="italic" font-weight="bold">Penk</text>
<g shape-rendering="crispEdges">
<path fill="#f6e600" d="M1587.8 87.6h22.6v19.3h-22.6zM1610.4 87.6h22.6v19.3h-22.6zM1723.2 106.9h22.6v19.3h-22.6zM1655.5 145.5h22.6v19.3h-22.6zM1723.2 145.5h22.6v19.3h-22.6zM1655.5 164.8h22.6v19.3h-22.6zM1700.6 164.8h22.6v19.3h-22.6zM1723.2 184.1h22.6v19.3h-22.6zM1655.5 203.4h22.6v19.3h-22.6zM1655.5 242h22.6v19.3h-22.6zM1723.2 242h22.6v19.3h-22.6zM1700.6 280.6h22.6v19.3h-22.6zM1723.2 280.6h22.6v19.3h-22.6zM1655.5 299.9h22.6v19.3h-22.6zM1655.5 338.5h22.6v19.3h-22.6zM1723.2 357.8h22.6v19.3h-22.6zM1723.2 396.4h22.6v19.3h-22.6zM1655.5 435h22.6v19.3h-22.6zM1723.2 435h22.6v19.3h-22.6zM1587.8 454.3h22.6v19.3h-22.6zM1723.2 473.6h22.6v19.3h-22.6zM1655.5 512.2h22.6v19.3h-22.6zM1587.8 531.5h22.6v19.3h-22.6zM1655.5 531.5h22.6v19.3h-22.6zM1655.5 550.8h22.6v19.3h-22.6zM1723.2 570.1h22.6v19.3h-22.6zM1655.5 589.4h22.6v19.3h-22.6zM1768.3 589.4h22.6v19.3h-22.6zM1723.2 608.7h22.6v19.3h-22.6zM1723.2 647.3h22.6v19.3h-22.6zM1678 666.6h22.6v19.3h-22.6zM1723.2 666.6h22.6v19.3h-22.6zM1888.4 724.5h22.6v19.3h-22.6zM1978.7 743.8h22.6v19.3h-22.6zM1798.2 878.9h22.6v19.3h-22.6zM1978.7 878.9h22.6v19.3h-22.6zM1978.7 936.8h22.6v19.3h-22.6zM1978.7 956.1h22.6v19.3h-22.6z"/>
<path fill="#351930" d="M1632.9 87.6h22.6v19.3h-22.6zM1678 87.6h22.6v19.3h-22.6zM1700.6 87.6h22.6v19.3h-22.6zM1723.2 87.6h22.6v19.3h-22.6zM1745.7 87.6h22.6v19.3h-22.6zM1768.3 87.6h22.6v19.3h-22.6zM1798.2 87.6h22.6v19.3h-22.6zM1820.8 87.6h22.6v19.3h-22.6zM1843.3 87.6h22.6v19.3h-22.6zM1865.9 87.6h22.6v19.3h-22.6zM1888.4 87.6h22.6v19.3h-22.6zM1911 87.6h22.6v19.3h-22.6zM1933.6 87.6h22.6v19.3h-22.6zM1956.1 87.6h22.6v19.3h-22.6zM1978.7 87.6h22.6v19.3h-22.6zM2001.2 87.6h22.6v19.3h-22.6zM2023.8 87.6h22.6v19.3h-22.6zM2046.4 87.6h22.6v19.3h-22.6zM1768.3 164.8h22.6v19.3h-22.6zM1632.9 203.4h22.6v19.3h-22.6zM1700.6 203.4h22.6v19.3h-22.6zM1723.2 203.4h22.6v19.3h-22.6zM2046.4 222.7h22.6v19.3h-22.6zM1678 242h22.6v19.3h-22.6zM1700.6 242h22.6v19.3h-22.6zM1768.3 242h22.6v19.3h-22.6zM1768.3 261.3h22.6v19.3h-22.6zM1632.9 299.9h22.6v19.3h-22.6zM1723.2 338.5h22.6v19.3h-22.6zM1798.2 377.1h22.6v19.3h-22.6zM1678 435h22.6v19.3h-22.6zM1700.6 435h22.6v19.3h-22.6zM2046.4 435h22.6v19.3h-22.6zM1700.6 454.3h22.6v19.3h-22.6zM1723.2 454.3h22.6v19.3h-22.6zM1798.2 454.3h22.6v19.3h-22.6zM1820.8 454.3h22.6v19.3h-22.6zM1843.3 454.3h22.6v19.3h-22.6zM1865.9 454.3h22.6v19.3h-22.6zM1888.4 454.3h22.6v19.3h-22.6zM1911 454.3h22.6v19.3h-22.6zM1933.6 454.3h22.6v19.3h-22.6zM1956.1 454.3h22.6v19.3h-22.6zM1978.7 454.3h22.6v19.3h-22.6zM2001.2 454.3h22.6v19.3h-22.6zM2023.8 454.3h22.6v19.3h-22.6zM2046.4 454.3h22.6v19.3h-22.6zM1678 531.5h22.6v19.3h-22.6zM1700.6 531.5h22.6v19.3h-22.6zM1723.2 531.5h22.6v19.3h-22.6zM1768.3 531.5h22.6v19.3h-22.6zM1798.2 531.5h22.6v19.3h-22.6zM1820.8 531.5h22.6v19.3h-22.6zM1843.3 531.5h22.6v19.3h-22.6zM1865.9 531.5h22.6v19.3h-22.6zM1888.4 531.5h22.6v19.3h-22.6zM1911 531.5h22.6v19.3h-22.6zM1956.1 531.5h22.6v19.3h-22.6zM1978.7 531.5h22.6v19.3h-22.6zM2001.2 531.5h22.6v19.3h-22.6zM2023.8 531.5h22.6v19.3h-22.6zM2046.4 531.5h22.6v19.3h-22.6zM1678 570.1h22.6v19.3h-22.6zM1700.6 570.1h22.6v19.3h-22.6zM1956.1 608.7h22.6v19.3h-22.6zM1632.9 628h22.6v19.3h-22.6zM1678 685.9h22.6v19.3h-22.6zM1745.7 763.1h22.6v19.3h-22.6zM1933.6 859.6h22.6v19.3h-22.6zM2001.2 859.6h22.6v19.3h-22.6zM2023.8 859.6h22.6v19.3h-22.6zM1587.8 878.9h22.6v19.3h-22.6zM1610.4 878.9h22.6v19.3h-22.6zM1632.9 878.9h22.6v19.3h-22.6zM1655.5 878.9h22.6v19.3h-22.6zM1678 878.9h22.6v19.3h-22.6zM1700.6 878.9h22.6v19.3h-22.6zM1723.2 878.9h22.6v19.3h-22.6zM1768.3 878.9h22.6v19.3h-22.6zM1820.8 878.9h22.6v19.3h-22.6zM1865.9 878.9h22.6v19.3h-22.6zM1956.1 878.9h22.6v19.3h-22.6zM2001.2 878.9h22.6v19.3h-22.6zM2023.8 878.9h22.6v19.3h-22.6zM1587.8 898.2h22.6v19.3h-22.6zM1610.4 936.8h22.6v19.3h-22.6z"/>
<path fill="#e2d402" d="M1655.5 87.6h22.6v19.3h-22.6zM1610.4 299.9h22.6v19.3h-22.6zM1678 299.9h22.6v19.3h-22.6zM1655.5 628h22.6v19.3h-22.6zM1865.9 975.4h22.6v19.3h-22.6zM1933.6 975.4h22.6v19.3h-22.6z"/>
<path fill="#3c1a37" d="M1587.8 106.9h22.6v19.3h-22.6zM1610.4 106.9h22.6v19.3h-22.6zM1632.9 106.9h22.6v19.3h-22.6zM1700.6 106.9h22.6v19.3h-22.6zM1798.2 106.9h22.6v19.3h-22.6zM1820.8 106.9h22.6v19.3h-22.6zM1843.3 106.9h22.6v19.3h-22.6zM1888.4 106.9h22.6v19.3h-22.6zM1911 106.9h22.6v19.3h-22.6zM1933.6 106.9h22.6v19.3h-22.6zM1956.1 106.9h22.6v19.3h-22.6zM1978.7 106.9h22.6v19.3h-22.6zM2023.8 106.9h22.6v19.3h-22.6zM2046.4 106.9h22.6v19.3h-22.6zM1587.8 203.4h22.6v19.3h-22.6zM1911 222.7h22.6v19.3h-22.6zM2046.4 261.3h22.6v19.3h-22.6zM2046.4 377.1h22.6v19.3h-22.6zM2046.4 396.4h22.6v19.3h-22.6zM1956.1 415.7h22.6v19.3h-22.6zM1798.2 435h22.6v19.3h-22.6zM1820.8 435h22.6v19.3h-22.6zM1843.3 435h22.6v19.3h-22.6zM1865.9 435h22.6v19.3h-22.6zM1888.4 435h22.6v19.3h-22.6zM1911 435h22.6v19.3h-22.6zM1933.6 435h22.6v19.3h-22.6zM1956.1 435h22.6v19.3h-22.6zM1978.7 435h22.6v19.3h-22.6zM2001.2 435h22.6v19.3h-22.6zM2023.8 435h22.6v19.3h-22.6zM1655.5 570.1h22.6v19.3h-22.6zM1798.2 570.1h22.6v19.3h-22.6zM1820.8 570.1h22.6v19.3h-22.6zM1865.9 570.1h22.6v19.3h-22.6zM1888.4 570.1h22.6v19.3h-22.6zM1911 570.1h22.6v19.3h-22.6zM1933.6 570.1h22.6v19.3h-22.6zM1978.7 570.1h22.6v19.3h-22.6zM2001.2 570.1h22.6v19.3h-22.6zM2023.8 570.1h22.6v19.3h-22.6zM1820.8 589.4h22.6v19.3h-22.6zM1587.8 763.1h22.6v19.3h-22.6zM1700.6 763.1h22.6v19.3h-22.6zM1768.3 763.1h22.6v19.3h-22.6zM1587.8 821h22.6v19.3h-22.6zM1888.4 878.9h22.6v19.3h-22.6zM1678 975.4h22.6v19.3h-22.6zM1632.9 994.7h22.6v19.3h-22.6z"/>
<path fill="#e8da02" d="M1655.5 106.9h22.6v19.3h-22.6zM1723.2 222.7h22.6v19.3h-22.6zM1655.5 261.3h22.6v19.3h-22.6zM1610.4 550.8h22.6v19.3h-22.6z"/>
<path fill="#dbce03" d="M1678 106.9h22.6v19.3h-22.6zM1610.4 126.2h22.6v19.3h-22.6zM1587.8 164.8h22.6v19.3h-22.6zM1632.9 396.4h22.6v19.3h-22.6zM1632.9 415.7h22.6v19.3h-22.6zM1655.5 454.3h22.6v19.3h-22.6zM1610.4 589.4h22.6v19.3h-22.6zM2023.8 743.8h22.6v19.3h-22.6zM1798.2 821h22.6v19.3h-22.6zM1911 878.9h22.6v19.3h-22.6zM1798.2 975.4h22.6v19.3h-22.6zM1978.7 1014h22.6v19.3h-22.6z"/>
<path fill="#14120e" d="M1745.7 106.9h22.6v19.3h-22.6zM1723.2 126.2h22.6v19.3h-22.6zM1911 126.2h22.6v19.3h-22.6zM1610.4 164.8h22.6v19.3h-22.6zM1587.8 184.1h22.6v19.3h-22.6zM1745.7 184.1h22.6v19.3h-22.6zM1678 319.2h22.6v19.3h-22.6zM1933.6 319.2h22.6v19.3h-22.6zM1632.9 357.8h22.6v19.3h-22.6zM2046.4 357.8h22.6v19.3h-22.6zM1632.9 377.1h22.6v19.3h-22.6zM1865.9 377.1h22.6v19.3h-22.6zM1745.7 396.4h22.6v19.3h-22.6zM1610.4 454.3h22.6v19.3h-22.6zM1745.7 454.3h22.6v19.3h-22.6zM1587.8 473.6h22.6v19.3h-22.6zM1610.4 473.6h22.6v19.3h-22.6zM1587.8 570.1h22.6v19.3h-22.6zM1632.9 570.1h22.6v19.3h-22.6zM1843.3 570.1h22.6v19.3h-22.6zM1865.9 589.4h22.6v19.3h-22.6zM1632.9 763.1h22.6v19.3h-22.6zM1933.6 763.1h22.6v19.3h-22.6zM2023.8 763.1h22.6v19.3h-22.6zM1820.8 782.4h22.6v19.3h-22.6zM1843.3 840.3h22.6v19.3h-22.6zM1678 859.6h22.6v19.3h-22.6zM1865.9 859.6h22.6v19.3h-22.6zM1843.3 878.9h22.6v19.3h-22.6zM1911 898.2h22.6v19.3h-22.6zM1632.9 917.5h22.6v19.3h-22.6zM1843.3 936.8h22.6v19.3h-22.6zM1745.7 975.4h22.6v19.3h-22.6zM1610.4 1014h22.6v19.3h-22.6zM1865.9 1014h22.6v19.3h-22.6zM1933.6 1014h22.6v19.3h-22.6zM1768.3 1033.3h22.6v19.3h-22.6z"/>
<path fill="#24161e" d="M1768.3 106.9h22.6v19.3h-22.6zM1745.7 145.5h22.6v19.3h-22.6zM1768.3 145.5h22.6v19.3h-22.6zM1610.4 184.1h22.6v19.3h-22.6zM1798.2 184.1h22.6v19.3h-22.6zM1820.8 184.1h22.6v19.3h-22.6zM1843.3 184.1h22.6v19.3h-22.6zM1865.9 184.1h22.6v19.3h-22.6zM1888.4 184.1h22.6v19.3h-22.6zM1911 184.1h22.6v19.3h-22.6zM1933.6 184.1h22.6v19.3h-22.6zM1956.1 184.1h22.6v19.3h-22.6zM1978.7 184.1h22.6v19.3h-22.6zM2001.2 184.1h22.6v19.3h-22.6zM2023.8 184.1h22.6v19.3h-22.6zM2046.4 184.1h22.6v19.3h-22.6zM1678 203.4h22.6v19.3h-22.6zM2046.4 203.4h22.6v19.3h-22.6zM1911 261.3h22.6v19.3h-22.6zM1745.7 299.9h22.6v19.3h-22.6zM2046.4 299.9h22.6v19.3h-22.6zM1610.4 357.8h22.6v19.3h-22.6zM1745.7 357.8h22.6v19.3h-22.6zM1843.3 357.8h22.6v19.3h-22.6zM2001.2 396.4h22.6v19.3h-22.6zM1723.2 550.8h22.6v19.3h-22.6zM1768.3 550.8h22.6v19.3h-22.6zM1888.4 550.8h22.6v19.3h-22.6zM1956.1 570.1h22.6v19.3h-22.6zM2001.2 589.4h22.6v19.3h-22.6zM1655.5 743.8h22.6v19.3h-22.6zM1911 840.3h22.6v19.3h-22.6zM1768.3 859.6h22.6v19.3h-22.6zM1745.7 878.9h22.6v19.3h-22.6z"/>
<path fill="#242212" d="M1865.9 106.9h22.6v19.3h-22.6zM1678 164.8h22.6v19.3h-22.6zM1700.6 222.7h22.6v19.3h-22.6zM1632.9 261.3h22.6v19.3h-22.6zM1610.4 338.5h22.6v19.3h-22.6zM1888.4 377.1h22.6v19.3h-22.6zM1700.6 415.7h22.6v19.3h-22.6zM1768.3 435h22.6v19.3h-22.6zM1700.6 473.6h22.6v19.3h-22.6zM1888.4 512.2h22.6v19.3h-22.6zM1632.9 589.4h22.6v19.3h-22.6zM1678 589.4h22.6v19.3h-22.6zM1933.6 685.9h22.6v19.3h-22.6zM1956.1 685.9h22.6v19.3h-22.6zM1587.8 724.5h22.6v19.3h-22.6zM1843.3 743.8h22.6v19.3h-22.6zM1933.6 743.8h22.6v19.3h-22.6zM1865.9 763.1h22.6v19.3h-22.6zM1632.9 801.7h22.6v19.3h-22.6zM1865.9 821h22.6v19.3h-22.6zM1610.4 898.2h22.6v19.3h-22.6zM1820.8 898.2h22.6v19.3h-22.6zM1610.4 917.5h22.6v19.3h-22.6zM1700.6 917.5h22.6v19.3h-22.6zM1768.3 917.5h22.6v19.3h-22.6zM1745.7 936.8h22.6v19.3h-22.6zM1768.3 936.8h22.6v19.3h-22.6zM1956.1 936.8h22.6v19.3h-22.6zM1820.8 956.1h22.6v19.3h-22.6zM1865.9 994.7h22.6v19.3h-22.6zM2023.8 994.7h22.6v19.3h-22.6zM1820.8 1033.3h22.6v19.3h-22.6zM1843.3 1033.3h22.6v19.3h-22.6z"/>
<path fill="#4f4c1d" d="M2001.2 106.9h22.6v19.3h-22.6zM1768.3 203.4h22.6v19.3h-22.6zM1768.3 222.7h22.6v19.3h-22.6zM1820.8 261.3h22.6v19.3h-22.6zM1843.3 319.2h22.6v19.3h-22.6zM1820.8 377.1h22.6v19.3h-22.6zM1911 415.7h22.6v19.3h-22.6zM1768.3 512.2h22.6v19.3h-22.6zM1865.9 512.2h22.6v19.3h-22.6zM1632.9 531.5h22.6v19.3h-22.6zM1610.4 628h22.6v19.3h-22.6zM1678 647.3h22.6v19.3h-22.6zM1911 705.2h22.6v19.3h-22.6zM1956.1 705.2h22.6v19.3h-22.6zM2046.4 705.2h22.6v19.3h-22.6zM2001.2 763.1h22.6v19.3h-22.6zM2001.2 782.4h22.6v19.3h-22.6zM1820.8 821h22.6v19.3h-22.6zM1745.7 898.2h22.6v19.3h-22.6zM1843.3 917.5h22.6v19.3h-22.6zM1933.6 917.5h22.6v19.3h-22.6zM1911 975.4h22.6v19.3h-22.6zM1978.7 975.4h22.6v19.3h-22.6zM1820.8 994.7h22.6v19.3h-22.6zM1843.3 994.7h22.6v19.3h-22.6zM1911 994.7h22.6v19.3h-22.6zM2001.2 1014h22.6v19.3h-22.6zM1700.6 1033.3h22.6v19.3h-22.6z"/>
<path fill="#59561f" d="M1587.8 126.2h22.6v19.3h-22.6zM1678 338.5h22.6v19.3h-22.6zM1745.7 338.5h22.6v19.3h-22.6zM1768.3 338.5h22.6v19.3h-22.6zM1700.6 396.4h22.6v19.3h-22.6zM1745.7 589.4h22.6v19.3h-22.6zM2001.2 685.9h22.6v19.3h-22.6zM1820.8 705.2h22.6v19.3h-22.6zM1865.9 743.8h22.6v19.3h-22.6zM1798.2 763.1h22.6v19.3h-22.6zM1911 782.4h22.6v19.3h-22.6zM1911 801.7h22.6v19.3h-22.6zM1888.4 821h22.6v19.3h-22.6zM1956.1 821h22.6v19.3h-22.6zM1820.8 840.3h22.6v19.3h-22.6zM1865.9 840.3h22.6v19.3h-22.6zM1700.6 859.6h22.6v19.3h-22.6zM1843.3 859.6h22.6v19.3h-22.6zM1843.3 956.1h22.6v19.3h-22.6zM1820.8 975.4h22.6v19.3h-22.6z"/>
<path fill="#6c6824" d="M1632.9 126.2h22.6v19.3h-22.6zM1655.5 319.2h22.6v19.3h-22.6zM1700.6 319.2h22.6v19.3h-22.6zM2001.2 338.5h22.6v19.3h-22.6zM1745.7 628h22.6v19.3h-22.6zM1678 743.8h22.6v19.3h-22.6zM1933.6 898.2h22.6v19.3h-22.6zM2001.2 898.2h22.6v19.3h-22.6zM2001.2 956.1h22.6v19.3h-22.6z"/>
<path fill="#625f22" d="M1655.5 126.2h22.6v19.3h-22.6zM2046.4 164.8h22.6v19.3h-22.6zM1610.4 319.2h22.6v19.3h-22.6zM1768.3 377.1h22.6v19.3h-22.6zM1587.8 435h22.6v19.3h-22.6zM2046.4 628h22.6v19.3h-22.6zM1911 685.9h22.6v19.3h-22.6zM1888.4 705.2h22.6v19.3h-22.6zM1978.7 763.1h22.6v19.3h-22.6zM1933.6 821h22.6v19.3h-22.6zM1978.7 917.5h22.6v19.3h-22.6zM2023.8 936.8h22.6v19.3h-22.6zM1933.6 956.1h22.6v19.3h-22.6zM1911 1033.3h22.6v19.3h-22.6zM1956.1 1033.3h22.6v19.3h-22.6z"/>
<path fill="#aaa319" d="M1678 126.2h22.6v19.3h-22.6zM1700.6 261.3h22.6v19.3h-22.6zM1700.6 377.1h22.6v19.3h-22.6zM1632.9 454.3h22.6v19.3h-22.6zM1700.6 492.9h22.6v19.3h-22.6zM1610.4 570.1h22.6v19.3h-22.6zM1700.6 628h22.6v19.3h-22.6zM1865.9 705.2h22.6v19.3h-22.6zM1843.3 724.5h22.6v19.3h-22.6zM1933.6 724.5h22.6v19.3h-22.6zM1820.8 743.8h22.6v19.3h-22.6zM1911 763.1h22.6v19.3h-22.6zM1888.4 782.4h22.6v19.3h-22.6zM1865.9 801.7h22.6v19.3h-22.6zM1798.2 840.3h22.6v19.3h-22.6zM1843.3 898.2h22.6v19.3h-22.6zM1888.4 898.2h22.6v19.3h-22.6zM1956.1 898.2h22.6v19.3h-22.6zM2023.8 898.2h22.6v19.3h-22.6zM1888.4 917.5h22.6v19.3h-22.6zM1888.4 994.7h22.6v19.3h-22.6zM1888.4 1014h22.6v19.3h-22.6z"/>
<path fill="#8b8620" d="M1700.6 126.2h22.6v19.3h-22.6zM1745.7 126.2h22.6v19.3h-22.6zM1678 222.7h22.6v19.3h-22.6zM1587.8 242h22.6v19.3h-22.6zM1610.4 377.1h22.6v19.3h-22.6zM1843.3 396.4h22.6v19.3h-22.6zM1678 415.7h22.6v19.3h-22.6zM1768.3 415.7h22.6v19.3h-22.6zM1632.9 492.9h22.6v19.3h-22.6zM1723.2 628h22.6v19.3h-22.6zM1865.9 685.9h22.6v19.3h-22.6zM1956.1 763.1h22.6v19.3h-22.6zM1933.6 782.4h22.6v19.3h-22.6zM1888.4 840.3h22.6v19.3h-22.6z"/>
<path fill="#501c4e" d="M1768.3 126.2h22.6v19.3h-22.6zM1798.2 126.2h22.6v19.3h-22.6zM1820.8 126.2h22.6v19.3h-22.6zM1843.3 126.2h22.6v19.3h-22.6zM1865.9 126.2h22.6v19.3h-22.6zM1888.4 126.2h22.6v19.3h-22.6zM1933.6 126.2h22.6v19.3h-22.6zM1956.1 126.2h22.6v19.3h-22.6zM1978.7 126.2h22.6v19.3h-22.6zM2001.2 126.2h22.6v19.3h-22.6zM2023.8 126.2h22.6v19.3h-22.6zM2046.4 126.2h22.6v19.3h-22.6zM2023.8 319.2h22.6v19.3h-22.6zM1798.2 338.5h22.6v19.3h-22.6zM1843.3 338.5h22.6v19.3h-22.6zM1865.9 338.5h22.6v19.3h-22.6zM1888.4 338.5h22.6v19.3h-22.6zM1911 338.5h22.6v19.3h-22.6zM1933.6 338.5h22.6v19.3h-22.6zM1956.1 338.5h22.6v19.3h-22.6zM1978.7 338.5h22.6v19.3h-22.6zM2023.8 338.5h22.6v19.3h-22.6zM1768.3 396.4h22.6v19.3h-22.6zM1798.2 415.7h22.6v19.3h-22.6zM1820.8 415.7h22.6v19.3h-22.6zM1843.3 415.7h22.6v19.3h-22.6zM1865.9 415.7h22.6v19.3h-22.6zM1888.4 415.7h22.6v19.3h-22.6zM1978.7 415.7h22.6v19.3h-22.6zM2001.2 415.7h22.6v19.3h-22.6zM2023.8 415.7h22.6v19.3h-22.6zM1587.8 492.9h22.6v19.3h-22.6zM1678 492.9h22.6v19.3h-22.6zM1723.2 492.9h22.6v19.3h-22.6zM1820.8 492.9h22.6v19.3h-22.6zM1843.3 492.9h22.6v19.3h-22.6zM1865.9 492.9h22.6v19.3h-22.6zM1888.4 492.9h22.6v19.3h-22.6zM1911 492.9h22.6v19.3h-22.6zM1933.6 492.9h22.6v19.3h-22.6zM1956.1 492.9h22.6v19.3h-22.6zM2001.2 492.9h22.6v19.3h-22.6zM2023.8 492.9h22.6v19.3h-22.6zM2046.4 492.9h22.6v19.3h-22.6zM1700.6 512.2h22.6v19.3h-22.6zM1723.2 512.2h22.6v19.3h-22.6zM1798.2 512.2h22.6v19.3h-22.6zM1820.8 512.2h22.6v19.3h-22.6zM1843.3 512.2h22.6v19.3h-22.6zM1911 512.2h22.6v19.3h-22.6zM1933.6 512.2h22.6v19.3h-22.6zM1956.1 512.2h22.6v19.3h-22.6zM2023.8 512.2h22.6v19.3h-22.6zM2046.4 512.2h22.6v19.3h-22.6zM1587.8 589.4h22.6v19.3h-22.6zM1798.2 589.4h22.6v19.3h-22.6zM1888.4 589.4h22.6v19.3h-22.6zM1911 589.4h22.6v19.3h-22.6zM1933.6 589.4h22.6v19.3h-22.6zM1956.1 589.4h22.6v19.3h-22.6zM1978.7 589.4h22.6v19.3h-22.6zM2023.8 589.4h22.6v19.3h-22.6zM2046.4 589.4h22.6v19.3h-22.6zM1933.6 628h22.6v19.3h-22.6zM2023.8 628h22.6v19.3h-22.6zM1655.5 647.3h22.6v19.3h-22.6zM1798.2 647.3h22.6v19.3h-22.6zM1843.3 647.3h22.6v19.3h-22.6zM1865.9 647.3h22.6v19.3h-22.6zM1888.4 647.3h22.6v19.3h-22.6zM1911 647.3h22.6v19.3h-22.6zM1933.6 647.3h22.6v19.3h-22.6zM1956.1 647.3h22.6v19.3h-22.6zM1978.7 647.3h22.6v19.3h-22.6zM2046.4 647.3h22.6v19.3h-22.6zM1610.4 705.2h22.6v19.3h-22.6zM1610.4 724.5h22.6v19.3h-22.6zM1632.9 724.5h22.6v19.3h-22.6zM1655.5 724.5h22.6v19.3h-22.6zM1678 724.5h22.6v19.3h-22.6zM1723.2 724.5h22.6v19.3h-22.6zM1768.3 724.5h22.6v19.3h-22.6zM1798.2 724.5h22.6v19.3h-22.6zM1745.7 801.7h22.6v19.3h-22.6zM1933.6 840.3h22.6v19.3h-22.6zM1723.2 975.4h22.6v19.3h-22.6zM2046.4 975.4h22.6v19.3h-22.6zM1911 1014h22.6v19.3h-22.6z"/>
<path fill="#291723" d="M1587.8 145.5h22.6v19.3h-22.6zM1798.2 145.5h22.6v19.3h-22.6zM1820.8 145.5h22.6v19.3h-22.6zM1843.3 145.5h22.6v19.3h-22.6zM1865.9 145.5h22.6v19.3h-22.6zM1888.4 145.5h22.6v19.3h-22.6zM1911 145.5h22.6v19.3h-22.6zM1933.6 145.5h22.6v19.3h-22.6zM1956.1 145.5h22.6v19.3h-22.6zM1978.7 145.5h22.6v19.3h-22.6zM2001.2 145.5h22.6v19.3h-22.6zM2023.8 145.5h22.6v19.3h-22.6zM2046.4 145.5h22.6v19.3h-22.6zM1632.9 184.1h22.6v19.3h-22.6zM1655.5 184.1h22.6v19.3h-22.6zM1678 184.1h22.6v19.3h-22.6zM1700.6 184.1h22.6v19.3h-22.6zM1587.8 280.6h22.6v19.3h-22.6zM1798.2 280.6h22.6v19.3h-22.6zM1820.8 280.6h22.6v19.3h-22.6zM1843.3 280.6h22.6v19.3h-22.6zM1865.9 280.6h22.6v19.3h-22.6zM1888.4 280.6h22.6v19.3h-22.6zM1911 280.6h22.6v19.3h-22.6zM1933.6 280.6h22.6v19.3h-22.6zM1956.1 280.6h22.6v19.3h-22.6zM1978.7 280.6h22.6v19.3h-22.6zM2001.2 280.6h22.6v19.3h-22.6zM2023.8 280.6h22.6v19.3h-22.6zM2046.4 280.6h22.6v19.3h-22.6zM1820.8 338.5h22.6v19.3h-22.6zM1933.6 377.1h22.6v19.3h-22.6zM1632.9 473.6h22.6v19.3h-22.6zM1655.5 473.6h22.6v19.3h-22.6zM1678 473.6h22.6v19.3h-22.6zM1768.3 473.6h22.6v19.3h-22.6zM1798.2 473.6h22.6v19.3h-22.6zM1820.8 473.6h22.6v19.3h-22.6zM1843.3 473.6h22.6v19.3h-22.6zM1888.4 473.6h22.6v19.3h-22.6zM1911 473.6h22.6v19.3h-22.6zM1933.6 473.6h22.6v19.3h-22.6zM1956.1 473.6h22.6v19.3h-22.6zM1978.7 473.6h22.6v19.3h-22.6zM2001.2 473.6h22.6v19.3h-22.6zM2023.8 473.6h22.6v19.3h-22.6zM2046.4 473.6h22.6v19.3h-22.6zM1798.2 492.9h22.6v19.3h-22.6zM1978.7 492.9h22.6v19.3h-22.6zM1700.6 589.4h22.6v19.3h-22.6zM1865.9 628h22.6v19.3h-22.6zM1798.2 685.9h22.6v19.3h-22.6zM1978.7 685.9h22.6v19.3h-22.6zM1632.9 705.2h22.6v19.3h-22.6zM1843.3 705.2h22.6v19.3h-22.6zM1700.6 724.5h22.6v19.3h-22.6zM1745.7 724.5h22.6v19.3h-22.6zM1820.8 724.5h22.6v19.3h-22.6zM2046.4 724.5h22.6v19.3h-22.6zM1587.8 743.8h22.6v19.3h-22.6zM1888.4 763.1h22.6v19.3h-22.6zM1610.4 801.7h22.6v19.3h-22.6zM1678 821h22.6v19.3h-22.6zM1587.8 917.5h22.6v19.3h-22.6zM1745.7 917.5h22.6v19.3h-22.6zM1843.3 975.4h22.6v19.3h-22.6zM2001.2 975.4h22.6v19.3h-22.6zM1678 994.7h22.6v19.3h-22.6z"/>
<path fill="#2e1828" d="M1610.4 145.5h22.6v19.3h-22.6zM1632.9 145.5h22.6v19.3h-22.6zM1678 145.5h22.6v19.3h-22.6zM1820.8 164.8h22.6v19.3h-22.6zM1798.2 203.4h22.6v19.3h-22.6zM1820.8 203.4h22.6v19.3h-22.6zM1843.3 203.4h22.6v19.3h-22.6zM1865.9 203.4h22.6v19.3h-22.6zM1888.4 203.4h22.6v19.3h-22.6zM1911 203.4h22.6v19.3h-22.6zM1933.6 203.4h22.6v19.3h-22.6zM1956.1 203.4h22.6v19.3h-22.6zM1978.7 203.4h22.6v19.3h-22.6zM2001.2 203.4h22.6v19.3h-22.6zM2023.8 203.4h22.6v19.3h-22.6zM1632.9 222.7h22.6v19.3h-22.6zM1798.2 242h22.6v19.3h-22.6zM1820.8 242h22.6v19.3h-22.6zM1843.3 242h22.6v19.3h-22.6zM1865.9 242h22.6v19.3h-22.6zM1888.4 242h22.6v19.3h-22.6zM1911 242h22.6v19.3h-22.6zM1933.6 242h22.6v19.3h-22.6zM1956.1 242h22.6v19.3h-22.6zM1978.7 242h22.6v19.3h-22.6zM2001.2 242h22.6v19.3h-22.6zM2023.8 242h22.6v19.3h-22.6zM1610.4 280.6h22.6v19.3h-22.6zM1632.9 280.6h22.6v19.3h-22.6zM1678 280.6h22.6v19.3h-22.6zM1768.3 280.6h22.6v19.3h-22.6zM1587.8 299.9h22.6v19.3h-22.6zM1768.3 299.9h22.6v19.3h-22.6zM1798.2 299.9h22.6v19.3h-22.6zM1820.8 299.9h22.6v19.3h-22.6zM1843.3 299.9h22.6v19.3h-22.6zM1865.9 299.9h22.6v19.3h-22.6zM1888.4 299.9h22.6v19.3h-22.6zM1911 299.9h22.6v19.3h-22.6zM1933.6 299.9h22.6v19.3h-22.6zM1956.1 299.9h22.6v19.3h-22.6zM1978.7 299.9h22.6v19.3h-22.6zM2001.2 299.9h22.6v19.3h-22.6zM2023.8 299.9h22.6v19.3h-22.6zM1587.8 319.2h22.6v19.3h-22.6zM1768.3 492.9h22.6v19.3h-22.6zM1678 608.7h22.6v19.3h-22.6zM1587.8 666.6h22.6v19.3h-22.6zM1610.4 666.6h22.6v19.3h-22.6zM1632.9 666.6h22.6v19.3h-22.6zM1655.5 666.6h22.6v19.3h-22.6zM1700.6 666.6h22.6v19.3h-22.6zM1798.2 666.6h22.6v19.3h-22.6zM1820.8 666.6h22.6v19.3h-22.6zM1843.3 666.6h22.6v19.3h-22.6zM1865.9 666.6h22.6v19.3h-22.6zM1888.4 666.6h22.6v19.3h-22.6zM1911 666.6h22.6v19.3h-22.6zM1933.6 666.6h22.6v19.3h-22.6zM1956.1 666.6h22.6v19.3h-22.6zM1978.7 666.6h22.6v19.3h-22.6zM2001.2 666.6h22.6v19.3h-22.6zM2023.8 666.6h22.6v19.3h-22.6zM1632.9 685.9h22.6v19.3h-22.6zM1745.7 685.9h22.6v19.3h-22.6zM1745.7 743.8h22.6v19.3h-22.6zM1678 763.1h22.6v19.3h-22.6zM1798.2 782.4h22.6v19.3h-22.6zM2046.4 782.4h22.6v19.3h-22.6zM1798.2 801.7h22.6v19.3h-22.6zM1768.3 821h22.6v19.3h-22.6zM1768.3 975.4h22.6v19.3h-22.6zM2001.2 994.7h22.6v19.3h-22.6zM1587.8 1033.3h22.6v19.3h-22.6zM1723.2 1033.3h22.6v19.3h-22.6z"/>
<path fill="#d4c804" d="M1700.6 145.5h22.6v19.3h-22.6zM1700.6 338.5h22.6v19.3h-22.6zM1768.3 357.8h22.6v19.3h-22.6zM1678 454.3h22.6v19.3h-22.6zM1678 550.8h22.6v19.3h-22.6zM1843.3 685.9h22.6v19.3h-22.6zM1798.2 936.8h22.6v19.3h-22.6zM2023.8 956.1h22.6v19.3h-22.6z"/>
<path fill="#817c22" d="M1632.9 164.8h22.6v19.3h-22.6zM1610.4 203.4h22.6v19.3h-22.6zM1587.8 338.5h22.6v19.3h-22.6zM1768.3 454.3h22.6v19.3h-22.6zM1610.4 512.2h22.6v19.3h-22.6zM1587.8 647.3h22.6v19.3h-22.6zM2023.8 685.9h22.6v19.3h-22.6zM2001.2 724.5h22.6v19.3h-22.6zM2001.2 743.8h22.6v19.3h-22.6zM1700.6 840.3h22.6v19.3h-22.6zM1798.2 898.2h22.6v19.3h-22.6zM1956.1 917.5h22.6v19.3h-22.6z"/>
<path fill="#421a3f" d="M1723.2 164.8h22.6v19.3h-22.6zM1798.2 164.8h22.6v19.3h-22.6zM1843.3 164.8h22.6v19.3h-22.6zM1865.9 164.8h22.6v19.3h-22.6zM1888.4 164.8h22.6v19.3h-22.6zM1911 164.8h22.6v19.3h-22.6zM1933.6 164.8h22.6v19.3h-22.6zM1956.1 164.8h22.6v19.3h-22.6zM1978.7 164.8h22.6v19.3h-22.6zM2001.2 164.8h22.6v19.3h-22.6zM2023.8 164.8h22.6v19.3h-22.6zM1933.6 222.7h22.6v19.3h-22.6zM1843.3 261.3h22.6v19.3h-22.6zM1865.9 261.3h22.6v19.3h-22.6zM1978.7 319.2h22.6v19.3h-22.6zM1700.6 357.8h22.6v19.3h-22.6zM1956.1 377.1h22.6v19.3h-22.6zM1933.6 415.7h22.6v19.3h-22.6zM1700.6 550.8h22.6v19.3h-22.6zM1798.2 550.8h22.6v19.3h-22.6zM1820.8 550.8h22.6v19.3h-22.6zM1843.3 550.8h22.6v19.3h-22.6zM1865.9 550.8h22.6v19.3h-22.6zM1911 550.8h22.6v19.3h-22.6zM1933.6 550.8h22.6v19.3h-22.6zM1956.1 550.8h22.6v19.3h-22.6zM1978.7 550.8h22.6v19.3h-22.6zM2023.8 550.8h22.6v19.3h-22.6zM2046.4 550.8h22.6v19.3h-22.6zM1610.4 608.7h22.6v19.3h-22.6zM1632.9 608.7h22.6v19.3h-22.6zM1655.5 608.7h22.6v19.3h-22.6zM1798.2 608.7h22.6v19.3h-22.6zM1820.8 608.7h22.6v19.3h-22.6zM1865.9 608.7h22.6v19.3h-22.6zM1888.4 608.7h22.6v19.3h-22.6zM1911 608.7h22.6v19.3h-22.6zM1933.6 608.7h22.6v19.3h-22.6zM1978.7 608.7h22.6v19.3h-22.6zM2001.2 608.7h22.6v19.3h-22.6zM2023.8 608.7h22.6v19.3h-22.6zM1768.3 628h22.6v19.3h-22.6zM1768.3 647.3h22.6v19.3h-22.6zM1700.6 705.2h22.6v19.3h-22.6zM1911 724.5h22.6v19.3h-22.6zM1723.2 859.6h22.6v19.3h-22.6zM2023.8 975.4h22.6v19.3h-22.6z"/>
<path fill="#3c3a18" d="M1745.7 164.8h22.6v19.3h-22.6zM1745.7 242h22.6v19.3h-22.6zM1745.7 319.2h22.6v19.3h-22.6zM2046.4 338.5h22.6v19.3h-22.6zM1610.4 396.4h22.6v19.3h-22.6zM1655.5 396.4h22.6v19.3h-22.6zM2023.8 647.3h22.6v19.3h-22.6zM2001.2 705.2h22.6v19.3h-22.6zM2023.8 724.5h22.6v19.3h-22.6zM1843.3 763.1h22.6v19.3h-22.6zM1700.6 782.4h22.6v19.3h-22.6zM1723.2 782.4h22.6v19.3h-22.6zM1888.4 801.7h22.6v19.3h-22.6zM2023.8 821h22.6v19.3h-22.6zM1933.6 878.9h22.6v19.3h-22.6zM1700.6 956.1h22.6v19.3h-22.6zM1865.9 956.1h22.6v19.3h-22.6zM1700.6 994.7h22.6v19.3h-22.6z"/>
<path fill="#2c2a14" d="M1768.3 184.1h22.6v19.3h-22.6zM1587.8 222.7h22.6v19.3h-22.6zM1610.4 222.7h22.6v19.3h-22.6zM1745.7 280.6h22.6v19.3h-22.6zM1723.2 299.9h22.6v19.3h-22.6zM1820.8 319.2h22.6v19.3h-22.6zM1911 319.2h22.6v19.3h-22.6zM1587.8 377.1h22.6v19.3h-22.6zM1745.7 377.1h22.6v19.3h-22.6zM1678 396.4h22.6v19.3h-22.6zM1745.7 415.7h22.6v19.3h-22.6zM1745.7 435h22.6v19.3h-22.6zM1745.7 531.5h22.6v19.3h-22.6zM1933.6 531.5h22.6v19.3h-22.6zM1587.8 550.8h22.6v19.3h-22.6zM1745.7 550.8h22.6v19.3h-22.6zM1843.3 589.4h22.6v19.3h-22.6zM1610.4 647.3h22.6v19.3h-22.6zM2046.4 666.6h22.6v19.3h-22.6zM1610.4 685.9h22.6v19.3h-22.6zM2046.4 685.9h22.6v19.3h-22.6zM1745.7 705.2h22.6v19.3h-22.6zM1843.3 782.4h22.6v19.3h-22.6zM1820.8 801.7h22.6v19.3h-22.6zM1610.4 821h22.6v19.3h-22.6zM1745.7 821h22.6v19.3h-22.6zM2001.2 821h22.6v19.3h-22.6zM1587.8 859.6h22.6v19.3h-22.6zM2046.4 878.9h22.6v19.3h-22.6zM1820.8 917.5h22.6v19.3h-22.6zM1865.9 917.5h22.6v19.3h-22.6zM1700.6 936.8h22.6v19.3h-22.6zM1820.8 936.8h22.6v19.3h-22.6zM2001.2 1033.3h22.6v19.3h-22.6z"/>
<path fill="#a09a1e" d="M1745.7 203.4h22.6v19.3h-22.6zM1632.9 319.2h22.6v19.3h-22.6zM1587.8 512.2h22.6v19.3h-22.6zM1678 512.2h22.6v19.3h-22.6zM1632.9 647.3h22.6v19.3h-22.6zM1745.7 647.3h22.6v19.3h-22.6zM1956.1 782.4h22.6v19.3h-22.6zM1798.2 859.6h22.6v19.3h-22.6zM2001.2 936.8h22.6v19.3h-22.6zM1956.1 994.7h22.6v19.3h-22.6zM1978.7 994.7h22.6v19.3h-22.6z"/>
<path fill="#efe001" d="M1655.5 222.7h22.6v19.3h-22.6zM1655.5 357.8h22.6v19.3h-22.6zM1655.5 377.1h22.6v19.3h-22.6zM1655.5 492.9h22.6v19.3h-22.6z"/>
<path fill="#343216" d="M1745.7 222.7h22.6v19.3h-22.6zM1587.8 357.8h22.6v19.3h-22.6zM1610.4 415.7h22.6v19.3h-22.6zM1632.9 435h22.6v19.3h-22.6zM1632.9 512.2h22.6v19.3h-22.6zM1700.6 608.7h22.6v19.3h-22.6zM1768.3 608.7h22.6v19.3h-22.6zM2046.4 608.7h22.6v19.3h-22.6zM1820.8 685.9h22.6v19.3h-22.6zM1865.9 724.5h22.6v19.3h-22.6zM1610.4 763.1h22.6v19.3h-22.6zM1655.5 763.1h22.6v19.3h-22.6zM1820.8 763.1h22.6v19.3h-22.6zM1610.4 782.4h22.6v19.3h-22.6zM1911 821h22.6v19.3h-22.6zM2001.2 917.5h22.6v19.3h-22.6zM1798.2 994.7h22.6v19.3h-22.6zM1587.8 1014h22.6v19.3h-22.6zM1655.5 1014h22.6v19.3h-22.6zM1798.2 1014h22.6v19.3h-22.6zM1933.6 1033.3h22.6v19.3h-22.6z"/>
<path fill="#491b46" d="M1798.2 222.7h22.6v19.3h-22.6zM1820.8 222.7h22.6v19.3h-22.6zM1843.3 222.7h22.6v19.3h-22.6zM1865.9 222.7h22.6v19.3h-22.6zM1888.4 222.7h22.6v19.3h-22.6zM1956.1 222.7h22.6v19.3h-22.6zM1978.7 222.7h22.6v19.3h-22.6zM2001.2 222.7h22.6v19.3h-22.6zM2023.8 222.7h22.6v19.3h-22.6zM1820.8 357.8h22.6v19.3h-22.6zM1865.9 357.8h22.6v19.3h-22.6zM1888.4 357.8h22.6v19.3h-22.6zM1911 357.8h22.6v19.3h-22.6zM1933.6 357.8h22.6v19.3h-22.6zM1956.1 357.8h22.6v19.3h-22.6zM1978.7 357.8h22.6v19.3h-22.6zM2001.2 357.8h22.6v19.3h-22.6zM2023.8 357.8h22.6v19.3h-22.6zM1798.2 396.4h22.6v19.3h-22.6zM1820.8 396.4h22.6v19.3h-22.6zM1865.9 396.4h22.6v19.3h-22.6zM1888.4 396.4h22.6v19.3h-22.6zM1911 396.4h22.6v19.3h-22.6zM1933.6 396.4h22.6v19.3h-22.6zM1956.1 396.4h22.6v19.3h-22.6zM1978.7 396.4h22.6v19.3h-22.6zM2023.8 396.4h22.6v19.3h-22.6zM1655.5 415.7h22.6v19.3h-22.6zM1723.2 415.7h22.6v19.3h-22.6zM2046.4 415.7h22.6v19.3h-22.6zM1745.7 492.9h22.6v19.3h-22.6zM1723.2 589.4h22.6v19.3h-22.6zM1700.6 647.3h22.6v19.3h-22.6zM1587.8 705.2h22.6v19.3h-22.6zM2023.8 801.7h22.6v19.3h-22.6zM1768.3 898.2h22.6v19.3h-22.6zM1587.8 956.1h22.6v19.3h-22.6zM1610.4 956.1h22.6v19.3h-22.6zM1632.9 956.1h22.6v19.3h-22.6zM1655.5 956.1h22.6v19.3h-22.6zM1678 956.1h22.6v19.3h-22.6zM1723.2 956.1h22.6v19.3h-22.6zM1745.7 956.1h22.6v19.3h-22.6zM1768.3 956.1h22.6v19.3h-22.6zM1798.2 956.1h22.6v19.3h-22.6zM1888.4 956.1h22.6v19.3h-22.6zM1911 956.1h22.6v19.3h-22.6zM1956.1 956.1h22.6v19.3h-22.6zM2046.4 956.1h22.6v19.3h-22.6zM1768.3 994.7h22.6v19.3h-22.6z"/>
<path fill="#1e1418" d="M1610.4 242h22.6v19.3h-22.6zM2046.4 242h22.6v19.3h-22.6zM1700.6 299.9h22.6v19.3h-22.6zM1768.3 570.1h22.6v19.3h-22.6zM2046.4 570.1h22.6v19.3h-22.6zM1820.8 647.3h22.6v19.3h-22.6zM2001.2 647.3h22.6v19.3h-22.6zM1745.7 666.6h22.6v19.3h-22.6zM1911 743.8h22.6v19.3h-22.6zM1700.6 821h22.6v19.3h-22.6zM1745.7 840.3h22.6v19.3h-22.6zM1745.7 994.7h22.6v19.3h-22.6z"/>
<path fill="#b5ac14" d="M1632.9 242h22.6v19.3h-22.6zM1610.4 531.5h22.6v19.3h-22.6zM1978.7 782.4h22.6v19.3h-22.6zM1956.1 1014h22.6v19.3h-22.6z"/>
<path fill="#46431a" d="M1587.8 261.3h22.6v19.3h-22.6zM1745.7 261.3h22.6v19.3h-22.6zM1723.2 319.2h22.6v19.3h-22.6zM1678 357.8h22.6v19.3h-22.6zM1678 377.1h22.6v19.3h-22.6zM1587.8 396.4h22.6v19.3h-22.6zM1587.8 415.7h22.6v19.3h-22.6zM1610.4 435h22.6v19.3h-22.6zM1678 628h22.6v19.3h-22.6zM1798.2 628h22.6v19.3h-22.6zM1768.3 666.6h22.6v19.3h-22.6zM1888.4 685.9h22.6v19.3h-22.6zM1678 705.2h22.6v19.3h-22.6zM1798.2 743.8h22.6v19.3h-22.6zM2046.4 743.8h22.6v19.3h-22.6zM1865.9 782.4h22.6v19.3h-22.6zM1956.1 801.7h22.6v19.3h-22.6zM2001.2 801.7h22.6v19.3h-22.6zM1978.7 840.3h22.6v19.3h-22.6zM1865.9 936.8h22.6v19.3h-22.6zM1888.4 936.8h22.6v19.3h-22.6zM1911 936.8h22.6v19.3h-22.6zM1888.4 1033.3h22.6v19.3h-22.6zM1978.7 1033.3h22.6v19.3h-22.6zM2023.8 1033.3h22.6v19.3h-22.6z"/>
<path fill="#611c5c" d="M1610.4 261.3h22.6v19.3h-22.6zM1888.4 261.3h22.6v19.3h-22.6zM1723.2 377.1h22.6v19.3h-22.6zM1843.3 377.1h22.6v19.3h-22.6zM1911 377.1h22.6v19.3h-22.6zM1978.7 377.1h22.6v19.3h-22.6zM2001.2 377.1h22.6v19.3h-22.6zM2023.8 377.1h22.6v19.3h-22.6zM1820.8 628h22.6v19.3h-22.6zM1843.3 628h22.6v19.3h-22.6zM1888.4 628h22.6v19.3h-22.6zM1911 628h22.6v19.3h-22.6zM1956.1 628h22.6v19.3h-22.6zM1978.7 628h22.6v19.3h-22.6zM1610.4 743.8h22.6v19.3h-22.6zM1632.9 743.8h22.6v19.3h-22.6zM1700.6 743.8h22.6v19.3h-22.6zM1723.2 743.8h22.6v19.3h-22.6zM1768.3 743.8h22.6v19.3h-22.6zM1888.4 743.8h22.6v19.3h-22.6zM1956.1 743.8h22.6v19.3h-22.6zM1723.2 821h22.6v19.3h-22.6zM1587.8 840.3h22.6v19.3h-22.6zM1610.4 840.3h22.6v19.3h-22.6zM1632.9 840.3h22.6v19.3h-22.6zM1655.5 840.3h22.6v19.3h-22.6zM1678 840.3h22.6v19.3h-22.6zM1723.2 840.3h22.6v19.3h-22.6zM1768.3 840.3h22.6v19.3h-22.6zM2001.2 840.3h22.6v19.3h-22.6zM2023.8 840.3h22.6v19.3h-22.6zM2046.4 840.3h22.6v19.3h-22.6zM1632.9 898.2h22.6v19.3h-22.6zM1655.5 898.2h22.6v19.3h-22.6zM1678 898.2h22.6v19.3h-22.6zM1700.6 898.2h22.6v19.3h-22.6zM1723.2 898.2h22.6v19.3h-22.6zM1865.9 898.2h22.6v19.3h-22.6zM1978.7 898.2h22.6v19.3h-22.6zM2046.4 898.2h22.6v19.3h-22.6zM1587.8 936.8h22.6v19.3h-22.6zM1632.9 936.8h22.6v19.3h-22.6zM1655.5 936.8h22.6v19.3h-22.6zM1678 936.8h22.6v19.3h-22.6zM1723.2 936.8h22.6v19.3h-22.6zM1933.6 936.8h22.6v19.3h-22.6zM1632.9 1014h22.6v19.3h-22.6zM1768.3 1014h22.6v19.3h-22.6zM2023.8 1014h22.6v19.3h-22.6zM2046.4 1014h22.6v19.3h-22.6zM2046.4 1033.3h22.6v19.3h-22.6z"/>
<path fill="#1c1a10" d="M1678 261.3h22.6v19.3h-22.6zM1798.2 261.3h22.6v19.3h-22.6zM1655.5 280.6h22.6v19.3h-22.6zM1768.3 319.2h22.6v19.3h-22.6zM1865.9 473.6h22.6v19.3h-22.6zM1745.7 512.2h22.6v19.3h-22.6zM1978.7 512.2h22.6v19.3h-22.6zM1700.6 685.9h22.6v19.3h-22.6zM1768.3 705.2h22.6v19.3h-22.6zM1798.2 705.2h22.6v19.3h-22.6zM1933.6 801.7h22.6v19.3h-22.6zM1632.9 975.4h22.6v19.3h-22.6zM1587.8 994.7h22.6v19.3h-22.6zM1678 1014h22.6v19.3h-22.6zM1678 1033.3h22.6v19.3h-22.6zM1865.9 1033.3h22.6v19.3h-22.6z"/>
<path fill="#cabf09" d="M1723.2 261.3h22.6v19.3h-22.6zM1723.2 685.9h22.6v19.3h-22.6z"/>
<path fill="#691c62" d="M1933.6 261.3h22.6v19.3h-22.6zM1956.1 261.3h22.6v19.3h-22.6zM1978.7 261.3h22.6v19.3h-22.6zM2001.2 261.3h22.6v19.3h-22.6zM1587.8 782.4h22.6v19.3h-22.6zM1678 782.4h22.6v19.3h-22.6zM2023.8 782.4h22.6v19.3h-22.6zM2046.4 859.6h22.6v19.3h-22.6zM1587.8 975.4h22.6v19.3h-22.6zM1610.4 975.4h22.6v19.3h-22.6zM1610.4 994.7h22.6v19.3h-22.6zM1700.6 1014h22.6v19.3h-22.6zM1723.2 1014h22.6v19.3h-22.6zM1745.7 1014h22.6v19.3h-22.6z"/>
<path fill="#581c55" d="M2023.8 261.3h22.6v19.3h-22.6zM1587.8 628h22.6v19.3h-22.6zM2001.2 628h22.6v19.3h-22.6zM1956.1 724.5h22.6v19.3h-22.6zM1978.7 724.5h22.6v19.3h-22.6zM1678 917.5h22.6v19.3h-22.6zM2046.4 936.8h22.6v19.3h-22.6zM1933.6 994.7h22.6v19.3h-22.6z"/>
<path fill="#8c217c" d="M1798.2 319.2h22.6v19.3h-22.6zM1865.9 319.2h22.6v19.3h-22.6zM1888.4 319.2h22.6v19.3h-22.6zM1956.1 319.2h22.6v19.3h-22.6zM1587.8 801.7h22.6v19.3h-22.6zM1655.5 801.7h22.6v19.3h-22.6zM1768.3 801.7h22.6v19.3h-22.6zM1978.7 801.7h22.6v19.3h-22.6z"/>
<path fill="#721c69" d="M2001.2 319.2h22.6v19.3h-22.6zM1632.9 782.4h22.6v19.3h-22.6zM1768.3 782.4h22.6v19.3h-22.6zM1678 801.7h22.6v19.3h-22.6zM1632.9 859.6h22.6v19.3h-22.6zM1723.2 917.5h22.6v19.3h-22.6zM1798.2 917.5h22.6v19.3h-22.6zM1655.5 975.4h22.6v19.3h-22.6zM1700.6 975.4h22.6v19.3h-22.6zM1888.4 975.4h22.6v19.3h-22.6zM1956.1 975.4h22.6v19.3h-22.6z"/>
<path fill="#831e76" d="M2046.4 319.2h22.6v19.3h-22.6z"/>
<path fill="#767223" d="M1632.9 338.5h22.6v19.3h-22.6zM1610.4 492.9h22.6v19.3h-22.6zM2001.2 512.2h22.6v19.3h-22.6zM1632.9 550.8h22.6v19.3h-22.6zM2001.2 550.8h22.6v19.3h-22.6zM1745.7 570.1h22.6v19.3h-22.6zM1745.7 608.7h22.6v19.3h-22.6zM1723.2 801.7h22.6v19.3h-22.6zM1843.3 801.7h22.6v19.3h-22.6zM2046.4 801.7h22.6v19.3h-22.6zM1978.7 821h22.6v19.3h-22.6zM1820.8 859.6h22.6v19.3h-22.6zM1978.7 859.6h22.6v19.3h-22.6zM1843.3 1014h22.6v19.3h-22.6z"/>
<path fill="#191313" d="M1798.2 357.8h22.6v19.3h-22.6zM1745.7 473.6h22.6v19.3h-22.6zM1843.3 608.7h22.6v19.3h-22.6zM1745.7 782.4h22.6v19.3h-22.6zM2023.8 917.5h22.6v19.3h-22.6z"/>
<path fill="#96901f" d="M1587.8 608.7h22.6v19.3h-22.6zM2023.8 705.2h22.6v19.3h-22.6zM1956.1 840.3h22.6v19.3h-22.6zM1888.4 859.6h22.6v19.3h-22.6zM1911 859.6h22.6v19.3h-22.6zM1956.1 859.6h22.6v19.3h-22.6zM1820.8 1014h22.6v19.3h-22.6zM1798.2 1033.3h22.6v19.3h-22.6z"/>
<path fill="#9f2688" d="M1587.8 685.9h22.6v19.3h-22.6zM1655.5 685.9h22.6v19.3h-22.6zM1655.5 705.2h22.6v19.3h-22.6zM1723.2 705.2h22.6v19.3h-22.6zM1632.9 821h22.6v19.3h-22.6zM1655.5 821h22.6v19.3h-22.6zM1843.3 821h22.6v19.3h-22.6zM1610.4 859.6h22.6v19.3h-22.6zM1655.5 859.6h22.6v19.3h-22.6zM1655.5 917.5h22.6v19.3h-22.6zM2046.4 917.5h22.6v19.3h-22.6zM1655.5 994.7h22.6v19.3h-22.6zM1723.2 994.7h22.6v19.3h-22.6zM2046.4 994.7h22.6v19.3h-22.6z"/>
<path fill="#962382" d="M1768.3 685.9h22.6v19.3h-22.6zM1933.6 705.2h22.6v19.3h-22.6zM1700.6 801.7h22.6v19.3h-22.6z"/>
<path fill="#7a1c70" d="M1978.7 705.2h22.6v19.3h-22.6zM1655.5 782.4h22.6v19.3h-22.6zM2046.4 821h22.6v19.3h-22.6zM1745.7 859.6h22.6v19.3h-22.6z"/>
<path fill="#b23792" d="M1723.2 763.1h22.6v19.3h-22.6zM2046.4 763.1h22.6v19.3h-22.6zM1610.4 1033.3h22.6v19.3h-22.6zM1632.9 1033.3h22.6v19.3h-22.6zM1655.5 1033.3h22.6v19.3h-22.6zM1745.7 1033.3h22.6v19.3h-22.6z"/>
<path fill="#bfb60e" d="M1911 917.5h22.6v19.3h-22.6z"/>
</g>
<defs><linearGradient id="gf" x1="0" y1="0" x2="0" y2="1">
<stop offset="0%" stop-color="#f6e600"/>
<stop offset="5%" stop-color="#e5d702"/>
<stop offset="10%" stop-color="#d4c804"/>
<stop offset="15%" stop-color="#bab111"/>
<stop offset="20%" stop-color="#a09a1e"/>
<stop offset="25%" stop-color="#868121"/>
<stop offset="30%" stop-color="#6c6824"/>
<stop offset="35%" stop-color="#54511e"/>
<stop offset="40%" stop-color="#3c3a18"/>
<stop offset="45%" stop-color="#282613"/>
<stop offset="50%" stop-color="#14120e"/>
<stop offset="55%" stop-color="#21151b"/>
<stop offset="60%" stop-color="#2e1828"/>
<stop offset="65%" stop-color="#3f1a3b"/>
<stop offset="70%" stop-color="#501c4e"/>
<stop offset="75%" stop-color="#651c5f"/>
<stop offset="80%" stop-color="#7a1c70"/>
<stop offset="85%" stop-color="#91227f"/>
<stop offset="90%" stop-color="#a8288e"/>
<stop offset="95%" stop-color="#b43b93"/>
<stop offset="100%" stop-color="#c04e98"/>
</linearGradient></defs>
<rect x="2078" y="87.9" width="29.2" height="182.5" fill="url(#gf)"/>
<path d="M2078,105.8 h5.5 M2101.7,105.8 h5.5" stroke="#fff" stroke-width="1.3" stroke-opacity="0.8"/>
<text x="2117.5" y="112.8" font-size="19.5">2</text>
<path d="M2078,142.7 h5.5 M2101.7,142.7 h5.5" stroke="#fff" stroke-width="1.3" stroke-opacity="0.8"/>
<text x="2117.5" y="149.7" font-size="19.5">1</text>
<path d="M2078,178.7 h5.5 M2101.7,178.7 h5.5" stroke="#fff" stroke-width="1.3" stroke-opacity="0.8"/>
<text x="2117.5" y="185.7" font-size="19.5">0</text>
<path d="M2078,215 h5.5 M2101.7,215 h5.5" stroke="#fff" stroke-width="1.3" stroke-opacity="0.8"/>
<text x="2111.5" y="222" font-size="19.5">−1</text>
<path d="M2078,251.9 h5.5 M2101.7,251.9 h5.5" stroke="#fff" stroke-width="1.3" stroke-opacity="0.8"/>
<text x="2111.5" y="258.9" font-size="19.5">−2</text>
<text x="2074" y="77" font-size="20.5">Exp.</text>
</g>
</svg></body></html>
